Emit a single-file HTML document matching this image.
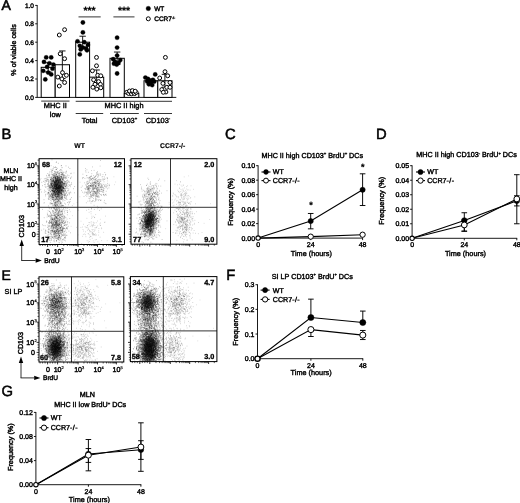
<!DOCTYPE html>
<html><head><meta charset="utf-8"><title>Figure</title>
<style>html,body{margin:0;padding:0;background:#fff}svg{display:block;filter:blur(0.35px)}text{text-rendering:geometricPrecision;font-family:'Liberation Sans', Arial, sans-serif;fill:#000}</style></head>
<body><svg width="520" height="503" viewBox="0 0 520 503">
<rect width="520" height="503" fill="#fff"/>
<text x="1.4" y="10.3" font-size="14" text-anchor="start" font-weight="normal" stroke="#000" stroke-width="0.6">A</text>
<line x1="37.2" y1="5.0" x2="37.2" y2="97.80000000000001" stroke="#000" stroke-width="0.9" stroke-linecap="butt"/>
<line x1="37.2" y1="97.4" x2="176.3" y2="97.4" stroke="#000" stroke-width="0.9" stroke-linecap="butt"/>
<line x1="35.2" y1="97.4" x2="37.2" y2="97.4" stroke="#000" stroke-width="0.9" stroke-linecap="butt"/>
<text x="34.0" y="99.7" font-size="6.5" text-anchor="end" font-weight="normal" stroke="#000" stroke-width="0.4">0.0</text>
<line x1="35.2" y1="79.0" x2="37.2" y2="79.0" stroke="#000" stroke-width="0.9" stroke-linecap="butt"/>
<text x="34.0" y="81.3" font-size="6.5" text-anchor="end" font-weight="normal" stroke="#000" stroke-width="0.4">0.2</text>
<line x1="35.2" y1="60.6" x2="37.2" y2="60.6" stroke="#000" stroke-width="0.9" stroke-linecap="butt"/>
<text x="34.0" y="62.9" font-size="6.5" text-anchor="end" font-weight="normal" stroke="#000" stroke-width="0.4">0.4</text>
<line x1="35.2" y1="42.20000000000001" x2="37.2" y2="42.20000000000001" stroke="#000" stroke-width="0.9" stroke-linecap="butt"/>
<text x="34.0" y="44.50000000000001" font-size="6.5" text-anchor="end" font-weight="normal" stroke="#000" stroke-width="0.4">0.6</text>
<line x1="35.2" y1="23.799999999999997" x2="37.2" y2="23.799999999999997" stroke="#000" stroke-width="0.9" stroke-linecap="butt"/>
<text x="34.0" y="26.099999999999998" font-size="6.5" text-anchor="end" font-weight="normal" stroke="#000" stroke-width="0.4">0.8</text>
<line x1="35.2" y1="5.400000000000006" x2="37.2" y2="5.400000000000006" stroke="#000" stroke-width="0.9" stroke-linecap="butt"/>
<text x="34.0" y="7.7000000000000055" font-size="6.5" text-anchor="end" font-weight="normal" stroke="#000" stroke-width="0.4">1.0</text>
<text x="15.9" y="50" font-size="7.2" text-anchor="middle" font-weight="normal" stroke="#000" stroke-width="0.4" transform="rotate(-90 15.9 50)">% of viable cells</text>
<rect x="41.2" y="67.32" width="14.0" height="30.08" fill="#fff" stroke="#000" stroke-width="1"/>
<line x1="48.2" y1="62.71600000000001" x2="48.2" y2="71.916" stroke="#000" stroke-width="0.9" stroke-linecap="butt"/>
<line x1="45.0" y1="62.71600000000001" x2="51.400000000000006" y2="62.71600000000001" stroke="#000" stroke-width="0.9" stroke-linecap="butt"/>
<line x1="45.0" y1="71.916" x2="51.400000000000006" y2="71.916" stroke="#000" stroke-width="0.9" stroke-linecap="butt"/>
<circle cx="46.20" cy="57.40" r="2.15" fill="#000" stroke="#000" stroke-width="0.3"/>
<circle cx="51.20" cy="57.40" r="2.15" fill="#000" stroke="#000" stroke-width="0.3"/>
<circle cx="44.00" cy="61.90" r="2.15" fill="#000" stroke="#000" stroke-width="0.3"/>
<circle cx="49.40" cy="63.30" r="2.15" fill="#000" stroke="#000" stroke-width="0.3"/>
<circle cx="53.40" cy="64.60" r="2.15" fill="#000" stroke="#000" stroke-width="0.3"/>
<circle cx="47.10" cy="66.90" r="2.15" fill="#000" stroke="#000" stroke-width="0.3"/>
<circle cx="52.50" cy="68.70" r="2.15" fill="#000" stroke="#000" stroke-width="0.3"/>
<circle cx="43.20" cy="70.80" r="2.15" fill="#000" stroke="#000" stroke-width="0.3"/>
<circle cx="48.20" cy="72.60" r="2.15" fill="#000" stroke="#000" stroke-width="0.3"/>
<circle cx="51.20" cy="74.40" r="2.15" fill="#000" stroke="#000" stroke-width="0.3"/>
<circle cx="45.30" cy="79.40" r="2.15" fill="#000" stroke="#000" stroke-width="0.3"/>
<rect x="55.2" y="64.74" width="14.299999999999997" height="32.66" fill="#fff" stroke="#000" stroke-width="1"/>
<line x1="62.35" y1="50.940000000000005" x2="62.35" y2="78.54" stroke="#000" stroke-width="0.9" stroke-linecap="butt"/>
<line x1="59.15" y1="50.940000000000005" x2="65.55" y2="50.940000000000005" stroke="#000" stroke-width="0.9" stroke-linecap="butt"/>
<line x1="59.15" y1="78.54" x2="65.55" y2="78.54" stroke="#000" stroke-width="0.9" stroke-linecap="butt"/>
<circle cx="64.60" cy="29.70" r="1.95" fill="#fff" stroke="#000" stroke-width="1.0"/>
<circle cx="59.30" cy="35.00" r="1.95" fill="#fff" stroke="#000" stroke-width="1.0"/>
<circle cx="60.20" cy="53.80" r="1.95" fill="#fff" stroke="#000" stroke-width="1.0"/>
<circle cx="64.60" cy="58.70" r="1.95" fill="#fff" stroke="#000" stroke-width="1.0"/>
<circle cx="62.50" cy="72.60" r="1.95" fill="#fff" stroke="#000" stroke-width="1.0"/>
<circle cx="66.40" cy="75.30" r="1.95" fill="#fff" stroke="#000" stroke-width="1.0"/>
<circle cx="57.80" cy="77.10" r="1.95" fill="#fff" stroke="#000" stroke-width="1.0"/>
<circle cx="61.90" cy="78.90" r="1.95" fill="#fff" stroke="#000" stroke-width="1.0"/>
<circle cx="64.60" cy="82.50" r="1.95" fill="#fff" stroke="#000" stroke-width="1.0"/>
<circle cx="59.30" cy="86.00" r="1.95" fill="#fff" stroke="#000" stroke-width="1.0"/>
<rect x="75.7" y="42.20" width="13.899999999999991" height="55.20" fill="#fff" stroke="#000" stroke-width="1"/>
<line x1="82.65" y1="36.22" x2="82.65" y2="48.180000000000014" stroke="#000" stroke-width="0.9" stroke-linecap="butt"/>
<line x1="79.45" y1="36.22" x2="85.85000000000001" y2="36.22" stroke="#000" stroke-width="0.9" stroke-linecap="butt"/>
<line x1="79.45" y1="48.180000000000014" x2="85.85000000000001" y2="48.180000000000014" stroke="#000" stroke-width="0.9" stroke-linecap="butt"/>
<circle cx="82.90" cy="22.50" r="2.15" fill="#000" stroke="#000" stroke-width="0.3"/>
<circle cx="82.90" cy="32.40" r="2.15" fill="#000" stroke="#000" stroke-width="0.3"/>
<circle cx="77.50" cy="41.30" r="2.15" fill="#000" stroke="#000" stroke-width="0.3"/>
<circle cx="84.30" cy="42.20" r="2.15" fill="#000" stroke="#000" stroke-width="0.3"/>
<circle cx="87.90" cy="44.90" r="2.15" fill="#000" stroke="#000" stroke-width="0.3"/>
<circle cx="79.80" cy="45.80" r="2.15" fill="#000" stroke="#000" stroke-width="0.3"/>
<circle cx="82.90" cy="47.60" r="2.15" fill="#000" stroke="#000" stroke-width="0.3"/>
<circle cx="86.10" cy="48.50" r="2.15" fill="#000" stroke="#000" stroke-width="0.3"/>
<circle cx="80.70" cy="49.40" r="2.15" fill="#000" stroke="#000" stroke-width="0.3"/>
<circle cx="87.00" cy="50.30" r="2.15" fill="#000" stroke="#000" stroke-width="0.3"/>
<circle cx="79.80" cy="54.40" r="2.15" fill="#000" stroke="#000" stroke-width="0.3"/>
<rect x="89.6" y="77.16" width="14.100000000000009" height="20.24" fill="#fff" stroke="#000" stroke-width="1"/>
<line x1="96.65" y1="69.98400000000001" x2="96.65" y2="84.336" stroke="#000" stroke-width="0.9" stroke-linecap="butt"/>
<line x1="93.45" y1="69.98400000000001" x2="99.85000000000001" y2="69.98400000000001" stroke="#000" stroke-width="0.9" stroke-linecap="butt"/>
<line x1="93.45" y1="84.336" x2="99.85000000000001" y2="84.336" stroke="#000" stroke-width="0.9" stroke-linecap="butt"/>
<circle cx="96.50" cy="57.40" r="1.95" fill="#fff" stroke="#000" stroke-width="1.0"/>
<circle cx="96.50" cy="65.80" r="1.95" fill="#fff" stroke="#000" stroke-width="1.0"/>
<circle cx="92.40" cy="70.80" r="1.95" fill="#fff" stroke="#000" stroke-width="1.0"/>
<circle cx="97.70" cy="75.30" r="1.95" fill="#fff" stroke="#000" stroke-width="1.0"/>
<circle cx="100.80" cy="75.80" r="1.95" fill="#fff" stroke="#000" stroke-width="1.0"/>
<circle cx="93.60" cy="79.80" r="1.95" fill="#fff" stroke="#000" stroke-width="1.0"/>
<circle cx="98.60" cy="81.60" r="1.95" fill="#fff" stroke="#000" stroke-width="1.0"/>
<circle cx="95.00" cy="84.30" r="1.95" fill="#fff" stroke="#000" stroke-width="1.0"/>
<circle cx="100.40" cy="84.30" r="1.95" fill="#fff" stroke="#000" stroke-width="1.0"/>
<circle cx="92.90" cy="87.30" r="1.95" fill="#fff" stroke="#000" stroke-width="1.0"/>
<circle cx="96.80" cy="89.10" r="1.95" fill="#fff" stroke="#000" stroke-width="1.0"/>
<circle cx="100.80" cy="87.80" r="1.95" fill="#fff" stroke="#000" stroke-width="1.0"/>
<rect x="110" y="58.30" width="14.299999999999997" height="39.10" fill="#fff" stroke="#000" stroke-width="1"/>
<line x1="117.15" y1="52.044000000000004" x2="117.15" y2="64.55600000000001" stroke="#000" stroke-width="0.9" stroke-linecap="butt"/>
<line x1="113.95" y1="52.044000000000004" x2="120.35000000000001" y2="52.044000000000004" stroke="#000" stroke-width="0.9" stroke-linecap="butt"/>
<line x1="113.95" y1="64.55600000000001" x2="120.35000000000001" y2="64.55600000000001" stroke="#000" stroke-width="0.9" stroke-linecap="butt"/>
<circle cx="117.10" cy="37.70" r="2.15" fill="#000" stroke="#000" stroke-width="0.3"/>
<circle cx="117.10" cy="47.60" r="2.15" fill="#000" stroke="#000" stroke-width="0.3"/>
<circle cx="117.10" cy="55.60" r="2.15" fill="#000" stroke="#000" stroke-width="0.3"/>
<circle cx="113.20" cy="59.20" r="2.15" fill="#000" stroke="#000" stroke-width="0.3"/>
<circle cx="120.30" cy="60.10" r="2.15" fill="#000" stroke="#000" stroke-width="0.3"/>
<circle cx="115.00" cy="61.90" r="2.15" fill="#000" stroke="#000" stroke-width="0.3"/>
<circle cx="118.50" cy="62.80" r="2.15" fill="#000" stroke="#000" stroke-width="0.3"/>
<circle cx="116.70" cy="64.60" r="2.15" fill="#000" stroke="#000" stroke-width="0.3"/>
<circle cx="114.00" cy="63.70" r="2.15" fill="#000" stroke="#000" stroke-width="0.3"/>
<circle cx="117.10" cy="73.50" r="2.15" fill="#000" stroke="#000" stroke-width="0.3"/>
<rect x="124.3" y="93.26" width="14.500000000000014" height="4.14" fill="#fff" stroke="#000" stroke-width="1"/>
<line x1="131.55" y1="92.156" x2="131.55" y2="94.364" stroke="#000" stroke-width="0.9" stroke-linecap="butt"/>
<line x1="128.35000000000002" y1="92.156" x2="134.75" y2="92.156" stroke="#000" stroke-width="0.9" stroke-linecap="butt"/>
<line x1="128.35000000000002" y1="94.364" x2="134.75" y2="94.364" stroke="#000" stroke-width="0.9" stroke-linecap="butt"/>
<circle cx="126.80" cy="92.30" r="1.95" fill="#fff" stroke="#000" stroke-width="1.0"/>
<circle cx="128.60" cy="93.50" r="1.95" fill="#fff" stroke="#000" stroke-width="1.0"/>
<circle cx="130.20" cy="91.80" r="1.95" fill="#fff" stroke="#000" stroke-width="1.0"/>
<circle cx="131.50" cy="93.80" r="1.95" fill="#fff" stroke="#000" stroke-width="1.0"/>
<circle cx="133.00" cy="92.00" r="1.95" fill="#fff" stroke="#000" stroke-width="1.0"/>
<circle cx="134.60" cy="93.60" r="1.95" fill="#fff" stroke="#000" stroke-width="1.0"/>
<circle cx="136.20" cy="92.50" r="1.95" fill="#fff" stroke="#000" stroke-width="1.0"/>
<circle cx="129.50" cy="91.00" r="1.95" fill="#fff" stroke="#000" stroke-width="1.0"/>
<circle cx="132.40" cy="90.60" r="1.95" fill="#fff" stroke="#000" stroke-width="1.0"/>
<circle cx="135.20" cy="91.20" r="1.95" fill="#fff" stroke="#000" stroke-width="1.0"/>
<rect x="144" y="80.75" width="13.800000000000011" height="16.65" fill="#fff" stroke="#000" stroke-width="1"/>
<line x1="150.9" y1="79.09200000000001" x2="150.9" y2="82.40400000000001" stroke="#000" stroke-width="0.9" stroke-linecap="butt"/>
<line x1="147.70000000000002" y1="79.09200000000001" x2="154.1" y2="79.09200000000001" stroke="#000" stroke-width="0.9" stroke-linecap="butt"/>
<line x1="147.70000000000002" y1="82.40400000000001" x2="154.1" y2="82.40400000000001" stroke="#000" stroke-width="0.9" stroke-linecap="butt"/>
<circle cx="145.40" cy="77.60" r="2.15" fill="#000" stroke="#000" stroke-width="0.3"/>
<circle cx="155.20" cy="74.40" r="2.15" fill="#000" stroke="#000" stroke-width="0.3"/>
<circle cx="148.00" cy="78.90" r="2.15" fill="#000" stroke="#000" stroke-width="0.3"/>
<circle cx="149.80" cy="80.70" r="2.15" fill="#000" stroke="#000" stroke-width="0.3"/>
<circle cx="152.90" cy="79.80" r="2.15" fill="#000" stroke="#000" stroke-width="0.3"/>
<circle cx="147.20" cy="81.60" r="2.15" fill="#000" stroke="#000" stroke-width="0.3"/>
<circle cx="150.70" cy="82.50" r="2.15" fill="#000" stroke="#000" stroke-width="0.3"/>
<circle cx="154.30" cy="81.60" r="2.15" fill="#000" stroke="#000" stroke-width="0.3"/>
<circle cx="148.90" cy="84.30" r="2.15" fill="#000" stroke="#000" stroke-width="0.3"/>
<circle cx="152.20" cy="85.10" r="2.15" fill="#000" stroke="#000" stroke-width="0.3"/>
<rect x="157.8" y="80.75" width="14.199999999999989" height="16.65" fill="#fff" stroke="#000" stroke-width="1"/>
<line x1="164.9" y1="74.308" x2="164.9" y2="87.188" stroke="#000" stroke-width="0.9" stroke-linecap="butt"/>
<line x1="161.70000000000002" y1="74.308" x2="168.1" y2="74.308" stroke="#000" stroke-width="0.9" stroke-linecap="butt"/>
<line x1="161.70000000000002" y1="87.188" x2="168.1" y2="87.188" stroke="#000" stroke-width="0.9" stroke-linecap="butt"/>
<circle cx="165.40" cy="57.40" r="1.95" fill="#fff" stroke="#000" stroke-width="1.0"/>
<circle cx="165.00" cy="71.70" r="1.95" fill="#fff" stroke="#000" stroke-width="1.0"/>
<circle cx="159.70" cy="78.00" r="1.95" fill="#fff" stroke="#000" stroke-width="1.0"/>
<circle cx="167.70" cy="75.80" r="1.95" fill="#fff" stroke="#000" stroke-width="1.0"/>
<circle cx="170.00" cy="82.50" r="1.95" fill="#fff" stroke="#000" stroke-width="1.0"/>
<circle cx="162.90" cy="83.40" r="1.95" fill="#fff" stroke="#000" stroke-width="1.0"/>
<circle cx="166.80" cy="87.30" r="1.95" fill="#fff" stroke="#000" stroke-width="1.0"/>
<circle cx="170.00" cy="87.30" r="1.95" fill="#fff" stroke="#000" stroke-width="1.0"/>
<circle cx="161.80" cy="89.60" r="1.95" fill="#fff" stroke="#000" stroke-width="1.0"/>
<circle cx="165.90" cy="92.00" r="1.95" fill="#fff" stroke="#000" stroke-width="1.0"/>
<circle cx="163.30" cy="92.30" r="1.95" fill="#fff" stroke="#000" stroke-width="1.0"/>
<line x1="41.2" y1="101.1" x2="69.5" y2="101.1" stroke="#000" stroke-width="0.8" stroke-linecap="butt"/>
<text x="55.3" y="108.4" font-size="7.4" text-anchor="middle" font-weight="normal" stroke="#000" stroke-width="0.4">MHC II</text>
<text x="55.3" y="117.2" font-size="7.4" text-anchor="middle" font-weight="normal" stroke="#000" stroke-width="0.4">low</text>
<line x1="75.7" y1="101.3" x2="172" y2="101.3" stroke="#000" stroke-width="0.8" stroke-linecap="butt"/>
<text x="124" y="108.4" font-size="7.4" text-anchor="middle" font-weight="normal" stroke="#000" stroke-width="0.4">MHC II high</text>
<line x1="75.7" y1="113.5" x2="103.2" y2="113.5" stroke="#000" stroke-width="0.8" stroke-linecap="butt"/>
<text x="89.5" y="122.5" font-size="7.4" text-anchor="middle" font-weight="normal" stroke="#000" stroke-width="0.4">Total</text>
<line x1="110" y1="113.5" x2="138.8" y2="113.5" stroke="#000" stroke-width="0.8" stroke-linecap="butt"/>
<text x="124.4" y="122.5" font-size="7.4" text-anchor="middle" font-weight="normal" stroke="#000" stroke-width="0.4">CD103<tspan dy="-2.2" font-size="4.2">+</tspan><tspan dy="2.2" font-size="4.2">&#8203;</tspan></text>
<line x1="144" y1="113.5" x2="172" y2="113.5" stroke="#000" stroke-width="0.8" stroke-linecap="butt"/>
<text x="158" y="122.5" font-size="7.4" text-anchor="middle" font-weight="normal" stroke="#000" stroke-width="0.4">CD103<tspan dy="-2.2" font-size="4.2">-</tspan><tspan dy="2.2" font-size="4.2">&#8203;</tspan></text>
<line x1="78.5" y1="16.9" x2="100.7" y2="16.9" stroke="#000" stroke-width="0.8" stroke-linecap="butt"/>
<text x="89.6" y="14.3" font-size="10.4" text-anchor="middle" font-weight="bold" stroke="#000" stroke-width="0.2">***</text>
<line x1="113.4" y1="16.9" x2="134.5" y2="16.9" stroke="#000" stroke-width="0.8" stroke-linecap="butt"/>
<text x="124" y="14.3" font-size="10.4" text-anchor="middle" font-weight="bold" stroke="#000" stroke-width="0.2">***</text>
<circle cx="148.30" cy="8.50" r="2.3" fill="#000" stroke="#000" stroke-width="0.3"/>
<text x="154.2" y="10.9" font-size="6.5" text-anchor="start" font-weight="normal" stroke="#000" stroke-width="0.4">WT</text>
<circle cx="148.30" cy="18.80" r="2.0" fill="#fff" stroke="#000" stroke-width="1.0"/>
<text x="154.2" y="21.2" font-size="6.5" text-anchor="start" font-weight="normal" stroke="#000" stroke-width="0.4">CCR7<tspan dy="-2.4" font-size="3.6">-/-</tspan><tspan dy="2.4" font-size="3.6">&#8203;</tspan></text>
<defs><filter id="bl" filterUnits="userSpaceOnUse" x="0" y="0" width="520" height="503"><feGaussianBlur stdDeviation="0.32"/></filter></defs>
<g filter="url(#bl)">
<path transform="scale(.1)" d="m398 1899h0m4-101h0m16 25h0m-10 71h0m7 26h0m27 106h0m-2-29h0m3-76h0m4-19h0m-22-45h0m19-12h0m-10-31h0m9-26h0m25-114h0m-3 80h0m4 16h0m-11 14h0m4 3h0m10 11h0m0 0h0m-6 4h0m-9 1h0m-7 7h0m12 0h0m5 6h0m-17 7h0m4 19h0m20 5h0m-23 15h0m11 7h0m-5 4h0m1 43h0m15 16h0m-1 11h0m-17 1h0m-1 15h0m37 196h0m-7-96h0m1-64h0m11-2h0m-13-7h0m6-4h0m9-9h0m-10-1h0m9-4h0m-7-3h0m9-8h0m0-1h0m-4-14h0m-3-2h0m-3-1h0m-3-5h0m-4-6h0m1-1h0m0-3h0m3 0h0m6-2h0m0-14h0m-3-5h0m2 0h0m3-6h0m-14-4h0m11-8h0m-4-6h0m9-4h0m3-4h0m-1-1h0m-2-1h0m0-1h0m-9-3h0m-12-1h0m8-2h0m9-6h0m-4 0h0m-1-5h0m7 0h0m-12-6h0m3-8h0m-7-2h0m9-7h0m3-2h0m-10-14h0m4 0h0m4-2h0m10 0h0m-18-13h0m2-1h0m-5-17h0m14-5h0m3-18h0m-7-1h0m5-4h0m-5-3h0m8-6h0m-17-7h0m19-15h0m-11-53h0m34-69h0m-9 59h0m-1 36h0m10 10h0m-1 6h0m-7 6h0m10 13h0m-9 1h0m10 16h0m-11 1h0m12 8h0m-12 10h0m11 5h0m-13 7h0m4 0h0m-5 3h0m2 2h0m7 1h0m5 1h0m-3 3h0m-17 4h0m11 0h0m-3 4h0m8 0h0m-15 1h0m3 1h0m14 0h0m-16 0h0m16 5h0m1 1h0m-14 1h0m11 1h0m-6 3h0m7 0h0m-3 2h0m-13 2h0m9 3h0m7 0h0m2 2h0m-3 0h0m4 0h0m-14 4h0m1 2h0m14 1h0m-8 4h0m-1 0h0m-10 2h0m10 2h0m4 2h0m1 0h0m-15 1h0m17 0h0m-5 1h0m-11 1h0m13 0h0m3 1h0m-1 1h0m-5 1h0m0 1h0m-6 1h0m-1 0h0m2 1h0m3 1h0m-4 0h0m7 2h0m-9 1h0m4 1h0m3 1h0m3 1h0m5 1h0m-3 0h0m-14 1h0m6 1h0m8 1h0m4 0h0m-11 0h0m2 0h0m-3 1h0m-11 2h0m6 1h0m8 0h0m6 3h0m-21 1h0m20 1h0m1 0h0m3 1h0m-18 2h0m16 0h0m2 0h0m-16 2h0m12 1h0m-3 0h0m0 0h0m6 1h0m-11 4h0m-3 0h0m1 1h0m-10 1h0m8 1h0m7 0h0m6 2h0m-12 1h0m-3 0h0m18 1h0m-7 1h0m-16 2h0m17 1h0m4 2h0m-22 0h0m3 3h0m15 7h0m4 2h0m-15 0h0m17 0h0m-11 1h0m-2 2h0m8 1h0m3 2h0m2 1h0m-2 0h0m-6 2h0m4 0h0m3 1h0m-2 2h0m-18 3h0m6 4h0m-3 0h0m13 4h0m-16 0h0m12 12h0m7 0h0m0 1h0m-9 4h0m10 1h0m-2 0h0m-8 1h0m-1 1h0m-2 1h0m0 2h0m14 0h0m-9 2h0m8 5h0m-2 4h0m1 2h0m-14 0h0m-5 3h0m13 1h0m-10 1h0m10 1h0m1 3h0m-9 1h0m15 6h0m-12 3h0m9 0h0m-4 4h0m6 1h0m2 10h0m-5 0h0m-15 11h0m9 8h0m-4 19h0m8 5h0m1 2h0m-3 50h0m24-7h0m-6-6h0m-6-14h0m15-11h0m-14-8h0m20 0h0m-22-7h0m13-2h0m10-4h0m-9-8h0m-5-5h0m0-6h0m7-3h0m3-2h0m-2-4h0m-9-4h0m-6-1h0m9 0h0m-10-1h0m16-3h0m-12 0h0m0-9h0m3-1h0m5-2h0m-9 0h0m12-2h0m-11-1h0m-2 0h0m8-1h0m12-2h0m-23 0h0m2-2h0m6 0h0m-1-3h0m-8-1h0m2-3h0m18-1h0m-14-2h0m-5-2h0m11-2h0m-12 0h0m21-1h0m0-1h0m-18-1h0m21 0h0m-18-1h0m1 0h0m16-1h0m-12-2h0m7-2h0m-5 0h0m-8-1h0m-3-2h0m18 0h0m-16-2h0m16 0h0m-12 0h0m5-2h0m4 0h0m-8-3h0m4-1h0m-3-1h0m10 0h0m-7-1h0m7-3h0m-8-1h0m5-2h0m2-2h0m-3 0h0m-14-2h0m22-1h0m0-2h0m-12 0h0m7 0h0m1 0h0m-6 0h0m3 0h0m5-1h0m-13 0h0m10 0h0m-7-1h0m9 0h0m-19 0h0m19 0h0m-11 0h0m5-1h0m-12-1h0m20 0h0m-8 0h0m9 0h0m-11-1h0m-2 0h0m8 0h0m-12-1h0m-3 0h0m12-2h0m-1 0h0m-11 0h0m2-1h0m12 0h0m-6-1h0m10-2h0m-2-1h0m0-1h0m-18 0h0m1-1h0m5 0h0m14 0h0m-17-1h0m9 0h0m7-1h0m-11 0h0m-6-1h0m15 0h0m-6-1h0m-13 0h0m14-3h0m-11-1h0m15 0h0m3-3h0m-13-1h0m4-1h0m12-1h0m0 0h0m-11 0h0m-6-1h0m3-1h0m0-2h0m1 0h0m-6 0h0m1-2h0m13 0h0m0 0h0m-13 0h0m10 0h0m-1 0h0m-13-1h0m19 0h0m1-1h0m-14-1h0m-3-1h0m0 0h0m0-1h0m-3 0h0m16 0h0m-3-1h0m4-1h0m-1-1h0m-5-1h0m0-1h0m0 0h0m0 0h0m-1-1h0m10 0h0m-20-1h0m22-1h0m-12 0h0m10-2h0m-21 0h0m16-1h0m-1 0h0m4 0h0m-18-1h0m19-1h0m1-1h0m-3 0h0m4-1h0m-16-1h0m-2 0h0m19-2h0m-4 0h0m-10-1h0m-6 0h0m16-1h0m-3 0h0m0 0h0m7 0h0m-10 0h0m-2-1h0m5-1h0m6-1h0m-19 0h0m18 0h0m-20-1h0m1 0h0m8-2h0m9 0h0m2-1h0m2-1h0m-18 0h0m17-1h0m1 0h0m-1-1h0m-12 0h0m0 0h0m2-1h0m8-1h0m3 0h0m-9-2h0m4-1h0m-7 0h0m-12 0h0m24 0h0m-1 0h0m-2 0h0m-8 0h0m2-2h0m2-1h0m-3-2h0m-3 0h0m12-1h0m-16-1h0m-1 0h0m13-2h0m-1 0h0m-18-2h0m24 0h0m-13-1h0m12-1h0m-3-1h0m2 0h0m-9 0h0m1-1h0m2 0h0m7 0h0m0-1h0m-6-1h0m-14-1h0m18 0h0m-3-2h0m2 0h0m-2-1h0m-2 0h0m-2 0h0m7-1h0m-21-1h0m22 0h0m-1-1h0m-14 0h0m11-2h0m4-1h0m-8-1h0m4 0h0m-5-1h0m8 0h0m-16-3h0m4 0h0m3 0h0m2-1h0m-14 0h0m23 0h0m-11-2h0m4-1h0m-2-1h0m1 0h0m-10 0h0m19 0h0m-10-1h0m-5-2h0m2 0h0m0-1h0m-11 0h0m11-2h0m-4-1h0m-3-1h0m7-4h0m12-1h0m-8 0h0m-6-2h0m0-1h0m15-3h0m-24-2h0m12-1h0m1-4h0m-10-1h0m14-1h0m-3-1h0m10-1h0m-15-2h0m3-2h0m-2 0h0m13-2h0m-7-1h0m6-2h0m-9 0h0m-6-1h0m13-2h0m2-2h0m-12-5h0m-3 0h0m11-5h0m-4-1h0m8-1h0m-12-1h0m13 0h0m-9-4h0m-11-3h0m11-2h0m6-5h0m3 0h0m-10-3h0m7-16h0m1-5h0m-18-8h0m-1-16h0m7-2h0m10-13h0m-9-5h0m31-51h0m-4 5h0m-6 47h0m-2 1h0m13 4h0m5 9h0m-6 10h0m0 0h0m-8 1h0m14 17h0m-18 5h0m4 3h0m12 0h0m-18 4h0m20 3h0m-8 1h0m-10 6h0m13 6h0m1 2h0m-8 0h0m2 2h0m-3 1h0m5 3h0m-1 1h0m-9 7h0m18 2h0m-5 1h0m-11 0h0m3 1h0m10 1h0m5 0h0m-5 1h0m2 2h0m-13 2h0m0 0h0m14 0h0m-22 2h0m19 0h0m5 0h0m-19 2h0m13 0h0m-16 2h0m6 1h0m-3 2h0m-1 1h0m-1 1h0m3 1h0m9 0h0m-15 0h0m3 1h0m20 0h0m-8 0h0m9 0h0m-1 1h0m-21 1h0m7 1h0m-4 1h0m5 0h0m11 1h0m-17 1h0m16 0h0m1 1h0m-15 0h0m4 1h0m8 1h0m-18 0h0m9 0h0m8 0h0m-13 2h0m17 2h0m-19 1h0m18 3h0m-3 0h0m-10 0h0m10 0h0m6 0h0m-16 1h0m8 1h0m7 0h0m-4 0h0m-8 0h0m-5 0h0m13 1h0m2 0h0m3 1h0m-10 0h0m-6 2h0m-5 1h0m8 1h0m7 0h0m-16 1h0m18 0h0m-14 0h0m3 1h0m8 0h0m6 0h0m2 1h0m-6 0h0m-9 0h0m-1 0h0m6 1h0m3 0h0m6 0h0m-17 0h0m15 1h0m-7 0h0m4 0h0m-17 1h0m18 0h0m-4 1h0m-15 0h0m13 1h0m10 1h0m-7 0h0m-1 1h0m-6 1h0m-2 0h0m3 0h0m-10 0h0m17 1h0m-5 0h0m-5 1h0m-7 0h0m5 1h0m6 1h0m7 0h0m-16 0h0m2 0h0m16 0h0m-10 0h0m5 0h0m1 1h0m3 1h0m-17 1h0m1 0h0m8 1h0m-5 0h0m-1 1h0m-2 0h0m10 0h0m-12 0h0m14 0h0m-15 1h0m19 1h0m-12 0h0m15 0h0m0 1h0m-2 1h0m-9 1h0m-6 0h0m14 0h0m2 0h0m-20 1h0m8 0h0m9 1h0m2 2h0m1 0h0m-17 0h0m6 1h0m8 0h0m3 0h0m3 1h0m-11 0h0m-5 0h0m-5 0h0m21 0h0m-18 2h0m16 1h0m1 0h0m-5 0h0m-1 0h0m-1 0h0m-10 1h0m-2 0h0m4 1h0m-2 0h0m12 1h0m4 0h0m-16 0h0m2 1h0m7 0h0m-5 0h0m8 0h0m-8 1h0m-5 0h0m9 0h0m5 0h0m1 0h0m-15 1h0m11 1h0m2 0h0m-13 0h0m9 1h0m10 0h0m-9 0h0m5 1h0m-17 1h0m2 0h0m0 1h0m-5 1h0m18 0h0m0 0h0m2 0h0m-9 1h0m5 0h0m5 0h0m1 0h0m-2 0h0m-11 1h0m13 0h0m-21 0h0m23 0h0m-20 0h0m6 1h0m4 0h0m-4 1h0m7 0h0m-1 0h0m5 1h0m-10 1h0m7 0h0m-6 0h0m2 0h0m1 1h0m-1 0h0m-12 1h0m-1 0h0m4 1h0m5 0h0m1 0h0m-4 0h0m-2 1h0m9 0h0m2 0h0m-1 0h0m3 1h0m-12 0h0m-5 0h0m0 1h0m5 0h0m2 0h0m-1 2h0m2 0h0m11 1h0m-16 0h0m10 0h0m5 0h0m-11 1h0m9 0h0m3 0h0m-8 1h0m-12 0h0m11 0h0m5 1h0m7 0h0m-5 0h0m-7 1h0m4 0h0m8 1h0m-13 0h0m6 0h0m-3 1h0m3 0h0m-12 1h0m13 0h0m-5 1h0m-9 0h0m21 0h0m-10 1h0m6 0h0m-3 1h0m1 0h0m-3 1h0m-5 0h0m7 1h0m-16 0h0m0 1h0m18 0h0m-4 0h0m-7 1h0m-1 0h0m4 0h0m13 0h0m-11 0h0m-8 1h0m4 0h0m1 0h0m14 0h0m-5 0h0m-2 0h0m-12 1h0m9 0h0m9 1h0m-8 0h0m-12 0h0m17 1h0m-10 0h0m-3 1h0m17 0h0m-6 0h0m5 1h0m-20 0h0m-1 0h0m15 0h0m2 1h0m-12 0h0m-1 0h0m-2 1h0m4 0h0m4 0h0m12 0h0m-10 0h0m-2 1h0m9 1h0m-4 0h0m-11 0h0m4 1h0m1 0h0m4 0h0m-11 0h0m8 1h0m-11 1h0m17 0h0m-2 1h0m2 1h0m-5 0h0m-5 1h0m9 0h0m-10 1h0m2 1h0m2 0h0m10 0h0m-17 1h0m16 1h0m-12 0h0m-1 0h0m8 0h0m9 0h0m-5 1h0m-16 0h0m5 1h0m-5 1h0m0 2h0m15 0h0m-12 1h0m14 0h0m4 1h0m-12 2h0m10 1h0m-13 0h0m-4 0h0m-1 0h0m6 1h0m-6 1h0m11 0h0m6 0h0m-20 1h0m22 0h0m-4 2h0m-2 0h0m-7 1h0m4 0h0m5 1h0m-5 0h0m3 1h0m-6 0h0m9 1h0m-7 0h0m4 0h0m-1 2h0m1 1h0m-7 2h0m14 1h0m-17 1h0m0 0h0m0 1h0m-3 0h0m14 0h0m-4 1h0m-8 1h0m-5 1h0m13 0h0m-6 0h0m4 0h0m-6 2h0m11 0h0m5 1h0m-3 1h0m5 1h0m-24 0h0m8 1h0m11 0h0m-15 2h0m14 1h0m-8 1h0m-5 0h0m-5 0h0m11 1h0m-4 1h0m-4 1h0m10 0h0m-7 1h0m18 0h0m-6 1h0m-15 0h0m15 1h0m-11 1h0m6 0h0m-8 1h0m8 1h0m11 0h0m-20 1h0m10 0h0m-11 1h0m20 2h0m-18 0h0m13 3h0m-17 2h0m23 0h0m-3 0h0m-18 2h0m15 2h0m-16 0h0m3 0h0m-2 0h0m21 2h0m-1 0h0m-3 1h0m-20 1h0m14 0h0m-9 0h0m17 0h0m-2 0h0m-10 1h0m13 1h0m-2 2h0m-3 1h0m-14 0h0m9 1h0m-4 0h0m6 3h0m2 1h0m2 3h0m1 0h0m-10 3h0m3 4h0m-2 0h0m-11 1h0m19 4h0m-11 0h0m6 1h0m-10 0h0m4 5h0m1 0h0m-5 1h0m20 0h0m-11 1h0m-7 1h0m13 2h0m-17 12h0m19 1h0m-4 1h0m-7 1h0m14 1h0m-1 2h0m-14 2h0m-9 0h0m21 1h0m-19 4h0m0 5h0m20 6h0m-4 3h0m4 6h0m2 1h0m-5 2h0m-15 11h0m3 1h0m-6 55h0m25-18h0m13-30h0m0-3h0m-10-12h0m7-15h0m8-7h0m-19-13h0m5-2h0m13-3h0m-5-5h0m3-2h0m-1-3h0m-9-2h0m1 0h0m1-2h0m3-1h0m-5-1h0m14-4h0m-3-1h0m-11-4h0m12-1h0m-6-6h0m-9-1h0m18 0h0m1 0h0m-2 0h0m-16-4h0m2 0h0m6-1h0m10-3h0m-14-1h0m3-3h0m12 0h0m-5-2h0m2-1h0m-11 0h0m-4-1h0m3-2h0m-3 0h0m8-3h0m-7 0h0m12-2h0m-6 0h0m11-3h0m-5-2h0m-6 0h0m3 0h0m9-1h0m-14 0h0m3 0h0m-7-1h0m7-1h0m-12-2h0m6-1h0m6-1h0m-12 0h0m22-1h0m-17 0h0m4-1h0m13 0h0m-12 0h0m1-1h0m-9 0h0m9 0h0m2-1h0m-7-1h0m15-1h0m-2 0h0m-2 0h0m-16-1h0m5 0h0m-1 0h0m17-1h0m-23 0h0m2-1h0m21-1h0m-12-2h0m-10 0h0m9-1h0m3 0h0m-4-1h0m-4 0h0m-2 0h0m14-1h0m-5 0h0m7-2h0m-2-1h0m-17 0h0m14-1h0m-13 0h0m12-2h0m3 0h0m3 0h0m-6 0h0m2 0h0m-15-1h0m12 0h0m3 0h0m-15-1h0m15 0h0m-3 0h0m2-2h0m-14 0h0m14 0h0m6-1h0m-9 0h0m10-1h0m-10 0h0m-2-1h0m-2 0h0m8 0h0m-8 0h0m2 0h0m9-1h0m5 0h0m-5 0h0m-7-1h0m1 0h0m12 0h0m-23-1h0m20-1h0m-5 0h0m-4-1h0m1 0h0m11 0h0m-22 0h0m11-1h0m-1-1h0m10 0h0m-5-1h0m-6-1h0m-11 0h0m4-2h0m15 0h0m-19 0h0m19-1h0m-18 0h0m1 0h0m13-1h0m-4 0h0m13 0h0m-6 0h0m-16 0h0m17 0h0m-12 0h0m3 0h0m5 0h0m8-2h0m0 0h0m-19-1h0m-1 0h0m-1 0h0m6 0h0m-6-1h0m16-1h0m-13 0h0m-2 0h0m-1 0h0m5-1h0m6 0h0m2-1h0m8 0h0m-4 0h0m1-1h0m-3 0h0m-16 0h0m4-1h0m10 0h0m-3 0h0m-12-2h0m21 0h0m-18-1h0m13 0h0m-1-1h0m4 0h0m-6-1h0m-4 0h0m-6 0h0m7-1h0m2 0h0m1 0h0m10-1h0m-12 0h0m-6-1h0m10-1h0m-6 0h0m10 0h0m-19 0h0m2 0h0m17-1h0m-8 0h0m-9 0h0m11 0h0m-7 0h0m16-1h0m-11 0h0m-1 0h0m1-1h0m2 0h0m-9 0h0m15-1h0m-14-1h0m-5 0h0m23 0h0m-5 0h0m-15 0h0m19 0h0m-2 0h0m-5 0h0m6 0h0m2 0h0m-19 0h0m11-1h0m-9-1h0m-4 0h0m12 0h0m-2-1h0m12 0h0m-6 0h0m-9 0h0m-4 0h0m4 0h0m9-1h0m-7 0h0m12 0h0m-5-1h0m-17 0h0m3-1h0m11-1h0m-3 0h0m-8 0h0m15 0h0m-13-1h0m11 0h0m-2 0h0m-13 0h0m4 0h0m7-1h0m-5 0h0m5 0h0m-7 0h0m-5 0h0m5 0h0m13-1h0m-18 0h0m17-1h0m-9 0h0m9 0h0m2-1h0m-18-1h0m17 0h0m2 0h0m-14 0h0m11 0h0m-7-1h0m3 0h0m-8 0h0m1 0h0m7 0h0m-1 0h0m-11 0h0m5-1h0m17 0h0m-13 0h0m10 0h0m-11 0h0m5-1h0m1 0h0m-6 0h0m-5-1h0m-4 0h0m8 0h0m3-1h0m8-1h0m-11-2h0m-8 0h0m9-1h0m9 0h0m2-1h0m-1 0h0m-12 0h0m4-1h0m-5 0h0m0-1h0m8 0h0m-12-1h0m17 0h0m-5-1h0m6-1h0m-3 0h0m-11 0h0m4-1h0m-9 0h0m15 0h0m-12 0h0m19 0h0m-5 0h0m1-1h0m-6 0h0m-4 0h0m9 0h0m-13 0h0m-1 0h0m13-1h0m1 0h0m5-1h0m-12 0h0m1-1h0m7-1h0m-19 0h0m4 0h0m-3-1h0m-1-1h0m21-1h0m-19 0h0m11 0h0m-14-1h0m12 0h0m-5-2h0m-1 0h0m-4 0h0m1 0h0m18-1h0m1 0h0m-17 0h0m3-1h0m6-1h0m-11-1h0m8 0h0m1 0h0m11-1h0m-14 0h0m-1-2h0m14 0h0m2 0h0m-6-3h0m-18 0h0m21 0h0m-14 0h0m3-1h0m11 0h0m-14-2h0m16 0h0m-13 0h0m-8 0h0m21-1h0m-17 0h0m-1 0h0m3-1h0m1-1h0m0-1h0m-5 0h0m12-1h0m-13 0h0m21-1h0m-9 0h0m1 0h0m-6-1h0m-4 0h0m4 0h0m-1-1h0m-4 0h0m15 0h0m-4-1h0m8 0h0m-19-1h0m18 0h0m-5-2h0m-17 0h0m10 0h0m-7-3h0m4 0h0m4-1h0m-1 0h0m5 0h0m-9 0h0m13 0h0m-10-1h0m1 0h0m4 0h0m-12-1h0m4-2h0m16 0h0m-20 0h0m18 0h0m-20-1h0m5-1h0m-2 0h0m0 0h0m3-1h0m16 0h0m-6 0h0m-17 0h0m15-2h0m5 0h0m-1 0h0m-11-1h0m0 0h0m1-1h0m15-1h0m-23-1h0m10 0h0m-2-1h0m15 0h0m-13 0h0m-6 0h0m5-1h0m-3-1h0m11 0h0m3 0h0m-16 0h0m-4-1h0m20-3h0m-5 0h0m2 0h0m-16 0h0m13-1h0m4-1h0m-19-1h0m20 0h0m-2-1h0m-13-2h0m0 0h0m8 0h0m2 0h0m-11 0h0m17-1h0m3-1h0m-21 0h0m3-1h0m5-1h0m4-5h0m-7-1h0m6 0h0m-14 0h0m18-1h0m0 0h0m-18-1h0m14-1h0m-1-1h0m-11 0h0m13 0h0m4-1h0m-8-1h0m5 0h0m-11-1h0m-5-1h0m5-3h0m1-4h0m15-1h0m-6 0h0m1-3h0m2-2h0m-10-4h0m14-11h0m1 0h0m-15-2h0m-1-2h0m9 0h0m-12-4h0m18-2h0m-1-2h0m-20-6h0m3-2h0m6-2h0m13-12h0m-15-74h0m31 22h0m-2 3h0m9 18h0m-15 19h0m9 4h0m-14 3h0m19 7h0m-14 12h0m12 2h0m-8 2h0m8 1h0m0 3h0m3 12h0m-2 0h0m3 1h0m-2 2h0m-2 0h0m-1 2h0m-15 1h0m11 13h0m6 1h0m-19 0h0m11 1h0m-10 1h0m17 1h0m-7 1h0m0 0h0m-7 4h0m4 1h0m7 0h0m4 3h0m-8 3h0m9 1h0m-3 2h0m3 0h0m-10 1h0m1 1h0m1 2h0m-8 1h0m17 4h0m-2 1h0m-12 0h0m-1 2h0m0 0h0m2 3h0m0 0h0m-6 1h0m4 1h0m-4 1h0m4 0h0m12 1h0m-17 3h0m3 2h0m4 1h0m-7 1h0m1 0h0m7 1h0m8 2h0m-12 2h0m14 0h0m-5 2h0m-14 0h0m18 1h0m4 0h0m-20 0h0m17 1h0m-7 1h0m0 0h0m1 0h0m-10 1h0m-2 1h0m23 1h0m-10 0h0m-13 0h0m5 1h0m17 2h0m-12 0h0m6 0h0m-12 1h0m-2 1h0m20 1h0m-17 1h0m7 0h0m-13 1h0m1 0h0m9 0h0m4 0h0m7 1h0m-20 0h0m13 1h0m-2 1h0m11 0h0m-10 0h0m-12 1h0m15 2h0m-10 0h0m6 2h0m-5 0h0m-3 1h0m-2 0h0m0 2h0m20 0h0m-15 2h0m-1 0h0m14 1h0m2 0h0m-9 1h0m-4 0h0m4 1h0m-8 1h0m9 0h0m-3 2h0m-5 1h0m12 1h0m-18 0h0m0 0h0m7 0h0m8 1h0m-6 0h0m15 1h0m-22 1h0m16 1h0m-11 1h0m5 2h0m3 0h0m-15 0h0m9 0h0m-6 0h0m3 1h0m15 1h0m-2 0h0m-3 2h0m-6 0h0m8 1h0m-17 0h0m14 0h0m-11 0h0m9 1h0m-9 0h0m17 1h0m-21 0h0m0 1h0m2 0h0m12 0h0m-6 0h0m0 0h0m-4 1h0m-3 0h0m16 0h0m0 0h0m-15 1h0m6 0h0m12 1h0m-8 0h0m1 0h0m-9 1h0m-1 0h0m-1 0h0m2 1h0m5 0h0m-8 1h0m1 0h0m7 1h0m2 1h0m-3 0h0m6 1h0m10 0h0m-9 1h0m-14 1h0m2 0h0m8 1h0m-8 1h0m21 0h0m-14 1h0m-4 0h0m10 1h0m-16 0h0m19 0h0m-14 0h0m2 0h0m2 0h0m-3 1h0m-6 0h0m15 0h0m6 1h0m-18 0h0m4 1h0m2 0h0m13 1h0m-18 1h0m19 0h0m-16 0h0m5 3h0m-8 1h0m10 0h0m-6 0h0m9 0h0m-9 1h0m14 0h0m-16 0h0m13 2h0m-16 1h0m-1 0h0m3 3h0m12 1h0m-8 1h0m-5 0h0m12 0h0m4 0h0m-3 1h0m-2 1h0m-8 0h0m5 1h0m-5 1h0m16 1h0m-12 0h0m-3 0h0m1 1h0m-6 0h0m8 1h0m3 0h0m-8 0h0m18 0h0m-10 0h0m7 0h0m-9 0h0m4 1h0m-2 1h0m-3 1h0m2 0h0m8 1h0m-7 0h0m-11 0h0m12 2h0m-15 0h0m12 1h0m10 1h0m-8 1h0m3 0h0m-13 1h0m3 0h0m-3 1h0m20 1h0m-23 2h0m16 0h0m-10 2h0m11 0h0m-3 1h0m-6 0h0m7 2h0m-9 0h0m-5 0h0m2 1h0m-2 3h0m0 1h0m9 0h0m4 1h0m-13 0h0m16 1h0m-5 2h0m-6 0h0m-1 1h0m-6 1h0m13 0h0m1 1h0m-7 0h0m8 0h0m3 0h0m-11 0h0m0 1h0m-7 1h0m14 1h0m6 2h0m-4 1h0m5 1h0m0 1h0m-6 2h0m1 1h0m-11 0h0m18 1h0m-16 3h0m-2 6h0m5 0h0m4 0h0m1 4h0m-15 2h0m20 2h0m-10 2h0m-8 1h0m12 1h0m-3 4h0m12 1h0m-10 2h0m6 1h0m-6 1h0m-12 1h0m17 0h0m-14 3h0m0 0h0m19 5h0m-23 1h0m6 1h0m6 1h0m11 0h0m-9 2h0m2 3h0m-10 2h0m8 0h0m-13 30h0m5 3h0m7 1h0m5 3h0m-13 1h0m-1 0h0m-3 9h0m12 0h0m7 12h0m-4 4h0m1 3h0m-11 53h0m6 45h0m17-148h0m20-6h0m-20-5h0m1-4h0m-3-11h0m1-7h0m17 0h0m4-4h0m-22-2h0m0 0h0m18-8h0m-18 0h0m0 0h0m-1-7h0m13 0h0m4-3h0m-1-2h0m-11-3h0m9-1h0m-14-2h0m14-3h0m2-8h0m-3-5h0m-6-1h0m7-1h0m-13-5h0m0 0h0m14-1h0m5-3h0m-13-1h0m1 0h0m-9 0h0m11-1h0m-8-4h0m11-2h0m-5-2h0m2-1h0m-8 0h0m0-2h0m17-1h0m-12 0h0m-8-2h0m7 0h0m-4-7h0m-1-1h0m8-2h0m9-1h0m-18 0h0m15-1h0m6-2h0m-15-1h0m16 0h0m0-1h0m-11-2h0m0 0h0m-10 0h0m7-1h0m1-1h0m5 0h0m-4-1h0m-7 0h0m0-2h0m7-1h0m-1 0h0m-1-2h0m0 0h0m-9 0h0m11 0h0m-8-1h0m-2-2h0m14-2h0m-4 0h0m13-5h0m-22 0h0m1 0h0m4-2h0m5-2h0m-10-2h0m5 0h0m-6 0h0m2 0h0m-1-1h0m19-2h0m-5-5h0m-5-1h0m1 0h0m0-1h0m4-2h0m-8-2h0m16-1h0m-24-1h0m18-2h0m-14 0h0m-3-1h0m15-1h0m-11-1h0m17 0h0m-15-1h0m5 0h0m-4-2h0m11 0h0m-5-1h0m7 0h0m-8-1h0m-6 0h0m13-1h0m-17-2h0m14-2h0m-15-1h0m-1-2h0m4-1h0m10-2h0m-14-1h0m-1-1h0m18 0h0m1-5h0m-15-5h0m5-3h0m8-1h0m-4-4h0m-11 0h0m-1-5h0m1-1h0m0-2h0m8 0h0m-8-2h0m8-3h0m-10-1h0m3-1h0m2-2h0m7-5h0m4 0h0m7-3h0m-13-1h0m-4-1h0m1-4h0m10-3h0m-7-3h0m8-6h0m-13-1h0m1-2h0m11-2h0m-2-2h0m-8-1h0m-2-2h0m10-4h0m-10-1h0m-1-4h0m-1-7h0m1-1h0m9-9h0m-8-3h0m30-62h0m3 52h0m1 8h0m-12 2h0m7 12h0m-6 25h0m17 2h0m-10 8h0m0 5h0m0 0h0m-9 5h0m0 1h0m16 6h0m-11 3h0m13 19h0m-4 4h0m-10 4h0m-4 1h0m8 4h0m13 4h0m-13 4h0m13 1h0m-18 1h0m16 6h0m-8 1h0m-9 0h0m7 2h0m7 4h0m-16 3h0m14 3h0m5 1h0m-2 4h0m-2 0h0m-16 1h0m4 2h0m-1 8h0m2 1h0m-3 0h0m12 2h0m-14 2h0m8 0h0m14 1h0m-8 12h0m-9 4h0m-1 11h0m-1 9h0m-1 0h0m1 2h0m-2 2h0m18 7h0m-11 1h0m6 11h0m3 0h0m-14 6h0m-3 3h0m0 7h0m7 4h0m-2 1h0m-5 3h0m18 1h0m-6 11h0m3 6h0m-15 1h0m8 11h0m-7 3h0m13 2h0m6 5h0m-16 47h0m31 7h0m-10-23h0m20-2h0m-6-5h0m-13-69h0m1 0h0m16-2h0m-3-13h0m5-3h0m-5-8h0m-14-17h0m8-2h0m4-14h0m-10-4h0m4-23h0m16-9h0m-8-8h0m2-23h0m-3-3h0m-1-8h0m-9-2h0m-3-9h0m7-26h0m7-18h0m-13-7h0m22-65h0m-14-13h0m26 60h0m-2 5h0m8 33h0m-11 9h0m1 7h0m8 42h0m2 14h0m-8 4h0m-9 10h0m3 11h0m1 54h0m10 55h0m-10 15h0m-4 4h0m2 21h0m42-88h0m-9-41h0m12-21h0" stroke="#000" stroke-opacity="0.45" stroke-width="6.2" stroke-linecap="round" fill="none"/>
<path transform="scale(.1)" d="m417 2302h0m30 107h0m-9-118h0m0-35h0m-13-8h0m17-71h0m31-45h0m1 15h0m-1 3h0m-2 20h0m-5 41h0m2 3h0m-2 9h0m-14 34h0m2 44h0m6 8h0m-5 1h0m-3 11h0m0 9h0m7 5h0m12 25h0m-18 4h0m14 10h0m8 48h0m16-19h0m6-1h0m1-17h0m-3-7h0m-13-5h0m3-4h0m11-3h0m-16-3h0m2-1h0m-1-14h0m9-8h0m-1-16h0m-4-1h0m4-2h0m-11-3h0m7 0h0m-3-18h0m9-6h0m-5-2h0m6-1h0m-5-11h0m-12-5h0m7-11h0m14 0h0m-12-4h0m9-6h0m-14-3h0m13-14h0m1-4h0m-5-2h0m-4-6h0m11-2h0m0-2h0m2-11h0m1 0h0m-2-1h0m3-45h0m-12 0h0m-4-1h0m7-11h0m6-37h0m2-2h0m-17-5h0m16-21h0m25-47h0m-11 49h0m13 16h0m-21 21h0m2 9h0m16 6h0m-6 1h0m1 9h0m4 4h0m-5 2h0m-7 1h0m2 5h0m0 6h0m-3 2h0m14 2h0m-1 5h0m-5 1h0m5 2h0m4 7h0m-19 0h0m7 0h0m4 2h0m8 1h0m-2 2h0m-14 0h0m9 2h0m7 0h0m-16 7h0m6 5h0m0 5h0m3 1h0m-16 1h0m13 5h0m2 4h0m-12 1h0m-1 1h0m11 1h0m2 2h0m-13 0h0m16 0h0m-19 3h0m21 0h0m0 3h0m-8 1h0m1 1h0m8 10h0m2 2h0m-4 0h0m1 3h0m0 3h0m-8 2h0m10 1h0m-21 2h0m12 0h0m-1 4h0m8 1h0m-5 1h0m-5 3h0m13 1h0m-7 7h0m0 2h0m-15 3h0m6 0h0m11 2h0m3 7h0m-2 0h0m-9 11h0m12 4h0m0 0h0m-21 1h0m19 1h0m-12 0h0m8 0h0m2 0h0m-6 4h0m10 5h0m-18 2h0m18 3h0m-5 2h0m-7 6h0m-5 3h0m-2 7h0m8 2h0m1 6h0m-1 4h0m-11 14h0m15 2h0m3 2h0m5 1h0m-24 1h0m21 6h0m-12 11h0m4 0h0m3 11h0m-6 6h0m-7 18h0m41-6h0m-8-8h0m11-7h0m-6-13h0m-8-5h0m15-6h0m-23-4h0m7-1h0m14-2h0m-15-4h0m11-1h0m3-3h0m1-6h0m-14-4h0m7-8h0m5-3h0m1 0h0m-6 0h0m-7 0h0m12-2h0m-10-3h0m14-3h0m-1-2h0m-10-4h0m6-1h0m-2-6h0m1-2h0m-11 0h0m12-1h0m-8-1h0m-2 0h0m-6 0h0m19-3h0m3-1h0m-9-2h0m7 0h0m-4-1h0m2-1h0m-16 0h0m16-2h0m-18-2h0m6-4h0m7-7h0m-13-3h0m7-1h0m13-3h0m-12-4h0m-1-1h0m13-2h0m-12-1h0m-2-1h0m-4-1h0m18-2h0m-14-1h0m9-1h0m-5-3h0m-6-1h0m16-1h0m-12-1h0m-5-3h0m-1-4h0m16-1h0m-14-3h0m16 0h0m-18 0h0m3 0h0m17-3h0m0 0h0m-18 0h0m-1-4h0m12 0h0m-2 0h0m5 0h0m-2-2h0m-5-1h0m4-1h0m-15-1h0m-2-2h0m10-3h0m2 0h0m6-1h0m-11 0h0m-1-1h0m-1-2h0m2-8h0m5-2h0m-10-1h0m7-2h0m13-2h0m-5 0h0m-4-2h0m8-2h0m-18-1h0m19-3h0m-19-2h0m7-3h0m-5-5h0m10-1h0m-14-1h0m10-1h0m10-1h0m-17-1h0m13-2h0m2-1h0m-18-1h0m2-1h0m8-2h0m6-1h0m-14 0h0m15 0h0m4-3h0m-6-3h0m3-5h0m-2-3h0m-15-18h0m5 0h0m1 0h0m15-1h0m-6-2h0m5-1h0m-2-5h0m-2-2h0m-6-13h0m9 0h0m-4-8h0m-15-3h0m8-6h0m0-5h0m-5-7h0m7-17h0m5 0h0m4-4h0m-15-7h0m43-87h0m-15 37h0m-9 2h0m1 20h0m7 6h0m14 8h0m0 31h0m-18 6h0m11 3h0m-2 1h0m1 13h0m-7 8h0m-1 1h0m18 6h0m-8 2h0m3 8h0m-7 1h0m-3 6h0m11 0h0m-20 3h0m2 3h0m17 7h0m-13 1h0m-6 0h0m1 0h0m5 1h0m11 1h0m-15 1h0m14 2h0m2 1h0m-1 3h0m-12 1h0m11 4h0m2 1h0m-1 0h0m0 1h0m-1 0h0m-2 0h0m-9 2h0m5 1h0m-7 1h0m15 3h0m-18 0h0m13 1h0m10 5h0m-17 5h0m12 4h0m-7 1h0m-6 1h0m5 1h0m-10 0h0m1 1h0m21 3h0m-1 0h0m0 1h0m-7 0h0m3 1h0m-9 1h0m-7 1h0m16 4h0m4 1h0m-6 1h0m-12 0h0m7 0h0m8 1h0m3 0h0m-11 2h0m1 2h0m6 0h0m1 0h0m-13 0h0m12 2h0m3 1h0m-10 1h0m-1 0h0m4 1h0m-11 0h0m3 0h0m-3 1h0m22 1h0m-24 1h0m15 2h0m-10 0h0m-1 0h0m4 2h0m12 0h0m-6 1h0m-2 1h0m10 0h0m2 2h0m-4 2h0m-13 0h0m-2 2h0m8 0h0m-2 0h0m2 0h0m11 1h0m-14 1h0m5 0h0m-13 0h0m-1 1h0m4 0h0m15 3h0m4 1h0m-14 2h0m10 0h0m-4 2h0m8 0h0m-6 3h0m-16 1h0m6 0h0m13 1h0m-10 1h0m3 0h0m-11 0h0m14 4h0m-5 1h0m-9 0h0m12 4h0m-10 1h0m11 0h0m-1 1h0m3 1h0m-12 0h0m16 3h0m-5 1h0m-12 2h0m-1 1h0m10 7h0m-9 0h0m8 1h0m-7 1h0m17 7h0m1 1h0m-2 1h0m-1 1h0m-7 1h0m-10 1h0m12 1h0m4 1h0m3 0h0m-8 1h0m-12 3h0m9 3h0m-11 1h0m12 1h0m0 1h0m-3 2h0m-4 1h0m11 1h0m-5 0h0m5 1h0m-3 2h0m-5 6h0m-5 0h0m-4 2h0m5 1h0m-2 1h0m0 1h0m-2 2h0m8 1h0m5 0h0m3 1h0m-5 1h0m11 1h0m-14 2h0m14 1h0m-15 7h0m1 2h0m9 3h0m1 2h0m-9 2h0m0 2h0m0 2h0m-5 2h0m14 3h0m-19 2h0m13 1h0m-9 2h0m4 4h0m12 4h0m-11 3h0m10 6h0m-16 1h0m11 1h0m2 18h0m1 1h0m-4 5h0m4 0h0m26 18h0m-3-6h0m2-20h0m-2-5h0m-8-3h0m0-1h0m-2 0h0m4-8h0m-6-2h0m-2-3h0m2 0h0m9-3h0m0 0h0m-5-2h0m14 0h0m-8-3h0m2-2h0m-5-1h0m5-1h0m7-6h0m-19-3h0m18 0h0m-11-1h0m6-2h0m3 0h0m-18-1h0m18-1h0m1-1h0m-1 0h0m-4-4h0m-3-5h0m-6-2h0m12-2h0m-8 0h0m11-6h0m-16 0h0m8 0h0m2-2h0m-4-2h0m-8-2h0m12-1h0m-2-1h0m1-2h0m-12 0h0m1-3h0m9-2h0m-10-4h0m4-1h0m11-1h0m-4 0h0m0 0h0m-4-1h0m9-1h0m-11-1h0m-7-1h0m16-2h0m0-3h0m-12 0h0m5-1h0m13 0h0m1-3h0m-22-2h0m15 0h0m-12-4h0m3-5h0m-3 0h0m9 0h0m-6-2h0m11-5h0m-15 0h0m12 0h0m-13-1h0m16-2h0m6-3h0m-12 0h0m-9-3h0m12-5h0m-11-2h0m16-2h0m-14-3h0m6-2h0m1 0h0m3 0h0m-11-3h0m-2-2h0m4-1h0m9 0h0m-2-1h0m-4-1h0m12-1h0m-11-2h0m-10 0h0m1 0h0m4-1h0m1 0h0m6-1h0m8 0h0m-1-1h0m1-1h0m-3 0h0m-4-3h0m8-1h0m0-2h0m-14-1h0m7-1h0m-8-1h0m12-3h0m-5-3h0m1 0h0m9-2h0m0-1h0m-21-3h0m13-4h0m6 0h0m-13-5h0m6-3h0m-12 0h0m14-3h0m3-1h0m-12 0h0m8-4h0m1-1h0m-17-2h0m13-1h0m5-4h0m1 0h0m3-3h0m-17-2h0m2-1h0m-4-1h0m2-2h0m1-1h0m13-6h0m-19 0h0m23-1h0m-20 0h0m3 0h0m14-7h0m4 0h0m-21-8h0m16-1h0m-1-3h0m-16 0h0m5-2h0m4 0h0m-6-1h0m1-2h0m8 0h0m-11-4h0m7-1h0m8-1h0m-18-1h0m24-8h0m-15-2h0m6 0h0m-6-6h0m-7-1h0m12-7h0m-4 0h0m7-3h0m-1 0h0m-11-1h0m2-2h0m1-7h0m-7-5h0m4-5h0m9-12h0m5-37h0m-8-21h0m-3-20h0m33 67h0m-7 15h0m9 17h0m-7 1h0m7 4h0m-5 0h0m9 3h0m-13 8h0m1 5h0m14 1h0m-6 9h0m-14 1h0m3 2h0m14 1h0m-6 1h0m-11 2h0m3 8h0m4 5h0m4 4h0m-15 8h0m7 2h0m2 1h0m-2 4h0m6 4h0m3 4h0m-7 0h0m-6 6h0m9 2h0m3 7h0m-13 1h0m12 4h0m1 4h0m-8 6h0m8 3h0m2 3h0m-8 1h0m14 0h0m-2 1h0m-14 5h0m1 2h0m16 3h0m-10 3h0m-6 3h0m1 2h0m8 5h0m-2 1h0m1 3h0m-9 3h0m0 1h0m10 6h0m-2 0h0m3 4h0m4 3h0m-2 0h0m-4 2h0m-11 0h0m-3 3h0m2 1h0m2 0h0m3 3h0m-5 3h0m14 0h0m-15 0h0m20 4h0m-20 1h0m4 4h0m17 0h0m-13 7h0m0 1h0m9 0h0m-15 2h0m10 1h0m-9 0h0m13 0h0m5 1h0m-14 1h0m7 1h0m-1 2h0m-7 1h0m-9 3h0m22 3h0m-12 4h0m13 0h0m-20 3h0m6 1h0m11 1h0m-10 1h0m-6 8h0m8 1h0m-1 1h0m-4 6h0m9 7h0m-1 2h0m-4 13h0m2 2h0m-11 7h0m-2 7h0m1 2h0m11 1h0m-11 4h0m4 5h0m19 9h0m-15 1h0m3 12h0m3 19h0m11-9h0m16-17h0m-15-11h0m11-1h0m0-4h0m11-1h0m-4-14h0m2-1h0m-15-16h0m-3 0h0m0-4h0m16 0h0m-17-1h0m13-5h0m-13-3h0m14-4h0m-8-1h0m-8-13h0m4-4h0m11-1h0m-11-6h0m19-2h0m-2 0h0m-21-5h0m1 0h0m2-6h0m0-1h0m-2-8h0m-1-2h0m8-2h0m4 0h0m6-3h0m-16-1h0m15-2h0m-3-1h0m-6-1h0m0 0h0m-6-3h0m0-5h0m6-13h0m12-5h0m0 0h0m1-5h0m0-12h0m-15 0h0m4-4h0m7-4h0m4-2h0m-19-2h0m16-4h0m-18-2h0m2 0h0m6-5h0m3-4h0m-11-1h0m6-1h0m0-5h0m12-3h0m-19-3h0m0-10h0m22-4h0m-12-1h0m14-5h0m-9-5h0m-11-3h0m-1-1h0m21-1h0m-3 0h0m-21-2h0m20-6h0m-14-1h0m0-1h0m-2-15h0m19-13h0m-6-21h0m-15-13h0m12-1h0m33-10h0m0 22h0m1 15h0m0 26h0m-14 28h0m11 14h0m-10 19h0m-5 10h0m0 2h0m18 3h0m-16 4h0m-2 18h0m12 2h0m0 2h0m-9 8h0m16 14h0m-9 3h0m3 7h0m3 2h0m-5 2h0m-8 2h0m-1 13h0m6 22h0m-9 17h0m16 13h0m-16 0h0m10 0h0m-8 14h0m-4 9h0m5 4h0m-2 29h0m34-98h0m-13-21h0m7-27h0m-7-21h0m17-14h0m-16-13h0m21-30h0m-22-60h0m28 203h0m78-226h0" stroke="#000" stroke-opacity="0.42" stroke-width="6.2" stroke-linecap="round" fill="none"/>
<path transform="scale(.1)" d="m425 2094h0m74 76h0m-9-92h0m-4-126h0m34-30h0m-14 29h0m0 34h0m15 12h0m-21 34h0m3 0h0m13 7h0m-14 3h0m11 33h0m-5 49h0m-5 27h0m32-10h0m4-10h0m-13-14h0m21-24h0m1-3h0m-4-15h0m-3-5h0m5-10h0m-7-3h0m-8-2h0m15-5h0m-5-4h0m8-5h0m-5-8h0m-8-26h0m8-14h0m22-5h0m8 9h0m-16 28h0m5 3h0m-3 5h0m-4 1h0m5 5h0m-6 7h0m9 4h0m3 1h0m-15 3h0m0 1h0m3 3h0m5 1h0m-3 2h0m3 4h0m5 2h0m7 4h0m-2 5h0m-4 5h0m2 4h0m-7 4h0m6 2h0m-12 1h0m9 5h0m-6 2h0m-7 2h0m8 2h0m-3 1h0m11 15h0m-7 4h0m-4 11h0m3 12h0m14 2h0m-17 27h0m32-21h0m-1-5h0m5-3h0m-17-11h0m14-1h0m-4-16h0m10-1h0m1-6h0m1-5h0m-6-3h0m3-2h0m1 0h0m-18-9h0m20-1h0m-15-5h0m14-3h0m-16-2h0m13-8h0m-5-9h0m0-3h0m-12-5h0m23-10h0m-20-7h0m9-13h0m11-10h0m-16-2h0m16-2h0m-7-18h0m-15-3h0m4-2h0m-6-29h0m39-17h0m3 33h0m-3 12h0m-6 3h0m-2 9h0m-1 18h0m1 18h0m18 18h0m-21 3h0m21 1h0m0 2h0m-13 5h0m-7 0h0m-4 38h0m20 1h0m-10 15h0m24 72h0m-9-55h0m2-14h0m-1-12h0m9-24h0m0-7h0m9-5h0m-13-11h0m2-5h0m0-2h0m11-23h0m2-80h0m6 119h0m3 10h0m4 21h0m35-5h0m-3-66h0m18-103h0m14 128h0" stroke="#000" stroke-opacity="0.38" stroke-width="6.2" stroke-linecap="round" fill="none"/>
<path transform="scale(.1)" d="m824 1786h0m-1 74h0m-11 13h0m2 33h0m26 59h0m1-34h0m-16-9h0m23-2h0m-1-92h0m2-44h0m-18-8h0m-1-1h0m-1-33h0m27-56h0m13 12h0m-14 10h0m5 13h0m9 34h0m-3 2h0m5 22h0m3 34h0m-5 6h0m2 2h0m-4 11h0m-1 17h0m-12 0h0m10 11h0m0 6h0m-1 8h0m8 4h0m-3 2h0m-17 6h0m0 1h0m18 7h0m-15 2h0m20 0h0m-5 24h0m-17 2h0m11 4h0m3 4h0m7 5h0m-5 8h0m-10 10h0m10 10h0m-5 65h0m25 66h0m-9-82h0m20-1h0m0-3h0m-1-18h0m-9-7h0m3-18h0m-11-16h0m-1-9h0m8-9h0m11 0h0m-5-2h0m-11-2h0m-8-1h0m16-9h0m-13-2h0m6-4h0m10-1h0m-5-4h0m-11-4h0m17-2h0m-10-3h0m13 0h0m-15-1h0m-4-2h0m5-5h0m3 0h0m0-1h0m-9-1h0m-3-1h0m24-1h0m-11-1h0m-3-2h0m-3-2h0m12 0h0m-9-2h0m7-1h0m-16-3h0m5-1h0m17-2h0m-23-5h0m1-1h0m10-1h0m-1-2h0m13-3h0m0-1h0m-10-2h0m-3-2h0m14 0h0m-24-9h0m2-9h0m8-1h0m-7-1h0m8-5h0m12-4h0m-2-6h0m-8-7h0m9-14h0m-7-10h0m0-5h0m9-4h0m-3-3h0m-15-1h0m14-3h0m-12-49h0m41-54h0m-10 37h0m4 31h0m-4 24h0m-3 0h0m-8 4h0m8 0h0m-8 9h0m21 9h0m-18 2h0m17 1h0m-10 0h0m-3 5h0m0 4h0m3 2h0m0 0h0m-12 6h0m-1 1h0m20 17h0m3 6h0m-2 4h0m3 2h0m-19 1h0m3 0h0m4 5h0m3 8h0m5 2h0m3 2h0m-16 1h0m-1 5h0m14 0h0m-11 1h0m-7 0h0m20 0h0m-18 1h0m0 0h0m10 1h0m-7 2h0m7 0h0m1 1h0m9 2h0m-24 2h0m23 7h0m-2 2h0m-21 6h0m8 2h0m15 3h0m1 12h0m-4 2h0m-5 7h0m-1 7h0m-12 2h0m20 4h0m-19 1h0m1 2h0m3 1h0m-2 17h0m2 0h0m7 1h0m-9 8h0m19 4h0m-11 0h0m5 2h0m-12 4h0m7 3h0m-1 1h0m-9 5h0m9 6h0m-12 7h0m24 24h0m-9 8h0m9 1h0m-14 15h0m5 53h0m-1 6h0m-4 27h0m33-23h0m-2-41h0m1-37h0m-10-11h0m3-19h0m-10-13h0m13-9h0m-1-9h0m-7-1h0m10-1h0m-12-4h0m12-4h0m-8-1h0m-6-3h0m15-2h0m-8-6h0m-8 0h0m15-1h0m-3-1h0m11-1h0m-4-7h0m-7-4h0m6-3h0m-3 0h0m2-1h0m-14 0h0m16-1h0m-2-3h0m-11-1h0m5-2h0m-3-12h0m-1-1h0m8 0h0m-14-3h0m12-4h0m4-1h0m-6-1h0m12-1h0m-21 0h0m10-3h0m4-1h0m6-1h0m-2-3h0m-13-2h0m1-2h0m1-9h0m4-2h0m11-2h0m-24 0h0m6-1h0m3-1h0m-4-4h0m0-1h0m9-2h0m0-3h0m-2-3h0m9-2h0m-6-2h0m-15-2h0m11-2h0m13 0h0m0-8h0m-3-2h0m1-1h0m-10-1h0m1-2h0m5-1h0m-2-1h0m5-2h0m-21-10h0m6-9h0m16-1h0m1-1h0m-10-6h0m-1-3h0m-12-7h0m11-1h0m8-6h0m-2-2h0m-6-17h0m5-52h0m24 24h0m3 4h0m1 14h0m4 0h0m-7 7h0m-12 7h0m4 3h0m-7 4h0m-1 3h0m16 15h0m-14 1h0m1 8h0m6 2h0m-5 4h0m16 6h0m-8 1h0m10 2h0m-4 3h0m-14 1h0m-1 6h0m20 4h0m-19 2h0m7 1h0m6 1h0m-6 3h0m-2 0h0m-2 2h0m-2 1h0m7 5h0m-9 3h0m17 2h0m-7 6h0m-5 6h0m-6 0h0m1 3h0m12 1h0m-13 0h0m1 2h0m2 2h0m6 2h0m-6 2h0m8 1h0m-5 5h0m-5 0h0m15 5h0m4 1h0m-14 1h0m14 1h0m-22 2h0m12 1h0m-1 2h0m7 1h0m-8 1h0m2 9h0m2 0h0m8 1h0m-5 2h0m6 0h0m-2 9h0m-2 4h0m-14 2h0m14 4h0m0 1h0m-1 0h0m-11 1h0m3 0h0m12 4h0m-20 0h0m1 4h0m9 2h0m6 1h0m-12 0h0m1 1h0m4 1h0m-5 3h0m16 2h0m-5 2h0m-4 2h0m5 0h0m-18 6h0m11 2h0m-7 3h0m19 2h0m-10 0h0m4 6h0m4 0h0m-10 0h0m12 3h0m-14 1h0m0 2h0m15 2h0m-20 11h0m5 1h0m2 8h0m-4 7h0m0 3h0m10 0h0m-12 10h0m18 53h0m23 41h0m-11-28h0m1-70h0m-6-9h0m12-1h0m-2-21h0m-11-6h0m6-2h0m7-4h0m-8-7h0m-4-15h0m16-2h0m-16-4h0m14-3h0m-10-7h0m-3-5h0m-6-2h0m16-1h0m8-3h0m-23 0h0m15-4h0m0-1h0m1-1h0m-16-3h0m0-1h0m10-1h0m6-1h0m3-9h0m-6-1h0m-1 0h0m-10 0h0m6-1h0m-6-1h0m12-11h0m-13-2h0m15 0h0m-13-2h0m2-4h0m0-3h0m14-6h0m-7-3h0m7-3h0m-13-1h0m4-1h0m-4 0h0m2-2h0m9-8h0m-1-1h0m-10-1h0m-4-3h0m8 0h0m4-1h0m2 0h0m-16-4h0m12-1h0m-3-1h0m9-7h0m-2-1h0m-11-9h0m18-1h0m-24 0h0m7-1h0m-5-1h0m13-7h0m-11-9h0m8-2h0m8 0h0m-17-21h0m1-6h0m8-8h0m-5-6h0m6-10h0m-7-2h0m-5-12h0m-1-13h0m30-111h0m-4 56h0m0 77h0m6 5h0m-5 12h0m19 14h0m-12 26h0m-1 5h0m1 11h0m-6 2h0m-2 22h0m18 6h0m-15 0h0m9 2h0m10 11h0m-5 0h0m-2 2h0m-10 6h0m9 3h0m-4 2h0m11 5h0m-16 1h0m4 1h0m-2 4h0m2 0h0m5 2h0m0 15h0m3 1h0m-6 1h0m-8 2h0m20 10h0m-9 4h0m-6 2h0m14 4h0m-10 25h0m-8 2h0m9 9h0m-3 46h0m-7 2h0m3 0h0m5 85h0m29-65h0m3-19h0m0-48h0m-8-6h0m-2-3h0m-1-3h0m5-17h0m-9-5h0m5-12h0m4-2h0m-5-3h0m5-7h0m-12-5h0m10-4h0m5-4h0m-15-9h0m9-1h0m-10-8h0m18-5h0m2-5h0m-11-13h0m6-26h0m-9-15h0m9-9h0m7 0h0m-21-3h0m7-1h0m12-20h0m-16-4h0m1-20h0m18-21h0m9 19h0m-2 6h0m16 28h0m2 2h0m-23 7h0m24 47h0m-23 10h0m18 4h0m-9 9h0m13 0h0m-13 9h0m-10 1h0m18 2h0m-8 9h0m2 35h0m-2 29h0m-5 2h0m-4 3h0m11 7h0m-10 79h0m8 4h0m15-149h0m14-9h0m2-21h0m4-4h0m-4-11h0m-16-56h0" stroke="#000" stroke-opacity="0.4" stroke-width="6.2" stroke-linecap="round" fill="none"/>
<path transform="scale(.1)" d="m765 2274h0m44 0h0m8 162h0m10-73h0m6-19h0m3-33h0m-6-16h0m-4-25h0m9-27h0m29-140h0m5 80h0m4 74h0m1 0h0m-23 10h0m17 7h0m-8 3h0m-6 41h0m2 29h0m3 20h0m12 40h0m12 20h0m11-12h0m-12-4h0m15-35h0m1-28h0m-14-10h0m-3-1h0m18-17h0m-1-12h0m-4-1h0m-18-5h0m13-8h0m-4-5h0m-6-11h0m10-31h0m10-20h0m-9-2h0m1-102h0m20 15h0m8 24h0m2 11h0m-4 11h0m-5 33h0m7 40h0m-17 6h0m21 5h0m-3 28h0m-12 17h0m3 5h0m10 11h0m1 7h0m1 13h0m-22 13h0m9 3h0m-3 1h0m15 17h0m-21 11h0m40 30h0m-9-15h0m8-58h0m0-1h0m0-3h0m-13 0h0m15-2h0m-5-5h0m0-4h0m-12-4h0m0-9h0m14-6h0m4-8h0m-16-9h0m12-5h0m10-17h0m-21-19h0m4-3h0m17-1h0m-20-5h0m4-5h0m7-12h0m0-6h0m-8-5h0m15-46h0m-2-1h0m-7-12h0m19-17h0m5 81h0m3 44h0m2 6h0m-9 1h0m-7 22h0m3 39h0m8 9h0m-3 8h0m6 39h0m-13 3h0m40 37h0m-13-17h0m7-67h0m2-27h0m-1-16h0m2-23h0m-12-26h0m21-19h0m-23-30h0m0-122h0m30 142h0m-2 24h0m0 1h0m12 24h0m2 8h0m-16 85h0m16 34h0m20-83h0m8-99h0m9-63h0m-4 60h0" stroke="#000" stroke-opacity="0.3" stroke-width="6.2" stroke-linecap="round" fill="none"/>
<path transform="scale(.1)" d="m410 1785h0m30 249h0m32-151h0m16-113h0m6-3h0m44 413h0m-12-473h0m66 260h0m27-289h0m2 470h0m25-32h0m27-9h0m30 10h0m8 146h0m15-106h0m13-118h0m1-310h0m31 296h0m1 61h0m10 263h0m17-381h0m2-146h0m9 390h0m35 128h0m67-109h0m1 18h0m90-56h0m71-383h0m-2 597h0m74-560h0m-7-79h0m18 52h0" stroke="#000" stroke-opacity="0.25" stroke-width="6.2" stroke-linecap="round" fill="none"/>
</g>
<rect x="39.1" y="158.7" width="85.4" height="85.80000000000001" fill="none" stroke="#000" stroke-width="1"/>
<line x1="77.8" y1="158.7" x2="77.8" y2="244.5" stroke="#000" stroke-width="0.8" stroke-linecap="butt"/>
<line x1="39.1" y1="207.3" x2="124.5" y2="207.3" stroke="#000" stroke-width="0.8" stroke-linecap="butt"/>
<text x="41.9" y="166.89999999999998" font-size="7.3" text-anchor="start" font-weight="bold" stroke="#000" stroke-width="0.3">68</text>
<text x="121.9" y="166.89999999999998" font-size="7.3" text-anchor="end" font-weight="bold" stroke="#000" stroke-width="0.3">12</text>
<text x="41.199999999999996" y="242.1" font-size="7.3" text-anchor="start" font-weight="bold" stroke="#000" stroke-width="0.3">17</text>
<text x="121.9" y="242.1" font-size="7.3" text-anchor="end" font-weight="bold" stroke="#000" stroke-width="0.3">3.1</text>
<line x1="36.7" y1="165.8" x2="39.1" y2="165.8" stroke="#000" stroke-width="0.8" stroke-linecap="butt"/>
<text x="34.800000000000004" y="168.3" font-size="7.1" text-anchor="end" font-weight="normal" stroke="#000" stroke-width="0.4">10</text>
<text x="35.0" y="165.20000000000002" font-size="4.0" text-anchor="start" font-weight="normal" stroke="#000" stroke-width="0.2">5</text>
<line x1="36.7" y1="184.6" x2="39.1" y2="184.6" stroke="#000" stroke-width="0.8" stroke-linecap="butt"/>
<text x="34.800000000000004" y="187.1" font-size="7.1" text-anchor="end" font-weight="normal" stroke="#000" stroke-width="0.4">10</text>
<text x="35.0" y="184.0" font-size="4.0" text-anchor="start" font-weight="normal" stroke="#000" stroke-width="0.2">4</text>
<line x1="36.7" y1="204.0" x2="39.1" y2="204.0" stroke="#000" stroke-width="0.8" stroke-linecap="butt"/>
<text x="34.800000000000004" y="206.5" font-size="7.1" text-anchor="end" font-weight="normal" stroke="#000" stroke-width="0.4">10</text>
<text x="35.0" y="203.4" font-size="4.0" text-anchor="start" font-weight="normal" stroke="#000" stroke-width="0.2">3</text>
<line x1="36.7" y1="224.2" x2="39.1" y2="224.2" stroke="#000" stroke-width="0.8" stroke-linecap="butt"/>
<text x="34.800000000000004" y="226.7" font-size="7.1" text-anchor="end" font-weight="normal" stroke="#000" stroke-width="0.4">10</text>
<text x="35.0" y="223.6" font-size="4.0" text-anchor="start" font-weight="normal" stroke="#000" stroke-width="0.2">2</text>
<line x1="36.7" y1="234.2" x2="39.1" y2="234.2" stroke="#000" stroke-width="0.8" stroke-linecap="butt"/>
<text x="35.6" y="236.7" font-size="7.1" text-anchor="end" font-weight="normal" stroke="#000" stroke-width="0.4">0</text>
<line x1="47.6" y1="244.5" x2="47.6" y2="246.9" stroke="#000" stroke-width="0.8" stroke-linecap="butt"/>
<text x="48.1" y="254.3" font-size="7.1" text-anchor="middle" font-weight="normal" stroke="#000" stroke-width="0.4">0</text>
<line x1="57.6" y1="244.5" x2="57.6" y2="246.9" stroke="#000" stroke-width="0.8" stroke-linecap="butt"/>
<text x="57.6" y="254.3" font-size="7.1" text-anchor="middle" font-weight="normal" stroke="#000" stroke-width="0.4">10</text>
<text x="61.6" y="251.2" font-size="4.0" text-anchor="start" font-weight="normal" stroke="#000" stroke-width="0.2">2</text>
<line x1="78.1" y1="244.5" x2="78.1" y2="246.9" stroke="#000" stroke-width="0.8" stroke-linecap="butt"/>
<text x="78.1" y="254.3" font-size="7.1" text-anchor="middle" font-weight="normal" stroke="#000" stroke-width="0.4">10</text>
<text x="82.1" y="251.2" font-size="4.0" text-anchor="start" font-weight="normal" stroke="#000" stroke-width="0.2">3</text>
<line x1="97.5" y1="244.5" x2="97.5" y2="246.9" stroke="#000" stroke-width="0.8" stroke-linecap="butt"/>
<text x="97.5" y="254.3" font-size="7.1" text-anchor="middle" font-weight="normal" stroke="#000" stroke-width="0.4">10</text>
<text x="101.5" y="251.2" font-size="4.0" text-anchor="start" font-weight="normal" stroke="#000" stroke-width="0.2">4</text>
<line x1="116.4" y1="244.5" x2="116.4" y2="246.9" stroke="#000" stroke-width="0.8" stroke-linecap="butt"/>
<text x="116.4" y="254.3" font-size="7.1" text-anchor="middle" font-weight="normal" stroke="#000" stroke-width="0.4">10</text>
<text x="120.4" y="251.2" font-size="4.0" text-anchor="start" font-weight="normal" stroke="#000" stroke-width="0.2">5</text>
<line x1="37.6" y1="178.94063608151714" x2="39.1" y2="178.94063608151714" stroke="#000" stroke-width="0.65" stroke-linecap="butt"/>
<line x1="37.6" y1="175.63012041127035" x2="39.1" y2="175.63012041127035" stroke="#000" stroke-width="0.65" stroke-linecap="butt"/>
<line x1="37.6" y1="173.28127216303432" x2="39.1" y2="173.28127216303432" stroke="#000" stroke-width="0.65" stroke-linecap="butt"/>
<line x1="37.6" y1="171.45936391848286" x2="39.1" y2="171.45936391848286" stroke="#000" stroke-width="0.65" stroke-linecap="butt"/>
<line x1="37.6" y1="169.9707564927875" x2="39.1" y2="169.9707564927875" stroke="#000" stroke-width="0.65" stroke-linecap="butt"/>
<line x1="37.6" y1="168.712156847732" x2="39.1" y2="168.712156847732" stroke="#000" stroke-width="0.65" stroke-linecap="butt"/>
<line x1="37.6" y1="167.62190824455146" x2="39.1" y2="167.62190824455146" stroke="#000" stroke-width="0.65" stroke-linecap="butt"/>
<line x1="37.6" y1="166.66024082254071" x2="39.1" y2="166.66024082254071" stroke="#000" stroke-width="0.65" stroke-linecap="butt"/>
<line x1="37.6" y1="198.16001808411878" x2="39.1" y2="198.16001808411878" stroke="#000" stroke-width="0.65" stroke-linecap="butt"/>
<line x1="37.6" y1="194.74384765843854" x2="39.1" y2="194.74384765843854" stroke="#000" stroke-width="0.65" stroke-linecap="butt"/>
<line x1="37.6" y1="192.32003616823752" x2="39.1" y2="192.32003616823752" stroke="#000" stroke-width="0.65" stroke-linecap="butt"/>
<line x1="37.6" y1="190.43998191588122" x2="39.1" y2="190.43998191588122" stroke="#000" stroke-width="0.65" stroke-linecap="butt"/>
<line x1="37.6" y1="188.90386574255731" x2="39.1" y2="188.90386574255731" stroke="#000" stroke-width="0.65" stroke-linecap="butt"/>
<line x1="37.6" y1="187.60509802372343" x2="39.1" y2="187.60509802372343" stroke="#000" stroke-width="0.65" stroke-linecap="butt"/>
<line x1="37.6" y1="186.4800542523563" x2="39.1" y2="186.4800542523563" stroke="#000" stroke-width="0.65" stroke-linecap="butt"/>
<line x1="37.6" y1="185.48769531687708" x2="39.1" y2="185.48769531687708" stroke="#000" stroke-width="0.65" stroke-linecap="butt"/>
<line x1="37.6" y1="218.11919408758757" x2="39.1" y2="218.11919408758757" stroke="#000" stroke-width="0.65" stroke-linecap="butt"/>
<line x1="37.6" y1="214.56215065466282" x2="39.1" y2="214.56215065466282" stroke="#000" stroke-width="0.65" stroke-linecap="butt"/>
<line x1="37.6" y1="212.03838817517516" x2="39.1" y2="212.03838817517516" stroke="#000" stroke-width="0.65" stroke-linecap="butt"/>
<line x1="37.6" y1="210.08080591241242" x2="39.1" y2="210.08080591241242" stroke="#000" stroke-width="0.65" stroke-linecap="butt"/>
<line x1="37.6" y1="208.4813447422504" x2="39.1" y2="208.4813447422504" stroke="#000" stroke-width="0.65" stroke-linecap="butt"/>
<line x1="37.6" y1="207.12901959171202" x2="39.1" y2="207.12901959171202" stroke="#000" stroke-width="0.65" stroke-linecap="butt"/>
<line x1="37.6" y1="205.95758226276274" x2="39.1" y2="205.95758226276274" stroke="#000" stroke-width="0.65" stroke-linecap="butt"/>
<line x1="37.6" y1="204.92430130932564" x2="39.1" y2="204.92430130932564" stroke="#000" stroke-width="0.65" stroke-linecap="butt"/>
<line x1="37.6" y1="160.14063608151716" x2="39.1" y2="160.14063608151716" stroke="#000" stroke-width="0.65" stroke-linecap="butt"/>
<line x1="37.6" y1="226.7" x2="39.1" y2="226.7" stroke="#000" stroke-width="0.65" stroke-linecap="butt"/>
<line x1="37.6" y1="229.2" x2="39.1" y2="229.2" stroke="#000" stroke-width="0.65" stroke-linecap="butt"/>
<line x1="37.6" y1="231.7" x2="39.1" y2="231.7" stroke="#000" stroke-width="0.65" stroke-linecap="butt"/>
<line x1="37.6" y1="236.7" x2="39.1" y2="236.7" stroke="#000" stroke-width="0.65" stroke-linecap="butt"/>
<line x1="37.6" y1="239.2" x2="39.1" y2="239.2" stroke="#000" stroke-width="0.65" stroke-linecap="butt"/>
<line x1="37.6" y1="241.7" x2="39.1" y2="241.7" stroke="#000" stroke-width="0.65" stroke-linecap="butt"/>
<line x1="63.77111491111161" y1="244.5" x2="63.77111491111161" y2="246.0" stroke="#000" stroke-width="0.65" stroke-linecap="butt"/>
<line x1="67.38098572175308" y1="244.5" x2="67.38098572175308" y2="246.0" stroke="#000" stroke-width="0.65" stroke-linecap="butt"/>
<line x1="69.94222982222323" y1="244.5" x2="69.94222982222323" y2="246.0" stroke="#000" stroke-width="0.65" stroke-linecap="butt"/>
<line x1="71.92888508888838" y1="244.5" x2="71.92888508888838" y2="246.0" stroke="#000" stroke-width="0.65" stroke-linecap="butt"/>
<line x1="73.5521006328647" y1="244.5" x2="73.5521006328647" y2="246.0" stroke="#000" stroke-width="0.65" stroke-linecap="butt"/>
<line x1="74.92450982029226" y1="244.5" x2="74.92450982029226" y2="246.0" stroke="#000" stroke-width="0.65" stroke-linecap="butt"/>
<line x1="76.11334473333484" y1="244.5" x2="76.11334473333484" y2="246.0" stroke="#000" stroke-width="0.65" stroke-linecap="butt"/>
<line x1="77.16197144350616" y1="244.5" x2="77.16197144350616" y2="246.0" stroke="#000" stroke-width="0.65" stroke-linecap="butt"/>
<line x1="83.93998191588123" y1="244.5" x2="83.93998191588123" y2="246.0" stroke="#000" stroke-width="0.65" stroke-linecap="butt"/>
<line x1="87.35615234156145" y1="244.5" x2="87.35615234156145" y2="246.0" stroke="#000" stroke-width="0.65" stroke-linecap="butt"/>
<line x1="89.77996383176247" y1="244.5" x2="89.77996383176247" y2="246.0" stroke="#000" stroke-width="0.65" stroke-linecap="butt"/>
<line x1="91.66001808411876" y1="244.5" x2="91.66001808411876" y2="246.0" stroke="#000" stroke-width="0.65" stroke-linecap="butt"/>
<line x1="93.19613425744268" y1="244.5" x2="93.19613425744268" y2="246.0" stroke="#000" stroke-width="0.65" stroke-linecap="butt"/>
<line x1="94.49490197627658" y1="244.5" x2="94.49490197627658" y2="246.0" stroke="#000" stroke-width="0.65" stroke-linecap="butt"/>
<line x1="95.6199457476437" y1="244.5" x2="95.6199457476437" y2="246.0" stroke="#000" stroke-width="0.65" stroke-linecap="butt"/>
<line x1="96.6123046831229" y1="244.5" x2="96.6123046831229" y2="246.0" stroke="#000" stroke-width="0.65" stroke-linecap="butt"/>
<line x1="103.18946691804925" y1="244.5" x2="103.18946691804925" y2="246.0" stroke="#000" stroke-width="0.65" stroke-linecap="butt"/>
<line x1="106.51759171420163" y1="244.5" x2="106.51759171420163" y2="246.0" stroke="#000" stroke-width="0.65" stroke-linecap="butt"/>
<line x1="108.8789338360985" y1="244.5" x2="108.8789338360985" y2="246.0" stroke="#000" stroke-width="0.65" stroke-linecap="butt"/>
<line x1="110.71053308195076" y1="244.5" x2="110.71053308195076" y2="246.0" stroke="#000" stroke-width="0.65" stroke-linecap="butt"/>
<line x1="112.20705863225086" y1="244.5" x2="112.20705863225086" y2="246.0" stroke="#000" stroke-width="0.65" stroke-linecap="butt"/>
<line x1="113.47235295626946" y1="244.5" x2="113.47235295626946" y2="246.0" stroke="#000" stroke-width="0.65" stroke-linecap="butt"/>
<line x1="114.56840075414775" y1="244.5" x2="114.56840075414775" y2="246.0" stroke="#000" stroke-width="0.65" stroke-linecap="butt"/>
<line x1="115.53518342840324" y1="244.5" x2="115.53518342840324" y2="246.0" stroke="#000" stroke-width="0.65" stroke-linecap="butt"/>
<line x1="122.08946691804925" y1="244.5" x2="122.08946691804925" y2="246.0" stroke="#000" stroke-width="0.65" stroke-linecap="butt"/>
<line x1="50.1" y1="244.5" x2="50.1" y2="246.0" stroke="#000" stroke-width="0.65" stroke-linecap="butt"/>
<line x1="52.6" y1="244.5" x2="52.6" y2="246.0" stroke="#000" stroke-width="0.65" stroke-linecap="butt"/>
<line x1="55.1" y1="244.5" x2="55.1" y2="246.0" stroke="#000" stroke-width="0.65" stroke-linecap="butt"/>
<line x1="45.1" y1="244.5" x2="45.1" y2="246.0" stroke="#000" stroke-width="0.65" stroke-linecap="butt"/>
<line x1="42.6" y1="244.5" x2="42.6" y2="246.0" stroke="#000" stroke-width="0.65" stroke-linecap="butt"/>
<line x1="40.1" y1="244.5" x2="40.1" y2="246.0" stroke="#000" stroke-width="0.65" stroke-linecap="butt"/>
<text x="79.6" y="148" font-size="6.9" text-anchor="middle" font-weight="bold" stroke="#000" stroke-width="0.15">WT</text>
<text x="11" y="172.8" font-size="7.1" text-anchor="middle" font-weight="normal" stroke="#000" stroke-width="0.4">MLN</text>
<text x="11" y="181.4" font-size="7.1" text-anchor="middle" font-weight="normal" stroke="#000" stroke-width="0.4">MHC II</text>
<text x="11" y="190.4" font-size="7.1" text-anchor="middle" font-weight="normal" stroke="#000" stroke-width="0.4">high</text>
<g filter="url(#bl)">
<path transform="scale(.1)" d="m1371 1962h0m11 114h0m5-3h0m3-51h0m1-5h0m13-171h0m12 25h0m0 13h0m3 10h0m2 17h0m-13 100h0m13 33h0m-10 6h0m-2 0h0m3 35h0m0 21h0m29 60h0m5-31h0m-13-58h0m12-16h0m-6-40h0m0-20h0m-8-2h0m10-1h0m-7-12h0m0-10h0m12-5h0m-20-1h0m13-2h0m-13-7h0m17-2h0m3-3h0m-18-7h0m14-1h0m3 0h0m-5-9h0m5-28h0m-9-8h0m37-62h0m-9 13h0m2 0h0m8 33h0m-7 0h0m5 9h0m-9 8h0m-13 11h0m21 4h0m-6 0h0m-15 3h0m24 10h0m-12 3h0m-1 3h0m-8 9h0m12 1h0m-15 8h0m16 7h0m-10 1h0m5 16h0m-7 0h0m20 4h0m-11 10h0m0 1h0m0 12h0m7 2h0m-7 2h0m11 4h0m-6 1h0m-13 1h0m11 4h0m-9 2h0m13 1h0m-9 6h0m5 4h0m3 7h0m-12 3h0m11 16h0m4 6h0m-14 2h0m16 3h0m-5 17h0m-8 38h0m13 1h0m22 12h0m-11-1h0m10-21h0m-14-6h0m6-7h0m5-6h0m-10-5h0m17-11h0m-21-7h0m-1-17h0m19 0h0m-15-22h0m8-2h0m-8-1h0m8 0h0m-13-2h0m4-1h0m-2-2h0m12-1h0m7-3h0m-21 0h0m5-1h0m10-1h0m-10-3h0m14-2h0m1-2h0m-12-2h0m11-3h0m-10-2h0m0 0h0m11-1h0m0 0h0m-21-5h0m15-7h0m9-3h0m-21-1h0m2-2h0m12-4h0m4-2h0m-21-2h0m10-8h0m10-1h0m-17-7h0m3-3h0m4-10h0m9-1h0m-9-5h0m-2-1h0m12-1h0m-9-1h0m12 0h0m-8-1h0m2-2h0m-14 0h0m21-10h0m-14-3h0m11-1h0m-21 0h0m4-3h0m5-3h0m-9-1h0m22-2h0m-10-1h0m-5-5h0m-5-1h0m18-1h0m-4-2h0m-10 0h0m2-8h0m-5-6h0m21-1h0m-2-1h0m-15-3h0m1-8h0m-3-1h0m-4 0h0m12-18h0m-1-66h0m-8-13h0m25 36h0m-3 11h0m5 12h0m-4 0h0m15 19h0m-8 8h0m11 10h0m-20 4h0m20 2h0m1 1h0m1 3h0m-15 8h0m1 1h0m-1 0h0m8 1h0m-7 2h0m2 6h0m-10 4h0m5 3h0m12 1h0m-2 14h0m-13 5h0m-1 0h0m17 3h0m5 11h0m-20 2h0m-3 1h0m20 7h0m-10 1h0m3 1h0m8 1h0m-7 0h0m1 2h0m-5 2h0m0 2h0m0 2h0m-9 4h0m9 1h0m14 5h0m-19 1h0m14 0h0m-9 2h0m5 1h0m6 0h0m-20 3h0m15 2h0m0 3h0m2 1h0m-13 0h0m7 0h0m-9 4h0m1 3h0m2 1h0m-5 0h0m11 3h0m-4 0h0m13 9h0m3 2h0m-16 2h0m6 0h0m1 4h0m6 2h0m-6 1h0m1 4h0m-8 5h0m11 4h0m1 2h0m-7 0h0m1 1h0m-1 2h0m-7 0h0m-2 2h0m1 5h0m7 5h0m1 1h0m1 1h0m-5 0h0m-8 2h0m1 33h0m3 7h0m1 11h0m18 11h0m-4 5h0m-1 3h0m22 5h0m-13-28h0m15-26h0m2-4h0m-9-14h0m7-4h0m-9-5h0m1-6h0m-5-12h0m-3-1h0m22 0h0m-17-1h0m-4 0h0m-1-3h0m18-4h0m-10-1h0m10-1h0m-3-12h0m-11 0h0m12-2h0m-18-2h0m24 0h0m-22-7h0m7 0h0m-4-1h0m2-8h0m-3-2h0m-4-9h0m2-2h0m14-1h0m3-5h0m-11-3h0m5-1h0m2-1h0m9-1h0m-8 0h0m5-4h0m-16-2h0m-3-14h0m0-2h0m0-2h0m14 0h0m-15-1h0m0 0h0m19-5h0m0 0h0m2 0h0m-10-4h0m0-4h0m8 0h0m-12-5h0m0-1h0m-3-11h0m0-7h0m6-11h0m-11-1h0m21-1h0m-6-6h0m-3-6h0m11 0h0m-14-8h0m0-10h0m6-1h0m-12-3h0m31-21h0m10 5h0m-18 8h0m7 8h0m5 4h0m2 6h0m3 13h0m5 6h0m-2 8h0m-9 13h0m7 8h0m-7 7h0m-9 3h0m3 0h0m-1 1h0m17 2h0m-4 10h0m-14 3h0m6 0h0m12 1h0m-9 2h0m-3 0h0m-2 5h0m16 1h0m-16 21h0m-1 4h0m10 7h0m-14 4h0m15 19h0m-17 9h0m10 8h0m4 4h0m-7 3h0m-4 1h0m-3 2h0m17 16h0m2 15h0m-13 25h0m0 9h0m18-22h0m22-38h0m-1-13h0m-12-24h0m4-4h0m1-10h0m0-11h0m-12-8h0m8-14h0m-10-7h0m8-2h0m11-5h0m-15-12h0m-1-5h0m19-7h0m-3-9h0m-8-44h0m0-56h0m9-14h0m13 71h0m8 70h0m-16 75h0m48-198h0m22 99h0" stroke="#000" stroke-opacity="0.38" stroke-width="6.2" stroke-linecap="round" fill="none"/>
<path transform="scale(.1)" d="m1369 2181h0m-3 107h0m0 33h0m-8 7h0m41 56h0m-19-44h0m17-32h0m0-15h0m-4-10h0m4-22h0m2-18h0m-5-4h0m-1-1h0m-11-1h0m3-27h0m13-16h0m-2-17h0m2-1h0m-19-28h0m11-5h0m3-3h0m4-63h0m4-36h0m15 36h0m3 23h0m2 9h0m-2 9h0m2 9h0m-6 2h0m-3 5h0m6 20h0m6 8h0m-1 5h0m-14 5h0m7 15h0m-3 1h0m-10 3h0m18 6h0m-8 0h0m6 5h0m-3 1h0m-2 1h0m5 2h0m-1 1h0m4 1h0m-10 1h0m9 0h0m0 2h0m3 3h0m-9 2h0m8 1h0m-14 1h0m-6 10h0m3 1h0m-4 0h0m4 1h0m-5 1h0m6 3h0m-4 3h0m11 0h0m-6 6h0m10 8h0m3 0h0m0 1h0m-10 6h0m-4 0h0m4 7h0m13 4h0m0 4h0m-1 2h0m-6 2h0m-8 2h0m1 2h0m8 5h0m3 0h0m2 1h0m-13 8h0m-7 1h0m18 2h0m3 12h0m-11 7h0m2 7h0m-1 11h0m-7 5h0m1 3h0m5 2h0m-9 3h0m10 15h0m8 5h0m-2 51h0m13 8h0m15-50h0m-4-12h0m2 0h0m-1-3h0m-7-3h0m9-11h0m-4-3h0m-17-1h0m10-3h0m4-1h0m6 0h0m-19-2h0m22-5h0m-7-12h0m-11-1h0m10-5h0m-8 0h0m4-1h0m8 0h0m-11-4h0m-2-2h0m8-1h0m9-2h0m-2-1h0m1-1h0m-7-1h0m-1-10h0m-7-1h0m-4 0h0m14-2h0m-17 0h0m15-1h0m-8 0h0m8-1h0m8 0h0m-3-3h0m3-1h0m-9 0h0m-4-5h0m1-1h0m-10 0h0m1-3h0m0-2h0m14-2h0m-15-2h0m20 0h0m-15-1h0m17-1h0m-13-2h0m0-1h0m-11 0h0m22-1h0m-3-1h0m-11-2h0m-3-1h0m18 0h0m-18-3h0m0 0h0m10-1h0m-3 0h0m1-2h0m-6-3h0m16 0h0m-2-1h0m-7-1h0m7-3h0m-14 0h0m16 0h0m-23-1h0m18 0h0m-14 0h0m19-1h0m-17-1h0m4-6h0m2 0h0m4-3h0m-16-1h0m17-1h0m2-1h0m-13-4h0m-1-2h0m10 0h0m7-1h0m-5 0h0m-6 0h0m-7-2h0m9 0h0m11-1h0m-2-1h0m-18-1h0m16-1h0m-20-1h0m14 0h0m2-1h0m0 0h0m3-2h0m4 0h0m-17-2h0m18-3h0m0-1h0m-1-2h0m-6-2h0m0-1h0m7-2h0m-8-1h0m5-1h0m-3 0h0m6-2h0m-12-3h0m8-1h0m-17-1h0m-2-1h0m20 0h0m-11 0h0m9-1h0m0-3h0m-14-1h0m2-3h0m2 0h0m-6 0h0m9-3h0m8-1h0m-2-1h0m4-1h0m-22-3h0m12-3h0m-10-2h0m15-1h0m-1-2h0m1-2h0m3-1h0m-7-1h0m2-2h0m-7 0h0m7-2h0m-5-3h0m-1 0h0m0-1h0m5-1h0m6-1h0m0-10h0m0-6h0m-18-1h0m19-1h0m3-5h0m-20-1h0m11-1h0m-4-3h0m2 0h0m6-2h0m-5-1h0m10 0h0m-2-1h0m-18-2h0m-3-9h0m20-1h0m-6-6h0m4-70h0m23-40h0m-13 27h0m20 0h0m-10 14h0m10 7h0m-5 1h0m-15 10h0m5 5h0m-5 10h0m10 8h0m-14 1h0m12 1h0m11 2h0m0 1h0m-8 1h0m8 1h0m-11 3h0m3 4h0m8 1h0m-11 1h0m-5 0h0m1 4h0m3 2h0m11 1h0m-6 7h0m6 3h0m-4 0h0m-1 1h0m-5 3h0m-4 1h0m7 0h0m-3 0h0m-1 3h0m4 3h0m-10 2h0m-4 1h0m2 1h0m11 0h0m10 2h0m-20 0h0m7 1h0m-9 1h0m10 1h0m-9 2h0m18 1h0m-18 3h0m19 1h0m-5 2h0m4 3h0m-11 1h0m5 0h0m4 3h0m5 1h0m-8 1h0m0 1h0m-2 1h0m-11 0h0m2 0h0m19 0h0m-20 2h0m8 1h0m3 1h0m-12 0h0m15 1h0m-12 1h0m18 0h0m-15 0h0m13 0h0m-4 1h0m-2 1h0m0 0h0m1 0h0m-4 1h0m-10 1h0m15 1h0m-4 1h0m-10 0h0m-1 1h0m7 0h0m4 1h0m10 0h0m-23 2h0m19 0h0m-7 1h0m4 1h0m5 0h0m-3 1h0m3 0h0m1 1h0m1 0h0m-2 0h0m-20 1h0m1 1h0m18 1h0m1 0h0m-19 1h0m17 0h0m-12 0h0m-8 0h0m16 1h0m4 0h0m-16 1h0m17 1h0m-5 1h0m5 0h0m-19 0h0m20 0h0m0 1h0m-11 1h0m-11 1h0m22 0h0m-17 0h0m4 1h0m-4 1h0m-2 0h0m5 0h0m8 0h0m4 1h0m-1 0h0m4 1h0m-12 1h0m-9 0h0m22 1h0m-3 1h0m-13 0h0m-7 1h0m21 0h0m1 0h0m-21 0h0m3 1h0m7 0h0m-10 1h0m7 1h0m15 0h0m-1 1h0m-3 0h0m-3 1h0m-12 1h0m12 0h0m-10 1h0m16 1h0m-17 1h0m17 0h0m-5 1h0m-9 0h0m5 0h0m-5 0h0m14 1h0m-11 0h0m7 0h0m-16 0h0m-3 3h0m20 1h0m-1 1h0m-3 0h0m-1 0h0m0 0h0m9 0h0m-2 1h0m-11 0h0m-8 0h0m21 0h0m-14 1h0m10 1h0m-9 1h0m5 0h0m-16 0h0m6 0h0m9 0h0m5 1h0m-17 0h0m8 0h0m13 0h0m-23 1h0m1 0h0m20 2h0m-9 1h0m-7 0h0m16 0h0m-3 1h0m-2 0h0m2 0h0m1 0h0m3 1h0m-11 0h0m8 0h0m2 2h0m-8 0h0m0 0h0m-4 1h0m2 0h0m-3 0h0m-6 0h0m5 0h0m16 1h0m-21 0h0m0 1h0m7 0h0m8 0h0m-13 0h0m7 0h0m-2 0h0m-5 1h0m13 0h0m-13 0h0m13 0h0m5 1h0m-10 0h0m2 0h0m7 1h0m-7 0h0m7 1h0m-2 0h0m-2 0h0m-17 0h0m23 0h0m-19 0h0m14 1h0m-14 0h0m15 1h0m-7 2h0m0 0h0m10 0h0m-3 0h0m-19 1h0m4 0h0m4 1h0m-3 0h0m18 1h0m-8 0h0m-4 0h0m5 1h0m-17 0h0m21 0h0m0 0h0m-5 0h0m-14 0h0m18 1h0m2 0h0m-22 1h0m20 0h0m-4 0h0m5 0h0m2 1h0m-23 0h0m22 0h0m-14 0h0m9 1h0m0 1h0m-8 0h0m14 1h0m-12 0h0m-5 1h0m10 0h0m-9 1h0m5 0h0m0 1h0m11 0h0m-10 1h0m4 0h0m2 0h0m-12 0h0m12 1h0m-8 0h0m10 0h0m-10 0h0m-7 0h0m18 0h0m-11 1h0m-2 0h0m6 0h0m-8 0h0m17 1h0m-10 0h0m-6 0h0m14 1h0m0 1h0m-19 1h0m16 0h0m-4 1h0m-8 0h0m5 0h0m-10 1h0m7 0h0m4 1h0m6 0h0m-4 0h0m9 1h0m-18 0h0m1 0h0m17 1h0m-13 1h0m1 0h0m-3 0h0m-8 1h0m17 2h0m-6 0h0m-10 1h0m22 1h0m-9 0h0m0 0h0m8 2h0m-3 0h0m-4 0h0m-8 1h0m-2 0h0m8 1h0m-10 0h0m16 0h0m-10 1h0m1 0h0m-10 1h0m18 0h0m-14 0h0m13 1h0m1 1h0m0 0h0m2 0h0m2 0h0m-18 0h0m0 1h0m13 1h0m-15 1h0m0 0h0m12 1h0m9 1h0m-9 0h0m3 0h0m-8 2h0m14 0h0m-2 1h0m-13 0h0m10 1h0m-5 1h0m1 1h0m6 0h0m-19 0h0m9 0h0m3 0h0m-6 1h0m5 0h0m-4 0h0m-7 0h0m8 1h0m4 0h0m4 1h0m-10 0h0m8 1h0m-13 0h0m11 1h0m-2 3h0m9 0h0m-13 0h0m14 1h0m-7 0h0m3 4h0m-13 0h0m19 2h0m-5 1h0m-7 1h0m9 1h0m-18 1h0m1 1h0m-3 2h0m13 1h0m7 1h0m-20 0h0m1 2h0m7 0h0m15 1h0m-21 2h0m20 2h0m-1 3h0m-16 3h0m17 1h0m-23 1h0m11 1h0m7 0h0m-10 1h0m14 0h0m-7 1h0m-8 2h0m12 0h0m-1 3h0m2 0h0m-5 5h0m-5 4h0m14 1h0m-22 1h0m8 5h0m-2 2h0m-3 0h0m4 4h0m-3 4h0m16 1h0m-14 3h0m8 4h0m-16 2h0m23 2h0m-13 1h0m-9 0h0m7 1h0m-4 0h0m18 9h0m-10 21h0m-11 8h0m29 1h0m-2-2h0m5-2h0m10-12h0m-7-12h0m10-6h0m-14-5h0m8-3h0m8-4h0m-7-5h0m3 0h0m-1-8h0m0 0h0m5-1h0m-3 0h0m-3-1h0m7 0h0m-7-5h0m-5-3h0m-11-1h0m1-3h0m15 0h0m3-1h0m-14-2h0m-3-1h0m21-1h0m-9-2h0m7-5h0m-17-2h0m5 0h0m14-1h0m-14-2h0m-10-3h0m20-1h0m-7-3h0m2 0h0m-2 0h0m1-1h0m7 0h0m-13 0h0m9-2h0m6 0h0m-15-3h0m4-1h0m11 0h0m-13-1h0m1 0h0m11 0h0m-18 0h0m16-2h0m3-1h0m-5 0h0m-8-1h0m2-1h0m2 0h0m-4-1h0m13-1h0m-11 0h0m1-3h0m-13-2h0m2-1h0m3-1h0m-3-1h0m1 0h0m12 0h0m0-2h0m-4-1h0m-11-1h0m1 0h0m14-1h0m-7 0h0m1 0h0m-5-2h0m3 0h0m4 0h0m-5-1h0m3 0h0m14-1h0m-20 0h0m1-1h0m5 0h0m11-1h0m-19-1h0m12 0h0m-3 0h0m3-1h0m9 0h0m-7-1h0m-15-1h0m12 0h0m-8-2h0m2 0h0m9 0h0m8 0h0m-8 0h0m-15 0h0m10-2h0m-6-1h0m18 0h0m-12-2h0m8 0h0m-7 0h0m-1 0h0m9-1h0m-4 0h0m-3 0h0m8 0h0m-12-1h0m-6 0h0m-1-1h0m16 0h0m-6-1h0m6 0h0m2-3h0m-12 0h0m3 0h0m-1 0h0m-1 0h0m-6 0h0m20 0h0m-17-1h0m12 0h0m5-1h0m-18 0h0m1-1h0m2 0h0m11-1h0m-18 0h0m12 0h0m-9 0h0m0 0h0m14 0h0m7-1h0m-3 0h0m-12 0h0m3-1h0m2-1h0m-11 0h0m17 0h0m-14 0h0m14-1h0m-15 0h0m-5-1h0m17 0h0m3-1h0m-16 0h0m-2 0h0m8 0h0m11-1h0m-6 0h0m3 0h0m-16 0h0m10 0h0m-4 0h0m-8 0h0m21 0h0m-19 0h0m3 0h0m7-1h0m-5 0h0m3 0h0m1-2h0m-8 0h0m19 0h0m-14 0h0m13-1h0m-5 0h0m-8 0h0m11 0h0m-16-1h0m-2 0h0m22-1h0m0 0h0m-5 0h0m-14-1h0m4 0h0m-4 0h0m-4 0h0m1-1h0m6 0h0m5 0h0m6 0h0m-6 0h0m-1 0h0m-11 0h0m15-1h0m5 0h0m-15-1h0m17 0h0m-5 0h0m-3 0h0m4-2h0m-2 0h0m-7 0h0m1 0h0m-3-2h0m3 0h0m2 0h0m10 0h0m-20-1h0m16 0h0m-4-1h0m7 0h0m-6-1h0m-10-1h0m17 0h0m-2-1h0m-5 0h0m7-1h0m-13 0h0m10 0h0m1 0h0m-7-1h0m-8-1h0m9 0h0m-3-1h0m7 0h0m-11 0h0m-7 0h0m21 0h0m-12 0h0m5-1h0m9 0h0m-22 0h0m18-1h0m-1 0h0m-12 0h0m12 0h0m-11 0h0m14 0h0m-12-1h0m-3 0h0m-4 0h0m3-1h0m11 0h0m-15 0h0m14 0h0m-14 0h0m11-1h0m-7 0h0m4-1h0m6 0h0m-6 0h0m-3-1h0m13 0h0m-5 0h0m-9 0h0m-3 0h0m8 0h0m-5-1h0m2 0h0m14 0h0m-19 0h0m0 0h0m22 0h0m-21 0h0m8 0h0m13-1h0m-12 0h0m7 0h0m-6-1h0m-11 0h0m3 0h0m-5-1h0m9 0h0m11 0h0m-4 0h0m-9-1h0m-3 0h0m2 0h0m-6 0h0m5-1h0m11 0h0m-11 0h0m13 0h0m5 0h0m-5-1h0m-3 0h0m0 0h0m-5 0h0m-6-1h0m13 0h0m-1 0h0m8 0h0m-18 0h0m10 0h0m-4 0h0m2-1h0m6 0h0m-11 0h0m14 0h0m-10 0h0m7-1h0m-15 0h0m0 0h0m17 0h0m-3 0h0m-7 0h0m-10 0h0m10-1h0m-6 0h0m1 0h0m1 0h0m5-2h0m-10 0h0m2 0h0m4-1h0m4 0h0m-2 0h0m-11-1h0m14 0h0m10 0h0m-13 0h0m0-1h0m0 0h0m10-1h0m-14 0h0m8 0h0m1 0h0m-8 0h0m5-1h0m1 0h0m6 0h0m-17-1h0m9 0h0m9 0h0m-17-1h0m15 0h0m-11-1h0m14 0h0m-10-1h0m1 0h0m-10-1h0m5 0h0m13 0h0m0-1h0m-10 0h0m-8 0h0m6-2h0m7-1h0m-5 0h0m0 0h0m-3 0h0m-3 0h0m6-1h0m11 0h0m-18 0h0m5-1h0m-8 0h0m10 0h0m3-1h0m0 0h0m7 0h0m0 0h0m-8 0h0m6 0h0m-7-1h0m-2 0h0m5-1h0m6 0h0m-5 0h0m4 0h0m-15-2h0m6 0h0m5-1h0m4 0h0m-12-1h0m9 0h0m-15-1h0m12 0h0m-12 0h0m12 0h0m-1 0h0m5-1h0m-12-1h0m3 0h0m6-1h0m7 0h0m-9-1h0m-3-1h0m10-1h0m4 0h0m-13 0h0m-7 0h0m20-1h0m-2 0h0m-2-1h0m-5 0h0m7 0h0m-6 0h0m8 0h0m-18-2h0m-3 0h0m6 0h0m14 0h0m-4-1h0m-12 0h0m11 0h0m3-1h0m-10 0h0m-8 0h0m-1 0h0m19-1h0m1 0h0m-7 0h0m3-1h0m0-1h0m-3 0h0m-2 0h0m-6-1h0m1 0h0m-4-1h0m18 0h0m-8 0h0m-2 0h0m10-1h0m-2-1h0m-14-1h0m3 0h0m-1-1h0m0 0h0m1 0h0m5-1h0m2 0h0m-4-1h0m9 0h0m3 0h0m-12 0h0m1-1h0m1-2h0m6 0h0m-5-1h0m-14 0h0m21 0h0m-5-1h0m-9 0h0m14-1h0m1 0h0m-21 0h0m6 0h0m7-1h0m-5-1h0m-1 0h0m9-2h0m-2 0h0m-12-1h0m17-2h0m-1-1h0m-1-1h0m0 0h0m-9 0h0m4-1h0m-2 0h0m11 0h0m-1-1h0m1 0h0m-12-1h0m2-1h0m-10-1h0m18 0h0m-5-6h0m-11-2h0m5 0h0m4 0h0m-9-2h0m9 0h0m-5-1h0m11 0h0m2-2h0m-9-1h0m7-1h0m-13-1h0m-5 0h0m16 0h0m-2-1h0m6-1h0m-10-1h0m-8 0h0m8 0h0m6 0h0m3-1h0m-7-2h0m-7 0h0m13-1h0m-2-3h0m-10-3h0m14 0h0m1 0h0m-21-4h0m5-1h0m5-1h0m7-1h0m5-1h0m-24-1h0m10 0h0m1-4h0m-4-2h0m1-3h0m15 0h0m1-3h0m-22-1h0m10-1h0m4 0h0m2-3h0m-2-5h0m7-3h0m-11-1h0m-9-3h0m9-4h0m5 0h0m-5-2h0m-4-1h0m14 0h0m-7-9h0m-7-4h0m13 0h0m-3 0h0m-1-7h0m1-12h0m-7-117h0m22 83h0m16 42h0m-22 5h0m7 0h0m1 7h0m4 6h0m-3 2h0m-5 6h0m6 2h0m3 1h0m-10 0h0m9 1h0m-8 7h0m15 5h0m-3 1h0m0 0h0m-15 3h0m18 1h0m-10 2h0m11 1h0m-9 2h0m4 1h0m6 0h0m-18 0h0m-2 2h0m12 0h0m6 1h0m-20 2h0m8 1h0m-7 1h0m17 4h0m-18 2h0m-1 0h0m6 7h0m10 1h0m7 3h0m-5 0h0m-6 2h0m12 0h0m-12 0h0m9 1h0m3 0h0m-16 2h0m5 1h0m-8 1h0m-3 0h0m21 5h0m-2 1h0m-5 0h0m-6 1h0m-3 0h0m2 2h0m1 0h0m-1 0h0m5 1h0m-12 0h0m6 1h0m-3 0h0m-2 1h0m12 0h0m6 0h0m-6 1h0m-1 0h0m-7 2h0m9 1h0m5 0h0m-11 0h0m-6 1h0m4 0h0m-4 1h0m13 0h0m1 0h0m6 0h0m-22 1h0m6 1h0m2 0h0m-10 1h0m11 0h0m1 1h0m3 0h0m-8 2h0m-3 3h0m10 1h0m-12 0h0m7 1h0m5 0h0m2 0h0m4 0h0m-6 1h0m-7 0h0m16 0h0m-8 1h0m-3 0h0m-8 1h0m20 0h0m-19 0h0m-1 0h0m-2 0h0m2 1h0m-2 0h0m22 0h0m-9 0h0m-15 0h0m3 1h0m13 0h0m-13 0h0m11 1h0m5 0h0m-19 0h0m7 1h0m-1 0h0m3 0h0m12 0h0m-19 0h0m12 0h0m9 1h0m-5 0h0m-15 0h0m17 0h0m-9 1h0m0 1h0m6 0h0m-13 0h0m18 1h0m-19 0h0m5 3h0m-7 0h0m16 1h0m-2 0h0m-13 0h0m9 0h0m6 1h0m-8 0h0m4 0h0m-10 0h0m16 1h0m-9 0h0m13 1h0m-16 0h0m16 1h0m-11 1h0m-4 0h0m-5 0h0m10 0h0m-7 1h0m16 1h0m-4 0h0m-9 1h0m-5 0h0m5 0h0m6 0h0m-7 1h0m16 0h0m-2 0h0m-1 1h0m-21 0h0m1 0h0m2 1h0m20 0h0m-7 0h0m6 2h0m-16 0h0m-5 0h0m-1 0h0m1 0h0m7 0h0m7 0h0m-9 1h0m13 0h0m-12 0h0m-1 0h0m13 0h0m-16 1h0m0 0h0m0 0h0m5 1h0m-4 0h0m2 0h0m0 0h0m-3 1h0m13 0h0m-10 0h0m17 1h0m-17 0h0m8 0h0m-3 0h0m11 1h0m-14 0h0m-5 0h0m14 0h0m-13 1h0m20 0h0m-24 1h0m5 0h0m18 1h0m-14 0h0m-1 1h0m5 0h0m-4 0h0m13 0h0m1 0h0m-9 0h0m-14 1h0m4 0h0m19 0h0m-11 1h0m-8 0h0m7 0h0m-4 0h0m2 1h0m10 0h0m2 0h0m-6 1h0m-15 0h0m3 1h0m15 0h0m-7 0h0m-8 1h0m0 1h0m19 0h0m-2 0h0m-16 0h0m-1 0h0m20 1h0m-21 1h0m-2 0h0m13 0h0m4 1h0m-8 0h0m-5 0h0m2 0h0m8 0h0m7 0h0m-2 1h0m-9 1h0m9 0h0m-4 0h0m-9 0h0m13 0h0m-5 1h0m4 0h0m-11 0h0m6 0h0m-2 0h0m8 0h0m-2 0h0m1 1h0m-18 1h0m0 0h0m14 1h0m0 0h0m6 1h0m-7 0h0m-7 0h0m-1 1h0m11 0h0m4 0h0m-6 0h0m-8 1h0m15 0h0m-10 1h0m11 0h0m-5 0h0m2 0h0m-14 1h0m0 0h0m12 1h0m-9 0h0m-2 0h0m-1 1h0m0 0h0m11 1h0m4 0h0m-19 0h0m23 0h0m-17 1h0m5 0h0m-1 0h0m12 0h0m-17 0h0m-3 0h0m15 0h0m2 1h0m-13 0h0m16 1h0m-11 0h0m5 0h0m3 0h0m-15 1h0m14 0h0m-15 1h0m6 0h0m-5 1h0m-3 1h0m1 0h0m9 1h0m3 0h0m-7 0h0m9 1h0m-12 0h0m-2 0h0m8 1h0m4 0h0m-1 0h0m-5 1h0m2 0h0m-9 1h0m6 0h0m8 0h0m7 0h0m-16 1h0m3 0h0m-4 0h0m15 1h0m-2 1h0m-2 0h0m-7 0h0m11 1h0m-3 1h0m-14 0h0m19 0h0m-23 0h0m7 1h0m-2 0h0m11 0h0m-8 0h0m14 1h0m-22 0h0m21 1h0m-13 0h0m4 1h0m2 0h0m-9 0h0m7 1h0m9 0h0m-9 1h0m1 0h0m-4 0h0m13 0h0m-19 1h0m17 0h0m-4 0h0m-1 0h0m-15 1h0m5 0h0m18 1h0m-19 0h0m-3 1h0m3 1h0m10 1h0m3 0h0m-11 0h0m16 0h0m-8 0h0m-14 0h0m22 1h0m-9 1h0m-9 0h0m7 0h0m11 0h0m-20 1h0m22 2h0m-24 1h0m10 1h0m-4 0h0m8 1h0m10 1h0m0 0h0m0 0h0m-24 0h0m6 0h0m7 1h0m-11 0h0m22 1h0m0 0h0m-5 1h0m-14 0h0m-1 1h0m-3 0h0m12 1h0m7 0h0m-4 1h0m-16 0h0m12 0h0m-9 1h0m7 0h0m-8 0h0m22 1h0m-3 1h0m-4 0h0m-12 1h0m13 0h0m0 0h0m-16 0h0m9 1h0m-6 2h0m1 0h0m5 1h0m13 1h0m-2 0h0m-19 1h0m5 0h0m7 0h0m-2 0h0m-2 1h0m3 0h0m-13 1h0m9 0h0m-5 1h0m-1 1h0m8 0h0m1 0h0m-5 1h0m2 0h0m3 0h0m-2 0h0m-11 1h0m2 0h0m16 1h0m-16 0h0m3 1h0m19 0h0m-23 1h0m11 0h0m-10 0h0m10 0h0m12 2h0m-13 1h0m-7 1h0m2 0h0m13 1h0m-12 0h0m-3 3h0m5 3h0m-2 0h0m1 1h0m12 0h0m-3 2h0m-13 0h0m6 0h0m-9 0h0m18 3h0m-7 0h0m-1 1h0m6 0h0m5 0h0m-22 0h0m2 0h0m17 1h0m-10 0h0m-6 2h0m20 1h0m-12 0h0m8 0h0m-16 1h0m9 1h0m7 0h0m-7 0h0m1 3h0m-13 2h0m4 0h0m15 1h0m-3 0h0m-15 0h0m7 1h0m-5 0h0m14 1h0m4 1h0m-13 0h0m8 1h0m-6 1h0m-3 0h0m1 0h0m12 1h0m-18 0h0m2 1h0m12 0h0m-13 1h0m2 1h0m18 2h0m-16 1h0m-6 0h0m4 1h0m7 1h0m-3 1h0m-7 1h0m-2 1h0m12 0h0m-2 0h0m13 1h0m-15 1h0m3 0h0m-9 0h0m12 1h0m-12 0h0m-2 1h0m17 3h0m-17 0h0m20 0h0m-16 4h0m19 1h0m-19 1h0m10 1h0m-10 2h0m15 0h0m-7 1h0m-2 3h0m-7 0h0m-2 2h0m12 6h0m-10 0h0m3 1h0m12 0h0m-12 4h0m5 5h0m-8 1h0m20 2h0m-9 13h0m-12 0h0m17 3h0m5 9h0m-15 39h0m21-31h0m9-3h0m-2-22h0m-9-6h0m19-2h0m-3-4h0m0-10h0m-14-1h0m19-11h0m-17-1h0m-7-2h0m7 0h0m-5-7h0m-2-1h0m12-4h0m4 0h0m-12-3h0m-1-1h0m-3-3h0m2-2h0m8-3h0m9-2h0m-9-3h0m-4-1h0m1-3h0m-7-3h0m15-1h0m-6-3h0m8-3h0m-4-2h0m-7 0h0m2 0h0m-1-1h0m8-1h0m9-1h0m-15-1h0m-2 0h0m6-3h0m2 0h0m0-6h0m-9-1h0m18-2h0m-18-2h0m-1-1h0m3 0h0m6-2h0m-4-2h0m14 0h0m-13 0h0m-9-1h0m6-1h0m-6-3h0m1-1h0m4-1h0m3-1h0m-4 0h0m15-1h0m-16 0h0m3-3h0m-5 0h0m14-1h0m-7 0h0m4 0h0m-2-1h0m-7-2h0m0-1h0m3 0h0m13 0h0m-19 0h0m2-1h0m10-2h0m4-3h0m-5-2h0m3 0h0m-3-1h0m-3-1h0m-3 0h0m-2-3h0m19 0h0m-19-1h0m15 0h0m-10 0h0m-2-1h0m12 0h0m-10 0h0m12 0h0m2-3h0m-14 0h0m0 0h0m2-1h0m-5-2h0m8 0h0m-7-3h0m-2 0h0m-1 0h0m-1-1h0m4-1h0m-2 0h0m-2 0h0m2-1h0m17-1h0m-7-1h0m-5-2h0m-1-1h0m7-1h0m-5-1h0m4 0h0m-11 0h0m8-1h0m-1 0h0m-9-2h0m1-1h0m0 0h0m12-1h0m1-1h0m-6 0h0m5 0h0m-9 0h0m12-2h0m-19 0h0m17 0h0m-13-1h0m9 0h0m-2-2h0m-10 0h0m23 0h0m-24-1h0m18 0h0m-18 0h0m0-1h0m6-2h0m3-1h0m3 0h0m0-1h0m-11-1h0m9-1h0m1 0h0m-10 0h0m11-1h0m3 0h0m2 0h0m5 0h0m-17 0h0m7-1h0m-3 0h0m5 0h0m-14-1h0m1 0h0m3-1h0m6 0h0m-9-2h0m9 0h0m0-1h0m9-2h0m5-1h0m-21 0h0m18-1h0m-5 0h0m-16-2h0m18-1h0m0 0h0m-13 0h0m1 0h0m3-1h0m12 0h0m-2 0h0m1-3h0m-17 0h0m19-1h0m-19 0h0m-3-1h0m11 0h0m-11 0h0m8-1h0m7 0h0m-8-1h0m16 0h0m-23-1h0m20 0h0m-8-1h0m3-1h0m9 0h0m-17 0h0m2 0h0m2-1h0m-11 0h0m4 0h0m12-3h0m-2 0h0m-12 0h0m16-1h0m4-1h0m-1 0h0m-14-1h0m2 0h0m8 0h0m-7 0h0m1-1h0m-9 0h0m7 0h0m-8 0h0m-1-1h0m13-1h0m-3 0h0m2-2h0m-1-2h0m-6 0h0m8 0h0m-4-1h0m7 0h0m-7 0h0m6-1h0m-11-1h0m9-2h0m-13-1h0m9-1h0m-3 0h0m-3 0h0m3-1h0m9 0h0m-12 0h0m0-2h0m15-2h0m-1 0h0m-11-1h0m8 0h0m-2 0h0m1-1h0m-12-1h0m19-1h0m-19 0h0m13-4h0m-1-1h0m7-1h0m-15 0h0m3 0h0m6-1h0m-10 0h0m-4 0h0m8-2h0m13-2h0m-15-2h0m-1-3h0m2 0h0m-4-1h0m4-1h0m1 0h0m-5-1h0m12 0h0m-8-3h0m2 0h0m-4-1h0m9-1h0m-7-1h0m5-5h0m9-2h0m-1-1h0m-13-1h0m-1-4h0m10 0h0m3-2h0m-4-3h0m-9-3h0m8-3h0m5-4h0m0-1h0m-2-1h0m-14 0h0m1-5h0m-3-2h0m16 0h0m-15-2h0m6-2h0m-6-2h0m20-3h0m-5-10h0m-5-5h0m1-1h0m-8-7h0m1-3h0m9-18h0m7-7h0m-13-21h0m3-1h0m37-39h0m-9 40h0m-11 63h0m1 18h0m6 8h0m13 11h0m-6 4h0m-17 7h0m0 1h0m15 0h0m-11 0h0m1 8h0m10 2h0m-2 3h0m-11 1h0m10 1h0m-8 4h0m5 2h0m6 1h0m-15 2h0m14 1h0m-13 0h0m-1 2h0m1 4h0m19 3h0m-8 1h0m6 1h0m-18 0h0m13 1h0m-11 3h0m14 4h0m-14 0h0m21 1h0m-24 1h0m2 1h0m4 2h0m3 2h0m1 0h0m-9 3h0m5 3h0m0 2h0m-2 0h0m-3 1h0m9 2h0m-7 10h0m13 0h0m-2 2h0m10 2h0m-1 2h0m0 0h0m-19 1h0m17 1h0m-8 2h0m8 0h0m-16 1h0m16 1h0m-5 1h0m-11 0h0m8 1h0m-10 1h0m11 0h0m-12 2h0m7 0h0m-4 0h0m10 1h0m0 2h0m-4 1h0m5 3h0m-12 1h0m7 1h0m-1 2h0m0 2h0m-7 2h0m21 2h0m-24 1h0m17 1h0m0 1h0m-3 1h0m-9 1h0m13 0h0m-16 5h0m13 3h0m-12 1h0m1 0h0m1 2h0m15 2h0m-12 3h0m10 4h0m2 1h0m-19 1h0m6 1h0m5 1h0m-12 1h0m10 2h0m-10 3h0m13 4h0m-12 3h0m10 5h0m-11 2h0m2 2h0m18 12h0m-8 1h0m-2 5h0m-2 0h0m7 3h0m-6 0h0m-9 7h0m15 5h0m-13 13h0m0 11h0m0 7h0m10 24h0m-3 20h0m9 3h0m28-15h0m-14-10h0m2-23h0m7-7h0m-7-15h0m2-35h0m13-15h0m-14 0h0m1-2h0m-7-1h0m18-23h0m-16-3h0m3-1h0m-3-4h0m10-1h0m-7-1h0m3-8h0m12-2h0m-12-1h0m-11 0h0m10-7h0m10-5h0m-17-8h0m18 0h0m-13-1h0m-7-1h0m-2-4h0m18-8h0m-6-5h0m-5-1h0m15-3h0m-13-5h0m0-6h0m8-2h0m-4-17h0m5-1h0m-14-12h0m6-2h0m4-1h0m-8-5h0m9-2h0m-9 0h0m10-7h0m4-4h0m-14-35h0m7-5h0m-8-15h0m-4-7h0m33 23h0m11 3h0m-3 4h0m-4 8h0m-9 10h0m-2 6h0m-1 12h0m16 0h0m-13 17h0m3 27h0m-2 26h0m7 19h0m-5 78h0m-7 54h0m21 71h0m5-302h0" stroke="#000" stroke-opacity="0.45" stroke-width="6.2" stroke-linecap="round" fill="none"/>
<path transform="scale(.1)" d="m1670 2209h0m36 31h0m25 85h0m7-79h0m-1-118h0m-6-70h0m36-47h0m-3 33h0m9 38h0m-9 1h0m-3 3h0m-11 15h0m14 15h0m-1 1h0m7 29h0m3 14h0m1 18h0m-7 14h0m2 2h0m-5 6h0m10 13h0m-18 6h0m-3 2h0m9 30h0m10 25h0m1 6h0m-13 21h0m9 8h0m-11 16h0m12 5h0m-15 2h0m14 69h0m13-46h0m13-19h0m2-10h0m-6-16h0m-14-9h0m16-9h0m-10-13h0m3-6h0m13-3h0m-21-1h0m16-2h0m-7-5h0m7-7h0m5-19h0m-9-5h0m-5-3h0m6-1h0m-6-4h0m14-7h0m-12-4h0m12-3h0m-20-2h0m19-5h0m-19-4h0m13-2h0m1-8h0m-8-11h0m-9-4h0m13-5h0m3-2h0m2-1h0m-15-8h0m3-5h0m3-4h0m9-10h0m-18-1h0m19-23h0m-13-18h0m4-5h0m12-6h0m1-1h0m-11 0h0m-10-1h0m4-25h0m11-9h0m-2-10h0m-7-28h0m17-16h0m-1 30h0m6 5h0m2 13h0m-5 21h0m18 9h0m-3 2h0m-11 22h0m6 5h0m-8 17h0m2 4h0m1 8h0m10 10h0m3 1h0m-14 12h0m1 8h0m11 6h0m-2 1h0m6 2h0m-23 1h0m11 2h0m-6 1h0m12 1h0m2 2h0m-6 1h0m-4 2h0m8 3h0m7 0h0m-23 1h0m13 1h0m4 2h0m2 1h0m1 0h0m-9 1h0m12 1h0m-21 7h0m10 1h0m6 2h0m5 4h0m-22 6h0m1 1h0m7 2h0m9 2h0m-3 0h0m-7 2h0m-8 3h0m15 2h0m-4 3h0m-11 14h0m22 2h0m-6 10h0m1 1h0m-8 5h0m-6 4h0m18 1h0m-5 0h0m-13 1h0m3 13h0m-1 7h0m18 0h0m-1 14h0m-17 15h0m6 19h0m5 1h0m4 9h0m2 5h0m-7 9h0m-11 11h0m1 7h0m30 43h0m5-23h0m-15-11h0m12-21h0m1-1h0m-3-32h0m-6-3h0m13 0h0m-12-3h0m2-1h0m0-5h0m6-1h0m6-3h0m-2-6h0m-16-8h0m-2-4h0m9-4h0m1-3h0m-8-1h0m18 0h0m-19-11h0m16 0h0m7 0h0m-2-2h0m-3-3h0m-14-6h0m15-4h0m-19-6h0m5 0h0m-2-5h0m3-2h0m0-11h0m12-2h0m-5-6h0m-9-2h0m3-1h0m2-2h0m-4-5h0m12 0h0m0-2h0m-5-4h0m2-4h0m-13-2h0m11-6h0m-11-1h0m12-2h0m-8 0h0m-2-3h0m-4-2h0m16-1h0m6 0h0m-7 0h0m9-8h0m-4 0h0m1 0h0m-19-4h0m7 0h0m-2 0h0m16-2h0m-11-5h0m-10-4h0m19 0h0m-4-10h0m3-12h0m-16-3h0m17-3h0m-19 0h0m21-3h0m1-6h0m-8-1h0m-1-5h0m-9-3h0m7-5h0m-7-2h0m-4-1h0m13-13h0m-7-4h0m-8-9h0m13-6h0m-9-3h0m17-1h0m-7-37h0m-5-1h0m7-9h0m3-10h0m-17-3h0m22-44h0m9 48h0m-3 9h0m7 15h0m-5 4h0m-2 12h0m7 0h0m2 24h0m-7 5h0m15 5h0m-9 5h0m4 5h0m2 7h0m-7 7h0m-1 0h0m2 0h0m-12 5h0m11 6h0m0 0h0m-1 8h0m12 1h0m-1 6h0m-10 3h0m-11 10h0m11 4h0m11 0h0m-13 1h0m11 4h0m-2 9h0m-17 2h0m4 4h0m17 13h0m-2 2h0m-1 2h0m-1 1h0m-16 6h0m10 4h0m-5 0h0m7 3h0m7 4h0m-14 7h0m-6 1h0m5 3h0m2 3h0m7 4h0m-7 5h0m-6 2h0m1 0h0m4 2h0m15 0h0m-2 1h0m-11 2h0m8 2h0m-5 0h0m7 3h0m0 9h0m-11 1h0m0 0h0m10 2h0m-3 5h0m-6 2h0m-3 2h0m0 0h0m7 5h0m2 6h0m-9 2h0m11 1h0m-4 3h0m-9 3h0m7 0h0m-9 1h0m18 3h0m-5 4h0m0 0h0m3 9h0m-16 3h0m6 9h0m3 0h0m-8 2h0m12 13h0m-14 0h0m18 3h0m-20 2h0m4 5h0m0 7h0m9 11h0m5 33h0m8-1h0m18-47h0m-3-28h0m4-3h0m-10-14h0m11-13h0m-18-3h0m3-4h0m10-9h0m-14-2h0m21-3h0m-1-3h0m-20-2h0m10-13h0m12-7h0m-22-6h0m18-11h0m-14-9h0m-4-8h0m22-10h0m-19-4h0m-4-1h0m19-2h0m-6-18h0m-3-8h0m13-6h0m-20-5h0m-4-4h0m1-2h0m20-3h0m-1 0h0m-18-8h0m6-4h0m-1-4h0m7-4h0m-3-6h0m-10-1h0m-1 0h0m23-6h0m-19-8h0m2-9h0m-5-4h0m0-9h0m4 0h0m5-55h0m3 0h0m5-8h0m-8-71h0m22 20h0m-7 62h0m20 38h0m-15 11h0m6 2h0m-2 4h0m-1 21h0m14 5h0m-20 2h0m19 12h0m-13 7h0m-8 12h0m0 10h0m18 7h0m-11 5h0m11 8h0m5 3h0m-11 12h0m12 2h0m-17 18h0m2 4h0m-9 8h0m0 10h0m5 10h0m19 1h0m-12 24h0m4 15h0m-4 13h0m-6 31h0m-6 35h0m2 14h0m20 17h0m9-69h0m10-25h0m-16-18h0m17-44h0m2-10h0m-15-23h0m20-7h0m-19-20h0m1-17h0m-5-28h0m20-1h0m8-99h0m1 295h0m28 4h0m3-112h0" stroke="#000" stroke-opacity="0.33" stroke-width="6.2" stroke-linecap="round" fill="none"/>
<path transform="scale(.1)" d="m1692 2042h0m-1-18h0m31-27h0m-14 5h0m19 28h0m11-9h0m9-21h0m-19-40h0m21-14h0m-15-8h0m-2-8h0m34-124h0m-16 35h0m5 110h0m7 9h0m7 6h0m1 5h0m-13 19h0m14 15h0m27 93h0m-15 0h0m16-37h0m-19-30h0m12-2h0m-6-2h0m13-3h0m-14 0h0m12-3h0m-11-44h0m0-11h0m11-40h0m-13-8h0m4-4h0m-10-12h0m19-17h0m-3-6h0m2-36h0m8-28h0m1 7h0m15 41h0m-10 32h0m10 15h0m-16 6h0m19 10h0m-13 8h0m4 3h0m0 10h0m-10 2h0m13 1h0m4 0h0m-2 1h0m-12 0h0m12 3h0m-10 5h0m7 4h0m-1 15h0m2 1h0m6 14h0m-22 4h0m2 4h0m19 10h0m-4 1h0m-15 9h0m-1 4h0m-2 17h0m13 12h0m-8 18h0m26 8h0m0-10h0m2-10h0m-6-7h0m13-9h0m4-12h0m-9-9h0m0-10h0m4-17h0m-5-5h0m8-3h0m1 0h0m-14-7h0m5-9h0m-1-6h0m12-2h0m4-9h0m-15-8h0m7-8h0m7-1h0m0-20h0m-11-5h0m-4-6h0m-3-8h0m-1-10h0m17-10h0m-13-26h0m-1-3h0m10-81h0m24 97h0m1 24h0m-12 14h0m10 16h0m-9 5h0m13 7h0m-3 4h0m-16 0h0m7 1h0m0 10h0m0 1h0m2 3h0m13 5h0m-17 2h0m15 10h0m-5 19h0m9 11h0m-4 12h0m-19 7h0m7 16h0m7 22h0m-6 37h0m28-9h0m1-7h0m-13-18h0m5-34h0m-4-1h0m4-29h0m0-7h0m1-7h0m11-17h0m-14-63h0m-3-42h0m35 0h0m-9 43h0m1 82h0m12 34h0m-7 1h0m-1 24h0m42-73h0m-14-76h0m32 224h0" stroke="#000" stroke-opacity="0.27" stroke-width="6.2" stroke-linecap="round" fill="none"/>
<path transform="scale(.1)" d="m1320 2007h0m116 89h0m26-131h0m2 394h0m31-493h0m27 568h0m64-285h0m71 138h0m25-202h0m58-34h0m-15-92h0m55 245h0m-4-356h0m35 4h0m41 399h0m29-353h0m6-139h0m15 374h0m3 217h0m115-25h0m21-92h0m56-38h0m7-158h0" stroke="#000" stroke-opacity="0.25" stroke-width="6.2" stroke-linecap="round" fill="none"/>
</g>
<rect x="131.0" y="158.7" width="85.9" height="85.5" fill="none" stroke="#000" stroke-width="1"/>
<line x1="170.5" y1="158.7" x2="170.5" y2="244.2" stroke="#000" stroke-width="0.8" stroke-linecap="butt"/>
<line x1="131.0" y1="207.3" x2="216.9" y2="207.3" stroke="#000" stroke-width="0.8" stroke-linecap="butt"/>
<text x="133.8" y="166.89999999999998" font-size="7.3" text-anchor="start" font-weight="bold" stroke="#000" stroke-width="0.3">12</text>
<text x="214.3" y="166.89999999999998" font-size="7.3" text-anchor="end" font-weight="bold" stroke="#000" stroke-width="0.3">2.0</text>
<text x="133.10000000000002" y="241.79999999999998" font-size="7.3" text-anchor="start" font-weight="bold" stroke="#000" stroke-width="0.3">77</text>
<text x="214.3" y="241.79999999999998" font-size="7.3" text-anchor="end" font-weight="bold" stroke="#000" stroke-width="0.3">9.0</text>
<line x1="128.6" y1="165.8" x2="131.0" y2="165.8" stroke="#000" stroke-width="0.8" stroke-linecap="butt"/>
<line x1="128.6" y1="184.6" x2="131.0" y2="184.6" stroke="#000" stroke-width="0.8" stroke-linecap="butt"/>
<line x1="128.6" y1="204.0" x2="131.0" y2="204.0" stroke="#000" stroke-width="0.8" stroke-linecap="butt"/>
<line x1="128.6" y1="224.2" x2="131.0" y2="224.2" stroke="#000" stroke-width="0.8" stroke-linecap="butt"/>
<line x1="128.6" y1="234.2" x2="131.0" y2="234.2" stroke="#000" stroke-width="0.8" stroke-linecap="butt"/>
<line x1="139.8" y1="244.2" x2="139.8" y2="246.6" stroke="#000" stroke-width="0.8" stroke-linecap="butt"/>
<line x1="149.8" y1="244.2" x2="149.8" y2="246.6" stroke="#000" stroke-width="0.8" stroke-linecap="butt"/>
<line x1="170.3" y1="244.2" x2="170.3" y2="246.6" stroke="#000" stroke-width="0.8" stroke-linecap="butt"/>
<line x1="189.7" y1="244.2" x2="189.7" y2="246.6" stroke="#000" stroke-width="0.8" stroke-linecap="butt"/>
<line x1="208.60000000000002" y1="244.2" x2="208.60000000000002" y2="246.6" stroke="#000" stroke-width="0.8" stroke-linecap="butt"/>
<line x1="129.5" y1="178.94063608151714" x2="131.0" y2="178.94063608151714" stroke="#000" stroke-width="0.65" stroke-linecap="butt"/>
<line x1="129.5" y1="175.63012041127035" x2="131.0" y2="175.63012041127035" stroke="#000" stroke-width="0.65" stroke-linecap="butt"/>
<line x1="129.5" y1="173.28127216303432" x2="131.0" y2="173.28127216303432" stroke="#000" stroke-width="0.65" stroke-linecap="butt"/>
<line x1="129.5" y1="171.45936391848286" x2="131.0" y2="171.45936391848286" stroke="#000" stroke-width="0.65" stroke-linecap="butt"/>
<line x1="129.5" y1="169.9707564927875" x2="131.0" y2="169.9707564927875" stroke="#000" stroke-width="0.65" stroke-linecap="butt"/>
<line x1="129.5" y1="168.712156847732" x2="131.0" y2="168.712156847732" stroke="#000" stroke-width="0.65" stroke-linecap="butt"/>
<line x1="129.5" y1="167.62190824455146" x2="131.0" y2="167.62190824455146" stroke="#000" stroke-width="0.65" stroke-linecap="butt"/>
<line x1="129.5" y1="166.66024082254071" x2="131.0" y2="166.66024082254071" stroke="#000" stroke-width="0.65" stroke-linecap="butt"/>
<line x1="129.5" y1="198.16001808411878" x2="131.0" y2="198.16001808411878" stroke="#000" stroke-width="0.65" stroke-linecap="butt"/>
<line x1="129.5" y1="194.74384765843854" x2="131.0" y2="194.74384765843854" stroke="#000" stroke-width="0.65" stroke-linecap="butt"/>
<line x1="129.5" y1="192.32003616823752" x2="131.0" y2="192.32003616823752" stroke="#000" stroke-width="0.65" stroke-linecap="butt"/>
<line x1="129.5" y1="190.43998191588122" x2="131.0" y2="190.43998191588122" stroke="#000" stroke-width="0.65" stroke-linecap="butt"/>
<line x1="129.5" y1="188.90386574255731" x2="131.0" y2="188.90386574255731" stroke="#000" stroke-width="0.65" stroke-linecap="butt"/>
<line x1="129.5" y1="187.60509802372343" x2="131.0" y2="187.60509802372343" stroke="#000" stroke-width="0.65" stroke-linecap="butt"/>
<line x1="129.5" y1="186.4800542523563" x2="131.0" y2="186.4800542523563" stroke="#000" stroke-width="0.65" stroke-linecap="butt"/>
<line x1="129.5" y1="185.48769531687708" x2="131.0" y2="185.48769531687708" stroke="#000" stroke-width="0.65" stroke-linecap="butt"/>
<line x1="129.5" y1="218.11919408758757" x2="131.0" y2="218.11919408758757" stroke="#000" stroke-width="0.65" stroke-linecap="butt"/>
<line x1="129.5" y1="214.56215065466282" x2="131.0" y2="214.56215065466282" stroke="#000" stroke-width="0.65" stroke-linecap="butt"/>
<line x1="129.5" y1="212.03838817517516" x2="131.0" y2="212.03838817517516" stroke="#000" stroke-width="0.65" stroke-linecap="butt"/>
<line x1="129.5" y1="210.08080591241242" x2="131.0" y2="210.08080591241242" stroke="#000" stroke-width="0.65" stroke-linecap="butt"/>
<line x1="129.5" y1="208.4813447422504" x2="131.0" y2="208.4813447422504" stroke="#000" stroke-width="0.65" stroke-linecap="butt"/>
<line x1="129.5" y1="207.12901959171202" x2="131.0" y2="207.12901959171202" stroke="#000" stroke-width="0.65" stroke-linecap="butt"/>
<line x1="129.5" y1="205.95758226276274" x2="131.0" y2="205.95758226276274" stroke="#000" stroke-width="0.65" stroke-linecap="butt"/>
<line x1="129.5" y1="204.92430130932564" x2="131.0" y2="204.92430130932564" stroke="#000" stroke-width="0.65" stroke-linecap="butt"/>
<line x1="129.5" y1="160.14063608151716" x2="131.0" y2="160.14063608151716" stroke="#000" stroke-width="0.65" stroke-linecap="butt"/>
<line x1="129.5" y1="226.7" x2="131.0" y2="226.7" stroke="#000" stroke-width="0.65" stroke-linecap="butt"/>
<line x1="129.5" y1="229.2" x2="131.0" y2="229.2" stroke="#000" stroke-width="0.65" stroke-linecap="butt"/>
<line x1="129.5" y1="231.7" x2="131.0" y2="231.7" stroke="#000" stroke-width="0.65" stroke-linecap="butt"/>
<line x1="129.5" y1="236.7" x2="131.0" y2="236.7" stroke="#000" stroke-width="0.65" stroke-linecap="butt"/>
<line x1="129.5" y1="239.2" x2="131.0" y2="239.2" stroke="#000" stroke-width="0.65" stroke-linecap="butt"/>
<line x1="129.5" y1="241.7" x2="131.0" y2="241.7" stroke="#000" stroke-width="0.65" stroke-linecap="butt"/>
<line x1="155.9711149111116" y1="244.2" x2="155.9711149111116" y2="245.7" stroke="#000" stroke-width="0.65" stroke-linecap="butt"/>
<line x1="159.58098572175308" y1="244.2" x2="159.58098572175308" y2="245.7" stroke="#000" stroke-width="0.65" stroke-linecap="butt"/>
<line x1="162.14222982222324" y1="244.2" x2="162.14222982222324" y2="245.7" stroke="#000" stroke-width="0.65" stroke-linecap="butt"/>
<line x1="164.1288850888884" y1="244.2" x2="164.1288850888884" y2="245.7" stroke="#000" stroke-width="0.65" stroke-linecap="butt"/>
<line x1="165.7521006328647" y1="244.2" x2="165.7521006328647" y2="245.7" stroke="#000" stroke-width="0.65" stroke-linecap="butt"/>
<line x1="167.12450982029227" y1="244.2" x2="167.12450982029227" y2="245.7" stroke="#000" stroke-width="0.65" stroke-linecap="butt"/>
<line x1="168.31334473333484" y1="244.2" x2="168.31334473333484" y2="245.7" stroke="#000" stroke-width="0.65" stroke-linecap="butt"/>
<line x1="169.36197144350618" y1="244.2" x2="169.36197144350618" y2="245.7" stroke="#000" stroke-width="0.65" stroke-linecap="butt"/>
<line x1="176.13998191588124" y1="244.2" x2="176.13998191588124" y2="245.7" stroke="#000" stroke-width="0.65" stroke-linecap="butt"/>
<line x1="179.55615234156144" y1="244.2" x2="179.55615234156144" y2="245.7" stroke="#000" stroke-width="0.65" stroke-linecap="butt"/>
<line x1="181.97996383176246" y1="244.2" x2="181.97996383176246" y2="245.7" stroke="#000" stroke-width="0.65" stroke-linecap="butt"/>
<line x1="183.86001808411876" y1="244.2" x2="183.86001808411876" y2="245.7" stroke="#000" stroke-width="0.65" stroke-linecap="butt"/>
<line x1="185.39613425744267" y1="244.2" x2="185.39613425744267" y2="245.7" stroke="#000" stroke-width="0.65" stroke-linecap="butt"/>
<line x1="186.69490197627658" y1="244.2" x2="186.69490197627658" y2="245.7" stroke="#000" stroke-width="0.65" stroke-linecap="butt"/>
<line x1="187.8199457476437" y1="244.2" x2="187.8199457476437" y2="245.7" stroke="#000" stroke-width="0.65" stroke-linecap="butt"/>
<line x1="188.8123046831229" y1="244.2" x2="188.8123046831229" y2="245.7" stroke="#000" stroke-width="0.65" stroke-linecap="butt"/>
<line x1="195.38946691804924" y1="244.2" x2="195.38946691804924" y2="245.7" stroke="#000" stroke-width="0.65" stroke-linecap="butt"/>
<line x1="198.71759171420163" y1="244.2" x2="198.71759171420163" y2="245.7" stroke="#000" stroke-width="0.65" stroke-linecap="butt"/>
<line x1="201.07893383609849" y1="244.2" x2="201.07893383609849" y2="245.7" stroke="#000" stroke-width="0.65" stroke-linecap="butt"/>
<line x1="202.91053308195077" y1="244.2" x2="202.91053308195077" y2="245.7" stroke="#000" stroke-width="0.65" stroke-linecap="butt"/>
<line x1="204.40705863225088" y1="244.2" x2="204.40705863225088" y2="245.7" stroke="#000" stroke-width="0.65" stroke-linecap="butt"/>
<line x1="205.67235295626946" y1="244.2" x2="205.67235295626946" y2="245.7" stroke="#000" stroke-width="0.65" stroke-linecap="butt"/>
<line x1="206.76840075414776" y1="244.2" x2="206.76840075414776" y2="245.7" stroke="#000" stroke-width="0.65" stroke-linecap="butt"/>
<line x1="207.73518342840327" y1="244.2" x2="207.73518342840327" y2="245.7" stroke="#000" stroke-width="0.65" stroke-linecap="butt"/>
<line x1="214.28946691804927" y1="244.2" x2="214.28946691804927" y2="245.7" stroke="#000" stroke-width="0.65" stroke-linecap="butt"/>
<line x1="142.3" y1="244.2" x2="142.3" y2="245.7" stroke="#000" stroke-width="0.65" stroke-linecap="butt"/>
<line x1="144.8" y1="244.2" x2="144.8" y2="245.7" stroke="#000" stroke-width="0.65" stroke-linecap="butt"/>
<line x1="147.3" y1="244.2" x2="147.3" y2="245.7" stroke="#000" stroke-width="0.65" stroke-linecap="butt"/>
<line x1="137.3" y1="244.2" x2="137.3" y2="245.7" stroke="#000" stroke-width="0.65" stroke-linecap="butt"/>
<line x1="134.8" y1="244.2" x2="134.8" y2="245.7" stroke="#000" stroke-width="0.65" stroke-linecap="butt"/>
<line x1="132.3" y1="244.2" x2="132.3" y2="245.7" stroke="#000" stroke-width="0.65" stroke-linecap="butt"/>
<text x="172.7" y="148" font-size="6.9" text-anchor="middle" font-weight="bold" stroke="#000" stroke-width="0.15">CCR7-/-</text>
<text x="1.6" y="138.6" font-size="14.8" text-anchor="start" font-weight="normal" stroke="#000" stroke-width="0.5">B</text>
<line x1="21.7" y1="242.4" x2="21.7" y2="260.5" stroke="#000" stroke-width="0.8" stroke-linecap="butt"/>
<line x1="21.3" y1="260.5" x2="35.6" y2="260.5" stroke="#000" stroke-width="0.8" stroke-linecap="butt"/>
<path d="M21.7 239.4l-2.2 6.6h4.4z" fill="#000"/>
<path d="M41.800000000000004 260.5l-6.2 -2.2v4.4z" fill="#000"/>
<text x="44.2" y="262.8" font-size="6.8" text-anchor="start" font-weight="normal" stroke="#000" stroke-width="0.4">BrdU</text>
<text x="24.0" y="226.2" font-size="7.2" text-anchor="middle" font-weight="normal" stroke="#000" stroke-width="0.4" transform="rotate(-90 24.0 226.2)">CD103</text>
<g filter="url(#bl)">
<path transform="scale(.1)" d="m407 2962h0m12 44h0m-6 29h0m11 1h0m-3 3h0m-21 41h0m12 4h0m35 85h0m-2-60h0m-10-19h0m-3-35h0m15-6h0m-16-11h0m17-2h0m-1-1h0m-3-1h0m-11-11h0m10-8h0m-8-3h0m12-2h0m1-6h0m-16-3h0m5-17h0m2-17h0m4-23h0m26-46h0m-4 15h0m-11 7h0m10 4h0m4 31h0m3 11h0m-8 2h0m-7 2h0m4 3h0m-6 1h0m7 1h0m-3 6h0m-5 2h0m1 5h0m16 5h0m3 3h0m-7 2h0m-15 3h0m10 9h0m-7 2h0m16 4h0m-7 1h0m8 9h0m-10 11h0m13 8h0m-4 1h0m-4 2h0m-2 7h0m5 0h0m-14 6h0m-2 0h0m6 2h0m13 5h0m2 1h0m-15 0h0m-8 4h0m9 8h0m7 8h0m2 6h0m-3 3h0m0 9h0m-13 2h0m18 1h0m-18 6h0m21 4h0m-3 11h0m-13 19h0m-5 10h0m19 25h0m11 61h0m11-14h0m3-26h0m1-20h0m-4-31h0m2-9h0m0-10h0m2-2h0m-3-4h0m1-4h0m-11-2h0m12-4h0m-20-1h0m4-4h0m-6-2h0m13-3h0m-3-1h0m-6-6h0m-2-8h0m13-5h0m9-1h0m-16-5h0m-3 0h0m7-1h0m-4-1h0m15-1h0m1 0h0m-8-4h0m-1-1h0m-5 0h0m1-5h0m13-2h0m-14-2h0m7-4h0m-3-2h0m-8 0h0m0-3h0m3-4h0m4-5h0m-8-1h0m16 0h0m-4-1h0m5-1h0m1 0h0m-7-3h0m-8-5h0m-8-5h0m11-1h0m-1-5h0m-5-1h0m5-9h0m-8-9h0m21-2h0m-6-3h0m6-4h0m-1-1h0m-21-1h0m22-1h0m-18-1h0m13-5h0m-11-2h0m10-5h0m1-3h0m1-2h0m-3-1h0m3-2h0m-8-3h0m12-5h0m-2-2h0m-12-8h0m-2-1h0m13 0h0m1-11h0m-2-4h0m-4-1h0m-7-8h0m15-8h0m-17-4h0m-5-11h0m21-2h0m-5-7h0m3-20h0m-2-2h0m-2-12h0m-5-44h0m33 13h0m1 19h0m-1 8h0m-12 4h0m11 16h0m-16 7h0m6 0h0m-6 1h0m7 5h0m12 2h0m-18 1h0m12 2h0m-9 3h0m-2 1h0m19 3h0m-1 0h0m-7 2h0m-14 2h0m-1 6h0m18 2h0m-17 0h0m12 16h0m0 2h0m6 3h0m-13 1h0m12 2h0m-10 2h0m6 1h0m-3 2h0m5 1h0m0 4h0m6 2h0m-3 3h0m-15 1h0m11 1h0m3 5h0m-9 2h0m8 8h0m-10 5h0m4 3h0m-3 1h0m16 2h0m-11 1h0m-11 1h0m-2 0h0m24 1h0m-2 2h0m-7 3h0m-1 2h0m3 1h0m-16 1h0m15 1h0m6 1h0m-10 0h0m-5 0h0m17 1h0m-5 0h0m-4 2h0m-9 0h0m4 0h0m-9 1h0m11 1h0m-3 1h0m-8 1h0m20 3h0m3 1h0m-3 0h0m-18 2h0m18 1h0m-1 1h0m1 1h0m-3 2h0m-12 1h0m5 1h0m-4 1h0m17 3h0m-24 1h0m4 1h0m9 1h0m0 2h0m1 1h0m1 0h0m1 1h0m0 0h0m-8 4h0m2 2h0m12 2h0m-8 1h0m9 1h0m-23 0h0m13 2h0m-12 0h0m12 1h0m-4 0h0m-8 2h0m9 1h0m11 1h0m-9 0h0m-4 1h0m2 1h0m6 0h0m-5 2h0m11 2h0m-3 0h0m-13 0h0m12 0h0m5 1h0m-13 0h0m14 1h0m-1 1h0m-11 2h0m-2 0h0m7 2h0m2 0h0m-3 2h0m-11 2h0m-2 0h0m-2 1h0m0 1h0m19 2h0m-2 0h0m-7 4h0m5 2h0m8 1h0m-15 2h0m0 1h0m-2 2h0m14 0h0m-1 2h0m-8 1h0m-1 0h0m2 2h0m9 7h0m-10 1h0m10 1h0m-13 0h0m12 0h0m-14 2h0m-2 0h0m12 1h0m5 1h0m-20 10h0m14 1h0m5 0h0m1 2h0m1 1h0m-21 0h0m2 3h0m16 2h0m-7 3h0m0 3h0m-3 1h0m-4 1h0m-3 2h0m21 0h0m-6 5h0m0 1h0m-10 1h0m0 2h0m2 5h0m-6 1h0m20 7h0m-15 8h0m1 1h0m-9 1h0m14 12h0m-13 10h0m0 19h0m21 9h0m-2 5h0m-6 3h0m10-9h0m24-20h0m-7-3h0m-11-3h0m11-4h0m2-16h0m-12 0h0m6-6h0m6 0h0m-15 0h0m14-4h0m-7-7h0m6-5h0m-3-1h0m4-5h0m-17-5h0m-1-1h0m10-1h0m12-4h0m-6 0h0m5-1h0m0-6h0m-6-1h0m-8-1h0m0-2h0m8 0h0m-5 0h0m9-4h0m-2-2h0m1 0h0m5-1h0m0-4h0m-11-2h0m-4 0h0m2-1h0m2 0h0m-9-4h0m5 0h0m-3-1h0m-2-1h0m-2-1h0m6-3h0m13-1h0m-2-1h0m4 0h0m-6-1h0m-3-3h0m-4-2h0m-6-2h0m-3 0h0m21 0h0m-7-1h0m-5-1h0m-7-1h0m5 0h0m11-2h0m-6 0h0m12-1h0m-8-1h0m-15 0h0m14-1h0m2 0h0m-8-1h0m5-1h0m-14-2h0m22 0h0m-10-4h0m-8 0h0m1-2h0m14-1h0m-10-1h0m2-1h0m1 0h0m5 0h0m1-2h0m-1 0h0m-17-1h0m14-1h0m-11 0h0m-2 0h0m14 0h0m-11-1h0m5-2h0m5 0h0m-11-2h0m14-2h0m5 0h0m-1 0h0m3 0h0m-21-1h0m18-1h0m-21 0h0m16 0h0m5-1h0m-7-2h0m8 0h0m-15-1h0m-3-1h0m-1 0h0m18-2h0m-12-1h0m7-1h0m6-2h0m-17 0h0m3-2h0m5 0h0m-6 0h0m17-1h0m-20-1h0m3 0h0m5 0h0m-1-2h0m-4-1h0m-3-2h0m10 0h0m10 0h0m0 0h0m-18-1h0m4 0h0m12-2h0m-17-1h0m3-2h0m-3-1h0m3-1h0m-4-2h0m3-1h0m-5-3h0m14 0h0m6-2h0m-20-1h0m18 0h0m-4 0h0m-2-1h0m3 0h0m-12-2h0m15 0h0m-17 0h0m15 0h0m-12-1h0m6-1h0m-12 0h0m20-1h0m-19 0h0m7 0h0m-5 0h0m16-1h0m-8-3h0m-10-1h0m0-2h0m8-1h0m-9-1h0m19-1h0m-17-5h0m-1 0h0m19 0h0m-9-1h0m-5-1h0m4 0h0m7-1h0m-9-1h0m11-1h0m0 0h0m-5 0h0m4-1h0m-14 0h0m18-1h0m-22-1h0m12-1h0m5-1h0m-2-1h0m6-1h0m-14-1h0m-2-2h0m10 0h0m4-1h0m-3 0h0m4-3h0m-18-1h0m9 0h0m12 0h0m-23 0h0m21-1h0m2-3h0m1 0h0m-15-1h0m-3 0h0m8 0h0m8-1h0m-20-1h0m12-1h0m6 0h0m-6-2h0m2-4h0m-2-1h0m0-1h0m-3-4h0m-3-1h0m13-1h0m3-1h0m-24 0h0m0 0h0m13-2h0m10-3h0m-10-6h0m6-7h0m-1 0h0m5-8h0m-12-5h0m7-19h0m-9-2h0m10-5h0m-18-10h0m15-6h0m-4-13h0m-9-1h0m17-2h0m-6-16h0m24-39h0m2 92h0m-9 5h0m7 7h0m0 1h0m-13 13h0m15 1h0m-6 1h0m9 3h0m-13 4h0m8 0h0m-12 3h0m21 1h0m-4 1h0m-7 4h0m-7 1h0m5 4h0m3 1h0m-3 1h0m0 0h0m9 0h0m-3 1h0m7 5h0m-8 1h0m10 2h0m-8 0h0m4 1h0m2 1h0m-10 1h0m-10 1h0m7 2h0m15 1h0m-10 0h0m-14 3h0m15 0h0m-1 5h0m5 2h0m0 0h0m-2 1h0m0 0h0m3 2h0m-9 5h0m-11 2h0m0 2h0m7 0h0m3 2h0m-5 0h0m4 1h0m3 1h0m-9 0h0m17 1h0m-18 1h0m11 1h0m8 1h0m2 2h0m-12 0h0m9 1h0m-5 1h0m-14 1h0m7 0h0m13 1h0m-17 0h0m5 0h0m6 1h0m-2 1h0m-10 0h0m7 2h0m2 2h0m3 0h0m1 0h0m6 0h0m-2 1h0m-5 3h0m-9 3h0m-3 0h0m9 1h0m-6 1h0m7 1h0m9 0h0m-15 2h0m16 0h0m1 0h0m-2 0h0m-21 1h0m20 1h0m-2 0h0m-13 1h0m5 0h0m-4 0h0m-6 0h0m15 0h0m-8 1h0m13 0h0m-8 2h0m-13 1h0m1 1h0m8 0h0m-6 0h0m11 1h0m-4 0h0m10 1h0m-3 0h0m1 0h0m-15 1h0m1 1h0m8 1h0m-8 0h0m6 1h0m13 1h0m1 0h0m-17 1h0m5 2h0m-12 0h0m20 1h0m-2 0h0m-9 0h0m12 2h0m-9 3h0m-9 0h0m11 1h0m2 0h0m-12 1h0m9 0h0m-1 1h0m-6 1h0m0 0h0m5 0h0m-4 1h0m-1 0h0m-4 2h0m0 0h0m7 4h0m-6 2h0m10 1h0m1 1h0m-7 0h0m15 0h0m-10 2h0m-1 0h0m4 1h0m-7 1h0m10 1h0m-10 0h0m11 1h0m-2 1h0m-14 2h0m14 1h0m-12 0h0m14 0h0m-12 1h0m-5 0h0m2 0h0m5 1h0m-9 2h0m14 0h0m-7 1h0m-5 0h0m3 1h0m12 1h0m-13 0h0m19 0h0m-5 1h0m-18 0h0m21 1h0m3 1h0m-23 1h0m0 0h0m1 1h0m21 1h0m1 1h0m-7 0h0m-5 0h0m-10 0h0m9 1h0m9 0h0m-20 0h0m23 1h0m-9 0h0m9 0h0m1 1h0m-10 1h0m-11 0h0m10 1h0m-7 1h0m10 0h0m-16 3h0m20 3h0m-19 1h0m-1 0h0m5 1h0m17 2h0m-19 1h0m18 0h0m-3 1h0m-5 1h0m-8 3h0m16 1h0m-2 0h0m5 3h0m-14 1h0m-5 2h0m-4 3h0m-1 1h0m19 3h0m5 0h0m-5 1h0m0 0h0m-10 1h0m6 1h0m0 3h0m4 5h0m-14 0h0m7 0h0m-12 1h0m8 2h0m12 1h0m-18 1h0m5 3h0m-2 0h0m-5 2h0m18 1h0m-17 1h0m4 2h0m11 6h0m-5 1h0m1 0h0m-12 3h0m8 2h0m-2 9h0m13 0h0m-14 2h0m17 1h0m-7 4h0m-1 3h0m-5 3h0m8 0h0m-6 4h0m7 0h0m4 0h0m-5 5h0m-10 0h0m0 9h0m5 2h0m7 50h0m16 5h0m-8-53h0m0-1h0m16-5h0m4-5h0m-19-2h0m19-10h0m-4-12h0m-7-7h0m7 0h0m-6 0h0m0 0h0m10-2h0m-11 0h0m0-2h0m6-1h0m-3-3h0m10-1h0m-1-1h0m-12-2h0m11-2h0m-13-5h0m-5-2h0m11-1h0m-5-2h0m0-1h0m0-1h0m-5 0h0m11-1h0m-7-1h0m8-1h0m-14-2h0m8-1h0m12 0h0m-15-1h0m0-1h0m7-2h0m-13-1h0m15-1h0m2-1h0m-17 0h0m22-2h0m-23-2h0m16 0h0m-14-1h0m17-1h0m-15-1h0m3-3h0m1-2h0m-3-1h0m-5-1h0m12-1h0m8-5h0m-5-1h0m3 0h0m-12-1h0m13 0h0m-19-1h0m20-3h0m-1-1h0m-13-2h0m-7 0h0m10-1h0m-4-1h0m12-2h0m-1 0h0m-2-2h0m0-1h0m2 0h0m-13 0h0m11-4h0m-5-3h0m11-1h0m-7-1h0m-6 0h0m-6-1h0m0-1h0m19 0h0m-8 0h0m6 0h0m-6-1h0m-1-1h0m-5-2h0m6-1h0m11 0h0m-20 0h0m8-2h0m9-2h0m-11 0h0m-5-1h0m3-1h0m-3 0h0m13-2h0m-17 0h0m1-2h0m8-1h0m-3-1h0m0-1h0m13-1h0m-1-3h0m-16 0h0m1-2h0m0 0h0m13-1h0m-15-1h0m22-2h0m-19-1h0m15 0h0m-20-3h0m21 0h0m-19-2h0m21 0h0m-9-1h0m-12 0h0m6 0h0m-1 0h0m1-1h0m11 0h0m-17-1h0m5 0h0m-7-1h0m5 0h0m11-4h0m5 0h0m-2 0h0m2-1h0m-20 0h0m2-1h0m0 0h0m14-1h0m2 0h0m2-1h0m1-1h0m-10-1h0m-4-1h0m1-1h0m7 0h0m-4 0h0m1-1h0m-9 0h0m7-1h0m10 0h0m-7 0h0m-3-1h0m-9-1h0m20 0h0m-15-2h0m4 0h0m-2-1h0m9-1h0m-6 0h0m3-1h0m-3-1h0m-1-1h0m-1-2h0m-1 0h0m-8 0h0m7-2h0m2 0h0m12-2h0m-21-2h0m3-4h0m15-1h0m-3-1h0m-8 0h0m6 0h0m-11 0h0m21-1h0m-19-1h0m-3 0h0m12-2h0m-12 0h0m21-4h0m-12-2h0m-3-1h0m15 0h0m-21 0h0m17-1h0m-13 0h0m17-2h0m-4-1h0m4 0h0m-19-1h0m10 0h0m-5-3h0m-4-2h0m1-4h0m10-1h0m0 0h0m2-2h0m-2-2h0m-13-1h0m14-2h0m-16 0h0m16-4h0m-10-4h0m13-1h0m1-1h0m-4-4h0m-4-1h0m5-4h0m-4-1h0m2 0h0m-7-1h0m7-1h0m-15-7h0m6-4h0m11-2h0m-8-2h0m-6-5h0m3-2h0m0-12h0m-6-8h0m5-10h0m5-2h0m2-2h0m-1-3h0m7-2h0m-3 0h0m-10-12h0m19-33h0m4 19h0m-4 9h0m11 3h0m-4 14h0m-5 32h0m19 0h0m-4 7h0m-14 1h0m14 0h0m-9 4h0m15 6h0m-15 5h0m0 0h0m-5 1h0m7 0h0m-8 5h0m8 1h0m12 0h0m1 3h0m-16 1h0m6 4h0m-4 1h0m0 1h0m-1 1h0m10 2h0m-13 2h0m7 0h0m-7 1h0m1 0h0m3 1h0m-8 1h0m11 3h0m11 0h0m-15 2h0m-3 4h0m13 3h0m-7 3h0m-2 1h0m4 2h0m-10 1h0m2 2h0m-4 1h0m7 0h0m12 1h0m-4 0h0m7 1h0m-16 0h0m7 1h0m-3 0h0m13 0h0m-16 1h0m4 0h0m-3 2h0m9 2h0m-4 1h0m-10 1h0m-1 0h0m6 0h0m9 2h0m4 2h0m-6 0h0m6 1h0m-14 1h0m-1 7h0m-5 0h0m6 1h0m3 0h0m-1 1h0m10 2h0m-1 3h0m0 0h0m-6 1h0m-3 2h0m-6 1h0m14 2h0m-8 1h0m-9 0h0m17 1h0m-14 0h0m4 0h0m-3 1h0m9 1h0m-6 0h0m3 0h0m4 6h0m-13 0h0m5 1h0m2 1h0m-9 1h0m10 3h0m3 1h0m3 4h0m-5 1h0m1 2h0m4 1h0m-8 0h0m13 0h0m-11 3h0m-9 3h0m19 1h0m-12 1h0m-6 1h0m1 3h0m1 2h0m16 1h0m-18 0h0m4 0h0m9 1h0m6 0h0m2 1h0m-14 0h0m-1 1h0m-8 4h0m23 1h0m1 1h0m-2 0h0m-14 1h0m8 2h0m-9 0h0m12 1h0m-18 0h0m1 0h0m9 3h0m6 2h0m0 2h0m4 1h0m-18 1h0m18 0h0m-14 1h0m-3 1h0m-4 1h0m10 0h0m2 1h0m11 1h0m-7 4h0m8 3h0m-16 1h0m-7 0h0m5 2h0m17 1h0m-7 1h0m-2 3h0m-4 2h0m10 0h0m2 1h0m2 1h0m-14 5h0m11 1h0m-2 0h0m-11 6h0m6 1h0m0 3h0m7 2h0m-10 0h0m4 2h0m2 2h0m-12 0h0m12 2h0m-3 4h0m5 0h0m-10 3h0m9 5h0m-11 3h0m-4 2h0m-3 1h0m7 4h0m14 1h0m3 10h0m-7 4h0m-1 7h0m-13 2h0m9 15h0m-10 7h0m11 5h0m-13 2h0m23 5h0m-23 65h0m28-29h0m17-43h0m-20-9h0m17-9h0m4-5h0m-7-4h0m1-6h0m6-6h0m-13-5h0m6-3h0m-8-4h0m-6-7h0m9-8h0m5-7h0m-14-1h0m0 0h0m23-1h0m-21-1h0m-1-4h0m20-2h0m-1-2h0m-3-4h0m-4-4h0m7-5h0m-13-3h0m-7 0h0m17-2h0m-9-1h0m11-3h0m-12-3h0m-5-1h0m8 0h0m13-3h0m-10-1h0m0-2h0m11-3h0m-6-2h0m4-3h0m-6 0h0m-4-1h0m1-2h0m-2 0h0m-7-4h0m13 0h0m-15-1h0m11-1h0m-6-3h0m-4-3h0m3-3h0m-1-1h0m12 0h0m3-5h0m-14-1h0m-4-1h0m14-1h0m-1-1h0m-4-1h0m-11 0h0m1-2h0m7-4h0m-5-2h0m0-1h0m17-1h0m-15-2h0m-3 0h0m2-10h0m2 0h0m3-2h0m7-2h0m-16-1h0m8-4h0m11-7h0m-17-3h0m20-4h0m-18 0h0m-1-4h0m11-4h0m8-3h0m2 0h0m0-4h0m-21-1h0m11-1h0m9-1h0m-13-2h0m7-1h0m1-2h0m-12 0h0m11-2h0m5 0h0m-9-18h0m-6 0h0m7 0h0m2-4h0m-3-8h0m-4-3h0m5-8h0m-14-4h0m8-6h0m-4-8h0m-3-27h0m18-7h0m-3-3h0m6-18h0m15-7h0m-12 40h0m18 8h0m-17 21h0m4 2h0m19 0h0m-24 2h0m4 1h0m8 8h0m-3 8h0m10 34h0m-13 2h0m2 3h0m0 1h0m4 9h0m5 1h0m-8 4h0m-8 6h0m8 6h0m-8 6h0m6 0h0m10 1h0m-17 11h0m1 4h0m8 1h0m7 5h0m-4 0h0m-5 1h0m10 4h0m-16 6h0m11 5h0m-1 1h0m3 6h0m4 2h0m-2 3h0m1 2h0m-8 1h0m-8 2h0m5 5h0m-2 0h0m18 1h0m-22 5h0m16 3h0m-3 2h0m-11 3h0m-1 1h0m2 0h0m18 1h0m-16 13h0m-3 9h0m17 4h0m-14 7h0m-3 3h0m12 4h0m-6 3h0m-6 2h0m-2 7h0m5 5h0m-3 3h0m22 6h0m-14 14h0m2 12h0m33 25h0m-5-73h0m2-52h0m-12-9h0m2-11h0m6-26h0m-11-9h0m21-4h0m-11-28h0m10-46h0m-13-12h0m3-22h0m-4-8h0m2-24h0m19 50h0m0 41h0m0 17h0m6 8h0m-10 70h0m9 21h0m-7 69h0m24-96h0m7-2h0m-2-24h0m28 4h0" stroke="#000" stroke-opacity="0.42" stroke-width="6.2" stroke-linecap="round" fill="none"/>
<path transform="scale(.1)" d="m437 3181h0m-8-25h0m0-3h0m44-2h0m-20 100h0m-2 77h0m47-37h0m-18-26h0m10-11h0m2-10h0m-5-2h0m7-5h0m-8-4h0m0-6h0m2-17h0m10-3h0m-7-3h0m3-5h0m-19-1h0m16-2h0m-2-13h0m-9 0h0m14-9h0m-4 0h0m-8-11h0m-1-9h0m11-97h0m20 7h0m-8 3h0m17 29h0m-4 2h0m-4 10h0m6 4h0m-6 6h0m-8 1h0m-5 13h0m21 19h0m2 2h0m-16 0h0m7 6h0m2 0h0m-5 6h0m-1 0h0m12 1h0m-18 5h0m16 2h0m-9 2h0m8 5h0m-17 3h0m7 3h0m1 1h0m-7 4h0m4 10h0m15 3h0m-3 0h0m4 5h0m-3 1h0m-10 8h0m6 0h0m-14 2h0m20 0h0m-16 3h0m16 0h0m-3 2h0m2 6h0m-1 1h0m-2 3h0m-15 12h0m17 0h0m3 2h0m1 1h0m-13 9h0m4 18h0m1 6h0m-1 18h0m-15 7h0m20 0h0m-20 34h0m40 11h0m-2-33h0m-5-24h0m15-17h0m-16-6h0m-3-11h0m2-1h0m12 0h0m3-3h0m2-3h0m1-2h0m-4-1h0m-8-7h0m-10-1h0m9-2h0m8-8h0m-14-3h0m17-1h0m-16-19h0m4-2h0m7 0h0m-14-1h0m20 0h0m-13-3h0m14-3h0m-20-1h0m17-7h0m-19-3h0m19 0h0m-19-2h0m7-1h0m-7-1h0m-1 0h0m22 0h0m0-4h0m-10 0h0m5-8h0m-13-8h0m0 0h0m11-4h0m-14-1h0m14-4h0m6-7h0m-3 0h0m-6-1h0m3-2h0m-11 0h0m3-8h0m-8-5h0m11-1h0m0 0h0m7-2h0m-14-6h0m4-14h0m1-10h0m-2-26h0m-2-19h0m13-23h0m11-11h0m-2 97h0m9 5h0m-7 2h0m-1 1h0m17 5h0m-5 1h0m-6 2h0m5 19h0m-1 2h0m11 3h0m-8 0h0m-2 0h0m6 2h0m-18 2h0m4 2h0m18 1h0m-17 3h0m-5 0h0m6 2h0m10 3h0m4 2h0m-7 0h0m-13 5h0m18 1h0m-4 12h0m-16 0h0m23 1h0m-19 6h0m11 0h0m-5 7h0m14 2h0m-9 1h0m-14 1h0m16 7h0m7 2h0m-4 6h0m0 4h0m2 1h0m1 0h0m-7 1h0m-14 2h0m21 2h0m-8 0h0m1 1h0m1 0h0m7 1h0m-21 3h0m0 1h0m20 0h0m1 2h0m-11 0h0m-8 3h0m19 4h0m-3 1h0m1 1h0m-2 1h0m-14 5h0m-5 11h0m18 2h0m-17 7h0m17 1h0m-8 6h0m-11 4h0m22 20h0m-18 13h0m16 14h0m13 18h0m1-24h0m14-14h0m-19-13h0m6-3h0m0-3h0m-7 0h0m-2-3h0m4-1h0m14-10h0m-19-1h0m23-4h0m-22 0h0m15-6h0m-13 0h0m13-1h0m-12-1h0m3-8h0m6-2h0m3-2h0m6-9h0m1-9h0m0-5h0m-12-2h0m-7-3h0m11-3h0m-2 0h0m3-2h0m-16 0h0m22-1h0m-17-3h0m1 0h0m17-1h0m-3-2h0m0-1h0m-3-3h0m5-3h0m2-1h0m-3-2h0m-19-1h0m18 0h0m-10-2h0m2-1h0m1 0h0m4 0h0m-12-3h0m1-2h0m10-1h0m-1-8h0m1-3h0m-13-3h0m19 0h0m-8-3h0m-8 0h0m1-9h0m0-3h0m-2-2h0m12-3h0m-2-7h0m-9 0h0m6-1h0m7 0h0m-5-1h0m6-2h0m-4-1h0m0-15h0m7-4h0m-13-2h0m-7-7h0m11-37h0m2-3h0m16-17h0m3 12h0m-3 39h0m6 1h0m11 3h0m-17 10h0m7 14h0m-2 2h0m-8 5h0m12 9h0m-8 8h0m-5 1h0m-1 2h0m22 2h0m-16 3h0m-3 1h0m18 1h0m-16 2h0m-1 1h0m9 0h0m-2 4h0m-7 3h0m9 0h0m-14 2h0m0 4h0m21 1h0m-10 4h0m-11 1h0m11 1h0m-7 1h0m0 0h0m13 0h0m-6 3h0m8 1h0m-19 0h0m0 2h0m4 4h0m5 1h0m-6 2h0m-1 1h0m16 0h0m-7 8h0m-2 7h0m-2 1h0m5 4h0m-3 1h0m-1 1h0m3 3h0m7 6h0m0 1h0m-18 1h0m15 9h0m-8 43h0m-6 18h0m13 54h0m27-33h0m3-44h0m-20-3h0m2-2h0m17-5h0m-19-1h0m9-2h0m1-4h0m5-17h0m-3-9h0m-5-8h0m16-1h0m-4-2h0m-19-3h0m20-3h0m0-4h0m-1-20h0m5-2h0m-17 0h0m0-5h0m4-4h0m2-9h0m-7-2h0m6-9h0m-5-1h0m16-6h0m-4-4h0m-10-7h0m15-6h0m-3-2h0m-4-2h0m-7-6h0m0 0h0m9-11h0m-7-3h0m-12-4h0m0-25h0m10-9h0m-2-13h0m16-49h0m3 100h0m-2 28h0m7 7h0m6 14h0m3 29h0m-2 12h0m-1 5h0m-3 1h0m0 38h0m15-25h0m22-3h0m-12-32h0m1-24h0m-3-40h0m-2-2h0m7-57h0m25 48h0m-8 32h0m3 25h0m13 34h0m16 11h0" stroke="#000" stroke-opacity="0.4" stroke-width="6.2" stroke-linecap="round" fill="none"/>
<path transform="scale(.1)" d="m405 3308h0m13 14h0m-16 69h0m6 45h0m11 16h0m-8 34h0m6 21h0m7 35h0m-9 25h0m-12 9h0m41 38h0m1-13h0m-7-4h0m-12-6h0m9-6h0m-8-3h0m5-9h0m17-30h0m-24-3h0m7-2h0m8-41h0m-5-20h0m1-10h0m-3-1h0m16-2h0m-11-4h0m-2-4h0m6-4h0m-7-1h0m-1-6h0m11-3h0m1-3h0m-18-1h0m2-3h0m19-3h0m-4-9h0m-17-15h0m9-19h0m1-3h0m-3-1h0m13-22h0m-23-44h0m25-60h0m24 5h0m-9 36h0m-8 14h0m16 16h0m-8 4h0m-4 16h0m-4 2h0m10 8h0m-15 0h0m11 1h0m-1 7h0m-1 3h0m13 6h0m-16 7h0m13 9h0m-5 1h0m8 2h0m-4 1h0m-14 2h0m4 1h0m8 4h0m1 3h0m-9 2h0m12 2h0m-18 1h0m-4 1h0m18 10h0m-10 6h0m11 0h0m-12 12h0m10 1h0m-10 0h0m17 1h0m-3 9h0m-16 2h0m11 0h0m8 1h0m-17 0h0m14 0h0m-13 2h0m0 2h0m-2 3h0m5 2h0m-2 4h0m12 4h0m-9 1h0m2 5h0m-5 1h0m12 3h0m-8 0h0m10 1h0m-22 1h0m2 2h0m14 1h0m-16 1h0m2 2h0m1 1h0m14 1h0m2 1h0m-3 1h0m-5 2h0m-6 3h0m15 0h0m-4 5h0m-2 1h0m4 0h0m-4 2h0m6 2h0m-2 1h0m0 1h0m-16 0h0m19 3h0m-8 0h0m-14 4h0m19 3h0m0 1h0m-6 4h0m10 1h0m1 1h0m-13 1h0m13 16h0m-12 0h0m10 1h0m1 4h0m-8 9h0m2 0h0m4 6h0m-20 3h0m0 4h0m15 17h0m-12 4h0m19 5h0m-4 3h0m-18 9h0m45-1h0m-2-7h0m-16-8h0m21-3h0m-1-8h0m-5-7h0m-7-1h0m-9-3h0m22-1h0m-21-3h0m5 0h0m7 0h0m-2 0h0m8-2h0m2 0h0m-6-1h0m-4-1h0m0 0h0m-7-8h0m7 0h0m0-2h0m9-2h0m0 0h0m-1 0h0m-20-3h0m0 0h0m10 0h0m8 0h0m5-2h0m-6-1h0m5-1h0m-5-2h0m-10-1h0m16 0h0m-5-1h0m5-1h0m-7-1h0m-3 0h0m-8-1h0m3 0h0m2-1h0m-4-1h0m1-2h0m10 0h0m5-1h0m-14-2h0m7 0h0m-8-2h0m15-1h0m-22-1h0m15-2h0m-4-2h0m2 0h0m2-1h0m-7 0h0m4-1h0m-10-2h0m3-1h0m16-1h0m-7-1h0m8 0h0m-4-1h0m-1-1h0m-1 0h0m-7-1h0m2-1h0m-1 0h0m-6-2h0m15-2h0m0-2h0m-13-1h0m3-1h0m8 0h0m-13-1h0m13-1h0m-10 0h0m10-2h0m-5 0h0m-7-1h0m0-1h0m16-1h0m-1 0h0m1-1h0m1 0h0m-13-1h0m-5-1h0m9-1h0m9 0h0m-7-1h0m-13-2h0m2-3h0m2-1h0m12 0h0m-6-2h0m7-1h0m-13 0h0m17-4h0m-21 0h0m16-1h0m-4 0h0m-12-1h0m10 0h0m6-2h0m-10 0h0m1-2h0m4-1h0m5-2h0m4-1h0m0 0h0m-11-3h0m2 0h0m-11 0h0m17-1h0m-7 0h0m2 0h0m0 0h0m-13 0h0m10 0h0m2 0h0m6-2h0m-9-1h0m11-1h0m-10 0h0m-4-1h0m4 0h0m-10 0h0m1 0h0m5-2h0m0-2h0m1 0h0m7-1h0m4-1h0m4-1h0m-21-1h0m11-1h0m-10-5h0m19 0h0m-2-2h0m-9-1h0m0-1h0m1-2h0m8-1h0m-9-1h0m-7-1h0m-4 0h0m2-1h0m12 0h0m3-3h0m1 0h0m-10-1h0m-7 0h0m1 0h0m15-4h0m-11-2h0m-7 0h0m19 0h0m4 0h0m-19-2h0m-3-1h0m6-4h0m17 0h0m-17-3h0m17 0h0m-2-1h0m-17-1h0m9-1h0m-6 0h0m-1 0h0m12-2h0m-6 0h0m-1 0h0m9-1h0m-1 0h0m1-1h0m-4 0h0m2 0h0m-3-3h0m-2-2h0m4-2h0m1-2h0m-1-4h0m-1 0h0m-12-1h0m6-1h0m4 0h0m6-1h0m-5-4h0m-7-2h0m13-3h0m-21-6h0m7 0h0m-5-1h0m20-2h0m-4-3h0m-13-5h0m13-1h0m-10-1h0m3-3h0m4-2h0m-5 0h0m-11-5h0m5-3h0m18-1h0m-8-1h0m2-1h0m3-1h0m-7-5h0m-2-1h0m12 0h0m-5-2h0m-1 0h0m-12-3h0m3-2h0m9-3h0m-9-2h0m12-4h0m-17-3h0m14-2h0m3 0h0m-6-15h0m2-7h0m-7-7h0m14-14h0m1-48h0m4 35h0m15 2h0m-2 8h0m-1 20h0m-13 9h0m12 3h0m7 1h0m-8 4h0m-7 2h0m-3 3h0m15 2h0m-13 0h0m-5 1h0m16 1h0m-7 4h0m12 3h0m-6 2h0m-2 9h0m-4 0h0m6 3h0m2 2h0m6 1h0m-18 10h0m14 1h0m2 2h0m-2 1h0m-4 1h0m9 0h0m-15 2h0m-3 4h0m8 1h0m-10 1h0m6 0h0m-4 1h0m15 2h0m-18 4h0m0 2h0m6 1h0m14 1h0m-9 0h0m7 0h0m2 1h0m-3 1h0m-2 0h0m-2 4h0m-10 0h0m1 1h0m17 1h0m-24 0h0m10 1h0m9 1h0m3 1h0m-8 0h0m-8 1h0m-3 1h0m12 0h0m9 3h0m-21 0h0m16 1h0m-8 0h0m5 0h0m-2 1h0m1 0h0m-5 1h0m12 0h0m-8 0h0m1 1h0m-9 1h0m2 0h0m-5 1h0m3 1h0m14 0h0m3 0h0m-4 0h0m2 1h0m-7 1h0m-1 1h0m-5 1h0m3 2h0m0 0h0m-9 1h0m5 1h0m2 0h0m7 2h0m-16 3h0m19 2h0m-15 0h0m-3 0h0m11 1h0m11 0h0m-19 1h0m8 0h0m-1 2h0m3 1h0m8 0h0m-3 0h0m5 0h0m-1 1h0m-5 1h0m-12 1h0m-2 0h0m20 1h0m-6 1h0m3 0h0m-17 1h0m14 1h0m2 0h0m3 0h0m-12 1h0m0 2h0m-8 0h0m16 0h0m-16 0h0m3 1h0m2 0h0m5 5h0m-8 0h0m8 0h0m9 0h0m-5 0h0m-2 1h0m-3 0h0m8 1h0m-1 0h0m-9 0h0m7 2h0m-4 0h0m-8 1h0m12 0h0m-3 1h0m4 1h0m-3 0h0m-15 0h0m7 1h0m16 0h0m-2 0h0m-3 1h0m0 0h0m-1 0h0m3 1h0m2 0h0m-3 1h0m-6 0h0m7 1h0m-13 0h0m14 0h0m-21 0h0m5 1h0m15 0h0m-7 0h0m-4 1h0m6 0h0m7 1h0m-6 0h0m5 1h0m-21 0h0m24 0h0m-19 0h0m-2 1h0m5 0h0m12 0h0m-7 0h0m0 1h0m-10 0h0m6 0h0m15 0h0m-17 1h0m-6 0h0m11 2h0m11 0h0m-3 0h0m-11 1h0m5 0h0m10 0h0m-7 1h0m3 1h0m-17 1h0m17 0h0m3 0h0m-2 1h0m-16 0h0m19 0h0m-10 0h0m-2 2h0m-11 0h0m3 0h0m17 0h0m-8 1h0m6 0h0m0 0h0m-12 1h0m-5 0h0m14 1h0m3 0h0m5 1h0m-23 0h0m21 0h0m-13 0h0m9 1h0m-8 0h0m9 1h0m-10 0h0m15 0h0m-12 0h0m8 1h0m-5 0h0m-2 1h0m-3 0h0m-7 1h0m3 1h0m4 0h0m-3 0h0m7 0h0m-1 1h0m-12 0h0m23 0h0m-7 1h0m6 1h0m-3 0h0m4 1h0m-11 0h0m6 0h0m5 0h0m-7 1h0m7 0h0m-5 0h0m-4 0h0m2 1h0m-8 0h0m3 1h0m-11 1h0m15 0h0m3 1h0m-15 0h0m-3 1h0m5 0h0m-6 1h0m22 0h0m-7 1h0m8 1h0m-10 0h0m-11 0h0m13 0h0m-13 1h0m0 0h0m19 0h0m-4 0h0m-8 1h0m-7 0h0m3 2h0m14 0h0m-10 1h0m7 1h0m0 0h0m-6 0h0m-8 1h0m-1 0h0m-1 0h0m12 0h0m1 1h0m8 0h0m-8 0h0m7 1h0m-7 0h0m-4 0h0m1 1h0m10 0h0m-2 1h0m-9 1h0m6 1h0m-2 0h0m-13 1h0m3 0h0m16 0h0m-2 0h0m6 1h0m-2 0h0m-3 0h0m-10 0h0m0 1h0m9 0h0m6 1h0m-13 1h0m5 0h0m0 1h0m-12 0h0m-1 2h0m1 2h0m21 0h0m-4 2h0m-6 1h0m-2 0h0m3 0h0m-15 1h0m13 1h0m-9 1h0m19 1h0m-9 0h0m9 0h0m-15 0h0m12 1h0m4 1h0m-12 0h0m-1 0h0m-1 0h0m3 0h0m5 1h0m1 1h0m-4 1h0m3 0h0m-15 0h0m11 0h0m8 0h0m1 1h0m-6 0h0m-12 0h0m-3 1h0m20 0h0m2 0h0m-15 0h0m7 2h0m5 0h0m-20 1h0m16 0h0m-17 2h0m21 0h0m3 0h0m-21 2h0m8 0h0m12 2h0m-1 0h0m-1 2h0m-19 0h0m16 0h0m-3 1h0m-9 0h0m18 1h0m-15 1h0m-1 2h0m0 1h0m-3 1h0m10 1h0m3 0h0m-1 0h0m5 1h0m-19 0h0m21 1h0m-8 0h0m5 0h0m-11 1h0m9 1h0m-8 0h0m4 0h0m7 0h0m-21 2h0m21 0h0m2 1h0m-17 1h0m1 1h0m13 1h0m-15 1h0m6 0h0m-3 1h0m10 1h0m0 1h0m-15 4h0m13 3h0m-11 1h0m15 2h0m-21 1h0m23 1h0m-18 3h0m16 1h0m-19 0h0m0 0h0m18 3h0m3 0h0m-10 1h0m-10 2h0m17 3h0m2 0h0m-13 1h0m14 1h0m-5 1h0m-4 0h0m-12 4h0m3 2h0m19 2h0m-1 2h0m-13 4h0m3 1h0m4 2h0m-5 4h0m9 3h0m-12 2h0m36 0h0m-10 0h0m-1-8h0m5-1h0m-4-1h0m-8-2h0m2 0h0m15-1h0m-17 0h0m6-1h0m6-2h0m4 0h0m-8 0h0m-2 0h0m15 0h0m-11-1h0m-7 0h0m12-1h0m0 0h0m-8 0h0m9-3h0m-14-4h0m1-2h0m17 0h0m2-1h0m-17-1h0m17 0h0m-18 0h0m11 0h0m-7 0h0m-10-1h0m20 0h0m3 0h0m-4 0h0m-19 0h0m19-1h0m-1 0h0m1 0h0m-10 0h0m-7-1h0m3-2h0m18-1h0m-7-1h0m6 0h0m-8-1h0m4-1h0m-18 0h0m24 0h0m-2-1h0m-22-1h0m6-1h0m16 0h0m-14 0h0m6-2h0m-11 0h0m8-1h0m-7 0h0m5-1h0m12-1h0m1-1h0m-7 0h0m4 0h0m5 0h0m-9-2h0m-6 0h0m8-1h0m-5 0h0m0-2h0m1 0h0m2-1h0m-9-1h0m9-1h0m-6-2h0m-2 0h0m-7 0h0m13 0h0m-13 0h0m11-1h0m9-1h0m-2 0h0m4-1h0m-14 0h0m-4-1h0m4 0h0m2 0h0m-2 0h0m13-1h0m-2-1h0m-6 0h0m-9-1h0m2 0h0m-1 0h0m18-1h0m-4 0h0m-3 0h0m-10 0h0m7 0h0m-3-2h0m9 0h0m-1-2h0m-16 0h0m8 0h0m9 0h0m-4 0h0m-7-1h0m11 0h0m-1 0h0m2 0h0m-19 0h0m17 0h0m4-1h0m-20 0h0m13 0h0m-5 0h0m8-1h0m5 0h0m-11 0h0m1 0h0m-9-1h0m2 0h0m5-1h0m-11 0h0m24 0h0m-13 0h0m-11-1h0m19 0h0m-3-1h0m-5 0h0m-9 0h0m19-1h0m-6 0h0m3 0h0m6 0h0m-2 0h0m-4-1h0m-2-1h0m6-1h0m2 0h0m-2 0h0m-4-1h0m-8 0h0m-10 0h0m18 0h0m-8 0h0m-9-1h0m7-1h0m9-1h0m-12 0h0m11-1h0m-2 0h0m9 0h0m-17-1h0m16 0h0m-16 0h0m12 0h0m-1-1h0m-13 0h0m4 0h0m5-1h0m-3-1h0m12 0h0m-16 0h0m4-1h0m-6 0h0m3 0h0m-4 0h0m14 0h0m-2 0h0m-8 0h0m13 0h0m-8-1h0m-2 0h0m13 0h0m0-1h0m-10 0h0m-8 0h0m8 0h0m9-1h0m-7 0h0m1 0h0m-8 0h0m12 0h0m-6-1h0m8 0h0m-15 0h0m9 0h0m-10-1h0m8 0h0m6-1h0m-11 0h0m10 0h0m-16 0h0m20 0h0m-6 0h0m-4-1h0m6-1h0m-9-1h0m-2 0h0m2 0h0m13 0h0m-6 0h0m-17 0h0m10-1h0m14 0h0m-16 0h0m-6 0h0m19-1h0m-11 0h0m5 0h0m1 0h0m-4-2h0m7 0h0m-13 0h0m14 0h0m2-1h0m-18 0h0m6 0h0m-8 0h0m22 0h0m-11 0h0m-12-2h0m4 0h0m-4-1h0m14 0h0m2 0h0m-1-1h0m6 0h0m-5 0h0m-1 0h0m-12 0h0m1-1h0m8 0h0m-12-1h0m22 0h0m0 0h0m-10 0h0m0 0h0m6 0h0m5-1h0m-1 0h0m-17 0h0m8-1h0m-6 0h0m15-1h0m1 0h0m-17 0h0m-7 0h0m18 0h0m-9 0h0m7-1h0m-12 0h0m-3-1h0m23 0h0m-6 0h0m-15-1h0m-2 0h0m15 0h0m-15 0h0m11 0h0m-1-1h0m0 0h0m-11 0h0m12 0h0m10 0h0m-3-1h0m-12 0h0m-2 0h0m-5 0h0m0 0h0m5 0h0m-2-1h0m3 0h0m13 0h0m-11 0h0m12 0h0m0 0h0m-10-1h0m9 0h0m-2 0h0m1-1h0m5 0h0m-4 0h0m-3 0h0m5-1h0m-19 0h0m10 0h0m8-1h0m-20 0h0m21 0h0m-4 0h0m-17-1h0m0 0h0m17 0h0m-3 0h0m-6 0h0m15 0h0m-20 0h0m18-1h0m-15 0h0m14 0h0m-5 0h0m5-1h0m-13 0h0m-3 0h0m11 0h0m2 0h0m-7-1h0m3 0h0m11 0h0m-14-1h0m14-1h0m-4-1h0m-9 0h0m-10 0h0m-1-1h0m5 0h0m15 0h0m-11 0h0m3-1h0m-1 0h0m-3 0h0m6 0h0m-4 0h0m2-1h0m-12 0h0m20-1h0m-20 0h0m5 0h0m17 0h0m-22-1h0m19-1h0m4 0h0m-19 0h0m18 0h0m-14 0h0m13 0h0m-8 0h0m11-1h0m-12 0h0m7 0h0m5-1h0m-9 0h0m-13 0h0m21 0h0m-7-1h0m-11 0h0m16 0h0m-6 0h0m9-1h0m0 0h0m0-1h0m0 0h0m-4 0h0m-6 0h0m-13-1h0m22 0h0m-5 0h0m1 0h0m2 0h0m-21 0h0m23-1h0m-23 0h0m18 0h0m-2-1h0m-2 0h0m8 0h0m-19 0h0m-2 0h0m8 0h0m9 0h0m-10-1h0m10 0h0m5 0h0m-12-1h0m0 0h0m1 0h0m1 0h0m4 0h0m-4-1h0m1 0h0m-7 0h0m-2 0h0m19 0h0m-2-1h0m-15 0h0m11 0h0m4 0h0m-7 0h0m-1-1h0m-3 0h0m7 0h0m-17 0h0m16 0h0m4-1h0m-1 0h0m-8-1h0m4 0h0m7 0h0m-12 0h0m-10 0h0m12 0h0m11 0h0m-8 0h0m3-1h0m-16 0h0m21 0h0m0 0h0m-19-1h0m14 0h0m-7 0h0m9 0h0m0 0h0m-6-1h0m-3 0h0m-5 0h0m4 0h0m12-1h0m-7 0h0m2 0h0m3 0h0m-13-1h0m-2 0h0m0 0h0m12-1h0m-15 0h0m1 0h0m11 0h0m9-1h0m-24 0h0m18-1h0m-12 0h0m15 0h0m-1-1h0m-13 0h0m5-1h0m-5 0h0m12 0h0m4-1h0m-7 0h0m-11 0h0m-2 0h0m7 0h0m7-1h0m-4 0h0m-9 0h0m8 0h0m0 0h0m12-1h0m-5 0h0m2 0h0m-17-1h0m13 0h0m-1 0h0m5 0h0m-7 0h0m-4 0h0m-7 0h0m10 0h0m10-1h0m-4 0h0m-12 0h0m5 0h0m5-1h0m-11 0h0m13-2h0m-6 0h0m8-2h0m-3 0h0m-1 0h0m-6 0h0m-7-1h0m19 0h0m-19 0h0m12-1h0m1 0h0m-4-2h0m3 0h0m-13 0h0m7 0h0m2 0h0m-7-1h0m6-1h0m-5 0h0m4 0h0m0 0h0m4 0h0m2 0h0m-5 0h0m-11 0h0m12-1h0m-7 0h0m7 0h0m-8 0h0m12 0h0m-16 0h0m3 0h0m16-1h0m-16 0h0m18 0h0m-11 0h0m-6-1h0m14 0h0m3 0h0m-15 0h0m4-1h0m-7 0h0m14-1h0m-4 0h0m0 0h0m-4 0h0m5 0h0m-4 0h0m5-1h0m-11 0h0m1 0h0m13 0h0m-3-1h0m-4 0h0m-4-1h0m-3-1h0m9 0h0m-9-1h0m1-1h0m-4-1h0m10 0h0m7 0h0m-12-1h0m-6 0h0m15-1h0m2 0h0m-17-1h0m16 0h0m-2-1h0m-5 0h0m6 0h0m-10 0h0m18-1h0m-16 0h0m-6-1h0m16 0h0m-6 0h0m13-1h0m-22 0h0m18 0h0m0 0h0m-13-1h0m12 0h0m-7 0h0m3-1h0m-3 0h0m1 0h0m6-1h0m-17 0h0m20 0h0m-1-1h0m-4 0h0m-9-1h0m4-1h0m-1 0h0m-7 0h0m9-1h0m-5 0h0m0-1h0m6 0h0m4-1h0m-14-1h0m10 0h0m-12 0h0m13-1h0m6-1h0m3 0h0m-2-2h0m-16 0h0m-4-1h0m1 0h0m-3 0h0m13 0h0m5-1h0m0 0h0m-13 0h0m9-1h0m-7 0h0m10-1h0m5-2h0m-19-1h0m12 0h0m1-1h0m8-1h0m-12 0h0m-2-4h0m-9-1h0m1 0h0m15-1h0m7-3h0m-10-1h0m9 0h0m-13 0h0m-1-1h0m4 0h0m10 0h0m-5-2h0m6 0h0m-5 0h0m2 0h0m2-1h0m-14 0h0m-2-2h0m12 0h0m-4-2h0m-10-1h0m5 0h0m-10-1h0m22 0h0m-5-4h0m0-1h0m-13-1h0m19-1h0m-21-1h0m8 0h0m-7 0h0m7-3h0m-5 0h0m10-1h0m-1-1h0m-9-2h0m15-2h0m4 0h0m-14-4h0m-2-1h0m16-2h0m-24-2h0m10-8h0m-2-1h0m6-6h0m-3-4h0m-6-1h0m10 0h0m-6-8h0m10-3h0m5 0h0m-21-1h0m16-3h0m-17 0h0m10-1h0m-5-1h0m12 0h0m-7-11h0m-12-6h0m21-14h0m3 0h0m-9-3h0m-13-9h0m19-37h0m0-4h0m10 38h0m18 3h0m-19 8h0m18 8h0m-10 20h0m8 1h0m2 1h0m-16 1h0m3 7h0m-4 0h0m11 10h0m-12 2h0m5 3h0m5 1h0m5 2h0m-19 1h0m10 2h0m-11 0h0m24 2h0m-3 2h0m2 1h0m-15 3h0m15 1h0m1 2h0m-4 2h0m-11 2h0m-3 2h0m-6 2h0m23 6h0m-9 2h0m-9 0h0m5 1h0m-4 3h0m-5 0h0m13 0h0m-11 3h0m21 1h0m-12 0h0m-7 1h0m-2 1h0m8 1h0m-3 1h0m7 0h0m2 4h0m0 0h0m-7 1h0m-9 1h0m8 0h0m5 1h0m-11 0h0m10 1h0m-4 0h0m12 1h0m-10 1h0m6 3h0m-3 1h0m-13 0h0m14 0h0m-5 0h0m1 0h0m-8 1h0m2 0h0m2 1h0m7 0h0m2 0h0m8 1h0m-4 1h0m-2 0h0m2 1h0m-7 0h0m-2 0h0m2 1h0m10 0h0m-9 1h0m-12 0h0m6 1h0m6 0h0m0 0h0m-14 1h0m10 0h0m8 1h0m-6 0h0m-2 0h0m12 1h0m-5 1h0m-13 1h0m1 0h0m4 1h0m-4 0h0m14 0h0m-8 1h0m-11 0h0m10 0h0m8 0h0m-9 1h0m13 0h0m-8 0h0m-1 1h0m-2 0h0m4 1h0m-9 1h0m11 1h0m-14 0h0m12 0h0m-11 0h0m9 0h0m9 0h0m1 2h0m-13 0h0m-2 0h0m-8 0h0m11 0h0m7 1h0m-4 0h0m-1 0h0m3 1h0m7 0h0m-22 1h0m16 0h0m-2 0h0m-15 0h0m2 0h0m12 1h0m-9 0h0m2 1h0m-1 0h0m1 0h0m5 0h0m8 1h0m-9 1h0m-4 0h0m8 0h0m-1 1h0m-14 0h0m14 1h0m-10 0h0m14 0h0m6 1h0m-3 0h0m-2 0h0m-8 0h0m-5 1h0m10 1h0m-15 0h0m22 1h0m1 0h0m-14 0h0m1 1h0m8 0h0m1 0h0m3 1h0m-2 0h0m3 0h0m-14 0h0m14 0h0m-23 1h0m13 0h0m-12 0h0m7 0h0m10 0h0m-7 0h0m-2 0h0m2 1h0m3 0h0m-1 0h0m-10 2h0m14 0h0m1 0h0m-19 0h0m10 1h0m9 0h0m3 0h0m-3 1h0m-3 0h0m4 0h0m-9 0h0m13 0h0m-7 1h0m1 0h0m-5 1h0m5 0h0m-10 0h0m10 0h0m-12 0h0m18 1h0m-22 0h0m0 0h0m9 0h0m3 0h0m-9 1h0m0 0h0m5 1h0m-8 0h0m17 0h0m-19 0h0m6 1h0m8 0h0m-2 0h0m-11 1h0m21 0h0m-1 0h0m-14 1h0m0 0h0m-2 0h0m16 0h0m-18 0h0m16 1h0m-10 0h0m-2 0h0m15 1h0m-10 0h0m10 0h0m-14 1h0m6 0h0m-3 0h0m-7 1h0m16 0h0m-12 0h0m-2 0h0m-5 0h0m4 0h0m8 0h0m-9 0h0m-1 0h0m8 1h0m-1 1h0m-6 0h0m4 0h0m-3 0h0m12 1h0m-8 0h0m6 0h0m6 0h0m-12 2h0m3 0h0m-12 0h0m17 0h0m-15 1h0m19 0h0m-17 0h0m15 0h0m-7 0h0m-12 1h0m24 0h0m-15 0h0m-6 0h0m20 1h0m-1 0h0m-18 0h0m18 0h0m-1 0h0m-2 0h0m-11 0h0m12 0h0m-18 0h0m9 0h0m-5 1h0m-4 0h0m9 0h0m0 0h0m-7 1h0m20 1h0m-10 0h0m-11 1h0m2 1h0m-4 0h0m18 1h0m-4 0h0m-13 0h0m6 0h0m-2 0h0m-4 1h0m8 0h0m-9 0h0m16 0h0m7 1h0m-9 0h0m-9 0h0m3 0h0m-1 0h0m12 0h0m-12 0h0m2 1h0m-6 0h0m17 0h0m-4 1h0m3 0h0m-3 0h0m-5 0h0m-4 0h0m-7 1h0m19 0h0m-15 0h0m18 0h0m-11 0h0m5 1h0m-7 0h0m4 0h0m-1 0h0m2 1h0m-8 0h0m7 0h0m-8 0h0m6 0h0m3 1h0m-6 0h0m-6 0h0m7 0h0m8 0h0m-3 1h0m-15 0h0m20 1h0m-5 0h0m-11 0h0m6 1h0m2 0h0m-10 0h0m11 1h0m-11 0h0m5 0h0m15 0h0m-8 0h0m-12 0h0m4 0h0m13 0h0m5 0h0m-6 1h0m-4 0h0m-1 0h0m-7 0h0m16 0h0m-9 1h0m-13 0h0m15 0h0m5 0h0m-4 1h0m-5 1h0m8 0h0m-10 1h0m-5 0h0m18 0h0m-8 0h0m6 0h0m-7 0h0m-7 1h0m16 1h0m-21 0h0m8 0h0m10 0h0m4 0h0m-5 0h0m-5 0h0m-2 0h0m7 0h0m-7 1h0m9 0h0m-13 0h0m16 0h0m-4 1h0m5 0h0m-2 0h0m-12 0h0m11 0h0m0 0h0m-8 0h0m2 1h0m7 0h0m-6 0h0m-8 0h0m11 0h0m-18 0h0m10 0h0m-9 0h0m4 1h0m12 0h0m-17 0h0m5 0h0m-2 0h0m18 0h0m-5 1h0m2 0h0m-9 0h0m3 0h0m-8 0h0m7 1h0m-3 0h0m-2 0h0m6 0h0m-9 0h0m18 1h0m-15 0h0m15 0h0m-2 0h0m-20 0h0m1 0h0m7 0h0m-6 1h0m10 0h0m-3 0h0m-8 0h0m15 0h0m-1 0h0m-9 1h0m3 0h0m-3 0h0m2 1h0m15 0h0m0 0h0m-14 1h0m-6 0h0m16 0h0m-16 0h0m12 0h0m0 1h0m-10 0h0m1 1h0m10 0h0m-7 0h0m-4 0h0m4 0h0m4 1h0m-6 0h0m0 1h0m15 0h0m-20 0h0m11 1h0m7 0h0m-6 1h0m-9 0h0m9 0h0m-4 0h0m-10 0h0m5 0h0m10 0h0m1 0h0m3 1h0m-18 0h0m18 1h0m-13 0h0m-3 0h0m14 0h0m-13 0h0m2 0h0m17 1h0m-4 0h0m-14 0h0m18 0h0m-7 0h0m-5 0h0m5 1h0m-16 0h0m10 0h0m2 1h0m-11 0h0m4 0h0m16 0h0m1 0h0m-21 1h0m16 0h0m7 0h0m-16 0h0m10 0h0m3 0h0m-21 0h0m22 0h0m-17 0h0m13 1h0m-13 0h0m9 0h0m7 0h0m2 0h0m-12 0h0m-3 0h0m-1 1h0m-4 0h0m5 0h0m6 0h0m-5 0h0m5 1h0m-3 0h0m9 0h0m-3 0h0m4 0h0m-3 1h0m-15 1h0m3 0h0m9 0h0m0 0h0m5 1h0m-17 1h0m15 0h0m-14 0h0m16 0h0m-18 0h0m20 0h0m-3 1h0m-10 0h0m14 0h0m0 0h0m-22 1h0m1 0h0m12 0h0m5 0h0m-9 1h0m-1 0h0m0 0h0m-7 0h0m-1 1h0m7 0h0m14 1h0m-19 0h0m-3 0h0m0 0h0m0 0h0m22 1h0m-21 0h0m21 0h0m2 0h0m-3 1h0m-17 0h0m19 0h0m-23 0h0m10 1h0m-3 0h0m9 0h0m-12 0h0m16 0h0m-9 0h0m-3 1h0m10 0h0m-4 0h0m-10 1h0m17 0h0m-5 0h0m5 0h0m-20 1h0m7 0h0m6 0h0m0 0h0m-12 1h0m9 0h0m-7 0h0m16 0h0m-13 0h0m1 1h0m13 0h0m-20 0h0m10 0h0m6 1h0m-14 0h0m0 0h0m8 0h0m-2 1h0m3 0h0m6 1h0m0 0h0m-6 0h0m-2 0h0m11 1h0m-4 0h0m-6 0h0m7 1h0m-11 0h0m12 0h0m4 1h0m-15 0h0m12 1h0m-12 0h0m0 1h0m3 0h0m-4 0h0m1 0h0m-5 0h0m10 1h0m10 0h0m0 0h0m-13 0h0m-8 0h0m8 1h0m0 0h0m13 1h0m-14 0h0m13 0h0m-20 0h0m11 0h0m-6 1h0m0 0h0m8 1h0m-7 1h0m-8 0h0m16 0h0m-11 0h0m7 2h0m9 0h0m-21 0h0m12 1h0m9 0h0m-15 0h0m13 1h0m-9 0h0m6 0h0m7 0h0m-7 0h0m-10 0h0m15 0h0m-3 1h0m-11 0h0m-2 0h0m11 0h0m-15 1h0m20 1h0m1 0h0m-20 1h0m9 0h0m10 1h0m-17 0h0m10 1h0m-3 0h0m3 1h0m-6 2h0m12 0h0m-8 1h0m-6 0h0m9 1h0m9 0h0m-11 0h0m6 1h0m-16 0h0m2 0h0m5 1h0m-1 0h0m-3 0h0m12 0h0m-14 0h0m-2 0h0m16 1h0m6 0h0m-22 0h0m7 0h0m14 1h0m-19 0h0m-2 1h0m15 0h0m-12 0h0m-3 1h0m3 0h0m15 1h0m2 0h0m-4 1h0m5 0h0m-2 2h0m-1 1h0m-11 1h0m6 0h0m-9 0h0m14 0h0m-3 1h0m0 0h0m-17 0h0m17 1h0m-6 0h0m-2 1h0m10 0h0m4 1h0m-17 1h0m-1 1h0m11 0h0m-2 0h0m8 0h0m-3 1h0m-1 0h0m-12 0h0m-6 1h0m18 1h0m-13 1h0m7 1h0m0 0h0m0 2h0m-9 0h0m1 0h0m7 0h0m-3 0h0m5 1h0m7 0h0m1 0h0m-20 2h0m-1 1h0m9 0h0m-3 1h0m11 0h0m3 1h0m-8 0h0m0 2h0m10 0h0m-4 3h0m-13 1h0m17 0h0m-21 3h0m21 0h0m2 2h0m-19 0h0m14 0h0m-11 0h0m10 6h0m3 0h0m-5 2h0m0 1h0m6 1h0m-13 1h0m5 3h0m7 3h0m-7 0h0m-8 6h0m16 1h0m11-1h0m16 0h0m-18 0h0m-2-3h0m19 0h0m-10-1h0m-2-1h0m-11 0h0m0-2h0m0-3h0m17-4h0m-10-1h0m-3-2h0m4-2h0m16 0h0m-4 0h0m-1-1h0m-5-2h0m2-1h0m2-2h0m0-2h0m-18-1h0m11-3h0m4-1h0m-2-1h0m-1-3h0m5-1h0m4-1h0m-18 0h0m21 0h0m-5-1h0m-14-4h0m-2 0h0m-1 0h0m12-1h0m-2-1h0m7-2h0m-10-1h0m4 0h0m-10-2h0m-3-1h0m13 0h0m-5-1h0m-3-1h0m5-1h0m-5-2h0m-4 0h0m-1 0h0m7-2h0m7 0h0m8 0h0m-7-1h0m-4 0h0m10 0h0m0-1h0m-13 0h0m-6-1h0m21 0h0m-20 0h0m17-1h0m0 0h0m-4 0h0m7-1h0m0-1h0m-7 0h0m-2 0h0m-7-1h0m9 0h0m-13-1h0m17 0h0m-5-1h0m-10 0h0m-1-1h0m6 0h0m-9-2h0m6 0h0m-6 0h0m4-1h0m10-2h0m-3-2h0m2 0h0m10 0h0m-12-1h0m7 0h0m-14 0h0m-4-1h0m6 0h0m17 0h0m-10 0h0m-4 0h0m-1-1h0m10 0h0m-17-1h0m6 0h0m4-1h0m-7 0h0m14-1h0m-15 0h0m7-1h0m-6-1h0m2-1h0m2 0h0m-7 0h0m19-1h0m-9 0h0m-1 0h0m11-1h0m-1-1h0m-20 0h0m-1-2h0m13 0h0m-3-1h0m-7 0h0m14 0h0m1 0h0m-15 0h0m17 0h0m-17 0h0m0 0h0m6-1h0m0-2h0m15 0h0m-22 0h0m4-1h0m-6 0h0m16-1h0m-10 0h0m12-1h0m-6 0h0m9 0h0m-6 0h0m-1 0h0m7 0h0m-18 0h0m12-1h0m-15 0h0m23-1h0m-12 0h0m10 0h0m-2 0h0m-10-1h0m-5 0h0m6-1h0m11 0h0m-3 0h0m-9 0h0m2 0h0m4-1h0m-15 0h0m2-1h0m15-1h0m-16 0h0m3 0h0m4 0h0m14-1h0m-20 0h0m17 0h0m-2-1h0m-8 0h0m5 0h0m10-1h0m-9 0h0m-15 0h0m7-1h0m-6 0h0m19-1h0m-10-1h0m-7 0h0m6 0h0m-7 0h0m5-2h0m3-1h0m0 0h0m-5 0h0m18-1h0m-19 0h0m8 0h0m-7 0h0m4-1h0m10-1h0m-11 0h0m0 0h0m11-1h0m0 0h0m-3 0h0m4 0h0m-9 0h0m-8-1h0m8 0h0m8 0h0m4-1h0m-11 0h0m1 0h0m7-1h0m-7 0h0m-5-1h0m9 0h0m-6 0h0m11 0h0m-14-1h0m5 0h0m-2 0h0m0 0h0m-4 0h0m-6-1h0m11 0h0m4 0h0m-2 0h0m8-1h0m1 0h0m-20 0h0m19 0h0m-8-1h0m-1-1h0m-7 0h0m13 0h0m3-1h0m-6 0h0m-6 0h0m10 0h0m4 0h0m-24-1h0m24 0h0m-8 0h0m4 0h0m3 0h0m-22-1h0m11 0h0m-6 0h0m0 0h0m-1 0h0m0 0h0m8-1h0m7 0h0m0 0h0m-4 0h0m4 0h0m-17 0h0m12-1h0m-12 0h0m5 0h0m10-1h0m-6 0h0m1 0h0m-13-1h0m22 0h0m-17 0h0m-3 0h0m11-1h0m-9 0h0m18 0h0m-20 0h0m2-1h0m1 0h0m8 0h0m-5 0h0m-6 0h0m21 0h0m-4 0h0m-7 0h0m-1-1h0m-8 0h0m13 0h0m-8-1h0m7 0h0m1 0h0m-11 0h0m2 0h0m2-1h0m7 0h0m3 0h0m-10 0h0m-9 0h0m20-1h0m-7 0h0m8 0h0m2 0h0m-2-1h0m-19 0h0m12 0h0m-9 0h0m7 0h0m-10 0h0m2 0h0m19-1h0m-13 0h0m5 0h0m3 0h0m-14-1h0m-3 0h0m5 0h0m1 0h0m-7-1h0m15 0h0m-9 0h0m13-1h0m-14 0h0m4 0h0m5 0h0m-5-1h0m0-1h0m12-1h0m-20 0h0m7-1h0m14 0h0m-18 0h0m12-1h0m-10 0h0m-6 0h0m3 0h0m5-1h0m5-1h0m11 0h0m-13 0h0m-9-1h0m1 0h0m0-1h0m13 0h0m-13 0h0m-1 0h0m1 0h0m9 0h0m4-1h0m-3-1h0m1 0h0m-10-1h0m1 0h0m0-1h0m5 0h0m13 0h0m-20 0h0m3-1h0m16 0h0m-2 0h0m-6 0h0m0-1h0m-10 0h0m-4 0h0m20 0h0m-6-1h0m-10 0h0m-3 0h0m22 0h0m-19 0h0m4 0h0m-5-1h0m18 0h0m-4 0h0m-8 0h0m11 0h0m-4-1h0m-1 0h0m-2 0h0m-13 0h0m12 0h0m10-1h0m-12 0h0m-1 0h0m14-1h0m-23 0h0m14 0h0m10 0h0m-21 0h0m14-1h0m-9 0h0m6-1h0m-14 0h0m1-1h0m14 0h0m-7 0h0m-1 0h0m2 0h0m15 0h0m-1-1h0m-13 0h0m-7 0h0m19 0h0m-14 0h0m7-1h0m-5-1h0m1 0h0m-2 0h0m8-1h0m0 0h0m1 0h0m-3-1h0m7 0h0m-5 0h0m-2 0h0m6-1h0m-5 0h0m-4 0h0m-2-2h0m-5-1h0m0-1h0m0 0h0m19 0h0m-5 0h0m-6-1h0m7-1h0m-2 0h0m-4 0h0m-1-1h0m-6 0h0m-2-1h0m13 0h0m-11 0h0m-5 0h0m10 0h0m-11 0h0m9 0h0m-2-1h0m-2 0h0m0-1h0m15 0h0m-4 0h0m7 0h0m-10 0h0m4-1h0m-16 0h0m2 0h0m3 0h0m14-1h0m-2 0h0m-2 0h0m-16 0h0m17 0h0m-11-1h0m-4-1h0m-2 0h0m3 0h0m-2 0h0m2 0h0m-2-1h0m22 0h0m-5 0h0m-13-1h0m-2-1h0m2 0h0m-5-1h0m9 0h0m6 0h0m-16-1h0m15 0h0m-11-1h0m-3 0h0m11 0h0m4 0h0m-3 0h0m8 0h0m-13-2h0m-8 0h0m3-1h0m21-2h0m-4-1h0m-15 0h0m7-1h0m11 0h0m-22 0h0m18-1h0m2 0h0m-14 0h0m9-2h0m-10-1h0m1 0h0m7-1h0m-11-1h0m-2 0h0m12 0h0m-12 0h0m15-2h0m-10 0h0m14 0h0m-5 0h0m-6-1h0m0 0h0m15-1h0m-2 0h0m-18-1h0m-3 0h0m3-1h0m11 0h0m-8-1h0m-7-1h0m11 0h0m1-1h0m11-1h0m-2 0h0m-7 0h0m5-1h0m-18 0h0m0-2h0m15-1h0m7-1h0m-17-1h0m10 0h0m-16 0h0m2-1h0m12 0h0m-5-1h0m15-1h0m-15-1h0m8 0h0m-5-1h0m-5 0h0m4-4h0m11 0h0m-15 0h0m-1 0h0m0-1h0m3 0h0m-1 0h0m15-1h0m-9-1h0m8-1h0m-21 0h0m17 0h0m-11-1h0m17 0h0m-12-1h0m7 0h0m-5 0h0m5-1h0m-15 0h0m7-1h0m8 0h0m-17 0h0m14-3h0m-8-1h0m4-2h0m-11 0h0m17-1h0m-14-1h0m15 0h0m-13 0h0m4-1h0m6-1h0m3-1h0m-12 0h0m13 0h0m-10 0h0m6-1h0m-11 0h0m12 0h0m5-3h0m-3 0h0m-8-3h0m-5 0h0m-5-1h0m19-1h0m-20 0h0m13-7h0m-13-4h0m20-1h0m-7-1h0m7-7h0m-8-2h0m-2-4h0m6-2h0m-5-5h0m13-4h0m-6-3h0m-2-2h0m-15-1h0m16-4h0m2-4h0m-2-17h0m7-58h0m-16-12h0m40-72h0m-20 138h0m13 19h0m-5 16h0m-6 11h0m-4 6h0m0 2h0m5 3h0m0 4h0m9 2h0m-10 2h0m18 2h0m-12 1h0m-8 1h0m18 0h0m-21 2h0m7 2h0m-3 0h0m12 2h0m-8 2h0m13 2h0m-20 0h0m16 5h0m-16 1h0m22 0h0m-17 1h0m-1 3h0m11 1h0m2 1h0m-16 1h0m4 3h0m6 4h0m-8 1h0m13 1h0m-2 0h0m-13 2h0m12 0h0m-9 3h0m0 0h0m16 0h0m-20 1h0m18 0h0m-16 2h0m6 0h0m-7 1h0m4 0h0m14 1h0m-12 0h0m0 5h0m-6 2h0m20 1h0m-6 2h0m-10 1h0m3 1h0m-2 1h0m10 0h0m-11 0h0m-3 2h0m9 0h0m-6 0h0m-2 0h0m3 1h0m6 0h0m2 1h0m-10 2h0m-1 0h0m-1 1h0m11 0h0m-5 0h0m3 1h0m-9 0h0m11 0h0m-6 1h0m14 0h0m-16 0h0m16 1h0m-22 1h0m0 0h0m5 0h0m-4 0h0m-1 0h0m6 0h0m4 1h0m11 2h0m-14 0h0m10 0h0m7 2h0m-21 0h0m2 1h0m14 0h0m-17 0h0m4 1h0m2 0h0m1 1h0m-6 0h0m21 1h0m-20 1h0m4 3h0m9 0h0m-4 1h0m-11 0h0m6 6h0m9 0h0m-8 1h0m-6 1h0m4 0h0m16 0h0m-17 1h0m5 0h0m-2 1h0m6 1h0m9 0h0m-5 0h0m-10 0h0m-9 2h0m3 0h0m7 1h0m-3 1h0m4 0h0m7 1h0m0 0h0m-10 1h0m-5 0h0m6 1h0m0 0h0m14 1h0m-22 0h0m11 3h0m1 0h0m11 1h0m-11 1h0m-3 1h0m10 1h0m-11 1h0m10 0h0m5 1h0m-15 1h0m6 0h0m-11 0h0m-4 1h0m6 1h0m17 1h0m-16 0h0m7 1h0m6 0h0m-2 1h0m-6 0h0m-11 1h0m18 1h0m-13 0h0m-4 0h0m3 1h0m2 0h0m1 2h0m2 0h0m0 0h0m13 0h0m-20 0h0m8 1h0m-4 0h0m0 0h0m-3 1h0m4 0h0m9 1h0m-16 1h0m3 0h0m-4 0h0m7 0h0m9 0h0m-5 1h0m-5 0h0m-6 1h0m11 1h0m2 0h0m-6 1h0m3 0h0m-3 0h0m-2 1h0m8 0h0m-13 0h0m7 1h0m9 0h0m-5 0h0m-7 1h0m8 1h0m4 1h0m-8 0h0m6 1h0m-9 3h0m0 0h0m9 0h0m-6 0h0m4 1h0m-12 1h0m7 0h0m8 1h0m-4 1h0m-6 0h0m6 1h0m8 0h0m-13 0h0m-1 0h0m12 1h0m2 1h0m-14 1h0m12 2h0m7 2h0m-24 1h0m0 0h0m4 1h0m4 1h0m2 1h0m2 0h0m1 1h0m-10 0h0m2 1h0m2 0h0m-7 0h0m21 0h0m-21 3h0m10 3h0m-8 0h0m-2 0h0m8 1h0m1 0h0m8 0h0m-9 1h0m13 1h0m-13 0h0m3 1h0m-4 0h0m6 1h0m-3 0h0m-3 1h0m-7 2h0m3 0h0m1 0h0m19 1h0m-20 0h0m17 0h0m-15 0h0m5 1h0m1 0h0m2 0h0m-4 0h0m-6 1h0m6 3h0m-1 1h0m13 2h0m-13 0h0m-4 1h0m-3 1h0m3 1h0m9 3h0m5 1h0m-12 0h0m11 4h0m-13 0h0m8 1h0m-6 1h0m17 1h0m-5 0h0m-15 1h0m2 0h0m4 0h0m-5 3h0m5 0h0m2 0h0m-11 1h0m12 0h0m-12 0h0m10 1h0m14 3h0m-23 0h0m3 1h0m2 0h0m-5 1h0m22 0h0m-1 0h0m-2 1h0m0 1h0m-4 2h0m-12 0h0m12 2h0m4 0h0m-18 0h0m6 2h0m-7 1h0m9 2h0m6 0h0m-14 3h0m7 1h0m10 0h0m-16 1h0m11 1h0m3 2h0m-14 3h0m5 0h0m-1 2h0m-4 0h0m6 5h0m-4 4h0m-3 0h0m19 4h0m-21 0h0m19 4h0m-19 0h0m10 1h0m4 0h0m-14 2h0m8 2h0m11 7h0m-17 6h0m1 0h0m17 0h0m14-2h0m-8-7h0m12-15h0m-10-17h0m13-6h0m-14-1h0m8-5h0m-1 0h0m12-1h0m3-1h0m-14 0h0m-6-2h0m12-3h0m-6-1h0m10-5h0m-16-1h0m-2-1h0m21-2h0m-20-3h0m7-1h0m-5-2h0m0-2h0m18-1h0m-7-1h0m0-1h0m-15-2h0m11-3h0m2 0h0m-11-6h0m-2-1h0m6-2h0m11 0h0m2-3h0m-14-1h0m8-1h0m6-1h0m2 0h0m2-1h0m-13-1h0m-4 0h0m-3-3h0m-4-1h0m23-1h0m-9-2h0m-11 0h0m17-1h0m-16 0h0m7-4h0m-6-3h0m-5-2h0m4 0h0m9-1h0m5 0h0m-10-1h0m14-1h0m-14-3h0m11-3h0m-1 0h0m-16-2h0m-2-1h0m16-3h0m-12-1h0m15-2h0m-11-2h0m13-1h0m-11 0h0m-8-1h0m15 0h0m-7-1h0m9 0h0m-9-4h0m0-3h0m-8-1h0m3 0h0m-3-3h0m5 0h0m7-1h0m-1-1h0m-8-1h0m7-1h0m-4 0h0m13-4h0m-1 0h0m-12 0h0m-8 0h0m13-1h0m-2-1h0m2-2h0m-8-2h0m7 0h0m3-1h0m5 0h0m-18 0h0m7 0h0m12-3h0m-9 0h0m4-1h0m-15 0h0m19-1h0m-9 0h0m-6-1h0m11-1h0m2-1h0m-7 0h0m12-2h0m-13-3h0m4-2h0m-11-2h0m21-2h0m-22 0h0m13 0h0m-12 0h0m12-4h0m-9-1h0m6 0h0m-8 0h0m1-1h0m16-2h0m-13-1h0m16 0h0m-12-1h0m12-1h0m-21-1h0m9 0h0m11-1h0m-21-6h0m19-2h0m-6 0h0m-9-9h0m4-3h0m-4 0h0m-3-2h0m16 0h0m-15 0h0m9-7h0m-5-4h0m-6 0h0m11-1h0m7-2h0m3-1h0m-5 0h0m-16-3h0m20-2h0m-15-5h0m4-1h0m2-4h0m-2-1h0m-4 0h0m-4-3h0m8-7h0m-6-5h0m6-1h0m1-6h0m-9 0h0m5-4h0m2 0h0m11-1h0m-17-3h0m5-5h0m10-1h0m-3-13h0m-4-3h0m-12-32h0m9-14h0m4-4h0m17 24h0m-5 68h0m11 1h0m-5 8h0m18 4h0m-11 5h0m-13 0h0m1 10h0m1 4h0m14 6h0m-5 3h0m6 8h0m-11 10h0m16 2h0m-21 9h0m-1 2h0m11 3h0m6 4h0m4 2h0m-2 9h0m0 6h0m4 6h0m-1 5h0m-13 1h0m7 4h0m-7 8h0m-4 3h0m2 1h0m5 1h0m-8 1h0m15 2h0m-13 4h0m16 1h0m-22 1h0m3 9h0m15 1h0m-14 1h0m20 9h0m-23 0h0m9 7h0m-7 10h0m7 3h0m2 5h0m-2 2h0m2 6h0m2 6h0m-14 0h0m14 8h0m4 1h0m-7 1h0m11 4h0m-5 0h0m-15 4h0m2 6h0m4 10h0m-6 3h0m4 11h0m3 1h0m13 1h0m-7 3h0m-11 10h0m3 0h0m19-28h0m22-23h0m-16-6h0m3-8h0m-7-9h0m6-12h0m-3-9h0m16-6h0m2-2h0m-21-15h0m0-9h0m-3-3h0m18-4h0m-15-8h0m11-12h0m-10-2h0m-2-15h0m16-6h0m-18-2h0m2-2h0m11-21h0m-2-10h0m10-2h0m3-9h0m-10-3h0m-1-25h0m2-7h0m-10-19h0m6-86h0m31 148h0m0 54h0m-14 6h0m7 29h0m-2 42h0m10 51h0m-15 12h0m32-97h0" stroke="#000" stroke-opacity="0.45" stroke-width="6.2" stroke-linecap="round" fill="none"/>
<path transform="scale(.1)" d="m673 3296h0m-23 23h0m16 168h0m18 99h0m5-33h0m4-31h0m-16-5h0m-2-39h0m1-49h0m20-16h0m-21-35h0m13-28h0m9-132h0m-14-274h0m32-45h0m-7 22h0m3 88h0m-10 2h0m5 36h0m10 36h0m2 54h0m-14 12h0m-4 15h0m23 23h0m-16 56h0m15 95h0m-2 26h0m-1 12h0m-1 38h0m-4 15h0m-4 13h0m-3 2h0m11 0h0m-6 14h0m-2 11h0m5 3h0m5 2h0m1 5h0m-13 2h0m7 16h0m-14 13h0m21 1h0m-6 52h0m-2 6h0m-4 33h0m36 1h0m-1-5h0m-9-39h0m13-14h0m-19-1h0m1-1h0m13-3h0m-10-14h0m9-5h0m-13-1h0m8-12h0m-2-3h0m-7-4h0m10-1h0m-3-7h0m2-9h0m-8-12h0m5-9h0m-4-5h0m18-5h0m-12-2h0m3-1h0m-4-1h0m-9-6h0m-1-57h0m3-8h0m19-7h0m-17-1h0m-6-11h0m12-13h0m8-18h0m-6-110h0m-9-11h0m13-61h0m5-6h0m-19-2h0m16-6h0m-5-1h0m0-21h0m-2-2h0m4-7h0m3-37h0m-2-44h0m-7-38h0m8-38h0m-1-31h0m-1-76h0m17 35h0m-3 4h0m0 7h0m-1 8h0m6 17h0m4 18h0m4 14h0m-5 5h0m7 3h0m-3 1h0m-10 24h0m15 7h0m-1 11h0m-17 8h0m0 2h0m-5 0h0m2 2h0m0 0h0m4 10h0m13 6h0m-4 8h0m-10 2h0m-3 7h0m14 2h0m-13 1h0m19 13h0m-17 2h0m1 0h0m11 2h0m-6 14h0m12 19h0m-11 26h0m-11 4h0m16 25h0m1 27h0m4 41h0m-7 70h0m-2 52h0m-2 38h0m-1 28h0m-6 1h0m20 3h0m-13 3h0m4 6h0m-4 3h0m6 11h0m2 10h0m-4 3h0m7 2h0m-13 0h0m-2 0h0m16 3h0m0 2h0m-9 4h0m-3 1h0m-6 6h0m11 5h0m-8 9h0m16 3h0m-2 1h0m-14 11h0m-5 2h0m15 0h0m-2 1h0m-7 6h0m-1 5h0m-4 5h0m14 3h0m-5 1h0m-9 9h0m6 7h0m-5 2h0m0 8h0m16 1h0m-15 0h0m6 16h0m0 3h0m0 6h0m-5 1h0m-4 33h0m19 4h0m5-24h0m4-1h0m14-2h0m-11-2h0m-1-3h0m16-4h0m-22-1h0m14-2h0m-5-1h0m-3-8h0m-7-8h0m3-1h0m18-1h0m-10-8h0m12-4h0m-14-4h0m7-1h0m1-6h0m-4-4h0m-11 0h0m21-1h0m-20-9h0m1-5h0m19-4h0m-24-3h0m3-3h0m1 0h0m18 0h0m-13-1h0m13 0h0m-15-11h0m10-1h0m-12-3h0m19 0h0m-14 0h0m9-2h0m-19-3h0m3-1h0m16-2h0m-2-3h0m-3-14h0m-6 0h0m8-7h0m-7-7h0m-1-2h0m16-11h0m0-1h0m-2-25h0m0-8h0m-12-17h0m-1-143h0m5-16h0m-2-11h0m7-6h0m4-32h0m-9-3h0m9-1h0m-11-1h0m11-5h0m-7-3h0m0-6h0m-13-21h0m8 0h0m-4-11h0m0-5h0m17-4h0m-19-7h0m-5-4h0m5-3h0m3-2h0m-2-9h0m13-1h0m-11-2h0m11-7h0m-12-1h0m7 0h0m-9-6h0m10 0h0m-5 0h0m2-4h0m-11 0h0m13-3h0m-7-2h0m5-4h0m9-9h0m-10-5h0m1-3h0m-10-8h0m6-14h0m1-3h0m-8-5h0m15-5h0m-15-2h0m12-1h0m6-3h0m-3-2h0m0-5h0m-1-3h0m-4 0h0m13-4h0m-21-11h0m-2-7h0m2-15h0m13-5h0m-7-10h0m12-4h0m-18-7h0m1-4h0m15-9h0m-18-5h0m4-10h0m0-36h0m6-42h0m15 19h0m5 16h0m14 19h0m-11 5h0m3 13h0m-9 14h0m8 4h0m8 1h0m-13 4h0m-4 5h0m22 9h0m-17 0h0m13 20h0m3 5h0m-6 1h0m-3 3h0m-6 3h0m3 7h0m-9 7h0m8 2h0m13 3h0m-6 2h0m-16 7h0m21 1h0m-13 11h0m7 6h0m-12 1h0m15 2h0m-9 0h0m1 1h0m-10 6h0m17 1h0m-18 5h0m11 2h0m-11 3h0m20 1h0m-12 3h0m0 2h0m-1 1h0m0 7h0m10 1h0m2 3h0m-1 1h0m2 0h0m-3 1h0m4 1h0m1 5h0m-10 0h0m1 5h0m3 1h0m1 1h0m1 2h0m-16 1h0m7 17h0m-6 2h0m19 5h0m-17 1h0m3 1h0m4 0h0m8 2h0m1 1h0m-2 1h0m-6 9h0m-8 2h0m-2 2h0m13 7h0m-11 8h0m7 2h0m6 12h0m1 2h0m-3 0h0m-14 4h0m9 2h0m13 6h0m0 2h0m-18 4h0m11 13h0m-1 8h0m-9 10h0m-1 26h0m16 20h0m-8 39h0m-11 23h0m20 9h0m-14 7h0m0 40h0m9 3h0m0 0h0m-7 5h0m7 10h0m0 22h0m-4 5h0m4 3h0m-13 3h0m19 2h0m-23 3h0m19 3h0m-10 0h0m7 5h0m-2 6h0m-14 4h0m10 1h0m5 1h0m4 10h0m-9 6h0m-3 4h0m8 2h0m-16 10h0m2 8h0m12 2h0m8 1h0m-19 0h0m-2 4h0m17 1h0m-18 0h0m6 3h0m-6 0h0m13 2h0m0 1h0m-8 3h0m6 1h0m3 2h0m1 2h0m6 1h0m-3 4h0m-2 4h0m-2 0h0m3 2h0m3 2h0m-7 0h0m-13 4h0m22 3h0m-1 2h0m-7 4h0m-12 3h0m4 8h0m-2 6h0m15 2h0m-12 6h0m13 2h0m-5 2h0m-2 8h0m-13 6h0m4 5h0m1 2h0m-1 9h0m19 4h0m0 6h0m-2 6h0m0 0h0m-14 6h0m42 26h0m0-7h0m-3-1h0m-10-13h0m-10-9h0m9-3h0m4-3h0m-5-8h0m4 0h0m-5-8h0m9-2h0m-5-8h0m4 0h0m7-4h0m-10-2h0m11-4h0m-24 0h0m22-6h0m-18-7h0m-1-1h0m10-7h0m0-1h0m-7-10h0m-6-2h0m8-2h0m-6-7h0m1-9h0m21-3h0m-20-1h0m10-9h0m9-2h0m-22-7h0m6 0h0m1-4h0m-1-1h0m15-1h0m-5 0h0m-9-3h0m9-3h0m-12-3h0m-3-3h0m12-2h0m-7-4h0m1-8h0m7-1h0m7-2h0m-7-7h0m-5-11h0m-2-5h0m8-2h0m-8-14h0m10-3h0m1-6h0m-12-16h0m13-5h0m-15-1h0m12-6h0m-3-13h0m-1-5h0m8-18h0m-14-82h0m8-13h0m-10-4h0m-5-39h0m11-27h0m-3-13h0m-7-1h0m8-6h0m4-3h0m-7-4h0m16 0h0m-13-1h0m6-2h0m1-5h0m-16-2h0m24 0h0m-3-3h0m-14 0h0m10-2h0m4-4h0m-1-4h0m-12-2h0m6-1h0m3-3h0m7-2h0m-9-1h0m-7-7h0m-6-1h0m1-6h0m16-1h0m-7-2h0m-10-3h0m21-1h0m-14-2h0m-4-2h0m18-3h0m-14-9h0m13-1h0m-20-1h0m7-2h0m9-2h0m-9 0h0m-5-8h0m-4-2h0m11-7h0m13 0h0m-17-1h0m16-3h0m-3 0h0m-2-2h0m-6-1h0m4-2h0m2 0h0m-11-3h0m-3-1h0m8-3h0m-8 0h0m-2-2h0m12-4h0m8-6h0m-10-1h0m-2-5h0m-2-2h0m15-5h0m-23-1h0m24-3h0m-6 0h0m-7-2h0m-1 0h0m-9-5h0m21-7h0m-22-17h0m12-1h0m5 0h0m-1-6h0m5-2h0m-18-6h0m20-2h0m-13-2h0m-2-8h0m15-1h0m-21-14h0m6 0h0m9-19h0m-9-9h0m-3-22h0m6-29h0m14 20h0m1 13h0m5 1h0m-2 6h0m15 5h0m-2 3h0m2 1h0m-19 9h0m21 6h0m-6 7h0m4 45h0m-19 4h0m13 10h0m2 1h0m9 2h0m-2 0h0m-7 1h0m-6 2h0m-8 1h0m2 0h0m14 4h0m0 2h0m3 3h0m-3 3h0m-13 0h0m19 1h0m-13 0h0m-9 3h0m18 1h0m-18 4h0m11 4h0m2 5h0m-1 8h0m-2 3h0m4 3h0m-9 17h0m1 1h0m-7 3h0m10 4h0m-3 0h0m1 3h0m-7 1h0m13 15h0m-1 7h0m10 1h0m-22 1h0m8 3h0m7 4h0m3 2h0m0 3h0m-19 4h0m2 4h0m11 6h0m-7 2h0m4 1h0m5 1h0m-6 6h0m-7 2h0m11 3h0m6 7h0m-19 6h0m21 2h0m-7 0h0m1 2h0m-15 1h0m1 1h0m10 2h0m-4 2h0m-5 4h0m22 0h0m-13 8h0m-9 1h0m1 4h0m3 13h0m10 2h0m-11 9h0m6 24h0m4 0h0m-6 10h0m-3 1h0m12 36h0m-15 49h0m18 44h0m-14 2h0m4 19h0m3 12h0m-7 0h0m17 11h0m-21 3h0m19 15h0m-4 15h0m-10 2h0m4 2h0m2 2h0m-13 2h0m10 1h0m-5 4h0m-4 4h0m0 1h0m0 1h0m1 2h0m8 2h0m7 3h0m-17 13h0m18 8h0m-7 2h0m7 4h0m2 0h0m-19 2h0m3 2h0m6 2h0m-6 3h0m5 2h0m-1 6h0m-9 3h0m1 1h0m23 1h0m-5 1h0m-13 0h0m9 2h0m-11 2h0m4 1h0m10 0h0m-10 1h0m12 3h0m-13 4h0m17 0h0m-8 1h0m-5 0h0m6 1h0m1 2h0m1 3h0m-6 4h0m-10 1h0m3 10h0m7 11h0m-10 1h0m-1 14h0m10 0h0m5 6h0m-7 1h0m14 6h0m-6 10h0m-14 18h0m6 7h0m2 7h0m34-10h0m-19-3h0m13-20h0m-4-12h0m5-8h0m6-1h0m-11-12h0m-4-3h0m10-7h0m-6-2h0m-5-8h0m6-2h0m1-9h0m5-7h0m-8-2h0m3-8h0m0-7h0m2-3h0m-3-3h0m-1-4h0m5-5h0m8-2h0m-21-2h0m-3 0h0m24 0h0m-15-7h0m15-10h0m-9-1h0m-3-5h0m-5-2h0m2-4h0m13-2h0m-19-3h0m3-5h0m3-4h0m-5-1h0m6-1h0m7-3h0m-17 0h0m22-5h0m-4-7h0m-16-18h0m5-29h0m-4-7h0m18-26h0m-4-64h0m3-17h0m4-21h0m-8-9h0m6-70h0m-21-7h0m7-4h0m-2 0h0m3 0h0m6-3h0m-4-5h0m5-1h0m-9-4h0m12-11h0m-12-1h0m-5-20h0m5-5h0m3-6h0m2-7h0m4-3h0m-4-3h0m4-4h0m3-13h0m-10-2h0m-5-6h0m9-5h0m11-13h0m-22-3h0m19-1h0m-15-2h0m10-9h0m-1 0h0m2-6h0m-1 0h0m5-1h0m2-1h0m-8-12h0m-15-16h0m0-7h0m16-8h0m-1-1h0m7-18h0m-9 0h0m-7-9h0m2 0h0m-8-5h0m22-3h0m-2-10h0m-3-1h0m-12-2h0m1-7h0m9-3h0m-14-21h0m5-23h0m13-11h0m13 48h0m6 32h0m-8 14h0m6 1h0m-2 0h0m-5 2h0m13 5h0m2 6h0m1 7h0m-20 1h0m11 1h0m-2 4h0m-5 17h0m3 0h0m5 8h0m-4 7h0m7 16h0m-5 2h0m-9 3h0m20 11h0m-1 3h0m-13 5h0m-3 9h0m4 7h0m15 9h0m-8 1h0m-15 11h0m18 2h0m-7 0h0m-7 39h0m-2 18h0m16 1h0m-10 28h0m-2 14h0m12 2h0m-18 1h0m7 51h0m14 86h0m-13 64h0m10 18h0m-16 14h0m6 4h0m9 19h0m-11 5h0m4 0h0m-9 2h0m3 23h0m2 3h0m12 4h0m4 8h0m-15 1h0m4 1h0m1 0h0m9 1h0m3 1h0m-12 14h0m-11 15h0m-1 0h0m9 7h0m7 4h0m4 7h0m4 8h0m-20 6h0m-4 6h0m2 6h0m2 13h0m6 16h0m13 13h0m-10 10h0m27-3h0m0-43h0m-11-5h0m5-1h0m8-30h0m-9-2h0m1-22h0m1-7h0m-1-3h0m4-6h0m2-8h0m1-27h0m8-6h0m-22-5h0m13-4h0m4 0h0m-8-1h0m7-19h0m-11-89h0m15-37h0m-10-6h0m-1-44h0m-1-8h0m5-71h0m-12-52h0m18-21h0m3 0h0m-19-4h0m-1-12h0m19-12h0m-9-25h0m-6-8h0m3-2h0m-8 0h0m8-2h0m-7-19h0m8-17h0m-9-6h0m9-8h0m-10 0h0m21-60h0m-11-20h0m33-38h0m0 7h0m-15 87h0m3 30h0m10 12h0m-3 69h0m-3 69h0m-1 219h0m9 63h0m-18 66h0m19 107h0m-19 6h0m2 9h0m22-89h0m5-388h0m0-59h0m15-61h0m-9-18h0m-8-20h0m2-95h0m36 200h0m-11 18h0m6 379h0" stroke="#000" stroke-opacity="0.32" stroke-width="6.2" stroke-linecap="round" fill="none"/>
<path transform="scale(.1)" d="m438 3478h0m45-328h0m38-100h0m26 356h0m46-407h0m13-25h0m4 223h0m-2 140h0m-3 68h0m101-370h0m41 370h0m-8-193h0m-6-62h0m19 61h0m34 308h0m11-94h0m-19-60h0m8-122h0m-6-119h0m42 189h0m11 31h0m30 255h0m21-541h0m6-105h0m-2-127h0m46 399h0m6-236h0m19-193h0m43 319h0m43 93h0m12-169h0m3 240h0m17-426h0m25 266h0m97-91h0" stroke="#000" stroke-opacity="0.25" stroke-width="6.2" stroke-linecap="round" fill="none"/>
</g>
<rect x="39.0" y="276.8" width="84.8" height="85.19999999999999" fill="none" stroke="#000" stroke-width="1"/>
<line x1="71.5" y1="276.8" x2="71.5" y2="362" stroke="#000" stroke-width="0.8" stroke-linecap="butt"/>
<line x1="39.0" y1="331.3" x2="123.8" y2="331.3" stroke="#000" stroke-width="0.8" stroke-linecap="butt"/>
<text x="40.7" y="285.0" font-size="7.3" text-anchor="start" font-weight="bold" stroke="#000" stroke-width="0.3">26</text>
<text x="121.2" y="285.0" font-size="7.3" text-anchor="end" font-weight="bold" stroke="#000" stroke-width="0.3">5.8</text>
<text x="40.0" y="359.6" font-size="7.3" text-anchor="start" font-weight="bold" stroke="#000" stroke-width="0.3">60</text>
<text x="121.2" y="359.6" font-size="7.3" text-anchor="end" font-weight="bold" stroke="#000" stroke-width="0.3">7.8</text>
<line x1="36.6" y1="284.0" x2="39.0" y2="284.0" stroke="#000" stroke-width="0.8" stroke-linecap="butt"/>
<text x="34.2" y="286.5" font-size="7.1" text-anchor="end" font-weight="normal" stroke="#000" stroke-width="0.4">10</text>
<text x="34.4" y="283.4" font-size="4.0" text-anchor="start" font-weight="normal" stroke="#000" stroke-width="0.2">5</text>
<line x1="36.6" y1="302.8" x2="39.0" y2="302.8" stroke="#000" stroke-width="0.8" stroke-linecap="butt"/>
<text x="34.2" y="305.3" font-size="7.1" text-anchor="end" font-weight="normal" stroke="#000" stroke-width="0.4">10</text>
<text x="34.4" y="302.2" font-size="4.0" text-anchor="start" font-weight="normal" stroke="#000" stroke-width="0.2">4</text>
<line x1="36.6" y1="322.2" x2="39.0" y2="322.2" stroke="#000" stroke-width="0.8" stroke-linecap="butt"/>
<text x="34.2" y="324.7" font-size="7.1" text-anchor="end" font-weight="normal" stroke="#000" stroke-width="0.4">10</text>
<text x="34.4" y="321.59999999999997" font-size="4.0" text-anchor="start" font-weight="normal" stroke="#000" stroke-width="0.2">3</text>
<line x1="36.6" y1="342.4" x2="39.0" y2="342.4" stroke="#000" stroke-width="0.8" stroke-linecap="butt"/>
<text x="34.2" y="344.9" font-size="7.1" text-anchor="end" font-weight="normal" stroke="#000" stroke-width="0.4">10</text>
<text x="34.4" y="341.79999999999995" font-size="4.0" text-anchor="start" font-weight="normal" stroke="#000" stroke-width="0.2">2</text>
<line x1="36.6" y1="352.4" x2="39.0" y2="352.4" stroke="#000" stroke-width="0.8" stroke-linecap="butt"/>
<text x="35.0" y="354.9" font-size="7.1" text-anchor="end" font-weight="normal" stroke="#000" stroke-width="0.4">0</text>
<line x1="47.6" y1="362" x2="47.6" y2="364.4" stroke="#000" stroke-width="0.8" stroke-linecap="butt"/>
<text x="48.1" y="371.8" font-size="7.1" text-anchor="middle" font-weight="normal" stroke="#000" stroke-width="0.4">0</text>
<line x1="57.6" y1="362" x2="57.6" y2="364.4" stroke="#000" stroke-width="0.8" stroke-linecap="butt"/>
<text x="57.6" y="371.8" font-size="7.1" text-anchor="middle" font-weight="normal" stroke="#000" stroke-width="0.4">10</text>
<text x="61.6" y="368.7" font-size="4.0" text-anchor="start" font-weight="normal" stroke="#000" stroke-width="0.2">2</text>
<line x1="78.1" y1="362" x2="78.1" y2="364.4" stroke="#000" stroke-width="0.8" stroke-linecap="butt"/>
<text x="78.1" y="371.8" font-size="7.1" text-anchor="middle" font-weight="normal" stroke="#000" stroke-width="0.4">10</text>
<text x="82.1" y="368.7" font-size="4.0" text-anchor="start" font-weight="normal" stroke="#000" stroke-width="0.2">3</text>
<line x1="97.5" y1="362" x2="97.5" y2="364.4" stroke="#000" stroke-width="0.8" stroke-linecap="butt"/>
<text x="97.5" y="371.8" font-size="7.1" text-anchor="middle" font-weight="normal" stroke="#000" stroke-width="0.4">10</text>
<text x="101.5" y="368.7" font-size="4.0" text-anchor="start" font-weight="normal" stroke="#000" stroke-width="0.2">4</text>
<line x1="116.4" y1="362" x2="116.4" y2="364.4" stroke="#000" stroke-width="0.8" stroke-linecap="butt"/>
<text x="116.4" y="371.8" font-size="7.1" text-anchor="middle" font-weight="normal" stroke="#000" stroke-width="0.4">10</text>
<text x="120.4" y="368.7" font-size="4.0" text-anchor="start" font-weight="normal" stroke="#000" stroke-width="0.2">5</text>
<line x1="37.5" y1="297.1406360815172" x2="39.0" y2="297.1406360815172" stroke="#000" stroke-width="0.65" stroke-linecap="butt"/>
<line x1="37.5" y1="293.83012041127034" x2="39.0" y2="293.83012041127034" stroke="#000" stroke-width="0.65" stroke-linecap="butt"/>
<line x1="37.5" y1="291.4812721630343" x2="39.0" y2="291.4812721630343" stroke="#000" stroke-width="0.65" stroke-linecap="butt"/>
<line x1="37.5" y1="289.6593639184828" x2="39.0" y2="289.6593639184828" stroke="#000" stroke-width="0.65" stroke-linecap="butt"/>
<line x1="37.5" y1="288.1707564927875" x2="39.0" y2="288.1707564927875" stroke="#000" stroke-width="0.65" stroke-linecap="butt"/>
<line x1="37.5" y1="286.912156847732" x2="39.0" y2="286.912156847732" stroke="#000" stroke-width="0.65" stroke-linecap="butt"/>
<line x1="37.5" y1="285.8219082445515" x2="39.0" y2="285.8219082445515" stroke="#000" stroke-width="0.65" stroke-linecap="butt"/>
<line x1="37.5" y1="284.8602408225407" x2="39.0" y2="284.8602408225407" stroke="#000" stroke-width="0.65" stroke-linecap="butt"/>
<line x1="37.5" y1="316.36001808411874" x2="39.0" y2="316.36001808411874" stroke="#000" stroke-width="0.65" stroke-linecap="butt"/>
<line x1="37.5" y1="312.94384765843853" x2="39.0" y2="312.94384765843853" stroke="#000" stroke-width="0.65" stroke-linecap="butt"/>
<line x1="37.5" y1="310.52003616823754" x2="39.0" y2="310.52003616823754" stroke="#000" stroke-width="0.65" stroke-linecap="butt"/>
<line x1="37.5" y1="308.63998191588126" x2="39.0" y2="308.63998191588126" stroke="#000" stroke-width="0.65" stroke-linecap="butt"/>
<line x1="37.5" y1="307.10386574255733" x2="39.0" y2="307.10386574255733" stroke="#000" stroke-width="0.65" stroke-linecap="butt"/>
<line x1="37.5" y1="305.8050980237234" x2="39.0" y2="305.8050980237234" stroke="#000" stroke-width="0.65" stroke-linecap="butt"/>
<line x1="37.5" y1="304.6800542523563" x2="39.0" y2="304.6800542523563" stroke="#000" stroke-width="0.65" stroke-linecap="butt"/>
<line x1="37.5" y1="303.6876953168771" x2="39.0" y2="303.6876953168771" stroke="#000" stroke-width="0.65" stroke-linecap="butt"/>
<line x1="37.5" y1="336.31919408758756" x2="39.0" y2="336.31919408758756" stroke="#000" stroke-width="0.65" stroke-linecap="butt"/>
<line x1="37.5" y1="332.7621506546628" x2="39.0" y2="332.7621506546628" stroke="#000" stroke-width="0.65" stroke-linecap="butt"/>
<line x1="37.5" y1="330.23838817517515" x2="39.0" y2="330.23838817517515" stroke="#000" stroke-width="0.65" stroke-linecap="butt"/>
<line x1="37.5" y1="328.2808059124124" x2="39.0" y2="328.2808059124124" stroke="#000" stroke-width="0.65" stroke-linecap="butt"/>
<line x1="37.5" y1="326.68134474225036" x2="39.0" y2="326.68134474225036" stroke="#000" stroke-width="0.65" stroke-linecap="butt"/>
<line x1="37.5" y1="325.329019591712" x2="39.0" y2="325.329019591712" stroke="#000" stroke-width="0.65" stroke-linecap="butt"/>
<line x1="37.5" y1="324.15758226276273" x2="39.0" y2="324.15758226276273" stroke="#000" stroke-width="0.65" stroke-linecap="butt"/>
<line x1="37.5" y1="323.12430130932563" x2="39.0" y2="323.12430130932563" stroke="#000" stroke-width="0.65" stroke-linecap="butt"/>
<line x1="37.5" y1="278.3406360815172" x2="39.0" y2="278.3406360815172" stroke="#000" stroke-width="0.65" stroke-linecap="butt"/>
<line x1="37.5" y1="344.9" x2="39.0" y2="344.9" stroke="#000" stroke-width="0.65" stroke-linecap="butt"/>
<line x1="37.5" y1="347.4" x2="39.0" y2="347.4" stroke="#000" stroke-width="0.65" stroke-linecap="butt"/>
<line x1="37.5" y1="349.9" x2="39.0" y2="349.9" stroke="#000" stroke-width="0.65" stroke-linecap="butt"/>
<line x1="37.5" y1="354.9" x2="39.0" y2="354.9" stroke="#000" stroke-width="0.65" stroke-linecap="butt"/>
<line x1="37.5" y1="357.4" x2="39.0" y2="357.4" stroke="#000" stroke-width="0.65" stroke-linecap="butt"/>
<line x1="37.5" y1="359.9" x2="39.0" y2="359.9" stroke="#000" stroke-width="0.65" stroke-linecap="butt"/>
<line x1="63.77111491111161" y1="362" x2="63.77111491111161" y2="363.5" stroke="#000" stroke-width="0.65" stroke-linecap="butt"/>
<line x1="67.38098572175308" y1="362" x2="67.38098572175308" y2="363.5" stroke="#000" stroke-width="0.65" stroke-linecap="butt"/>
<line x1="69.94222982222323" y1="362" x2="69.94222982222323" y2="363.5" stroke="#000" stroke-width="0.65" stroke-linecap="butt"/>
<line x1="71.92888508888838" y1="362" x2="71.92888508888838" y2="363.5" stroke="#000" stroke-width="0.65" stroke-linecap="butt"/>
<line x1="73.5521006328647" y1="362" x2="73.5521006328647" y2="363.5" stroke="#000" stroke-width="0.65" stroke-linecap="butt"/>
<line x1="74.92450982029226" y1="362" x2="74.92450982029226" y2="363.5" stroke="#000" stroke-width="0.65" stroke-linecap="butt"/>
<line x1="76.11334473333484" y1="362" x2="76.11334473333484" y2="363.5" stroke="#000" stroke-width="0.65" stroke-linecap="butt"/>
<line x1="77.16197144350616" y1="362" x2="77.16197144350616" y2="363.5" stroke="#000" stroke-width="0.65" stroke-linecap="butt"/>
<line x1="83.93998191588123" y1="362" x2="83.93998191588123" y2="363.5" stroke="#000" stroke-width="0.65" stroke-linecap="butt"/>
<line x1="87.35615234156145" y1="362" x2="87.35615234156145" y2="363.5" stroke="#000" stroke-width="0.65" stroke-linecap="butt"/>
<line x1="89.77996383176247" y1="362" x2="89.77996383176247" y2="363.5" stroke="#000" stroke-width="0.65" stroke-linecap="butt"/>
<line x1="91.66001808411876" y1="362" x2="91.66001808411876" y2="363.5" stroke="#000" stroke-width="0.65" stroke-linecap="butt"/>
<line x1="93.19613425744268" y1="362" x2="93.19613425744268" y2="363.5" stroke="#000" stroke-width="0.65" stroke-linecap="butt"/>
<line x1="94.49490197627658" y1="362" x2="94.49490197627658" y2="363.5" stroke="#000" stroke-width="0.65" stroke-linecap="butt"/>
<line x1="95.6199457476437" y1="362" x2="95.6199457476437" y2="363.5" stroke="#000" stroke-width="0.65" stroke-linecap="butt"/>
<line x1="96.6123046831229" y1="362" x2="96.6123046831229" y2="363.5" stroke="#000" stroke-width="0.65" stroke-linecap="butt"/>
<line x1="103.18946691804925" y1="362" x2="103.18946691804925" y2="363.5" stroke="#000" stroke-width="0.65" stroke-linecap="butt"/>
<line x1="106.51759171420163" y1="362" x2="106.51759171420163" y2="363.5" stroke="#000" stroke-width="0.65" stroke-linecap="butt"/>
<line x1="108.8789338360985" y1="362" x2="108.8789338360985" y2="363.5" stroke="#000" stroke-width="0.65" stroke-linecap="butt"/>
<line x1="110.71053308195076" y1="362" x2="110.71053308195076" y2="363.5" stroke="#000" stroke-width="0.65" stroke-linecap="butt"/>
<line x1="112.20705863225086" y1="362" x2="112.20705863225086" y2="363.5" stroke="#000" stroke-width="0.65" stroke-linecap="butt"/>
<line x1="113.47235295626946" y1="362" x2="113.47235295626946" y2="363.5" stroke="#000" stroke-width="0.65" stroke-linecap="butt"/>
<line x1="114.56840075414775" y1="362" x2="114.56840075414775" y2="363.5" stroke="#000" stroke-width="0.65" stroke-linecap="butt"/>
<line x1="115.53518342840324" y1="362" x2="115.53518342840324" y2="363.5" stroke="#000" stroke-width="0.65" stroke-linecap="butt"/>
<line x1="122.08946691804925" y1="362" x2="122.08946691804925" y2="363.5" stroke="#000" stroke-width="0.65" stroke-linecap="butt"/>
<line x1="50.1" y1="362" x2="50.1" y2="363.5" stroke="#000" stroke-width="0.65" stroke-linecap="butt"/>
<line x1="52.6" y1="362" x2="52.6" y2="363.5" stroke="#000" stroke-width="0.65" stroke-linecap="butt"/>
<line x1="55.1" y1="362" x2="55.1" y2="363.5" stroke="#000" stroke-width="0.65" stroke-linecap="butt"/>
<line x1="45.1" y1="362" x2="45.1" y2="363.5" stroke="#000" stroke-width="0.65" stroke-linecap="butt"/>
<line x1="42.6" y1="362" x2="42.6" y2="363.5" stroke="#000" stroke-width="0.65" stroke-linecap="butt"/>
<line x1="40.1" y1="362" x2="40.1" y2="363.5" stroke="#000" stroke-width="0.65" stroke-linecap="butt"/>
<text x="1.4" y="280.4" font-size="14" text-anchor="start" font-weight="normal" stroke="#000" stroke-width="0.5">E</text>
<text x="4.6" y="293.8" font-size="7.2" text-anchor="start" font-weight="normal" stroke="#000" stroke-width="0.4">SI LP</text>
<g filter="url(#bl)">
<path transform="scale(.1)" d="m1323 2989h0m-3 2h0m-10 14h0m2 2h0m12 16h0m-7 2h0m-5 53h0m7 10h0m5 428h0m-6 63h0m30 22h0m-20-4h0m0-26h0m7-12h0m3-27h0m10-2h0m-13-40h0m-2-4h0m14-16h0m-11-62h0m0-6h0m9-18h0m-4-91h0m2-50h0m-2-113h0m-16-6h0m22-12h0m-12-7h0m4-3h0m4-11h0m-16 0h0m14-17h0m-9-6h0m-2-16h0m2-3h0m3-15h0m-4-7h0m13-1h0m0-1h0m-7-1h0m1-60h0m-4-3h0m5-2h0m5-4h0m4-9h0m-10-7h0m4-6h0m28-65h0m2 28h0m1 9h0m-2 32h0m-5 7h0m0 0h0m-13 12h0m12 5h0m3 4h0m-15 2h0m16 1h0m0 3h0m-11 12h0m11 4h0m3 1h0m0 8h0m1 0h0m-8 10h0m-2 3h0m7 1h0m-6 2h0m0 4h0m-1 1h0m11 2h0m-3 1h0m0 0h0m-10 3h0m9 2h0m-10 1h0m13 1h0m-4 3h0m-7 8h0m5 18h0m-2 4h0m8 1h0m-7 3h0m7 1h0m-18 3h0m12 9h0m-4 3h0m-8 7h0m6 0h0m-3 4h0m-3 10h0m15 3h0m3 2h0m-4 1h0m1 2h0m2 5h0m-4 10h0m5 8h0m-14 8h0m8 3h0m5 8h0m1 18h0m1 1h0m0 23h0m-7 95h0m-2 39h0m-1 4h0m-13 25h0m12 17h0m-4 3h0m-9 2h0m10 10h0m-6 0h0m-4 2h0m17 2h0m-14 8h0m12 13h0m-5 3h0m11 19h0m-8 7h0m8 9h0m-5 16h0m5 1h0m-4 2h0m-3 1h0m1 5h0m6 3h0m-8 4h0m2 2h0m0 2h0m1 0h0m3 3h0m-2 4h0m-5 6h0m12 7h0m-2 30h0m-8 9h0m4 7h0m-9 6h0m-2 10h0m5 17h0m6 7h0m24 16h0m2-8h0m3-21h0m-22-5h0m10-2h0m14-2h0m-17 0h0m11-3h0m-9-5h0m4-1h0m0-1h0m2-2h0m2 0h0m2-5h0m-12-2h0m15-2h0m1-3h0m-7-9h0m4-1h0m-6-1h0m-7-2h0m8 0h0m-5-5h0m-6-1h0m2-5h0m6 0h0m12 0h0m-5 0h0m-4-2h0m6-7h0m-2-2h0m-10-3h0m-3 0h0m8-3h0m9-1h0m-18-2h0m-3-1h0m11-5h0m-7-3h0m3 0h0m0-1h0m14-2h0m1-6h0m-7-1h0m-4-4h0m0-1h0m-2-1h0m10-1h0m3-1h0m0-3h0m-5-3h0m1-1h0m3-3h0m-23-2h0m11 0h0m0-3h0m4-3h0m-11-3h0m13-2h0m-12-5h0m18-7h0m-1 0h0m-15-4h0m6-1h0m-10-1h0m14-3h0m-9-5h0m5-6h0m11-3h0m-11-3h0m5-1h0m-16-3h0m22-1h0m-1-2h0m-7 0h0m-7-6h0m5-8h0m7-9h0m1-9h0m-3-7h0m-13-26h0m12-1h0m-6-1h0m7-7h0m-15-16h0m6-31h0m6-10h0m-7-71h0m9-4h0m3-27h0m-6 0h0m2-6h0m0-19h0m7-2h0m-1-4h0m-15-6h0m16 0h0m-7-6h0m-17 0h0m2-8h0m22-4h0m-4-1h0m-8-3h0m7-6h0m-1-1h0m3-26h0m-5-4h0m-5 0h0m11-1h0m-1 0h0m0-2h0m-12 0h0m-9-3h0m1-2h0m16 0h0m-9 0h0m11-2h0m-9-6h0m-6 0h0m5-2h0m4-4h0m-7-4h0m16-1h0m-20-1h0m1 0h0m2-1h0m17-1h0m-3-2h0m-2 0h0m-11 0h0m14 0h0m-10-1h0m10-1h0m-10-1h0m-3-2h0m16-2h0m-7-1h0m-1-8h0m4-2h0m-7-1h0m8-1h0m-12 0h0m-1-1h0m10 0h0m6-2h0m0-5h0m-12-2h0m0-2h0m-11 0h0m6-3h0m9-2h0m-6-1h0m1 0h0m3-3h0m10 0h0m-4-1h0m-18-2h0m9 0h0m-6-3h0m7 0h0m9-4h0m-3-1h0m-12-1h0m15-1h0m-15-8h0m10-4h0m6-3h0m2-2h0m-2-1h0m-11-3h0m14-1h0m-6-2h0m-11-1h0m-7-5h0m23-1h0m0-2h0m-8-2h0m2-2h0m1 0h0m2-2h0m-8-4h0m-2-1h0m-5-3h0m-4-1h0m22-2h0m-14-4h0m-3-4h0m13 0h0m-14-3h0m17-3h0m-8-1h0m6-4h0m-14 0h0m-5-1h0m2-11h0m20-15h0m-4-2h0m0-10h0m1-69h0m19 26h0m2 1h0m0 12h0m-1 2h0m5 17h0m-19 26h0m23 2h0m-21 1h0m9 3h0m2 1h0m-6 4h0m15 1h0m-1 12h0m-7 1h0m2 0h0m-7 1h0m5 1h0m-12 2h0m9 2h0m-7 2h0m0 3h0m-2 1h0m20 6h0m-23 4h0m16 0h0m-8 2h0m11 0h0m-4 1h0m8 0h0m-18 1h0m2 12h0m16 0h0m-14 1h0m-9 2h0m19 1h0m-9 1h0m-4 2h0m-3 0h0m18 0h0m-3 1h0m-15 2h0m1 0h0m0 1h0m-3 2h0m0 1h0m15 5h0m8 1h0m-1 4h0m-5 2h0m-12 2h0m13 0h0m-18 1h0m21 0h0m-7 1h0m-5 1h0m7 0h0m-6 1h0m6 1h0m-2 1h0m-12 0h0m21 1h0m-12 2h0m12 0h0m-6 1h0m-2 1h0m-6 3h0m-3 0h0m15 0h0m-7 1h0m-13 2h0m-1 2h0m15 0h0m4 0h0m-9 2h0m-2 0h0m13 1h0m-7 3h0m6 0h0m-9 0h0m7 2h0m5 1h0m-21 0h0m5 0h0m-8 2h0m6 1h0m18 1h0m-12 1h0m-8 0h0m11 0h0m0 0h0m-4 1h0m9 1h0m-2 1h0m-12 1h0m14 0h0m-7 1h0m1 2h0m-5 0h0m-7 2h0m17 0h0m0 0h0m-18 1h0m10 0h0m-1 0h0m12 1h0m0 0h0m-21 2h0m11 1h0m9 1h0m-5 0h0m7 1h0m0 0h0m1 2h0m-2 1h0m-4 0h0m-6 1h0m2 1h0m10 4h0m-15 0h0m5 1h0m8 0h0m-3 1h0m-2 2h0m5 2h0m-10 1h0m11 2h0m1 2h0m-19 1h0m9 0h0m3 0h0m-14 0h0m12 0h0m8 1h0m-15 0h0m16 1h0m-19 1h0m2 2h0m4 1h0m6 2h0m-3 1h0m3 1h0m-8 2h0m14 0h0m1 2h0m-2 0h0m-10 1h0m3 0h0m-3 0h0m12 1h0m-11 0h0m-1 0h0m5 1h0m3 0h0m4 1h0m-13 1h0m6 2h0m2 1h0m-3 0h0m0 1h0m-1 0h0m-11 1h0m11 0h0m6 4h0m-7 0h0m3 2h0m1 1h0m-6 2h0m11 1h0m-7 1h0m-6 0h0m4 1h0m1 1h0m7 0h0m-16 6h0m9 1h0m-3 7h0m9 0h0m-5 3h0m-2 9h0m10 4h0m-9 3h0m3 6h0m5 0h0m-8 1h0m-5 3h0m-10 4h0m14 2h0m-9 3h0m17 3h0m-1 8h0m-2 2h0m-9 0h0m13 8h0m-1 11h0m-10 8h0m11 27h0m-2 29h0m-14 11h0m-6 9h0m7 6h0m6 6h0m-7 3h0m15 26h0m-7 7h0m4 4h0m3 4h0m2 1h0m-7 2h0m5 10h0m-16 5h0m14 1h0m-10 6h0m13 1h0m-13 2h0m7 2h0m-13 4h0m9 0h0m-2 2h0m-9 7h0m12 1h0m-14 0h0m22 3h0m-12 2h0m10 3h0m-13 0h0m6 2h0m5 4h0m4 0h0m2 1h0m-17 2h0m16 7h0m-23 0h0m3 1h0m0 2h0m5 1h0m10 2h0m-9 1h0m4 0h0m8 1h0m-14 0h0m13 2h0m-1 0h0m-18 1h0m22 0h0m-18 0h0m4 2h0m2 2h0m-8 2h0m11 0h0m-10 3h0m10 1h0m4 0h0m-1 0h0m5 1h0m-17 1h0m11 1h0m7 0h0m-2 1h0m-9 0h0m6 2h0m3 0h0m2 0h0m-7 6h0m-15 0h0m18 1h0m3 2h0m0 1h0m-16 9h0m14 0h0m-5 3h0m-13 3h0m8 0h0m7 0h0m-9 1h0m5 0h0m-6 1h0m5 0h0m6 1h0m-3 1h0m4 1h0m-19 1h0m1 1h0m19 1h0m3 1h0m-22 1h0m15 1h0m-4 3h0m-12 1h0m1 1h0m22 2h0m-14 0h0m14 2h0m-11 0h0m-3 6h0m11 0h0m3 1h0m0 0h0m-19 1h0m18 2h0m-5 0h0m-11 3h0m-4 1h0m9 1h0m13 1h0m-6 1h0m-2 0h0m-9 2h0m6 1h0m8 0h0m-21 0h0m11 0h0m6 2h0m3 0h0m-18 3h0m15 1h0m0 2h0m-1 2h0m-8 0h0m8 1h0m-15 0h0m10 1h0m-4 3h0m15 3h0m-4 1h0m5 1h0m-23 0h0m21 0h0m-7 5h0m-1 4h0m-2 2h0m-1 0h0m-6 1h0m6 0h0m12 2h0m-6 1h0m5 0h0m-9 1h0m-12 1h0m20 1h0m-20 0h0m0 1h0m19 6h0m5 0h0m-14 2h0m9 1h0m-1 0h0m2 1h0m-3 1h0m-4 0h0m8 3h0m1 1h0m-5 2h0m5 0h0m2 1h0m-6 1h0m0 1h0m0 2h0m-8 1h0m14 0h0m0 0h0m-6 0h0m1 0h0m2 1h0m-3 3h0m2 0h0m-4 1h0m-15 3h0m5 3h0m17 0h0m-17 5h0m-4 1h0m5 1h0m2 0h0m9 1h0m-8 2h0m13 1h0m1 1h0m-9 1h0m-15 1h0m14 0h0m8 1h0m1 3h0m-6 3h0m-8 1h0m7 0h0m-12 2h0m6 0h0m9 4h0m3 1h0m0 0h0m-15 3h0m-3 6h0m8 1h0m10 3h0m0 3h0m-18 0h0m11 1h0m-7 1h0m-5 6h0m46 1h0m-22-2h0m17-1h0m-11-1h0m1-1h0m-2-1h0m-7 0h0m2 0h0m21-1h0m1-3h0m0-2h0m-5-2h0m-1-1h0m-17-1h0m11-1h0m4 0h0m-9 0h0m8-1h0m-3-1h0m-8 0h0m3 0h0m-7 0h0m18-1h0m3 0h0m-6-1h0m4-1h0m-17 0h0m7 0h0m1-3h0m-7 0h0m21-1h0m-11 0h0m3 0h0m-16-1h0m8 0h0m5 0h0m-7-1h0m-3-1h0m20 0h0m-5 0h0m2-1h0m-2 0h0m-8-1h0m2 0h0m5-3h0m-5-1h0m0-2h0m6-2h0m1-1h0m-16 0h0m-3-1h0m20-2h0m-9 0h0m5-1h0m-15 0h0m15 0h0m1-1h0m7 0h0m-3-1h0m-8 0h0m0-1h0m-9 0h0m-1 0h0m7-1h0m1-1h0m7-1h0m-4 0h0m9 0h0m-8 0h0m4-1h0m-8 0h0m-7 0h0m6 0h0m13 0h0m-6-3h0m-11-1h0m11-1h0m-5-1h0m4-1h0m-11-1h0m9-1h0m-10-1h0m20-1h0m-4 0h0m-19 0h0m4-1h0m5-1h0m-10-1h0m9 0h0m10 0h0m-4 0h0m6-1h0m-4 0h0m1 0h0m2 0h0m-12-1h0m-3 0h0m19 0h0m-5 0h0m-17-1h0m3 0h0m12 0h0m6 0h0m-16-1h0m-1 0h0m8-1h0m3 0h0m-11-1h0m-5-1h0m17 0h0m-4 0h0m-7-1h0m14 0h0m-15 0h0m0 0h0m3-1h0m-1-1h0m8 0h0m-9 0h0m-7-1h0m14 0h0m0 0h0m5-1h0m-19-2h0m24 0h0m-12 0h0m-1 0h0m1-2h0m10-1h0m-19-1h0m10-1h0m1 0h0m0 0h0m-12-1h0m22 0h0m-12 0h0m-1-3h0m-9-1h0m8 0h0m-4-1h0m10 0h0m6 0h0m-19-1h0m6 0h0m15-1h0m-4-1h0m-18 0h0m14-1h0m3 0h0m-13-1h0m14-1h0m-20-1h0m20 0h0m-2 0h0m-3-1h0m5-1h0m1 0h0m-8-1h0m5 0h0m5 0h0m-10-1h0m-5-1h0m11 0h0m4-1h0m-8-1h0m5-1h0m-4 0h0m8 0h0m-19 0h0m15-1h0m-1 0h0m4-1h0m-17 0h0m6-1h0m3 0h0m-5 0h0m-10 0h0m4-1h0m9 0h0m-7-2h0m9 0h0m-14 0h0m16 0h0m7-1h0m-15-1h0m3 0h0m9-1h0m-11 0h0m4 0h0m2 0h0m-16-1h0m1 0h0m23-3h0m-16-1h0m0 0h0m-2 0h0m-2 0h0m20-2h0m-6-1h0m2 0h0m-1-1h0m-2 0h0m-2 0h0m-14 0h0m10 0h0m3-1h0m-7 0h0m4-1h0m12 0h0m-18 0h0m16-1h0m2 0h0m1-1h0m-9 0h0m-12-1h0m0 0h0m1-1h0m7-2h0m-9 0h0m3 0h0m-3-2h0m14 0h0m-1 0h0m6 0h0m-3-1h0m3 0h0m1-1h0m-9-1h0m-4 0h0m15 0h0m0 0h0m0 0h0m0 0h0m-17-1h0m17-2h0m-5 0h0m-11 0h0m14-1h0m2-2h0m-2 0h0m-10 0h0m-3-1h0m12 0h0m1 0h0m-15-1h0m4-3h0m0-1h0m8 0h0m-16-1h0m19 0h0m-3 0h0m3 0h0m-10-3h0m9-1h0m1 0h0m1 0h0m-4 0h0m5 0h0m-22-1h0m19 0h0m-12-1h0m10 0h0m3 0h0m-7-1h0m6-1h0m-10 0h0m10-1h0m-6 0h0m-10-1h0m-5-1h0m14 0h0m10 0h0m-21 0h0m-1 0h0m16-1h0m-4-1h0m-10-1h0m0 0h0m16 0h0m2 0h0m-12 0h0m9-1h0m-6-1h0m3 0h0m-7-1h0m12-1h0m-4 0h0m4-1h0m-15-1h0m-4 0h0m5-1h0m16 0h0m-17 0h0m1-2h0m-4 0h0m1-1h0m19-2h0m-7-1h0m-3 0h0m8 0h0m-19-1h0m11-1h0m-7-1h0m5-3h0m-7 0h0m18 0h0m1-1h0m-7-1h0m-15 0h0m16-1h0m2-1h0m-9-1h0m6-1h0m2 0h0m-3-1h0m9 0h0m-11 0h0m4-2h0m-10-1h0m17-2h0m-24 0h0m18 0h0m-4 0h0m7 0h0m-4-2h0m1-1h0m-1 0h0m-3 0h0m-6-2h0m-1-2h0m6-1h0m-10 0h0m5 0h0m3 0h0m13-1h0m-1-1h0m-2-2h0m-19 0h0m3 0h0m1 0h0m14-1h0m4-1h0m-5 0h0m-1 0h0m6 0h0m-14-1h0m6 0h0m2 0h0m-13-1h0m8 0h0m-5 0h0m5-1h0m-7-1h0m4-1h0m-6 0h0m16-2h0m-4 0h0m8-1h0m-16-1h0m15-1h0m-2-2h0m-7-1h0m-4-2h0m-10 0h0m20-7h0m-20-5h0m8-1h0m12-1h0m-18-1h0m8 0h0m5 0h0m1-1h0m-8 0h0m0-1h0m12-2h0m-14 0h0m2-1h0m-5-1h0m17-2h0m0 0h0m-4-1h0m-13-1h0m9-1h0m-5-4h0m0 0h0m8-1h0m-11-1h0m4-3h0m16-2h0m-18-2h0m-3-1h0m20-2h0m-12 0h0m8 0h0m3-1h0m-3 0h0m-3 0h0m-1-1h0m-6-3h0m6-1h0m-8-1h0m13 0h0m2-1h0m1-2h0m-17-1h0m-4-1h0m0-8h0m13-1h0m7-1h0m-15-4h0m12-9h0m-3-6h0m-16-2h0m24-17h0m-6-1h0m-18-9h0m1-12h0m17-12h0m3-2h0m-9-23h0m-7-3h0m-3-15h0m20-5h0m-11-6h0m-3-9h0m-3-10h0m8-2h0m4-7h0m6-3h0m-8-6h0m0-6h0m-4-3h0m-5-3h0m-4 0h0m15-1h0m2-6h0m2-2h0m-1-5h0m-3-1h0m-3-7h0m2-2h0m8-1h0m-20-1h0m0-1h0m18-2h0m-8-1h0m5 0h0m-1-3h0m-7 0h0m11 0h0m-22-1h0m15-1h0m-9-2h0m4-1h0m7-3h0m3 0h0m2-2h0m0-1h0m-12-1h0m6 0h0m-5 0h0m4-3h0m0 0h0m4-1h0m2 0h0m-7-1h0m10-2h0m-10 0h0m-12 0h0m1-2h0m-1 0h0m19 0h0m-19 0h0m4-1h0m17 0h0m-11-1h0m6-1h0m-4 0h0m5-3h0m-7 0h0m12 0h0m-6-1h0m-4 0h0m-13 0h0m11-1h0m1 0h0m-13-2h0m0 0h0m20 0h0m-2-2h0m2 0h0m3-1h0m-3-1h0m-14-1h0m6-1h0m-5-1h0m14 0h0m-4 0h0m-13-1h0m18-1h0m0 0h0m-21-1h0m15-1h0m6 0h0m2-1h0m-21 0h0m-1-1h0m-1 0h0m1 0h0m0 0h0m18-2h0m-4 0h0m4-1h0m-12-1h0m1-1h0m15 0h0m-4-1h0m2 0h0m-7-1h0m-5 0h0m4-2h0m10-1h0m-17-1h0m11 0h0m-8-1h0m8 0h0m5-1h0m-2 0h0m-13 0h0m15-1h0m-5 0h0m-5-1h0m-8 0h0m7 0h0m-4 0h0m9 0h0m-11-3h0m13 0h0m-2-1h0m6-1h0m0-2h0m-15-1h0m8 0h0m0-1h0m3-1h0m-17 0h0m1 0h0m17 0h0m-18-1h0m19 0h0m-13-1h0m-8 0h0m6-2h0m4 0h0m5-1h0m-12 0h0m5-1h0m11-1h0m-13 0h0m16-1h0m-20 0h0m10 0h0m8 0h0m-11-1h0m-6 0h0m6 0h0m10-1h0m-3-1h0m6 0h0m1 0h0m-15-1h0m0 0h0m2 0h0m-8-1h0m17 0h0m-16-1h0m11 0h0m4 0h0m5-1h0m-21 0h0m20 0h0m-19 0h0m18-1h0m-8 0h0m8 0h0m-11-2h0m5 0h0m-5-1h0m7 0h0m-2-1h0m-8 0h0m0 0h0m14 0h0m-1-1h0m-8 0h0m3 0h0m-10-1h0m9 0h0m-2 0h0m4 0h0m-6-1h0m7-1h0m7 0h0m-6 0h0m3-1h0m-3-2h0m2 0h0m-6-1h0m-12-1h0m12 0h0m9-1h0m-9 0h0m9 0h0m-4 0h0m-2-1h0m5 0h0m-8-1h0m0 0h0m6-1h0m-10 0h0m2 0h0m-12-1h0m22 0h0m-20-1h0m4 0h0m-4-1h0m16-1h0m1 0h0m-17-1h0m3 0h0m11 0h0m-4-2h0m2 0h0m5 0h0m-4-1h0m-11 0h0m19-1h0m-7 0h0m-1 0h0m2-1h0m-11-1h0m-2 0h0m15-1h0m-5 0h0m-13-1h0m19-1h0m4-1h0m-2 0h0m-1 0h0m-4-1h0m5 0h0m-16 0h0m0-1h0m2 0h0m12-1h0m1 0h0m-6-3h0m-5 0h0m-9-1h0m16-2h0m0 0h0m-8 0h0m12-1h0m-12 0h0m14 0h0m-18-2h0m17 0h0m-12-1h0m3 0h0m-3 0h0m-9-1h0m23-3h0m-18 0h0m17-1h0m-7-1h0m0 0h0m-8 0h0m-7-1h0m10 0h0m-11 0h0m23-1h0m1 0h0m-13 0h0m-1 0h0m4 0h0m0-2h0m1-1h0m5 0h0m-2 0h0m2-1h0m-16 0h0m-1-1h0m10 0h0m-9-2h0m1 0h0m-4-3h0m14-1h0m-13 0h0m15-1h0m-6 0h0m7 0h0m0-1h0m-1-2h0m-3 0h0m0-1h0m8-1h0m-19-2h0m4 0h0m-5-1h0m15-2h0m5-2h0m-15-1h0m6 0h0m-1 0h0m-3-1h0m-2-1h0m13-1h0m0-2h0m-14 0h0m16-1h0m-11 0h0m2-2h0m-6-1h0m11-1h0m6 0h0m-2 0h0m-11-3h0m3 0h0m6-1h0m-17-2h0m13-1h0m5-3h0m-8-1h0m-3-2h0m14-1h0m-10-3h0m-2 0h0m10 0h0m-13-1h0m-5-3h0m18-6h0m-6-1h0m-11-1h0m17-1h0m-22-5h0m6-3h0m9-3h0m-2-1h0m6-1h0m-5-1h0m-4-1h0m-7-2h0m18-18h0m1-1h0m2-1h0m-14-8h0m-3-9h0m10-13h0m-9-3h0m12-35h0m24 42h0m-2 5h0m-17 18h0m23 7h0m-9 1h0m-11 8h0m15 1h0m-9 2h0m1 0h0m4 0h0m-2 2h0m5 4h0m-11 3h0m14 7h0m-10 3h0m-5 3h0m0 4h0m8 0h0m10 0h0m-1 3h0m1 1h0m-3 0h0m-3 1h0m3 2h0m3 2h0m-14 2h0m-1 1h0m5 4h0m-7 2h0m2 0h0m12 1h0m-17 2h0m-2 0h0m11 2h0m1 6h0m-6 0h0m15 0h0m-18 1h0m7 1h0m-8 1h0m8 0h0m0 2h0m12 1h0m1 0h0m-19 1h0m14 0h0m4 2h0m-5 1h0m-1 1h0m3 0h0m-3 1h0m7 1h0m0 1h0m0 0h0m-22 2h0m12 0h0m-6 1h0m16 0h0m-13 0h0m3 1h0m-14 1h0m14 1h0m-7 1h0m8 0h0m3 0h0m-2 2h0m5 0h0m-13 1h0m16 0h0m-23 1h0m12 0h0m10 0h0m-2 0h0m-9 1h0m-10 0h0m-1 0h0m19 3h0m-11 0h0m-2 1h0m1 0h0m10 0h0m5 1h0m-18 1h0m2 0h0m-7 0h0m11 0h0m3 1h0m6 1h0m-1 0h0m-13 0h0m4 2h0m-7 0h0m20 0h0m-13 1h0m6 0h0m4 1h0m-15 1h0m10 0h0m9 0h0m-23 0h0m20 1h0m-7 0h0m10 0h0m-21 0h0m14 1h0m0 0h0m5 0h0m-1 1h0m-4 0h0m0 0h0m4 1h0m-21 0h0m15 0h0m2 1h0m-6 1h0m-3 1h0m-4 0h0m2 0h0m6 0h0m3 1h0m9 1h0m-16 0h0m2 0h0m-1 0h0m-9 0h0m20 0h0m-10 0h0m6 1h0m-1 2h0m-5 0h0m9 0h0m2 0h0m-3 1h0m-16 0h0m3 0h0m-2 2h0m15 1h0m-16 0h0m19 0h0m-1 1h0m2 0h0m-19 0h0m20 1h0m-5 0h0m-4 0h0m-7 0h0m1 1h0m7 1h0m-3 0h0m1 0h0m9 1h0m-12 0h0m-8 1h0m10 0h0m12 1h0m-14 0h0m6 0h0m0 0h0m-11 1h0m7 0h0m-10 1h0m0 1h0m17 0h0m-15 0h0m-2 0h0m0 0h0m3 0h0m-1 1h0m9 0h0m-5 0h0m7 1h0m-5 0h0m5 2h0m-2 0h0m-10 0h0m17 0h0m-1 1h0m-14 0h0m7 0h0m5 1h0m-13 0h0m8 0h0m7 0h0m-15 0h0m10 0h0m-8 1h0m15 0h0m-2 0h0m-14 0h0m7 0h0m9 0h0m0 0h0m-5 0h0m8 1h0m-21 0h0m9 0h0m3 0h0m-2 0h0m5 1h0m-13 0h0m14 1h0m-11 0h0m11 1h0m-10 0h0m3 0h0m-4 0h0m1 1h0m-3 1h0m18 0h0m-20 0h0m9 1h0m1 0h0m-14 1h0m15 0h0m-8 0h0m2 0h0m13 0h0m0 0h0m-2 0h0m1 1h0m-7 0h0m7 0h0m-3 0h0m-1 1h0m1 0h0m-16 1h0m7 1h0m8 0h0m-8 1h0m-4 0h0m-3 1h0m1 1h0m9 0h0m3 0h0m9 0h0m-15 1h0m7 1h0m1 0h0m-2 0h0m-7 0h0m3 1h0m-1 0h0m-5 0h0m7 1h0m-7 0h0m10 0h0m4 0h0m-4 0h0m0 0h0m-4 0h0m-2 0h0m2 1h0m8 0h0m-11 0h0m13 1h0m-9 0h0m7 0h0m-13 2h0m2 0h0m1 0h0m0 0h0m-2 1h0m-7 0h0m6 0h0m5 1h0m1 0h0m-7 0h0m15 1h0m-6 1h0m10 0h0m-4 0h0m2 0h0m-17 0h0m5 0h0m-5 1h0m17 0h0m-19 0h0m3 0h0m11 1h0m3 1h0m-9 0h0m12 1h0m-3 0h0m-15 0h0m18 1h0m-5 1h0m-15 0h0m14 0h0m2 0h0m-12 0h0m15 1h0m-22 0h0m19 0h0m-17 2h0m19 0h0m2 0h0m-9 0h0m-1 0h0m-11 0h0m3 2h0m18 0h0m-18 1h0m17 0h0m-19 1h0m-1 0h0m12 0h0m-1 0h0m-11 1h0m4 0h0m2 0h0m-4 1h0m6 0h0m-6 0h0m8 0h0m-3 1h0m-4 0h0m14 1h0m-11 0h0m-7 0h0m7 1h0m0 1h0m-4 0h0m5 1h0m-5 0h0m1 0h0m19 1h0m-3 0h0m-4 0h0m-4 0h0m-2 0h0m4 1h0m6 0h0m-4 0h0m5 0h0m-7 0h0m-15 1h0m1 0h0m12 1h0m7 0h0m1 1h0m1 0h0m-12 1h0m5 0h0m-12 1h0m10 0h0m11 0h0m-14 1h0m5 0h0m-3 0h0m-1 0h0m13 1h0m-14 0h0m8 0h0m-8 0h0m5 1h0m-9 0h0m18 1h0m-6 0h0m-14 0h0m15 0h0m-6 1h0m-12 1h0m20 1h0m-9 0h0m6 0h0m-6 1h0m6 0h0m-3 1h0m-7 0h0m16 0h0m-14 1h0m12 1h0m-17 0h0m3 0h0m-8 0h0m12 1h0m-3 0h0m3 0h0m-4 1h0m8 2h0m8 0h0m-4 1h0m-19 0h0m19 2h0m-4 2h0m6 0h0m1 1h0m-22 0h0m22 0h0m-12 0h0m5 3h0m8 1h0m-8 1h0m-1 0h0m-11 0h0m15 2h0m-8 0h0m10 1h0m-4 0h0m-13 1h0m0 0h0m20 1h0m-7 0h0m-13 1h0m20 1h0m-15 0h0m6 2h0m-12 2h0m6 1h0m5 0h0m-10 0h0m-3 1h0m15 2h0m4 0h0m-13 0h0m3 0h0m5 1h0m4 1h0m-13 0h0m18 0h0m-15 1h0m7 0h0m6 0h0m1 1h0m-20 0h0m8 0h0m-11 1h0m20 0h0m-1 0h0m-14 4h0m3 1h0m-4 0h0m17 1h0m-9 0h0m-3 6h0m8 0h0m-9 1h0m1 2h0m7 1h0m-14 0h0m18 0h0m-9 2h0m13 0h0m-22 0h0m12 1h0m4 0h0m6 2h0m-10 1h0m9 7h0m-18 3h0m7 0h0m-11 1h0m18 15h0m-5 5h0m0 13h0m-1 6h0m-7 1h0m-1 3h0m1 1h0m3 4h0m-5 4h0m3 4h0m1 12h0m10 21h0m-1 0h0m-1 25h0m-10 17h0m17 2h0m1 0h0m-7 1h0m-2 3h0m-6 1h0m9 4h0m1 6h0m-9 3h0m1 0h0m-6 2h0m7 1h0m11 6h0m-10 0h0m10 0h0m-2 1h0m3 5h0m-14 0h0m-4 3h0m-6 3h0m0 0h0m20 1h0m-2 0h0m0 0h0m-3 1h0m0 1h0m-9 2h0m16 0h0m2 0h0m-21 1h0m12 0h0m-2 1h0m7 0h0m-15 2h0m6 1h0m-3 0h0m16 0h0m-2 0h0m-10 0h0m7 4h0m-17 1h0m16 1h0m6 0h0m-8 2h0m-11 3h0m6 1h0m6 0h0m3 1h0m-18 0h0m8 0h0m0 1h0m4 1h0m4 1h0m1 1h0m-14 0h0m1 1h0m11 1h0m0 1h0m1 1h0m-17 2h0m6 0h0m-2 1h0m-2 2h0m11 0h0m-8 1h0m-4 1h0m-2 2h0m16 1h0m-2 0h0m5 1h0m-9 3h0m-7 0h0m13 1h0m0 0h0m8 0h0m-1 1h0m-7 0h0m-5 3h0m8 0h0m-3 0h0m4 1h0m-12 1h0m8 1h0m-14 2h0m4 1h0m15 1h0m-7 0h0m1 1h0m1 2h0m0 0h0m-11 0h0m2 0h0m11 0h0m-6 1h0m7 0h0m-16 0h0m6 2h0m-2 0h0m14 1h0m1 0h0m-13 0h0m-5 0h0m13 1h0m-14 0h0m12 0h0m6 2h0m-2 2h0m-16 0h0m16 0h0m-9 1h0m6 0h0m3 1h0m-5 0h0m7 0h0m-2 0h0m5 1h0m-7 0h0m-9 1h0m16 0h0m-18 1h0m9 1h0m-6 0h0m6 0h0m-11 0h0m-3 1h0m9 0h0m11 0h0m-9 1h0m9 0h0m3 0h0m-2 1h0m-20 0h0m13 0h0m-1 1h0m9 0h0m-6 0h0m-15 1h0m6 0h0m4 1h0m-4 2h0m7 0h0m-1 1h0m6 0h0m-19 1h0m-1 0h0m18 0h0m4 0h0m-4 2h0m3 0h0m-18 3h0m4 1h0m-2 0h0m6 0h0m4 0h0m-4 1h0m-4 1h0m-6 0h0m8 0h0m5 1h0m-1 0h0m-2 0h0m6 0h0m-1 0h0m5 1h0m-14 0h0m8 0h0m6 0h0m-19 0h0m7 0h0m6 1h0m4 0h0m1 0h0m3 0h0m-10 1h0m-9 0h0m4 0h0m-3 0h0m14 1h0m-6 2h0m-8 1h0m12 1h0m4 0h0m-13 0h0m-8 1h0m24 1h0m-2 0h0m-18 0h0m9 0h0m-12 0h0m9 1h0m7 0h0m-4 0h0m11 0h0m-11 0h0m7 0h0m4 1h0m-14 1h0m9 0h0m-12 0h0m14 0h0m-9 0h0m3 0h0m-2 0h0m4 1h0m-3 0h0m-12 1h0m17 0h0m-15 0h0m1 1h0m6 0h0m3 0h0m10 1h0m-13 0h0m-9 2h0m18 0h0m-14 0h0m-5 1h0m8 0h0m1 0h0m13 0h0m-14 0h0m-7 0h0m13 1h0m4 1h0m5 0h0m-4 0h0m-14 0h0m-3 1h0m8 0h0m2 0h0m-1 0h0m6 0h0m2 0h0m4 0h0m-2 1h0m-4 0h0m-3 0h0m-4 0h0m-5 1h0m6 0h0m6 0h0m-3 0h0m-4 0h0m3 0h0m-6 0h0m14 1h0m-10 0h0m10 0h0m-19 1h0m-1 0h0m21 0h0m-23 0h0m12 0h0m-3 0h0m7 0h0m-1 1h0m5 0h0m4 0h0m-11 0h0m11 1h0m-12 0h0m6 0h0m5 0h0m-6 0h0m3 1h0m-12 0h0m6 0h0m-13 1h0m17 0h0m6 0h0m0 0h0m-5 0h0m3 0h0m-7 2h0m7 0h0m-6 0h0m-4 1h0m-5 0h0m17 0h0m-5 0h0m-9 0h0m-1 0h0m8 0h0m6 1h0m-21 0h0m-2 0h0m21 0h0m-3 1h0m-8 0h0m-10 0h0m4 0h0m-4 0h0m15 1h0m7 0h0m2 1h0m-3 0h0m-11 0h0m14 1h0m-14 0h0m-8 0h0m0 0h0m15 0h0m0 1h0m-5 0h0m12 1h0m-13 0h0m-9 1h0m16 0h0m3 0h0m-2 0h0m-9 1h0m14 0h0m-19 0h0m5 1h0m14 0h0m-11 0h0m-2 1h0m-8 1h0m21 0h0m-20 1h0m9 0h0m-7 0h0m8 0h0m-2 0h0m10 0h0m-6 2h0m2 0h0m-18 0h0m11 0h0m1 0h0m12 0h0m-4 1h0m3 0h0m-18 0h0m-2 0h0m5 0h0m7 0h0m-8 1h0m-6 0h0m2 0h0m21 0h0m-1 1h0m-11 0h0m-11 0h0m8 1h0m12 0h0m-9 0h0m7 0h0m-13 1h0m7 0h0m-6 1h0m4 0h0m1 0h0m6 0h0m-11 0h0m16 1h0m-9 0h0m2 0h0m-15 1h0m13 0h0m-7 0h0m13 0h0m-14 0h0m11 0h0m-12 1h0m-3 1h0m20 0h0m-9 0h0m3 1h0m-1 0h0m2 1h0m-2 0h0m4 1h0m-11 0h0m-5 0h0m2 0h0m4 1h0m-2 0h0m5 2h0m9 0h0m2 1h0m-19 0h0m9 0h0m8 0h0m-7 0h0m3 1h0m-5 1h0m1 0h0m-1 0h0m-9 1h0m2 0h0m10 0h0m-15 1h0m19 0h0m-15 0h0m6 0h0m-3 1h0m10 0h0m-10 0h0m-4 0h0m16 1h0m-16 0h0m12 0h0m0 0h0m9 0h0m-14 0h0m8 1h0m-4 0h0m10 0h0m-13 0h0m-1 1h0m-10 0h0m24 1h0m-5 0h0m-8 0h0m-9 0h0m10 0h0m4 0h0m-7 0h0m3 1h0m6 0h0m-9 0h0m-4 0h0m3 0h0m14 1h0m-10 0h0m-7 0h0m17 1h0m-2 0h0m-1 0h0m-5 0h0m-9 0h0m17 1h0m-16 0h0m10 0h0m-14 1h0m8 0h0m0 0h0m-1 0h0m2 1h0m-3 0h0m-8 0h0m0 0h0m9 0h0m-5 0h0m18 0h0m-14 0h0m0 1h0m5 0h0m-5 0h0m11 0h0m3 0h0m-9 1h0m-10 0h0m16 1h0m-1 0h0m-16 1h0m18 1h0m-10 0h0m-9 0h0m7 0h0m0 0h0m8 0h0m-1 0h0m6 1h0m-17 0h0m1 0h0m16 0h0m-7 1h0m0 0h0m-11 0h0m11 0h0m3 1h0m-2 0h0m6 0h0m-13 0h0m14 1h0m-21 0h0m8 0h0m7 1h0m-3 0h0m11 0h0m-22 0h0m13 0h0m2 1h0m-9 0h0m11 0h0m-19 0h0m9 0h0m-5 1h0m0 0h0m12 0h0m7 1h0m-21 0h0m20 0h0m-8 0h0m-10 1h0m4 0h0m12 0h0m-17 0h0m16 1h0m-14 0h0m14 0h0m-11 0h0m2 1h0m9 0h0m-19 0h0m1 1h0m11 0h0m10 0h0m-8 0h0m3 1h0m-3 0h0m-9 1h0m11 0h0m6 0h0m2 1h0m-14 0h0m-3 0h0m6 0h0m9 0h0m-13 2h0m-7 1h0m12 0h0m5 0h0m1 0h0m-16 1h0m1 1h0m16 0h0m-2 0h0m-18 1h0m15 0h0m1 0h0m-1 1h0m-6 0h0m8 0h0m-12 0h0m9 1h0m2 0h0m-16 0h0m9 0h0m6 0h0m7 1h0m-1 0h0m-2 0h0m-4 0h0m-10 1h0m-1 1h0m11 0h0m1 1h0m-15 0h0m17 0h0m3 0h0m0 1h0m-9 0h0m0 0h0m-2 0h0m5 1h0m-5 0h0m3 1h0m7 0h0m-3 0h0m-15 1h0m17 0h0m3 0h0m-13 1h0m10 1h0m-20 1h0m23 0h0m-8 1h0m-5 0h0m3 0h0m-13 1h0m8 0h0m3 0h0m12 0h0m-14 1h0m-2 0h0m-7 0h0m14 1h0m2 0h0m-3 0h0m-11 0h0m6 0h0m0 0h0m0 0h0m-6 1h0m13 1h0m-9 0h0m8 0h0m-12 1h0m17 0h0m4 0h0m-2 1h0m2 0h0m-18 1h0m-5 0h0m15 0h0m5 0h0m1 1h0m-13 0h0m-2 0h0m8 1h0m10 0h0m-15 0h0m2 1h0m7 0h0m4 1h0m-7 0h0m-5 0h0m6 0h0m-2 1h0m4 1h0m1 0h0m0 0h0m-16 1h0m4 0h0m7 1h0m-1 1h0m7 0h0m-12 0h0m-5 0h0m18 1h0m-16 0h0m16 1h0m-9 0h0m-9 1h0m14 0h0m-11 0h0m6 0h0m-1 0h0m13 1h0m-20 0h0m5 0h0m8 1h0m-8 1h0m12 0h0m2 0h0m-17 1h0m6 0h0m-3 0h0m-5 1h0m-3 0h0m2 1h0m16 0h0m-15 0h0m3 1h0m13 0h0m-12 2h0m15 0h0m-11 0h0m11 0h0m-2 0h0m-5 1h0m7 0h0m-18 1h0m4 0h0m6 0h0m3 0h0m-15 1h0m5 0h0m9 0h0m-15 1h0m8 0h0m8 1h0m2 0h0m2 1h0m-2 0h0m-10 0h0m-8 1h0m8 1h0m-1 0h0m2 1h0m4 1h0m-1 0h0m-5 1h0m9 1h0m1 1h0m-13 0h0m-5 0h0m10 2h0m5 1h0m-9 1h0m-5 0h0m22 0h0m-17 2h0m15 0h0m-11 1h0m-1 0h0m-5 1h0m13 0h0m-1 0h0m-15 0h0m21 1h0m-12 0h0m6 1h0m5 0h0m-22 1h0m7 0h0m13 1h0m-6 0h0m-8 0h0m7 2h0m5 0h0m-6 0h0m-7 0h0m18 2h0m-2 1h0m-4 1h0m-3 1h0m-12 0h0m10 0h0m5 0h0m-17 1h0m16 0h0m6 0h0m2 2h0m-14 0h0m-9 0h0m7 1h0m-4 1h0m8 1h0m12 2h0m-20 1h0m14 0h0m-17 0h0m15 1h0m-14 0h0m13 1h0m18 1h0m-7-1h0m12-1h0m-12 0h0m-1 0h0m2 0h0m22-1h0m-18-1h0m7 0h0m11-1h0m0 0h0m-8 0h0m6 0h0m-6 0h0m-14-3h0m11 0h0m7-1h0m-20-1h0m1-1h0m14 0h0m-3 0h0m6 0h0m-7 0h0m10 0h0m-3-1h0m-3-1h0m-11 0h0m1-1h0m11 0h0m4 0h0m-5 0h0m4-1h0m-19 0h0m21 0h0m3-1h0m-22 0h0m19-1h0m-3 0h0m-12-1h0m13 0h0m-18 0h0m4-1h0m19-1h0m-9 0h0m6-1h0m-3-1h0m-5-1h0m1 0h0m-7-1h0m4 0h0m-8 0h0m2-1h0m3-1h0m-4 0h0m2 0h0m13 0h0m-9 0h0m-10-1h0m13-1h0m8 0h0m-17 0h0m0-1h0m18 0h0m-5-1h0m0-2h0m-6-1h0m13 0h0m-9-1h0m5-1h0m4-1h0m-13 0h0m2 0h0m1 0h0m-12-1h0m6 0h0m-3 0h0m2 0h0m-1-2h0m17-1h0m-3 0h0m-12-1h0m-8-1h0m8 0h0m-4-1h0m14 0h0m1 0h0m-18-1h0m11-1h0m5 0h0m-1 0h0m1 0h0m-11 0h0m16 0h0m-1 0h0m-6 0h0m-11 0h0m6-1h0m-1 0h0m3 0h0m4 0h0m-11 0h0m12-1h0m-3-2h0m0 0h0m5 0h0m4 0h0m-8-2h0m-2 0h0m1-1h0m-5-1h0m12 0h0m-1 0h0m-19 0h0m7-1h0m0 0h0m1-1h0m-1 0h0m-1 0h0m12-1h0m-6 0h0m8 0h0m-8 0h0m3-1h0m-4 0h0m9-1h0m0 0h0m-16 0h0m10-1h0m7 0h0m-8 0h0m10-1h0m-17 0h0m-7 0h0m12 0h0m-8 0h0m15 0h0m-16 0h0m20 0h0m-23-1h0m0 0h0m16 0h0m4 0h0m-15 0h0m5-1h0m-10 0h0m19 0h0m-6 0h0m-8-1h0m0 0h0m16 0h0m-20-1h0m18 0h0m4-1h0m-1 0h0m0 0h0m-22-1h0m5 0h0m14 0h0m1 0h0m-8 0h0m-5-1h0m-3 0h0m13 0h0m-12 0h0m1-1h0m2 0h0m6 0h0m-13 0h0m23 0h0m-16 0h0m16 0h0m-15-1h0m-1 0h0m-7-1h0m6-1h0m-2 0h0m-5 0h0m15-1h0m7-1h0m-13 0h0m14 0h0m-13-1h0m-8 0h0m16 0h0m-18 0h0m13 0h0m0-1h0m-4 0h0m-8-1h0m16 0h0m-16 0h0m23 0h0m-18-1h0m18 0h0m-10 0h0m10 0h0m-19 0h0m3 0h0m2-1h0m9 0h0m-1 0h0m-18 0h0m5 0h0m-3 0h0m12-1h0m-12 0h0m18 0h0m-8 0h0m11-1h0m-17 0h0m17-1h0m-19-1h0m19 0h0m-10 0h0m-11-1h0m8 0h0m-1 0h0m15-1h0m-7 0h0m4 0h0m2 0h0m-3-1h0m-9 0h0m7 0h0m4 0h0m-18 0h0m-2 0h0m10 0h0m10-1h0m-10-1h0m-4 0h0m9 0h0m-5 0h0m-6-1h0m-2 0h0m6 0h0m13 0h0m-2 0h0m-12 0h0m7-1h0m-5 0h0m6 0h0m-17-1h0m1 0h0m4 0h0m8 0h0m5-1h0m-15 0h0m2 0h0m1 0h0m-2 0h0m14 0h0m2-1h0m-8 0h0m-8 0h0m19 0h0m0-1h0m-22 0h0m11 0h0m11 0h0m-15 0h0m-7 0h0m18 0h0m-17-1h0m11 0h0m7 0h0m1 0h0m-10-2h0m-1 0h0m1 0h0m4 0h0m3 0h0m6 0h0m-11 0h0m-4 0h0m14 0h0m-5 0h0m-6 0h0m4-1h0m-2 0h0m-11 0h0m12 0h0m-9 0h0m13 0h0m-14-1h0m7 0h0m0 0h0m12 0h0m-7 0h0m2 0h0m-2-1h0m6 0h0m-16 0h0m2 0h0m-1 0h0m-8 0h0m5 0h0m15 0h0m-1 0h0m2-1h0m-14 0h0m12 0h0m-13 0h0m1-1h0m9 0h0m-15 0h0m10 0h0m-3-1h0m16 0h0m-3 0h0m-7 0h0m8 0h0m-7 0h0m-6 0h0m0 0h0m-2 0h0m11-1h0m6 0h0m-3-1h0m-12 0h0m6 0h0m-11 0h0m19-1h0m-20 0h0m-1-1h0m13 0h0m-12 0h0m7-1h0m-5 0h0m-5 0h0m8 0h0m0 0h0m-2 0h0m-6 0h0m15 0h0m-11-1h0m19 0h0m-23 0h0m24 0h0m-16-1h0m-3 0h0m0 0h0m17 0h0m-17 0h0m6 0h0m8 0h0m-11 0h0m13-1h0m-15 0h0m13 0h0m-4-1h0m7 0h0m-7 0h0m-4-1h0m11 0h0m-21 0h0m8 0h0m0 0h0m12-1h0m-10 0h0m-2 0h0m13-1h0m-13 0h0m7 0h0m-4-1h0m11 0h0m-2 0h0m-20 0h0m19 0h0m0 0h0m0 0h0m-3-1h0m7 0h0m-5-1h0m-10 0h0m-1 0h0m-3 0h0m10-1h0m-2 0h0m1 0h0m-9-1h0m17 0h0m-2 0h0m-12-1h0m15 0h0m-19 0h0m13 0h0m-6-1h0m12 0h0m-5 0h0m-13-1h0m5 0h0m-4-1h0m3-1h0m-8 0h0m3 0h0m5 0h0m-4 0h0m14 0h0m-15 0h0m18-1h0m-20 0h0m6 0h0m12 0h0m-5 0h0m4-1h0m-13 0h0m1 0h0m-3 0h0m20 0h0m-20 0h0m17-1h0m-17 0h0m19 0h0m-2 0h0m-1 0h0m-19-1h0m10 0h0m9 0h0m-20 0h0m21-1h0m-6-2h0m5 0h0m-7 0h0m-5 0h0m3 0h0m0-1h0m9 0h0m-12 0h0m14 0h0m-14 0h0m-2 0h0m7-1h0m-6 0h0m2 0h0m10 0h0m-3 0h0m-14 0h0m-2 0h0m8 0h0m0 0h0m1-1h0m7 0h0m5 0h0m-18 0h0m4-1h0m15 0h0m-12 0h0m-10 0h0m13-1h0m11 0h0m-22 0h0m12-1h0m-14-1h0m20 0h0m-19 0h0m11 0h0m-6-1h0m15 0h0m-14 0h0m3 0h0m14-1h0m-8 0h0m-15 0h0m20 0h0m-17 0h0m6 0h0m12-1h0m-18 0h0m1 0h0m9 0h0m7 0h0m-15-1h0m-1 0h0m18 0h0m-11 0h0m9 0h0m-14 0h0m6-1h0m-3 0h0m0 0h0m1 0h0m10 0h0m-9 0h0m-2 0h0m1 0h0m7 0h0m4 0h0m-2-1h0m-20 0h0m9 0h0m15-1h0m0 0h0m-6 0h0m-1 0h0m6 0h0m-7 0h0m0 0h0m-9 0h0m-2-1h0m10 0h0m5 0h0m-17 0h0m7 0h0m14-1h0m-18 0h0m10 0h0m2 0h0m-14 0h0m17-1h0m0 0h0m-11-1h0m8 0h0m2 0h0m0 0h0m4 0h0m-4-1h0m-16 0h0m1 0h0m7-1h0m12 0h0m-19-1h0m15 0h0m0 0h0m-13 0h0m16-1h0m-6 0h0m-11 0h0m18 0h0m-5-1h0m4 0h0m-7 0h0m-13-1h0m1 0h0m4-1h0m-4 0h0m8 0h0m-7 0h0m15 0h0m-9-1h0m2 0h0m-9 0h0m2 0h0m-1 0h0m5 0h0m-2-1h0m5 0h0m10 0h0m-20 0h0m0 0h0m13-1h0m0 0h0m1 0h0m-8-1h0m9 0h0m-8 0h0m7 0h0m7 0h0m-4 0h0m-9 0h0m6 0h0m5-1h0m-6 0h0m-7 0h0m-2 0h0m4 0h0m4 0h0m9-1h0m-17 0h0m14 0h0m0 0h0m-12 0h0m13-1h0m-20 0h0m-2 0h0m22-1h0m-7 0h0m-4 0h0m8 0h0m-7-1h0m-7 0h0m18 0h0m-4 0h0m-19-1h0m18-1h0m-7 0h0m10 0h0m-21-1h0m16 0h0m-11 0h0m9 0h0m8-1h0m-12 0h0m-2 0h0m-8 0h0m10 0h0m5 0h0m-8 0h0m-3-1h0m12 0h0m-11 0h0m18 0h0m-3 0h0m-2 0h0m0-1h0m-17 0h0m6 0h0m-5 0h0m8 0h0m10-1h0m1 0h0m-9-1h0m8 0h0m-1-1h0m-19-1h0m7 0h0m10 0h0m-2 0h0m7 0h0m-6-1h0m7 0h0m-14 0h0m6-1h0m-9 0h0m-1 0h0m1-1h0m-5 0h0m1 0h0m19 0h0m-9-1h0m8 0h0m1 0h0m-17-1h0m11 0h0m-1 0h0m-12 0h0m14-1h0m-11 0h0m11 0h0m-12 0h0m18-1h0m-9 0h0m1 0h0m-9-1h0m19 0h0m-20-1h0m-1 0h0m11 0h0m-6 0h0m15-1h0m-23 0h0m0-1h0m24 0h0m-17 0h0m10 0h0m0-1h0m-12 0h0m17 0h0m-1 0h0m-16-1h0m5 0h0m1 0h0m2 0h0m11 0h0m-20 0h0m15-1h0m3 0h0m-8 0h0m5 0h0m4 0h0m-10-1h0m7 0h0m-17 0h0m18-1h0m-11 0h0m-1 0h0m-4 0h0m-1 0h0m5-1h0m15 0h0m-1 0h0m-9 0h0m7 0h0m-6-1h0m-15-1h0m1 0h0m15 0h0m-2 0h0m-11-1h0m18-1h0m1 0h0m-18-1h0m13 0h0m-12-2h0m-2 0h0m6 0h0m11 0h0m-8-1h0m-10 0h0m12 0h0m-6-1h0m7 0h0m-6-1h0m4 0h0m6 0h0m-6 0h0m-10-1h0m15 0h0m-12-1h0m5 0h0m0 0h0m4 0h0m6-1h0m-18 0h0m6 0h0m-6-1h0m11 0h0m7 0h0m-7 0h0m-2-1h0m9 0h0m-5 0h0m1 0h0m-16 0h0m-1 0h0m10 0h0m2-1h0m-4 0h0m16 0h0m-23 0h0m11 0h0m10 0h0m-1-1h0m-18-1h0m18 0h0m-11-1h0m-10 0h0m12-1h0m5 0h0m-3 0h0m-11-1h0m3-1h0m9-1h0m2 0h0m-3 0h0m-11-1h0m20 0h0m-16 0h0m7-1h0m-9 0h0m13 0h0m-5 0h0m8 0h0m-1 0h0m-12 0h0m2 0h0m-2 0h0m9-1h0m6 0h0m-4-1h0m-16-1h0m19 0h0m-16 0h0m-2-1h0m16-1h0m-2 0h0m-6 0h0m-4 0h0m3-1h0m0 0h0m9-1h0m0 0h0m-5-1h0m-2 0h0m9 0h0m2 0h0m-14-1h0m11 0h0m-18 0h0m6 0h0m-7 0h0m7-1h0m6 0h0m8-1h0m-7 0h0m-5-1h0m12-1h0m1 0h0m-12 0h0m-5 0h0m17-2h0m-21 0h0m15-2h0m-2 0h0m4 0h0m2-1h0m-3 0h0m-2-1h0m-9 0h0m-7-1h0m1 0h0m8 0h0m1-1h0m-7 0h0m19 0h0m-14-1h0m5 0h0m7 0h0m-19 0h0m8 0h0m-1-1h0m0 0h0m-7 0h0m16 0h0m-4-2h0m2 0h0m-7 0h0m0 0h0m14-1h0m-17 0h0m-1 0h0m10 0h0m-11-1h0m-2 0h0m0-1h0m17 0h0m-10-2h0m1 0h0m12 0h0m-14-1h0m14-2h0m-11-1h0m7-1h0m-9-3h0m-4-2h0m18-1h0m-1-1h0m-6 0h0m1-1h0m-1 0h0m-14-1h0m21-1h0m-14 0h0m12 0h0m-11-1h0m13 0h0m-19-1h0m1 0h0m4-2h0m15 0h0m-21 0h0m-2 0h0m15-2h0m-12-2h0m1 0h0m14 0h0m-3-1h0m-13-2h0m2 0h0m7-1h0m11-1h0m-23 0h0m6-1h0m15-3h0m-21-1h0m5-2h0m2 0h0m8-2h0m3-1h0m6-1h0m0-3h0m-8-1h0m-1 0h0m-9-4h0m3-1h0m7 0h0m-2-1h0m5 0h0m-10-1h0m1-1h0m7-2h0m-13-7h0m9-3h0m-1-2h0m-11-2h0m19-7h0m-5-10h0m1-1h0m7 0h0m-4-2h0m-19-12h0m21-1h0m-9-7h0m3-1h0m-8-6h0m-5-1h0m7-9h0m10-1h0m-3-9h0m-15-7h0m19-2h0m-9-2h0m-8-2h0m0-11h0m13-4h0m-11 0h0m12-11h0m4-12h0m-6-13h0m7-3h0m-2-2h0m-4 0h0m1-4h0m7-2h0m-8-2h0m0-1h0m7-3h0m-3-3h0m-17-1h0m-1-1h0m19 0h0m-16-1h0m16 0h0m0-1h0m-9 0h0m-6-3h0m7 0h0m-8-2h0m-3 0h0m22-1h0m-15 0h0m-7-3h0m9 0h0m-1-3h0m6 0h0m-16-2h0m9-1h0m0-6h0m8-5h0m-14 0h0m-1 0h0m17-1h0m4-1h0m-6 0h0m4-1h0m2 0h0m-8-1h0m-2-3h0m11-1h0m-16 0h0m9 0h0m7-1h0m-8 0h0m1-2h0m4 0h0m-12 0h0m-7 0h0m8-1h0m-8-1h0m3-2h0m17 0h0m0 0h0m2-2h0m-7-1h0m-16-2h0m23-1h0m-7-1h0m4-1h0m-8-2h0m2 0h0m0 0h0m5 0h0m3-1h0m-20 0h0m14 0h0m-7-1h0m-5-1h0m9 0h0m-11-1h0m-3-1h0m23 0h0m-11-1h0m2-2h0m1-1h0m6 0h0m-15 0h0m11 0h0m-4-1h0m-5 0h0m5 0h0m-3-1h0m3 0h0m4-1h0m-9 0h0m-1-1h0m2 0h0m14 0h0m-22-1h0m3 0h0m10 0h0m9-1h0m-7-1h0m2 0h0m-14 0h0m6 0h0m9 0h0m-7-1h0m-8 0h0m0 0h0m-2 0h0m5-1h0m-7 0h0m6-1h0m4 0h0m-5-1h0m0-1h0m15 0h0m-5-1h0m1 0h0m-1 0h0m4 0h0m-9-1h0m-10 0h0m20-1h0m-10 0h0m-10 0h0m2-1h0m4 0h0m8 0h0m0 0h0m-12-1h0m-2 0h0m10 0h0m-5 0h0m0-2h0m14-1h0m-7-1h0m-6 0h0m-1 0h0m-5 0h0m12-1h0m0 0h0m6 0h0m-11 0h0m9 0h0m-9-1h0m-6 0h0m0-1h0m11 0h0m9-1h0m0 0h0m-18 0h0m14 0h0m5-1h0m-7 0h0m5 0h0m-11-1h0m-2 0h0m1-1h0m-5 0h0m18-1h0m-10 0h0m-11 0h0m21 0h0m-12-1h0m5-1h0m3 0h0m4 0h0m-17 0h0m5-1h0m6 0h0m-9-1h0m12 0h0m-2 0h0m4 0h0m-11-1h0m-4 0h0m13-1h0m-14 0h0m20 0h0m-21-1h0m2-1h0m-4-1h0m2 0h0m18 0h0m-12 0h0m-1-1h0m16 0h0m-2-1h0m-12 0h0m2 0h0m-5-1h0m3 0h0m0 0h0m9 0h0m3-1h0m-3 0h0m-14-1h0m-1 0h0m9 0h0m2-1h0m-3 0h0m6 0h0m0 0h0m-2 0h0m-4-1h0m-5 0h0m5 0h0m12 0h0m-15 0h0m-3 0h0m3-1h0m8 0h0m-10 0h0m-6 0h0m23-1h0m-19 0h0m17 0h0m0-1h0m-14 0h0m-8 0h0m6 0h0m8-1h0m8-1h0m2 0h0m-24 0h0m1-1h0m14-1h0m0 0h0m1 0h0m-16-1h0m19 0h0m-18-1h0m23 0h0m-24 0h0m18-1h0m4 0h0m-16 0h0m-3-1h0m9 0h0m-7 0h0m12-1h0m-8 0h0m-8 0h0m10-1h0m-8 0h0m-1 0h0m14-1h0m2 0h0m-11 0h0m-1-1h0m15 0h0m-7 0h0m-1 0h0m6-1h0m-3 0h0m-15-1h0m9 0h0m-7 0h0m14 0h0m4-1h0m-17 0h0m2 0h0m5 0h0m-4 0h0m11-1h0m-9-1h0m1 0h0m4 0h0m-4 0h0m13 0h0m-8 0h0m-4-1h0m7 0h0m-10-1h0m-5 0h0m9 0h0m-5 0h0m2 0h0m1-1h0m-7 0h0m10-1h0m-8 0h0m11 0h0m-16-1h0m2 0h0m13 0h0m-13 0h0m-2-1h0m22 0h0m0 0h0m-4-1h0m-8 0h0m-6-1h0m15 0h0m2 0h0m2 0h0m-23-1h0m4 0h0m20-1h0m-14-1h0m5 0h0m-5 0h0m11-1h0m-10 0h0m5 0h0m-16 0h0m20 0h0m0 0h0m-10-1h0m0 0h0m7-1h0m1 0h0m-1-1h0m7 0h0m-12-1h0m1-1h0m6 0h0m-7 0h0m-2 0h0m4 0h0m-10 0h0m8 0h0m-10-1h0m0-1h0m-2 0h0m15 0h0m-8-1h0m2 0h0m-5 0h0m10-1h0m-7 0h0m16-1h0m-5 0h0m5-1h0m1-1h0m-3 0h0m3 0h0m-22 0h0m20-1h0m-17 0h0m16 0h0m-19-1h0m21 0h0m-20 0h0m-3-1h0m20 0h0m-6-1h0m0 0h0m-11-1h0m5 0h0m13 0h0m-17-1h0m2 0h0m6-1h0m7 0h0m-5 0h0m-6-1h0m-1 0h0m16-1h0m-11 0h0m-3-2h0m-9 0h0m10 0h0m-4 0h0m14-1h0m-6 0h0m6-1h0m-5 0h0m-11-1h0m19 0h0m-22 0h0m18-1h0m-7 0h0m1 0h0m9 0h0m0 0h0m-21-1h0m10 0h0m-11-1h0m19-1h0m-16 0h0m17-1h0m-9-1h0m-3 0h0m6 0h0m-13 0h0m5-1h0m17-1h0m-15 0h0m2 0h0m6-1h0m6 0h0m-5 0h0m-13 0h0m11-1h0m6 0h0m-21 0h0m16 0h0m-10-1h0m3-1h0m-7 0h0m21-1h0m-15-1h0m1 0h0m-8 0h0m-1 0h0m19-1h0m-16 0h0m1 0h0m11 0h0m-11-1h0m13 0h0m-8 0h0m-8-1h0m20-1h0m-16-2h0m-4 0h0m19 0h0m-4 0h0m6 0h0m-18-1h0m1 0h0m4-1h0m1-1h0m-1-1h0m-1 0h0m-5-1h0m1-2h0m7-1h0m7 0h0m-1 0h0m7 0h0m-13-1h0m13-1h0m0-2h0m-8 0h0m-11-1h0m18-2h0m-12-4h0m6-1h0m-10 0h0m11-4h0m-16 0h0m15-2h0m-17-1h0m16 0h0m-7-5h0m14-2h0m-16-1h0m-2-2h0m17 0h0m-14-2h0m7-3h0m4 0h0m-7-5h0m-1-3h0m3-4h0m-3-14h0m-10-10h0m5-7h0m-2-2h0m8 0h0m-8-11h0m18-2h0m-12-1h0m10-11h0m3-12h0m-3-11h0m-13-11h0m22 17h0m17 12h0m-15 19h0m17 4h0m-8 3h0m2 19h0m-5 12h0m-10 3h0m7 1h0m3 1h0m2 0h0m-1 1h0m-4 1h0m12 1h0m-8 1h0m-10 4h0m0 1h0m11 3h0m-4 3h0m0 1h0m12 2h0m-18 2h0m-1 0h0m12 4h0m-15 1h0m0 1h0m16 1h0m-11 0h0m-1 2h0m19 0h0m-17 0h0m-4 2h0m1 1h0m8 1h0m3 1h0m-9 5h0m-2 1h0m18 1h0m-13 0h0m3 1h0m3 3h0m-7 0h0m17 0h0m-14 1h0m-5 3h0m15 0h0m2 2h0m-21 0h0m15 1h0m-10 2h0m0 1h0m11 0h0m-7 1h0m7 0h0m-13 2h0m18 0h0m-2 0h0m-19 0h0m2 1h0m11 1h0m9 1h0m-23 0h0m20 1h0m-8 1h0m-8 0h0m11 1h0m-3 1h0m-11 1h0m16 0h0m-1 0h0m-13 1h0m8 0h0m0 0h0m5 1h0m-15 2h0m2 0h0m0 0h0m19 1h0m-22 2h0m20 0h0m-14 1h0m11 1h0m-8 1h0m12 1h0m-9 0h0m2 0h0m4 3h0m1 0h0m-16 1h0m8 1h0m-6 1h0m10 0h0m1 1h0m-10 0h0m3 1h0m-8 0h0m21 1h0m-2 0h0m-17 1h0m-1 1h0m3 1h0m9 0h0m3 0h0m-14 1h0m13 0h0m-10 1h0m-5 0h0m9 2h0m-6 0h0m2 0h0m2 0h0m-1 1h0m7 0h0m-1 0h0m-12 0h0m0 1h0m18 1h0m-1 1h0m3 0h0m-17 1h0m3 0h0m-1 1h0m16 0h0m0 0h0m-8 0h0m-11 2h0m20 2h0m-8 0h0m2 0h0m1 0h0m0 1h0m-10 0h0m12 0h0m-4 0h0m-10 0h0m0 0h0m-1 0h0m15 1h0m-9 0h0m-10 0h0m14 1h0m-13 0h0m12 1h0m-7 0h0m-2 1h0m4 0h0m6 2h0m-9 0h0m4 0h0m14 2h0m-21 0h0m0 1h0m12 0h0m0 1h0m7 1h0m-9 0h0m-2 0h0m6 1h0m-16 1h0m8 0h0m15 0h0m-24 0h0m5 1h0m1 0h0m13 0h0m-16 1h0m13 1h0m1 1h0m-15 0h0m3 1h0m3 0h0m-2 0h0m5 1h0m-4 0h0m4 1h0m-7 1h0m16 1h0m-12 0h0m-3 0h0m18 0h0m-11 0h0m8 1h0m-6 0h0m-14 0h0m24 0h0m-21 0h0m16 1h0m-5 0h0m-9 0h0m12 1h0m7 0h0m-6 2h0m-2 0h0m-11 0h0m8 1h0m3 0h0m-6 1h0m12 0h0m-14 1h0m-7 0h0m1 0h0m14 0h0m2 1h0m-18 0h0m7 0h0m2 1h0m7 0h0m8 1h0m-3 0h0m-8 0h0m-9 0h0m3 0h0m-3 1h0m-3 0h0m11 0h0m-6 0h0m-4 1h0m12 1h0m6 1h0m-8 0h0m4 1h0m-11 1h0m2 1h0m-3 0h0m15 1h0m-6 0h0m-6 1h0m-4 0h0m14 1h0m-13 0h0m-4 0h0m19 1h0m-10 0h0m2 1h0m-5 0h0m1 0h0m-7 0h0m8 0h0m1 0h0m8 1h0m2 1h0m-8 1h0m11 0h0m-18 1h0m-3 0h0m14 2h0m5 0h0m-4 0h0m3 1h0m-8 0h0m10 0h0m-21 1h0m23 0h0m-16 2h0m12 1h0m-6 0h0m7 1h0m-13 2h0m11 0h0m-15 0h0m5 0h0m-1 1h0m4 0h0m12 0h0m-20 0h0m5 1h0m-5 1h0m18 1h0m-14 1h0m17 0h0m-12 0h0m-2 2h0m13 0h0m-20 0h0m13 1h0m-11 1h0m3 0h0m-4 1h0m6 0h0m-9 0h0m15 0h0m-1 1h0m-7 0h0m2 0h0m8 0h0m-3 1h0m6 1h0m3 1h0m-15 0h0m1 0h0m9 0h0m-8 2h0m6 0h0m-4 1h0m9 1h0m-5 0h0m-2 1h0m1 3h0m-8 1h0m6 1h0m1 1h0m-12 1h0m20 0h0m-21 0h0m14 0h0m-4 0h0m-12 2h0m17 0h0m3 2h0m-15 1h0m10 0h0m3 0h0m-5 1h0m11 0h0m-13 3h0m12 4h0m-15 1h0m12 0h0m-17 3h0m17 4h0m-20 0h0m18 2h0m-18 1h0m10 0h0m13 0h0m-15 3h0m5 2h0m10 1h0m-3 2h0m-13 0h0m-4 0h0m11 1h0m-14 0h0m5 3h0m-1 12h0m9 2h0m-7 3h0m15 6h0m-11 3h0m0 2h0m-7 29h0m16 4h0m-9 8h0m-10 1h0m4 9h0m17 1h0m-13 12h0m6 0h0m-9 1h0m16 1h0m-13 29h0m5 1h0m-3 5h0m2 7h0m-11 1h0m15 1h0m7 6h0m-22 2h0m12 6h0m-3 1h0m3 3h0m4 1h0m-3 1h0m-9 4h0m16 8h0m-19 3h0m22 8h0m-11 0h0m-8 0h0m8 0h0m-11 1h0m21 1h0m-21 0h0m18 1h0m-5 2h0m3 2h0m-16 1h0m21 2h0m-13 0h0m-3 0h0m-5 2h0m10 0h0m-9 7h0m2 2h0m11 2h0m6 0h0m-1 1h0m-9 1h0m6 1h0m-17 0h0m18 0h0m-14 1h0m5 0h0m2 0h0m-2 2h0m-2 0h0m6 0h0m2 1h0m-6 1h0m-7 0h0m16 2h0m-6 3h0m7 1h0m-5 1h0m-8 0h0m8 1h0m-9 0h0m12 0h0m4 0h0m-11 1h0m2 0h0m8 0h0m-14 1h0m7 0h0m1 1h0m2 2h0m-13 0h0m16 0h0m-1 0h0m-11 1h0m-4 0h0m11 0h0m-10 1h0m2 1h0m7 1h0m-1 0h0m-13 1h0m11 2h0m-9 0h0m13 2h0m-12 0h0m20 0h0m-23 1h0m5 2h0m4 0h0m13 1h0m-15 0h0m-2 0h0m5 0h0m-5 2h0m10 1h0m3 1h0m-11 0h0m-5 0h0m5 1h0m-5 2h0m3 1h0m0 1h0m17 0h0m-8 0h0m1 0h0m-4 1h0m-4 1h0m8 1h0m4 0h0m-1 2h0m-6 0h0m10 0h0m-19 1h0m20 1h0m-8 0h0m-4 0h0m-7 0h0m1 0h0m-3 1h0m15 0h0m-15 1h0m14 1h0m1 0h0m-1 0h0m-15 0h0m13 1h0m-2 0h0m5 1h0m-8 2h0m-7 0h0m11 0h0m-12 0h0m9 1h0m-5 0h0m11 0h0m2 0h0m1 2h0m-8 1h0m-3 0h0m1 0h0m8 0h0m-11 1h0m-5 1h0m-1 0h0m21 0h0m-4 0h0m-9 2h0m15 0h0m-5 0h0m-1 0h0m7 0h0m-13 1h0m-7 0h0m-1 1h0m10 0h0m-6 0h0m4 0h0m-11 0h0m21 1h0m-21 0h0m24 0h0m-7 0h0m-17 0h0m12 1h0m-12 0h0m6 0h0m10 0h0m-3 1h0m1 0h0m-7 1h0m14 1h0m-2 0h0m5 0h0m-15 0h0m13 0h0m-4 1h0m-10 0h0m-3 0h0m7 1h0m7 0h0m-4 1h0m-8 0h0m0 1h0m11 0h0m6 0h0m-22 0h0m-2 0h0m6 1h0m5 0h0m-7 0h0m9 0h0m6 1h0m5 0h0m-19 0h0m12 1h0m0 0h0m-7 0h0m-8 0h0m8 0h0m9 1h0m1 0h0m0 1h0m-9 0h0m12 0h0m-17 2h0m-3 0h0m13 0h0m-8 0h0m7 0h0m-10 0h0m1 0h0m-1 1h0m8 0h0m6 0h0m-17 0h0m10 1h0m-12 0h0m15 0h0m-5 0h0m11 0h0m-5 1h0m-15 0h0m11 1h0m-8 0h0m17 0h0m-16 0h0m15 1h0m4 0h0m-19 0h0m19 1h0m-15 0h0m14 1h0m-15 1h0m6 0h0m-2 1h0m9 1h0m3 0h0m-15 0h0m13 0h0m-7 1h0m3 0h0m-17 1h0m15 0h0m-14 1h0m0 0h0m14 0h0m1 0h0m7 1h0m-12 0h0m-8 0h0m-1 0h0m8 1h0m4 1h0m-14 0h0m4 1h0m-4 0h0m14 0h0m-1 0h0m9 0h0m-10 0h0m9 1h0m-12 0h0m-6 0h0m13 0h0m3 1h0m-18 0h0m13 0h0m-13 0h0m11 0h0m6 1h0m-17 0h0m7 0h0m-7 0h0m17 0h0m-4 1h0m-6 0h0m-6 0h0m21 0h0m-4 1h0m-2 0h0m-11 0h0m-3 1h0m18 1h0m1 1h0m-23 0h0m4 0h0m17 1h0m-16 0h0m6 0h0m12 1h0m-2 0h0m-18 0h0m18 1h0m-14 0h0m4 0h0m5 1h0m-2 0h0m-9 1h0m2 0h0m9 0h0m-10 0h0m18 0h0m-17 0h0m5 1h0m5 0h0m4 0h0m-15 0h0m-5 0h0m15 0h0m-3 0h0m10 0h0m-1 1h0m-2 0h0m-13 0h0m14 0h0m-5 0h0m-6 1h0m-3 0h0m-5 0h0m17 1h0m-4 0h0m6 0h0m-16 0h0m5 0h0m4 0h0m7 1h0m-20 0h0m4 1h0m-4 0h0m9 0h0m-5 1h0m-1 0h0m6 0h0m-5 0h0m-2 0h0m18 1h0m-15 0h0m13 0h0m-10 0h0m-6 0h0m3 1h0m-1 0h0m12 0h0m0 1h0m3 0h0m-4 0h0m3 0h0m3 0h0m-11 0h0m-9 1h0m17 0h0m1 0h0m-8 0h0m7 1h0m-12 0h0m14 0h0m-11 0h0m14 0h0m-1 0h0m-5 0h0m4 1h0m2 0h0m-17 0h0m11 0h0m-6 0h0m-3 0h0m-3 0h0m4 1h0m-7 0h0m18 0h0m-4 0h0m-7 0h0m3 1h0m4 0h0m6 0h0m-19 1h0m20 0h0m-3 0h0m-11 0h0m-2 1h0m10 0h0m-14 1h0m1 0h0m18 0h0m-21 1h0m0 0h0m5 0h0m-4 0h0m11 0h0m-14 0h0m2 0h0m14 0h0m-13 0h0m15 1h0m-8 0h0m4 0h0m-3 0h0m6 0h0m-17 1h0m6 0h0m-3 0h0m-1 0h0m16 0h0m-11 1h0m7 0h0m-10 0h0m3 0h0m-3 0h0m-2 1h0m7 0h0m-2 0h0m17 0h0m-12 0h0m3 0h0m-3 1h0m-7 1h0m1 0h0m7 0h0m6 1h0m-13 0h0m8 0h0m-3 0h0m2 1h0m5 0h0m-12 1h0m8 0h0m-6 0h0m-1 1h0m2 0h0m3 0h0m-11 2h0m16 0h0m-6 0h0m-3 0h0m2 0h0m4 1h0m-5 0h0m-4 0h0m-2 0h0m1 0h0m10 1h0m3 0h0m-5 0h0m-11 1h0m15 0h0m-6 0h0m14 1h0m-7 0h0m-10 0h0m7 0h0m-2 0h0m5 0h0m-16 1h0m14 0h0m-2 0h0m-11 0h0m-2 1h0m15 0h0m-7 0h0m7 1h0m-3 0h0m10 0h0m-22 0h0m0 1h0m19 1h0m-5 0h0m3 0h0m-6 0h0m4 0h0m1 1h0m-5 0h0m-4 0h0m13 1h0m-18 0h0m9 0h0m2 0h0m-11 0h0m1 1h0m8 0h0m-7 0h0m11 1h0m-10 1h0m6 0h0m-2 0h0m5 1h0m5 0h0m-13 0h0m-4 0h0m19 1h0m3 0h0m-13 0h0m7 0h0m-7 1h0m11 0h0m-16 0h0m15 0h0m-10 0h0m-3 0h0m3 0h0m2 0h0m-8 1h0m15 0h0m-15 0h0m18 1h0m-18 0h0m3 0h0m11 1h0m-6 0h0m1 0h0m-14 0h0m18 1h0m-11 1h0m17 0h0m-13 0h0m7 0h0m-7 0h0m-4 0h0m2 1h0m-1 0h0m5 0h0m-11 0h0m-1 0h0m11 1h0m-11 0h0m15 1h0m0 0h0m-6 0h0m-5 0h0m4 0h0m1 0h0m11 0h0m-13 1h0m-8 0h0m16 0h0m5 0h0m-5 1h0m-14 0h0m15 0h0m2 0h0m-6 1h0m-9 0h0m2 1h0m10 0h0m-5 0h0m-5 1h0m9 0h0m-3 0h0m1 0h0m-1 0h0m-8 0h0m17 1h0m2 0h0m-18 0h0m-1 0h0m1 0h0m14 0h0m-10 1h0m-2 0h0m0 0h0m11 0h0m-18 0h0m9 1h0m13 0h0m-8 0h0m5 0h0m-6 0h0m8 0h0m-5 1h0m-7 1h0m14 0h0m-7 1h0m-10 0h0m0 0h0m-6 1h0m15 0h0m9 0h0m-14 0h0m-1 1h0m-4 0h0m3 0h0m-7 0h0m12 0h0m6 0h0m-2 1h0m-2 0h0m7 0h0m-9 0h0m9 0h0m-1 1h0m-11 1h0m-2 0h0m0 0h0m12 0h0m-3 1h0m-3 0h0m3 0h0m-4 1h0m-12 0h0m3 0h0m12 1h0m6 0h0m-10 0h0m3 1h0m-14 0h0m8 0h0m-8 1h0m2 0h0m7 0h0m10 0h0m-6 0h0m6 0h0m-4 0h0m-10 1h0m13 0h0m-6 0h0m0 0h0m10 1h0m-5 0h0m-18 0h0m6 0h0m7 1h0m-1 0h0m10 0h0m-8 0h0m5 0h0m-12 0h0m4 0h0m8 1h0m-4 0h0m-2 1h0m1 0h0m-5 0h0m14 1h0m-15 0h0m5 0h0m3 0h0m2 0h0m5 1h0m-8 0h0m-3 0h0m-10 0h0m14 0h0m-5 0h0m12 1h0m-4 0h0m-8 0h0m-10 1h0m12 1h0m-13 0h0m16 0h0m8 0h0m-5 0h0m-16 1h0m18 0h0m-14 0h0m-1 1h0m10 0h0m8 0h0m-20 0h0m11 1h0m4 0h0m-18 1h0m-1 1h0m23 0h0m-10 1h0m5 0h0m-14 0h0m10 0h0m-14 0h0m3 0h0m14 1h0m-14 0h0m-2 0h0m7 1h0m12 0h0m-19 0h0m7 0h0m6 1h0m-7 0h0m15 0h0m-5 0h0m-12 1h0m7 1h0m-12 0h0m2 0h0m17 0h0m-18 0h0m11 1h0m-1 0h0m13 0h0m-3 0h0m-19 0h0m18 0h0m-16 1h0m2 1h0m1 0h0m-4 0h0m16 0h0m5 0h0m-9 1h0m-15 1h0m0 0h0m0 1h0m4 0h0m-3 0h0m13 0h0m-1 0h0m-9 0h0m20 0h0m-23 0h0m12 1h0m-10 0h0m10 0h0m-5 0h0m-4 1h0m18 0h0m-18 0h0m5 1h0m14 0h0m-3 0h0m-7 0h0m-3 0h0m4 0h0m7 0h0m-9 1h0m8 0h0m-10 0h0m-1 0h0m-1 0h0m14 1h0m-16 0h0m18 1h0m-1 0h0m-9 0h0m8 0h0m-22 1h0m6 0h0m9 1h0m5 0h0m-4 0h0m4 0h0m-8 0h0m9 0h0m-17 1h0m16 0h0m-19 1h0m12 0h0m9 0h0m-9 1h0m-1 0h0m3 0h0m7 1h0m-14 1h0m4 1h0m3 0h0m-9 0h0m7 1h0m9 0h0m-11 1h0m5 0h0m-2 1h0m4 0h0m3 1h0m-14 0h0m-7 0h0m7 0h0m-5 0h0m10 0h0m-6 1h0m-2 0h0m17 1h0m-15 0h0m7 0h0m-5 0h0m-1 2h0m-1 0h0m-3 0h0m0 0h0m18 1h0m-13 0h0m4 0h0m3 1h0m-4 0h0m-6 0h0m-4 0h0m5 0h0m16 1h0m-18 0h0m-4 0h0m2 0h0m10 1h0m-5 0h0m8 1h0m8 1h0m-19 0h0m9 0h0m3 0h0m6 0h0m-13 1h0m8 0h0m-3 0h0m-3 0h0m13 1h0m-10 0h0m-1 0h0m10 0h0m-12 1h0m9 0h0m-1 0h0m-19 1h0m14 1h0m-13 0h0m10 0h0m7 0h0m-14 0h0m10 1h0m0 0h0m7 1h0m-20 1h0m2 0h0m14 1h0m-3 1h0m2 0h0m-12 1h0m2 0h0m6 0h0m-5 1h0m0 0h0m9 0h0m3 1h0m-19 1h0m9 0h0m4 0h0m-5 1h0m6 0h0m8 1h0m-18 0h0m15 0h0m0 3h0m-10 0h0m-5 1h0m10 1h0m-10 0h0m14 1h0m-11 2h0m14 1h0m-18 0h0m1 1h0m8 0h0m12 0h0m-15 0h0m-1 2h0m2 1h0m4 1h0m8 0h0m-11 2h0m26-1h0m-4-2h0m8-1h0m-10 0h0m-2-1h0m19-1h0m-6-1h0m-5 0h0m4-1h0m-12 0h0m14-5h0m-1-1h0m-16 0h0m8-1h0m1-1h0m3 0h0m-7-1h0m3 0h0m15-1h0m-8 0h0m-7 0h0m8 0h0m-13-2h0m-4 0h0m7 0h0m-4 0h0m9-1h0m-9-1h0m9 0h0m-4-2h0m4 0h0m-7-1h0m13-1h0m4-1h0m-22-1h0m16-1h0m5 0h0m-13-1h0m14 0h0m-21-3h0m18-1h0m-2 0h0m-17-1h0m9 0h0m2 0h0m12 0h0m-23 0h0m12 0h0m0-1h0m11 0h0m1-2h0m-21 0h0m-1 0h0m5-1h0m0 0h0m-6-1h0m18 0h0m-18 0h0m13-1h0m-7 0h0m16 0h0m-17-1h0m16 0h0m-19 0h0m18-1h0m3 0h0m-17 0h0m8-1h0m-13 0h0m16 0h0m3 0h0m-20-1h0m14 0h0m0-1h0m-15-1h0m1 0h0m10-1h0m-5 0h0m12 0h0m-9 0h0m-9 0h0m9-1h0m-9 0h0m13-1h0m0-1h0m-2 0h0m-10 0h0m3 0h0m-4-1h0m6 0h0m6 0h0m-7 0h0m18-1h0m-10 0h0m1 0h0m5 0h0m-11-1h0m1 0h0m-1 0h0m-8 0h0m0 0h0m3-1h0m15 0h0m-2-1h0m5 0h0m-4-1h0m7 0h0m-24 0h0m1 0h0m6 0h0m4-1h0m-10 0h0m15-1h0m6 0h0m-15-1h0m7-1h0m-11 0h0m15 0h0m-9 0h0m15 0h0m-13-1h0m3 0h0m-9 0h0m15 0h0m-18-1h0m18-1h0m-4 0h0m-11 0h0m-3-1h0m10-1h0m-10 0h0m19 0h0m-2-1h0m4 0h0m-23 0h0m3-1h0m12 0h0m-10-1h0m12-1h0m4 0h0m-17 0h0m20-1h0m-15 0h0m8-1h0m-16-1h0m21 0h0m2-1h0m-21 0h0m9 0h0m-9 0h0m19 0h0m-17-2h0m19 0h0m-7 0h0m-7-1h0m-10-1h0m7 0h0m2-1h0m-3-1h0m9 0h0m-11-1h0m-1 0h0m21-1h0m-3-1h0m-9 0h0m11-1h0m0 0h0m-18 0h0m3-1h0m-4 0h0m6-1h0m-9 0h0m13 0h0m-13 0h0m1 0h0m-1 0h0m13-1h0m-4-1h0m-1 0h0m-7 0h0m1 0h0m6-1h0m1-1h0m-3-1h0m0 0h0m-7 0h0m3 0h0m19-2h0m2 0h0m-6-1h0m-10 0h0m-7-1h0m12 0h0m-5-1h0m0 0h0m14 0h0m-12 0h0m-10 0h0m1-1h0m7 0h0m1 0h0m6 0h0m-1-1h0m-8 0h0m4 0h0m-7-1h0m3 0h0m2-1h0m5 0h0m-9 0h0m2 0h0m14-1h0m-15 0h0m4 0h0m-5 0h0m4 0h0m11-1h0m-14 0h0m-5-1h0m13 0h0m3 0h0m3-1h0m-10 0h0m0 0h0m1 0h0m4 0h0m-6-1h0m5 0h0m9 0h0m-21-1h0m5 0h0m5 0h0m6-1h0m-12 0h0m12-1h0m-7 0h0m-9 0h0m20 0h0m-18 0h0m7-1h0m7 0h0m4 0h0m-5-1h0m5 0h0m-10 0h0m10 0h0m-3 0h0m-8-1h0m7 0h0m-14-1h0m6 0h0m2-1h0m6 0h0m-7 0h0m-10-2h0m15 0h0m-7-1h0m11 0h0m-2 0h0m-9-1h0m-3 0h0m6 0h0m3 0h0m-5-1h0m-2-1h0m16-1h0m-22 0h0m0 0h0m7-1h0m15 0h0m-8-1h0m-8-1h0m2 0h0m-3-1h0m7 0h0m10 0h0m-11-1h0m-5 0h0m-7-1h0m6 0h0m4 0h0m-10 0h0m7-1h0m-5 0h0m3-1h0m-5 0h0m11 0h0m7 0h0m-5-1h0m-3-1h0m3 0h0m-2 0h0m8 0h0m-18 0h0m8-1h0m1-1h0m5-1h0m-13-1h0m16 0h0m-12 0h0m14-1h0m-3 0h0m7 0h0m-10 0h0m-8 0h0m3 0h0m6-1h0m6 0h0m-9-1h0m-10 0h0m-2 0h0m18-1h0m-4 0h0m-10-1h0m9 0h0m-10 0h0m21-1h0m-24 0h0m6 0h0m16-1h0m-13 0h0m12 0h0m3 0h0m-18 0h0m2-1h0m-8 0h0m3-1h0m21 0h0m-9 0h0m-2-1h0m3 0h0m2-1h0m6 0h0m-8-1h0m6-1h0m-7-1h0m1 0h0m-6-1h0m-5 0h0m19-1h0m-16 0h0m16 0h0m-13 0h0m13 0h0m-1-1h0m-1-1h0m-11-1h0m10 0h0m-17 0h0m9-1h0m0 0h0m6 0h0m-6 0h0m-4-1h0m8 0h0m-15-1h0m2 0h0m2 0h0m14 0h0m-7 0h0m6-1h0m4 0h0m-18 0h0m-5 0h0m11-1h0m3-1h0m4 0h0m-2 0h0m-3-1h0m-11-1h0m2 0h0m8 0h0m1 0h0m4 0h0m-16 0h0m12-1h0m-5 0h0m1-1h0m-3 0h0m9 0h0m-3-1h0m6 0h0m1 0h0m-12-1h0m-7 0h0m17-1h0m-16 0h0m22 0h0m-10-1h0m10-1h0m-20 0h0m13 0h0m-10-1h0m9-1h0m8-1h0m-13 0h0m-2 0h0m-4-1h0m-2 0h0m19-1h0m-18 0h0m13 0h0m-16-1h0m5 0h0m10 0h0m-1-1h0m-11 0h0m0 0h0m-3 0h0m7 0h0m12-1h0m3 0h0m-4-1h0m4 0h0m-11-1h0m-8 0h0m1 0h0m12 0h0m6-1h0m-10 0h0m-1 0h0m-3 0h0m11 0h0m-11 0h0m-2-1h0m-4 0h0m4 0h0m-2-1h0m5 0h0m-1 0h0m2 0h0m-1-1h0m-9 0h0m5 0h0m15-1h0m-10-1h0m1 0h0m-6 0h0m12 0h0m4 0h0m1-1h0m-7 0h0m-1-1h0m-14 0h0m3 0h0m5 0h0m12-1h0m3 0h0m-1 0h0m-18-1h0m12 0h0m3-1h0m-5 0h0m-2-1h0m5 0h0m-17 0h0m8 0h0m-6 0h0m8 0h0m4 0h0m7-1h0m-21-1h0m21-1h0m-16 0h0m-2 0h0m4 0h0m3-1h0m3-1h0m6 0h0m-18 0h0m4 0h0m5-1h0m3 0h0m3-1h0m-9 0h0m-6-1h0m9-1h0m1-1h0m13 0h0m-17 0h0m5 0h0m5 0h0m4-1h0m-4 0h0m5 0h0m-19 0h0m7-1h0m13-1h0m-22-1h0m9 0h0m-10-1h0m17 0h0m-12-1h0m11 0h0m-7 0h0m0 0h0m0 0h0m2 0h0m-11-1h0m17 0h0m-6 0h0m6-1h0m-17-1h0m5 0h0m5-1h0m-3 0h0m-3 0h0m6-1h0m-3 0h0m-6 0h0m8 0h0m5-1h0m-13-1h0m13-1h0m-6 0h0m-2 0h0m7 0h0m-12-2h0m11 0h0m0-1h0m1 0h0m-1-1h0m-2 0h0m2 0h0m1-1h0m-9 0h0m-3-1h0m1-1h0m0-1h0m-1 0h0m17 0h0m-1-2h0m-10-1h0m-4 0h0m10 0h0m-11-2h0m19 0h0m-16 0h0m16-2h0m-19 0h0m15-1h0m-16-1h0m21-1h0m-5 0h0m6-1h0m-19 0h0m19 0h0m-15-1h0m2 0h0m11 0h0m-5-2h0m4-1h0m-14 0h0m-2-1h0m7-1h0m-6 0h0m-1-2h0m16-1h0m-16 0h0m10-1h0m-7 0h0m-2-2h0m2-2h0m-2-4h0m19-1h0m-2 0h0m-1-1h0m-17-1h0m8-1h0m7-1h0m-9-1h0m-6-2h0m8-1h0m11-2h0m1 0h0m-17 0h0m14-1h0m-11 0h0m14-2h0m-22 0h0m11-2h0m-13-3h0m21 0h0m-13-1h0m-8-2h0m6 0h0m9-1h0m-4-1h0m-10-1h0m17-3h0m-7 0h0m-7 0h0m-4-1h0m2 0h0m16-2h0m-4-2h0m-12 0h0m9-1h0m1-2h0m-8-2h0m11 0h0m-11-1h0m18-2h0m-17-2h0m-3 0h0m-1-2h0m16-4h0m-11-1h0m-6-1h0m6 0h0m5-1h0m-6-1h0m18-4h0m-8-6h0m3-2h0m-1-4h0m-16-4h0m21-1h0m0-2h0m-12-2h0m1-3h0m8-3h0m1-5h0m-20-7h0m15-2h0m-3-25h0m3-21h0m7-7h0m-14-22h0m8-1h0m-7-1h0m-5-7h0m-4-1h0m6-10h0m-1-1h0m0-2h0m16 0h0m-16-4h0m4-3h0m-4-2h0m2-3h0m10 0h0m-17-1h0m23-3h0m-12-10h0m1-1h0m5-4h0m6-2h0m-5 0h0m-8-3h0m-3-1h0m5-1h0m-9 0h0m13-6h0m-16-5h0m11-1h0m9-1h0m-3-3h0m-15-3h0m22-2h0m-8 0h0m-13-2h0m-3-2h0m15-1h0m-10-1h0m12-1h0m-8 0h0m-6 0h0m13-2h0m-9-1h0m-1-5h0m2-2h0m11 0h0m-14-2h0m-1-1h0m14 0h0m-9-1h0m6-1h0m-4-1h0m-9-1h0m5-2h0m1-1h0m-4-1h0m0-1h0m7-2h0m10-1h0m-5-2h0m-9 0h0m3-1h0m-9-2h0m11 0h0m-6-1h0m-6 0h0m9-1h0m3-1h0m-7-4h0m-4 0h0m1 0h0m3-1h0m4-2h0m-2 0h0m-1 0h0m5 0h0m11-1h0m-16 0h0m4-3h0m4 0h0m-6 0h0m9-1h0m-14 0h0m-1-1h0m6-3h0m-5-1h0m-1-2h0m18 0h0m-4 0h0m-3 0h0m9-1h0m-5 0h0m-3-1h0m-6-1h0m12-1h0m-2 0h0m-11-1h0m-2 0h0m-5 0h0m23-2h0m-21-1h0m10-1h0m-6-2h0m9-3h0m-8 0h0m-5 0h0m14-1h0m-15 0h0m5-1h0m-5 0h0m17-1h0m-3-2h0m-14-1h0m6 0h0m15-1h0m-22 0h0m16-2h0m-5-2h0m4 0h0m-8-1h0m-4 0h0m1-1h0m-1-1h0m19 0h0m-16 0h0m16-1h0m-10-1h0m4 0h0m8 0h0m-13 0h0m1-2h0m9 0h0m-9-2h0m1-1h0m3 0h0m-3-1h0m11-1h0m-9 0h0m-2 0h0m-6-2h0m10 0h0m1-1h0m-8-1h0m3 0h0m0 0h0m9-2h0m-3-1h0m-10 0h0m9-1h0m-7 0h0m-8-1h0m0-1h0m5 0h0m1-2h0m9-2h0m2-1h0m-6 0h0m-10-1h0m11-1h0m-8 0h0m-4 0h0m6-2h0m14-2h0m-8 0h0m-11-2h0m12-4h0m-7-1h0m13 0h0m-20 0h0m20-1h0m-21 0h0m10-2h0m-3-1h0m-2 0h0m7-2h0m10 0h0m-23-1h0m19-1h0m-11-3h0m16 0h0m-4-1h0m-18-1h0m11-1h0m-1-1h0m12-2h0m-10 0h0m-12-2h0m11 0h0m1-1h0m5 0h0m3-1h0m-4-3h0m-14-7h0m1 0h0m4-2h0m-8-1h0m9-1h0m-9 0h0m0-1h0m4-3h0m4-1h0m9-2h0m-10-1h0m2-5h0m4-1h0m9 0h0m-4-2h0m-19-4h0m13-1h0m-1-7h0m-10-12h0m4-2h0m11-5h0m-12 0h0m1-2h0m14-7h0m-1-1h0m4-2h0m-12-2h0m0-14h0m4-19h0m-10-2h0m35-42h0m-13 71h0m13 6h0m2 5h0m-9 0h0m-3 8h0m15 1h0m-19 5h0m8 1h0m15 8h0m-12 3h0m-2 2h0m-4 4h0m6 2h0m-7 8h0m-5 1h0m6 10h0m14 1h0m2 2h0m-22 0h0m6 2h0m-5 3h0m15 13h0m1 2h0m0 1h0m-5 1h0m-3 8h0m-5 0h0m-4 4h0m2 4h0m18 3h0m-1 2h0m5 3h0m-7 1h0m-8 1h0m-9 5h0m5 2h0m14 0h0m-16 1h0m6 3h0m-7 4h0m21 0h0m-8 4h0m-4 1h0m-8 1h0m18 0h0m-9 2h0m9 1h0m-10 1h0m-6 2h0m8 0h0m-7 0h0m-6 1h0m24 4h0m-15 0h0m-8 0h0m2 2h0m-1 0h0m7 1h0m-3 1h0m-4 1h0m21 3h0m-21 3h0m-2 2h0m24 0h0m0 1h0m-11 3h0m-7 0h0m8 2h0m5 1h0m3 0h0m-10 1h0m9 1h0m-19 2h0m0 5h0m3 2h0m-3 2h0m1 1h0m4 0h0m5 2h0m-4 2h0m-3 3h0m5 0h0m4 0h0m-4 2h0m10 1h0m-10 5h0m8 0h0m-9 0h0m-1 1h0m10 1h0m-16 1h0m3 5h0m13 0h0m-2 6h0m-3 3h0m-7 6h0m-5 1h0m14 2h0m-13 1h0m12 1h0m-12 2h0m2 2h0m5 0h0m15 2h0m-15 1h0m-3 3h0m15 6h0m-7 6h0m0 3h0m9 4h0m-23 1h0m9 4h0m-4 5h0m2 0h0m13 12h0m-20 3h0m5 3h0m12 3h0m-6 0h0m11 9h0m-14 7h0m-1 1h0m14 43h0m-4 35h0m-3 6h0m9 20h0m-15 1h0m1 10h0m0 3h0m-1 6h0m-4 2h0m17 2h0m-18 3h0m1 1h0m10 1h0m-5 0h0m-1 3h0m-5 1h0m3 4h0m16 1h0m-11 1h0m10 5h0m-12 0h0m3 4h0m-5 1h0m5 2h0m1 2h0m3 1h0m-15 3h0m16 1h0m-8 1h0m10 2h0m-14 2h0m8 3h0m4 0h0m-2 3h0m-9 3h0m-3 1h0m14 0h0m-9 2h0m-7 1h0m15 3h0m-12 0h0m1 2h0m0 2h0m4 1h0m-4 1h0m9 0h0m5 0h0m-8 0h0m6 2h0m3 1h0m-12 0h0m1 2h0m5 3h0m5 2h0m-15 2h0m9 5h0m-1 0h0m-12 0h0m22 1h0m-2 0h0m-15 1h0m2 0h0m-4 2h0m10 0h0m4 0h0m-7 0h0m-6 1h0m0 0h0m-2 1h0m13 0h0m-5 1h0m-2 0h0m9 0h0m4 2h0m-3 0h0m-15 1h0m4 2h0m7 1h0m-9 1h0m-1 6h0m-4 0h0m13 2h0m6 1h0m-7 0h0m-11 1h0m16 1h0m-10 1h0m-4 0h0m3 0h0m9 1h0m5 1h0m-17 0h0m0 3h0m21 1h0m-11 1h0m-4 1h0m-5 0h0m4 0h0m0 1h0m-8 0h0m23 1h0m1 1h0m-11 1h0m-4 0h0m-7 1h0m17 1h0m4 1h0m-11 0h0m-5 1h0m-1 0h0m6 1h0m-2 0h0m8 1h0m1 1h0m0 0h0m-17 1h0m13 1h0m1 0h0m8 1h0m-6 1h0m-8 0h0m-10 1h0m14 0h0m2 1h0m-2 0h0m-5 1h0m15 0h0m-20 1h0m-1 0h0m-1 0h0m9 0h0m-7 1h0m11 1h0m-6 0h0m11 0h0m-18 0h0m7 1h0m3 2h0m2 0h0m-7 0h0m5 1h0m-12 0h0m1 1h0m8 1h0m10 1h0m-8 0h0m-9 1h0m4 1h0m10 1h0m7 0h0m-22 0h0m11 0h0m-8 2h0m13 2h0m-2 0h0m7 1h0m-22 0h0m17 2h0m2 0h0m-19 0h0m5 1h0m8 0h0m-10 1h0m-3 0h0m16 1h0m-16 0h0m4 1h0m19 0h0m-2 0h0m-11 2h0m-7 1h0m10 1h0m8 0h0m-19 0h0m1 1h0m13 1h0m-14 0h0m9 0h0m0 1h0m2 0h0m-9 2h0m-1 0h0m5 1h0m0 0h0m15 1h0m-21 0h0m7 2h0m-7 0h0m-1 2h0m19 1h0m-13 0h0m6 0h0m-8 2h0m2 0h0m4 0h0m11 1h0m-1 0h0m-8 0h0m-8 1h0m0 0h0m9 1h0m-3 2h0m9 1h0m-15 0h0m5 1h0m-3 1h0m-6 1h0m10 0h0m-8 1h0m1 0h0m13 1h0m-8 0h0m-5 0h0m5 1h0m11 0h0m-4 1h0m-12 1h0m9 0h0m-9 0h0m0 0h0m3 0h0m-2 2h0m4 2h0m13 0h0m0 2h0m-17 0h0m16 0h0m-14 1h0m-7 0h0m17 0h0m2 1h0m-4 1h0m-10 0h0m11 1h0m-3 2h0m10 0h0m-3 0h0m-2 1h0m3 0h0m-17 1h0m14 0h0m-9 1h0m11 0h0m3 1h0m-7 1h0m7 0h0m-21 0h0m3 0h0m10 3h0m9 1h0m-16 0h0m3 1h0m-5 0h0m-5 1h0m10 0h0m-8 1h0m-1 0h0m-2 1h0m6 0h0m-3 2h0m6 1h0m-9 0h0m7 0h0m10 2h0m-17 0h0m2 0h0m6 1h0m14 0h0m-15 0h0m7 1h0m-6 0h0m11 1h0m0 0h0m-1 1h0m3 0h0m-12 1h0m4 0h0m-9 1h0m10 0h0m-3 2h0m11 1h0m0 1h0m-16 2h0m-5 0h0m2 0h0m16 2h0m3 1h0m-3 2h0m-12 0h0m1 1h0m11 0h0m-13 0h0m12 0h0m5 1h0m-19 0h0m16 1h0m-15 2h0m-3 0h0m11 0h0m-6 0h0m0 1h0m-6 0h0m19 0h0m-7 2h0m-5 0h0m-6 1h0m16 2h0m-13 1h0m-5 0h0m12 0h0m12 1h0m-11 1h0m8 0h0m-18 0h0m19 1h0m-2 2h0m3 1h0m-20 2h0m17 1h0m3 5h0m-9 0h0m9 1h0m-18 1h0m0 0h0m0 1h0m1 3h0m-1 1h0m-1 0h0m-1 1h0m1 0h0m-2 0h0m4 1h0m5 0h0m-8 0h0m9 1h0m-6 2h0m14 7h0m-16 0h0m8 0h0m0 1h0m0 1h0m1 5h0m11 2h0m-5 5h0m-6 2h0m-12 2h0m16 1h0m-11 0h0m4 2h0m-7 2h0m37-2h0m0-7h0m-10 0h0m16-1h0m-12-1h0m14-1h0m-19-3h0m14-1h0m-13-1h0m2-1h0m15-10h0m-13-2h0m5-1h0m5-2h0m-12 0h0m11 0h0m4-1h0m-1-1h0m-11 0h0m-7-7h0m1-3h0m2-1h0m-2-1h0m20 0h0m-8-1h0m-11-4h0m16-4h0m-17-1h0m0-5h0m-3 0h0m10-2h0m7 0h0m2-2h0m-3-2h0m-16-1h0m18-1h0m-16 0h0m9-1h0m-4-1h0m-2 0h0m-6-2h0m2-1h0m-1-3h0m3-2h0m15-9h0m-14-2h0m8-2h0m2 0h0m-15-2h0m9-1h0m9 0h0m-13 0h0m19-1h0m-5-3h0m-8-2h0m1-2h0m5-1h0m3-1h0m-12-1h0m-2-3h0m3-2h0m-7 0h0m-2-1h0m11-4h0m-5 0h0m17-1h0m1-5h0m-13-1h0m4 0h0m-6-1h0m6-1h0m-12 0h0m6-2h0m13-2h0m-14 0h0m9-1h0m3 0h0m-18-1h0m10 0h0m3-2h0m4-2h0m-8 0h0m2-2h0m-10 0h0m7-5h0m-4 0h0m2-1h0m-3-3h0m13-2h0m-8-1h0m11 0h0m-1-3h0m-8-2h0m-6 0h0m-6-2h0m6-1h0m-2-2h0m3-2h0m-3-3h0m16-1h0m-13-1h0m-7-1h0m14 0h0m-9 0h0m10-1h0m2-1h0m-8-1h0m-5-2h0m2-4h0m-1-1h0m13-4h0m-9-1h0m4 0h0m-2 0h0m3-1h0m-12-2h0m12-2h0m8-1h0m-5-1h0m-4-1h0m-12 0h0m13-1h0m-11-1h0m16-2h0m-6-1h0m-1-1h0m-12-2h0m7 0h0m0 0h0m-5-1h0m17-1h0m-18-1h0m16-2h0m-11-1h0m14-1h0m-17 0h0m7-1h0m-9-1h0m3 0h0m8-3h0m-9-6h0m6-5h0m-4-3h0m-5-1h0m15-6h0m-11-2h0m7 0h0m-5-6h0m-1-3h0m7-1h0m1 0h0m6-2h0m-15-2h0m11-1h0m-15-4h0m16-3h0m-16-4h0m5-3h0m9-1h0m7-6h0m3-4h0m-2 0h0m-9-1h0m-4-1h0m-4-3h0m6 0h0m2-2h0m-2-8h0m-10-4h0m5-1h0m-5-10h0m1-4h0m18-1h0m-15-1h0m-5-25h0m20-1h0m-12-10h0m1-41h0m0-47h0m9-6h0m-6-17h0m0-2h0m8-6h0m-11-8h0m2-15h0m-4-1h0m-2-1h0m-5-1h0m2 0h0m8-3h0m-7-2h0m9-9h0m1-5h0m-3-1h0m-10-1h0m0-6h0m15-5h0m-1 0h0m6-6h0m-13-9h0m-1-1h0m4-8h0m5-9h0m-2-5h0m-4-2h0m1-4h0m-10-2h0m7-3h0m11-9h0m-17-2h0m3-2h0m-2-1h0m14-3h0m-4-6h0m-10 0h0m4-2h0m-2-2h0m-2-3h0m0-2h0m10-1h0m-9-2h0m-1-6h0m4-1h0m-3-6h0m-1-2h0m2 0h0m2-1h0m-4-7h0m16-1h0m-2-1h0m-6-6h0m6 0h0m-12-5h0m-4 0h0m15-7h0m5-2h0m0-6h0m-18-1h0m12-7h0m-6-54h0m11-22h0m8 11h0m17 35h0m-15 16h0m-3 21h0m4 13h0m4 10h0m7 24h0m-10 4h0m8 1h0m-1 18h0m2 4h0m-15 5h0m0 23h0m17 12h0m-17 23h0m6 14h0m13 7h0m-1 2h0m3 28h0m-16 12h0m1 29h0m4 60h0m8 18h0m6 18h0m-22 8h0m8 42h0m-8 10h0m9 21h0m-11 1h0m2 4h0m7 4h0m-4 10h0m5 1h0m10 2h0m-20 2h0m21 4h0m-20 4h0m8 3h0m9 5h0m6 3h0m-17 4h0m7 1h0m4 10h0m-15 15h0m0 6h0m4 2h0m-5 15h0m2 3h0m4 1h0m-4 1h0m6 1h0m2 3h0m5 1h0m-4 3h0m-6 2h0m6 2h0m-5 1h0m2 2h0m-2 4h0m-4 5h0m7 1h0m-4 1h0m9 0h0m-14 8h0m4 1h0m-3 7h0m0 3h0m1 2h0m2 2h0m-5 9h0m13 7h0m6 5h0m-18 0h0m10 0h0m10 3h0m-16 6h0m2 0h0m16 2h0m-23 7h0m4 0h0m19 3h0m-20 6h0m-2 4h0m8 3h0m-3 3h0m9 2h0m-10 1h0m-3 4h0m6 14h0m5 7h0m-7 2h0m0 5h0m-4 2h0m19 1h0m10 2h0m15-49h0m-19-2h0m6 0h0m7-7h0m-2-9h0m-10-27h0m8-1h0m3-4h0m-8-9h0m-4-19h0m2-3h0m-1-1h0m-1-7h0m6-15h0m-3-5h0m16-10h0m-18-14h0m0-28h0m4-5h0m1-20h0m12-17h0m-19-10h0m13-6h0m5-5h0m-18-30h0m7-19h0m11-17h0m-14-125h0m3-99h0m3-29h0m-4-47h0m14-10h0m-10-64h0m22 86h0m-5 188h0m20 164h0m-8 51h0m-10 9h0m-3 33h0m9 35h0m-8 1h0m1 24h0m7 0h0m-12 7h0m16 22h0m-6 39h0m-9 16h0m-1 40h0m39-48h0m-8-82h0m1-67h0m8-240h0m-10-205h0m20 527h0m0 28h0" stroke="#000" stroke-opacity="0.45" stroke-width="6.2" stroke-linecap="round" fill="none"/>
<path transform="scale(.1)" d="m1344 3217h0m-5-77h0m34 18h0m-11 2h0m10 11h0m0 43h0m-11 42h0m24 63h0m11-26h0m-9-6h0m9-24h0m-10-12h0m-3-5h0m5-2h0m0-3h0m-3-1h0m-6-9h0m11-7h0m-7-13h0m-3-6h0m16-4h0m-6-1h0m-2-4h0m-10-26h0m1-12h0m14-3h0m-2-11h0m3-9h0m22-49h0m7 24h0m0 7h0m-17 5h0m1 4h0m5 5h0m1 3h0m10 1h0m1 9h0m-3 24h0m-3 7h0m2 3h0m-10 6h0m-7 7h0m2 1h0m5 2h0m12 6h0m-5 7h0m-12 0h0m16 3h0m-12 3h0m14 5h0m-3 0h0m-19 2h0m13 12h0m-9 0h0m8 2h0m-8 0h0m5 2h0m-6 10h0m-4 0h0m14 2h0m4 5h0m-1 2h0m1 4h0m-4 2h0m4 11h0m-15 0h0m20 6h0m-7 3h0m-15 2h0m4 7h0m5 0h0m0 4h0m9 11h0m-16 1h0m14 1h0m21 79h0m-4-23h0m-7-13h0m20-3h0m-19-4h0m17-5h0m-9-15h0m-3-23h0m-1-6h0m17-7h0m-6-2h0m-10-3h0m9-5h0m-7-1h0m11-2h0m-6-1h0m-6 0h0m12-5h0m-11-15h0m12 0h0m-5 0h0m-2-2h0m-1-3h0m8-1h0m1-3h0m-4-5h0m-15 0h0m15-3h0m1 0h0m-7-1h0m-10-1h0m12-8h0m3-1h0m1 0h0m-16-4h0m15-12h0m6-1h0m-8 0h0m-8-1h0m3-5h0m4-2h0m-5-2h0m5-2h0m-2-1h0m-7-1h0m14 0h0m3-1h0m-11-1h0m8-1h0m-2-3h0m-18-1h0m5-4h0m13-4h0m3-4h0m-2-3h0m-11 0h0m2-3h0m0-6h0m-7-2h0m21-1h0m-7-3h0m0 0h0m-11-1h0m7-6h0m-7-4h0m6-2h0m3-1h0m-8-12h0m-5-2h0m15 0h0m-12-3h0m2-2h0m-1-3h0m15-14h0m1-2h0m-19-2h0m33-16h0m-2 1h0m1 5h0m7 9h0m-17 1h0m22 7h0m-10 1h0m11 15h0m-13 1h0m-2 7h0m5 1h0m-13 18h0m15 2h0m8 3h0m-11 2h0m0 5h0m-10 0h0m21 1h0m-15 3h0m14 3h0m-20 1h0m-1 1h0m7 3h0m-2 1h0m7 0h0m10 1h0m1 1h0m0 0h0m-15 1h0m-8 1h0m16 0h0m7 0h0m-14 3h0m5 1h0m9 1h0m-23 0h0m5 2h0m-6 0h0m12 5h0m-8 2h0m-2 0h0m5 1h0m9 2h0m4 1h0m-7 2h0m11 0h0m-14 2h0m-2 3h0m3 6h0m-1 2h0m-1 3h0m8 2h0m-15 2h0m7 1h0m11 3h0m-7 3h0m-7 1h0m4 1h0m1 1h0m7 0h0m5 2h0m-3 3h0m-1 1h0m-17 1h0m1 1h0m7 4h0m3 2h0m9 3h0m-9 2h0m-4 4h0m-7 0h0m16 2h0m4 0h0m-17 1h0m8 1h0m-8 3h0m-5 2h0m10 1h0m-1 8h0m8 9h0m-8 1h0m5 3h0m-4 2h0m-5 4h0m-2 1h0m18 2h0m-8 2h0m-3 17h0m7 3h0m3 4h0m-14 3h0m5 1h0m-3 3h0m9 2h0m-12 7h0m5 81h0m34-113h0m-12-9h0m13 0h0m-20-8h0m17-1h0m-3-4h0m6-4h0m-4-6h0m0-2h0m-13 0h0m18-1h0m-7-2h0m7-3h0m-3 0h0m-4-4h0m-8-5h0m10-1h0m2 0h0m-13-1h0m3-2h0m14-8h0m-6-1h0m-7-1h0m10-1h0m-14-1h0m4-2h0m13 0h0m-20-3h0m5-2h0m-1-3h0m-6 0h0m10-1h0m5-4h0m-10-2h0m1-5h0m-2-5h0m0 0h0m-1-1h0m2 0h0m6-2h0m-9-2h0m0-1h0m3-2h0m0-1h0m5-1h0m9 0h0m0-2h0m3-1h0m-13-3h0m-6 0h0m-3-1h0m1 0h0m12-1h0m-5 0h0m9 0h0m0-2h0m-17-4h0m21-2h0m-6 0h0m-11 0h0m-3-1h0m19-2h0m-8-1h0m-5-3h0m5-1h0m11 0h0m-14-3h0m5-1h0m10-4h0m-6 0h0m6-1h0m-4-1h0m-2-4h0m-5-2h0m-11-1h0m3-2h0m-1-2h0m-3-2h0m1-3h0m-1-5h0m13-4h0m4-3h0m-16 0h0m21-1h0m-2-4h0m-5-2h0m1-1h0m-3-1h0m1-3h0m6-1h0m-16-14h0m16-7h0m-9-7h0m4-17h0m8-19h0m-4-21h0m25 60h0m-7 1h0m5 1h0m1 20h0m-19 10h0m7 5h0m-4 8h0m5 15h0m16 2h0m-18 1h0m13 1h0m1 2h0m-20 4h0m17 3h0m-11 0h0m3 2h0m6 2h0m-7 1h0m7 2h0m-10 1h0m-5 2h0m16 2h0m1 4h0m5 1h0m-9 2h0m-4 2h0m8 1h0m-11 2h0m6 5h0m-2 1h0m-5 1h0m-4 5h0m6 1h0m5 0h0m-1 1h0m2 1h0m-3 8h0m-3 2h0m13 1h0m-16 4h0m7 4h0m8 0h0m-14 1h0m-5 1h0m7 3h0m-5 0h0m9 1h0m3 1h0m-4 1h0m-7 4h0m0 0h0m6 8h0m8 0h0m-8 1h0m0 2h0m6 1h0m7 1h0m-5 5h0m4 1h0m-4 8h0m-8 2h0m14 1h0m-19 1h0m12 7h0m-15 1h0m18 16h0m-2 6h0m6 2h0m-15 1h0m-8 10h0m18 4h0m-18 39h0m43-41h0m6-24h0m-6-5h0m-8-8h0m9-2h0m-9-3h0m12-2h0m1-12h0m-4-9h0m2 0h0m-16-7h0m-2-1h0m21-2h0m-17-1h0m16-1h0m-14-13h0m5-1h0m2-12h0m8-1h0m-13-1h0m-5-4h0m10-1h0m6-3h0m-17-1h0m0-1h0m-3-5h0m15 0h0m-9-4h0m0-3h0m-3-2h0m7 0h0m3-2h0m-7-2h0m3-1h0m-10-4h0m10-7h0m-8-2h0m5-1h0m1-1h0m5-1h0m6-1h0m-20-4h0m5-8h0m11-1h0m-12 0h0m6-2h0m5 0h0m1-2h0m-10-1h0m18-7h0m-13-8h0m-3-5h0m-6-2h0m11-2h0m-9 0h0m9-3h0m11-2h0m-20-8h0m-4 0h0m20-25h0m-13-11h0m-5-41h0m26 2h0m11 70h0m-9 18h0m9 14h0m-2 3h0m-10 0h0m2 1h0m12 4h0m-6 0h0m-1 4h0m-4 0h0m18 1h0m-16 5h0m8 5h0m6 10h0m-21 2h0m11 1h0m-10 3h0m11 3h0m1 5h0m1 1h0m-8 1h0m0 2h0m5 7h0m5 1h0m-4 1h0m-8 4h0m-2 1h0m10 0h0m-7 5h0m4 9h0m-7 1h0m8 3h0m2 8h0m-3 1h0m-6 2h0m-3 2h0m2 1h0m15 2h0m-9 13h0m-3 2h0m10 0h0m-13 3h0m11 8h0m2 1h0m-9 25h0m6 3h0m-7 8h0m-1 9h0m3 5h0m-4 3h0m10 7h0m8 20h0m22-4h0m-9-30h0m-6-4h0m7-7h0m7-48h0m-14-7h0m4-6h0m16-1h0m-17-4h0m-6-1h0m11-7h0m0-1h0m4-10h0m-8-3h0m2-31h0m-5-10h0m4-30h0m2-39h0m-8-19h0m17-6h0m-1-22h0m18 29h0m-5 23h0m-1 19h0m10 41h0m4 16h0m-6 0h0m-11 22h0m17 7h0m3 26h0m-6 18h0m-15 37h0m25-44h0m-1-29h0m13-87h0m14-40h0m11 93h0m25-40h0m16-41h0" stroke="#000" stroke-opacity="0.42" stroke-width="6.2" stroke-linecap="round" fill="none"/>
<path transform="scale(.1)" d="m1604 2937h0m15 102h0m17 217h0m-8-113h0m17-43h0m0-6h0m-2-6h0m-1-30h0m6-46h0m-9-22h0m-1-7h0m10-3h0m-21-28h0m6-14h0m8-26h0m-8-17h0m16-8h0m0-7h0m-23-13h0m39-26h0m-2 10h0m5 26h0m-9 63h0m7 3h0m-4 15h0m3 20h0m7 15h0m-14 2h0m9 25h0m2 2h0m-3 6h0m-1 5h0m-10 0h0m1 78h0m14 9h0m-2 9h0m-5 38h0m-9 51h0m5 4h0m6 20h0m32-26h0m-10-3h0m4-9h0m6-24h0m1-38h0m-15-7h0m9-1h0m-1-3h0m4-13h0m-19-18h0m8-3h0m0-12h0m3-3h0m8-6h0m-15-7h0m12-5h0m-4-23h0m7-22h0m-3-10h0m-5-3h0m-11-11h0m3-7h0m-4-3h0m8-10h0m13-12h0m-2-6h0m-2-34h0m-4 0h0m1-15h0m-5-5h0m11-12h0m-13-13h0m17-10h0m11-72h0m11 5h0m-11 5h0m1 64h0m7 20h0m-8 22h0m4 2h0m7 8h0m-16 10h0m-4 2h0m10 9h0m6 17h0m-8 10h0m-6 3h0m12 6h0m-9 5h0m8 3h0m-7 1h0m12 1h0m0 1h0m-6 0h0m-9 3h0m13 2h0m-10 6h0m7 14h0m-2 0h0m6 0h0m2 2h0m-5 4h0m-11 10h0m17 8h0m3 0h0m-24 3h0m5 10h0m19 1h0m-18 7h0m13 9h0m2 8h0m-7 7h0m-5 4h0m7 18h0m-6 2h0m3 2h0m1 6h0m9 13h0m-17 5h0m2 3h0m8 1h0m-3 3h0m11 2h0m-22 7h0m-2 2h0m8 1h0m-4 10h0m18 18h0m-7 3h0m-4 20h0m10 37h0m14 38h0m6-39h0m5-10h0m-15-19h0m4-11h0m9-11h0m5-7h0m-4-39h0m-13-4h0m1-4h0m1-4h0m-1-2h0m15-13h0m-21-8h0m16-4h0m-11-8h0m2-1h0m4-7h0m3-9h0m4-9h0m-8-4h0m-9-1h0m0 0h0m-2-2h0m19-3h0m-6-1h0m4-1h0m-4-1h0m-2 0h0m8-8h0m-20-1h0m3 0h0m13-3h0m-3 0h0m5-7h0m5-4h0m-12-1h0m-2-1h0m2 0h0m-5 0h0m-5-5h0m21-1h0m-15-1h0m16-1h0m-23-2h0m17-2h0m3-8h0m-1-1h0m-10-4h0m5-5h0m10 0h0m-19 0h0m7-2h0m8-3h0m1-2h0m-1-4h0m-12-6h0m13-5h0m-17-6h0m3-4h0m0-6h0m10-9h0m-14-5h0m-3-1h0m24-9h0m-24-10h0m12-3h0m9-3h0m-3-3h0m-12-8h0m13-6h0m-2-3h0m-10-37h0m1-32h0m15-16h0m-5-22h0m19 42h0m12 31h0m-15 7h0m-7 16h0m4 14h0m5 4h0m13 1h0m-21 0h0m11 1h0m-12 0h0m16 11h0m6 5h0m-14 23h0m-9 3h0m22 6h0m-16 4h0m-7 1h0m17 3h0m-16 1h0m8 4h0m10 6h0m-2 1h0m-3 2h0m7 1h0m-3 2h0m0 0h0m-14 1h0m11 3h0m-5 0h0m-10 4h0m5 2h0m12 0h0m-2 1h0m4 1h0m3 0h0m-12 2h0m2 0h0m10 4h0m-2 1h0m-13 1h0m9 10h0m-16 4h0m6 2h0m3 4h0m11 1h0m-18 3h0m17 6h0m-5 1h0m1 0h0m-1 4h0m5 1h0m0 4h0m-15 1h0m19 1h0m-8 2h0m-10 2h0m12 1h0m-17 2h0m3 3h0m11 1h0m-6 1h0m10 1h0m-10 7h0m1 2h0m-2 1h0m15 4h0m-15 3h0m2 4h0m-5 2h0m13 0h0m-16 1h0m-1 1h0m5 2h0m13 5h0m0 2h0m-3 3h0m-15 0h0m19 1h0m-6 6h0m6 2h0m-12 1h0m-7 4h0m19 5h0m0 0h0m-10 2h0m9 4h0m-7 3h0m-10 5h0m18 5h0m-16 2h0m3 1h0m11 8h0m5 0h0m-12 14h0m6 18h0m5 0h0m2 1h0m-12 1h0m1 9h0m11 10h0m-7 8h0m3 8h0m0 6h0m0 61h0m-9 53h0m34-118h0m5-13h0m-12-4h0m9-1h0m3-6h0m-13-1h0m4-5h0m5-5h0m-4-11h0m1-1h0m2-6h0m-15-13h0m-4-1h0m4-3h0m10-11h0m-12-3h0m13 0h0m-10-2h0m-2-1h0m7-3h0m-8-2h0m12-4h0m1 0h0m-13-1h0m17-7h0m-12-6h0m13-3h0m-12 0h0m-6-6h0m12 0h0m4-3h0m-6-9h0m0-8h0m-1-4h0m-7 0h0m-1-2h0m13-5h0m8-7h0m-17-3h0m-4-1h0m17-1h0m3-3h0m-3-1h0m-5-5h0m7-1h0m-3 0h0m-12 0h0m2-2h0m-7-2h0m16-1h0m2-1h0m4 0h0m-11-3h0m-8-3h0m-5-5h0m19-1h0m-7-5h0m-5-1h0m0-2h0m17-1h0m-24-13h0m7-2h0m8-10h0m-12 0h0m17-3h0m-20-4h0m15-2h0m-7-12h0m9 0h0m-7-1h0m3-3h0m-3-2h0m3-2h0m-11-1h0m5-1h0m13-1h0m-4 0h0m6-1h0m2-1h0m-5-13h0m-3-6h0m-1-1h0m-11-1h0m-2-1h0m18-3h0m-1-9h0m0-1h0m-1-3h0m1-2h0m4-16h0m-3-1h0m-13-1h0m-6-1h0m18-9h0m-19-13h0m0-1h0m22 0h0m-2-13h0m-16-1h0m18 0h0m-20-25h0m21-7h0m-20-14h0m22-24h0m20 18h0m-16 14h0m9 7h0m-8 54h0m12 7h0m-9 10h0m-5 7h0m0 25h0m-1 2h0m20 5h0m-19 3h0m-3 0h0m2 1h0m16 9h0m-4 2h0m-9 14h0m12 9h0m-10 1h0m10 4h0m-4 0h0m4 0h0m2 1h0m-7 2h0m-6 4h0m3 5h0m15 3h0m-11 2h0m0 1h0m-1 0h0m0 1h0m-6 4h0m15 3h0m0 1h0m-19 2h0m3 3h0m-4 4h0m12 2h0m8 0h0m0 1h0m-15 2h0m3 3h0m7 3h0m1 5h0m-4 1h0m3 3h0m4 3h0m-11 8h0m-3 1h0m3 7h0m13 1h0m-16 3h0m2 5h0m6 3h0m5 5h0m-12 11h0m2 0h0m4 0h0m-13 1h0m2 6h0m9 4h0m10 1h0m-2 5h0m-7 5h0m-4 7h0m-7 5h0m7 8h0m-3 0h0m-2 23h0m-2 14h0m2 12h0m2 9h0m0 29h0m0 19h0m-1 62h0m36-1h0m6-70h0m1-18h0m1-24h0m-4-5h0m-7-7h0m-10-2h0m16-32h0m3-2h0m-8-3h0m-6-16h0m-3-2h0m7 0h0m-11-8h0m20-14h0m-4-2h0m-1 0h0m-5-7h0m7 0h0m5-1h0m-19-1h0m1-12h0m8-1h0m1-6h0m-4-18h0m-3-3h0m1-2h0m-7-2h0m4-2h0m12-2h0m-2-4h0m0-1h0m-4-21h0m5-4h0m-7-4h0m-8 0h0m5-1h0m-1-1h0m12-11h0m7 0h0m-3-1h0m-20-3h0m15-5h0m7-14h0m-4-1h0m-3 0h0m3-1h0m-7-1h0m-4 0h0m10-3h0m-5-2h0m-6-1h0m0-1h0m18-12h0m-5-2h0m-8-2h0m-7-9h0m-4 0h0m16 0h0m-4-12h0m-6-20h0m-5-3h0m10-18h0m10-88h0m21 48h0m-6 64h0m-1 28h0m3 4h0m-6 13h0m-3 2h0m13 4h0m1 24h0m-6 12h0m-5 3h0m8 5h0m-7 15h0m-2 8h0m15 4h0m1 9h0m-18 2h0m9 10h0m4 9h0m-11 12h0m4 2h0m8 7h0m-5 5h0m-13 10h0m6 6h0m-2 8h0m18 7h0m-12 2h0m-1 4h0m-7 5h0m2 19h0m1 30h0m16 7h0m-6 80h0m32 9h0m-4-10h0m-8-43h0m-2-78h0m12-7h0m-18-18h0m1-1h0m-3-15h0m22-7h0m-6-5h0m-5-14h0m-9-27h0m20 0h0m-4-28h0m-11-3h0m4-18h0m10-2h0m-16-24h0m17-3h0m-18-3h0m2-8h0m13-16h0m-8-31h0m-4-34h0m25 58h0m16 9h0m0 35h0m-9 11h0m-14 16h0m11 60h0m-9 7h0m4 9h0m11 12h0m-5 30h0m-9 47h0m13 8h0m16-107h0m-4-42h0m12-194h0" stroke="#000" stroke-opacity="0.34" stroke-width="6.2" stroke-linecap="round" fill="none"/>
<path transform="scale(.1)" d="m1582 3528h0m1-29h0m31-30h0m2 30h0m8 24h0m-6 3h0m11 64h0m13-16h0m-4-94h0m3-10h0m4-2h0m-2-72h0m-14-10h0m3-69h0m41-109h0m-15 73h0m9 12h0m0 42h0m-6 35h0m6 16h0m-3 11h0m1 2h0m6 26h0m1 6h0m-12 4h0m6 4h0m0 9h0m-1 0h0m3 8h0m4 17h0m-18 13h0m11 2h0m-2 6h0m2 1h0m9 21h0m-20 8h0m18 18h0m2 20h0m-21 5h0m-2 16h0m43-19h0m-13-36h0m9-2h0m-11-2h0m4-1h0m7-8h0m7-7h0m-3-5h0m-11-2h0m4-7h0m8-1h0m-5-2h0m2-6h0m-12-5h0m18-4h0m-4-4h0m0-2h0m-3-1h0m8-2h0m-7-9h0m1-5h0m2-10h0m0-7h0m-5-1h0m-3-6h0m11-6h0m-22-4h0m2-2h0m21-5h0m-2-18h0m1-5h0m-4-5h0m-9-4h0m-1-7h0m4-17h0m0-15h0m11-17h0m-13-10h0m10-30h0m-7-24h0m19 23h0m7 8h0m2 18h0m-11 8h0m4 16h0m-7 20h0m2 4h0m-2 3h0m3 8h0m10 10h0m0 1h0m-6 1h0m10 2h0m-14 1h0m16 7h0m-20 6h0m11 1h0m2 1h0m-14 3h0m13 5h0m9 8h0m-1 1h0m1 6h0m-23 1h0m20 1h0m-7 0h0m-4 1h0m-3 3h0m3 7h0m-5 6h0m-4 2h0m13 0h0m6 1h0m-6 7h0m9 1h0m-19 2h0m7 8h0m-9 3h0m-1 13h0m17 0h0m-15 1h0m17 6h0m-19 0h0m10 1h0m2 3h0m12 4h0m-16 1h0m0 7h0m9 7h0m-14 5h0m9 6h0m1 0h0m0 0h0m-10 5h0m-3 2h0m11 0h0m1 2h0m-10 0h0m13 1h0m-15 2h0m15 12h0m-11 1h0m5 9h0m10 0h0m-14 9h0m-1 1h0m17 11h0m-7 21h0m10 11h0m25-1h0m-5-2h0m4-9h0m1-13h0m-8 0h0m-3-9h0m-6-1h0m16-11h0m-6-4h0m3-2h0m-17-1h0m12-12h0m0-2h0m1-10h0m5-4h0m-3-1h0m-13-10h0m6-8h0m-11-1h0m13-3h0m1 0h0m-6-1h0m-3-2h0m13-1h0m-3-3h0m-8-4h0m-2-4h0m14-3h0m5 0h0m-21 0h0m21-4h0m-10-1h0m2-1h0m-6 0h0m-4-1h0m13-2h0m-9-1h0m-8-1h0m13-1h0m-14-15h0m5-2h0m0-1h0m9-7h0m-14-6h0m2-9h0m4-3h0m15-10h0m-18-8h0m6-11h0m-10-1h0m22-7h0m0-9h0m-17-1h0m10-9h0m5-1h0m-8-5h0m-1-9h0m5-58h0m-2-53h0m14 2h0m16 73h0m-6 4h0m5 3h0m-3 10h0m-13 8h0m14 18h0m-3 2h0m5 6h0m-14 7h0m-2 7h0m0 5h0m2 7h0m15 1h0m3 0h0m-15 4h0m-4 2h0m6 2h0m-5 1h0m1 11h0m17 6h0m-2 0h0m-13 4h0m-3 1h0m14 5h0m3 2h0m-2 1h0m-16 3h0m8 7h0m-7 11h0m7 2h0m-3 2h0m6 1h0m8 9h0m2 9h0m-9 2h0m9 12h0m-11 4h0m7 2h0m-15 4h0m3 6h0m-4 0h0m0 6h0m-4 4h0m8 21h0m3 16h0m2 19h0m-5 4h0m6 5h0m-9 22h0m37-3h0m-15-9h0m12-7h0m-5 0h0m6-7h0m2-5h0m-16-2h0m13-28h0m-5 0h0m11-4h0m-16-5h0m20-2h0m-17-18h0m4-1h0m13-12h0m-10-3h0m-8-1h0m-6-4h0m22-4h0m-10-2h0m-9-12h0m9-3h0m-6-7h0m-2-1h0m10-1h0m-4-6h0m-5-3h0m2-5h0m8-6h0m-3-3h0m-4-6h0m-8-1h0m1-3h0m20-4h0m-18-4h0m2-10h0m0-3h0m-4-12h0m2-14h0m21-5h0m-14-6h0m-2-2h0m11-1h0m0-23h0m-3-19h0m-5-3h0m-11-41h0m32 1h0m-5 37h0m0 35h0m4 6h0m4 14h0m-3 1h0m-6 26h0m0 5h0m15 18h0m1 3h0m1 6h0m4 2h0m-21 0h0m3 11h0m0 2h0m3 6h0m-1 19h0m-5 8h0m13 26h0m9 20h0m-14 5h0m9 5h0m-13 13h0m15 12h0m-10 1h0m-10 9h0m4 17h0m26 10h0m-3-11h0m1-6h0m5-8h0m9-5h0m-6-10h0m7-7h0m4-16h0m-22-3h0m10-10h0m7-11h0m0-15h0m-13-6h0m9-14h0m-12-31h0m45-173h0m-17 101h0m-4 9h0m20 71h0m-16 20h0" stroke="#000" stroke-opacity="0.32" stroke-width="6.2" stroke-linecap="round" fill="none"/>
<path transform="scale(.1)" d="m1421 2978h0m-15 214h0m20 43h0m20-21h0m-19-50h0m40-192h0m39 20h0m117-96h0m-16 174h0m4 131h0m6 326h0m29 48h0m3-67h0m-9-81h0m-14-160h0m37-297h0m12-146h0m85 430h0m-4 8h0m32 339h0m7-258h0m1-200h0m68-175h0m37 261h0m28 132h0m35-313h0m14 361h0m22-409h0m92 361h0m44-78h0" stroke="#000" stroke-opacity="0.25" stroke-width="6.2" stroke-linecap="round" fill="none"/>
</g>
<rect x="130.4" y="276.6" width="86.5" height="85.0" fill="none" stroke="#000" stroke-width="1"/>
<line x1="163.3" y1="276.6" x2="163.3" y2="361.6" stroke="#000" stroke-width="0.8" stroke-linecap="butt"/>
<line x1="130.4" y1="330.9" x2="216.9" y2="330.9" stroke="#000" stroke-width="0.8" stroke-linecap="butt"/>
<text x="132.4" y="284.8" font-size="7.3" text-anchor="start" font-weight="bold" stroke="#000" stroke-width="0.3">34</text>
<text x="214.3" y="284.8" font-size="7.3" text-anchor="end" font-weight="bold" stroke="#000" stroke-width="0.3">4.7</text>
<text x="131.70000000000002" y="359.20000000000005" font-size="7.3" text-anchor="start" font-weight="bold" stroke="#000" stroke-width="0.3">58</text>
<text x="214.3" y="359.20000000000005" font-size="7.3" text-anchor="end" font-weight="bold" stroke="#000" stroke-width="0.3">3.0</text>
<line x1="128.0" y1="284.0" x2="130.4" y2="284.0" stroke="#000" stroke-width="0.8" stroke-linecap="butt"/>
<line x1="128.0" y1="302.8" x2="130.4" y2="302.8" stroke="#000" stroke-width="0.8" stroke-linecap="butt"/>
<line x1="128.0" y1="322.2" x2="130.4" y2="322.2" stroke="#000" stroke-width="0.8" stroke-linecap="butt"/>
<line x1="128.0" y1="342.4" x2="130.4" y2="342.4" stroke="#000" stroke-width="0.8" stroke-linecap="butt"/>
<line x1="128.0" y1="352.4" x2="130.4" y2="352.4" stroke="#000" stroke-width="0.8" stroke-linecap="butt"/>
<line x1="139.8" y1="361.6" x2="139.8" y2="364.0" stroke="#000" stroke-width="0.8" stroke-linecap="butt"/>
<line x1="149.8" y1="361.6" x2="149.8" y2="364.0" stroke="#000" stroke-width="0.8" stroke-linecap="butt"/>
<line x1="170.3" y1="361.6" x2="170.3" y2="364.0" stroke="#000" stroke-width="0.8" stroke-linecap="butt"/>
<line x1="189.7" y1="361.6" x2="189.7" y2="364.0" stroke="#000" stroke-width="0.8" stroke-linecap="butt"/>
<line x1="208.60000000000002" y1="361.6" x2="208.60000000000002" y2="364.0" stroke="#000" stroke-width="0.8" stroke-linecap="butt"/>
<line x1="128.9" y1="297.1406360815172" x2="130.4" y2="297.1406360815172" stroke="#000" stroke-width="0.65" stroke-linecap="butt"/>
<line x1="128.9" y1="293.83012041127034" x2="130.4" y2="293.83012041127034" stroke="#000" stroke-width="0.65" stroke-linecap="butt"/>
<line x1="128.9" y1="291.4812721630343" x2="130.4" y2="291.4812721630343" stroke="#000" stroke-width="0.65" stroke-linecap="butt"/>
<line x1="128.9" y1="289.6593639184828" x2="130.4" y2="289.6593639184828" stroke="#000" stroke-width="0.65" stroke-linecap="butt"/>
<line x1="128.9" y1="288.1707564927875" x2="130.4" y2="288.1707564927875" stroke="#000" stroke-width="0.65" stroke-linecap="butt"/>
<line x1="128.9" y1="286.912156847732" x2="130.4" y2="286.912156847732" stroke="#000" stroke-width="0.65" stroke-linecap="butt"/>
<line x1="128.9" y1="285.8219082445515" x2="130.4" y2="285.8219082445515" stroke="#000" stroke-width="0.65" stroke-linecap="butt"/>
<line x1="128.9" y1="284.8602408225407" x2="130.4" y2="284.8602408225407" stroke="#000" stroke-width="0.65" stroke-linecap="butt"/>
<line x1="128.9" y1="316.36001808411874" x2="130.4" y2="316.36001808411874" stroke="#000" stroke-width="0.65" stroke-linecap="butt"/>
<line x1="128.9" y1="312.94384765843853" x2="130.4" y2="312.94384765843853" stroke="#000" stroke-width="0.65" stroke-linecap="butt"/>
<line x1="128.9" y1="310.52003616823754" x2="130.4" y2="310.52003616823754" stroke="#000" stroke-width="0.65" stroke-linecap="butt"/>
<line x1="128.9" y1="308.63998191588126" x2="130.4" y2="308.63998191588126" stroke="#000" stroke-width="0.65" stroke-linecap="butt"/>
<line x1="128.9" y1="307.10386574255733" x2="130.4" y2="307.10386574255733" stroke="#000" stroke-width="0.65" stroke-linecap="butt"/>
<line x1="128.9" y1="305.8050980237234" x2="130.4" y2="305.8050980237234" stroke="#000" stroke-width="0.65" stroke-linecap="butt"/>
<line x1="128.9" y1="304.6800542523563" x2="130.4" y2="304.6800542523563" stroke="#000" stroke-width="0.65" stroke-linecap="butt"/>
<line x1="128.9" y1="303.6876953168771" x2="130.4" y2="303.6876953168771" stroke="#000" stroke-width="0.65" stroke-linecap="butt"/>
<line x1="128.9" y1="336.31919408758756" x2="130.4" y2="336.31919408758756" stroke="#000" stroke-width="0.65" stroke-linecap="butt"/>
<line x1="128.9" y1="332.7621506546628" x2="130.4" y2="332.7621506546628" stroke="#000" stroke-width="0.65" stroke-linecap="butt"/>
<line x1="128.9" y1="330.23838817517515" x2="130.4" y2="330.23838817517515" stroke="#000" stroke-width="0.65" stroke-linecap="butt"/>
<line x1="128.9" y1="328.2808059124124" x2="130.4" y2="328.2808059124124" stroke="#000" stroke-width="0.65" stroke-linecap="butt"/>
<line x1="128.9" y1="326.68134474225036" x2="130.4" y2="326.68134474225036" stroke="#000" stroke-width="0.65" stroke-linecap="butt"/>
<line x1="128.9" y1="325.329019591712" x2="130.4" y2="325.329019591712" stroke="#000" stroke-width="0.65" stroke-linecap="butt"/>
<line x1="128.9" y1="324.15758226276273" x2="130.4" y2="324.15758226276273" stroke="#000" stroke-width="0.65" stroke-linecap="butt"/>
<line x1="128.9" y1="323.12430130932563" x2="130.4" y2="323.12430130932563" stroke="#000" stroke-width="0.65" stroke-linecap="butt"/>
<line x1="128.9" y1="278.3406360815172" x2="130.4" y2="278.3406360815172" stroke="#000" stroke-width="0.65" stroke-linecap="butt"/>
<line x1="128.9" y1="344.9" x2="130.4" y2="344.9" stroke="#000" stroke-width="0.65" stroke-linecap="butt"/>
<line x1="128.9" y1="347.4" x2="130.4" y2="347.4" stroke="#000" stroke-width="0.65" stroke-linecap="butt"/>
<line x1="128.9" y1="349.9" x2="130.4" y2="349.9" stroke="#000" stroke-width="0.65" stroke-linecap="butt"/>
<line x1="128.9" y1="354.9" x2="130.4" y2="354.9" stroke="#000" stroke-width="0.65" stroke-linecap="butt"/>
<line x1="128.9" y1="357.4" x2="130.4" y2="357.4" stroke="#000" stroke-width="0.65" stroke-linecap="butt"/>
<line x1="128.9" y1="359.9" x2="130.4" y2="359.9" stroke="#000" stroke-width="0.65" stroke-linecap="butt"/>
<line x1="155.9711149111116" y1="361.6" x2="155.9711149111116" y2="363.1" stroke="#000" stroke-width="0.65" stroke-linecap="butt"/>
<line x1="159.58098572175308" y1="361.6" x2="159.58098572175308" y2="363.1" stroke="#000" stroke-width="0.65" stroke-linecap="butt"/>
<line x1="162.14222982222324" y1="361.6" x2="162.14222982222324" y2="363.1" stroke="#000" stroke-width="0.65" stroke-linecap="butt"/>
<line x1="164.1288850888884" y1="361.6" x2="164.1288850888884" y2="363.1" stroke="#000" stroke-width="0.65" stroke-linecap="butt"/>
<line x1="165.7521006328647" y1="361.6" x2="165.7521006328647" y2="363.1" stroke="#000" stroke-width="0.65" stroke-linecap="butt"/>
<line x1="167.12450982029227" y1="361.6" x2="167.12450982029227" y2="363.1" stroke="#000" stroke-width="0.65" stroke-linecap="butt"/>
<line x1="168.31334473333484" y1="361.6" x2="168.31334473333484" y2="363.1" stroke="#000" stroke-width="0.65" stroke-linecap="butt"/>
<line x1="169.36197144350618" y1="361.6" x2="169.36197144350618" y2="363.1" stroke="#000" stroke-width="0.65" stroke-linecap="butt"/>
<line x1="176.13998191588124" y1="361.6" x2="176.13998191588124" y2="363.1" stroke="#000" stroke-width="0.65" stroke-linecap="butt"/>
<line x1="179.55615234156144" y1="361.6" x2="179.55615234156144" y2="363.1" stroke="#000" stroke-width="0.65" stroke-linecap="butt"/>
<line x1="181.97996383176246" y1="361.6" x2="181.97996383176246" y2="363.1" stroke="#000" stroke-width="0.65" stroke-linecap="butt"/>
<line x1="183.86001808411876" y1="361.6" x2="183.86001808411876" y2="363.1" stroke="#000" stroke-width="0.65" stroke-linecap="butt"/>
<line x1="185.39613425744267" y1="361.6" x2="185.39613425744267" y2="363.1" stroke="#000" stroke-width="0.65" stroke-linecap="butt"/>
<line x1="186.69490197627658" y1="361.6" x2="186.69490197627658" y2="363.1" stroke="#000" stroke-width="0.65" stroke-linecap="butt"/>
<line x1="187.8199457476437" y1="361.6" x2="187.8199457476437" y2="363.1" stroke="#000" stroke-width="0.65" stroke-linecap="butt"/>
<line x1="188.8123046831229" y1="361.6" x2="188.8123046831229" y2="363.1" stroke="#000" stroke-width="0.65" stroke-linecap="butt"/>
<line x1="195.38946691804924" y1="361.6" x2="195.38946691804924" y2="363.1" stroke="#000" stroke-width="0.65" stroke-linecap="butt"/>
<line x1="198.71759171420163" y1="361.6" x2="198.71759171420163" y2="363.1" stroke="#000" stroke-width="0.65" stroke-linecap="butt"/>
<line x1="201.07893383609849" y1="361.6" x2="201.07893383609849" y2="363.1" stroke="#000" stroke-width="0.65" stroke-linecap="butt"/>
<line x1="202.91053308195077" y1="361.6" x2="202.91053308195077" y2="363.1" stroke="#000" stroke-width="0.65" stroke-linecap="butt"/>
<line x1="204.40705863225088" y1="361.6" x2="204.40705863225088" y2="363.1" stroke="#000" stroke-width="0.65" stroke-linecap="butt"/>
<line x1="205.67235295626946" y1="361.6" x2="205.67235295626946" y2="363.1" stroke="#000" stroke-width="0.65" stroke-linecap="butt"/>
<line x1="206.76840075414776" y1="361.6" x2="206.76840075414776" y2="363.1" stroke="#000" stroke-width="0.65" stroke-linecap="butt"/>
<line x1="207.73518342840327" y1="361.6" x2="207.73518342840327" y2="363.1" stroke="#000" stroke-width="0.65" stroke-linecap="butt"/>
<line x1="214.28946691804927" y1="361.6" x2="214.28946691804927" y2="363.1" stroke="#000" stroke-width="0.65" stroke-linecap="butt"/>
<line x1="142.3" y1="361.6" x2="142.3" y2="363.1" stroke="#000" stroke-width="0.65" stroke-linecap="butt"/>
<line x1="144.8" y1="361.6" x2="144.8" y2="363.1" stroke="#000" stroke-width="0.65" stroke-linecap="butt"/>
<line x1="147.3" y1="361.6" x2="147.3" y2="363.1" stroke="#000" stroke-width="0.65" stroke-linecap="butt"/>
<line x1="137.3" y1="361.6" x2="137.3" y2="363.1" stroke="#000" stroke-width="0.65" stroke-linecap="butt"/>
<line x1="134.8" y1="361.6" x2="134.8" y2="363.1" stroke="#000" stroke-width="0.65" stroke-linecap="butt"/>
<line x1="132.3" y1="361.6" x2="132.3" y2="363.1" stroke="#000" stroke-width="0.65" stroke-linecap="butt"/>
<line x1="21.0" y1="359.4" x2="21.0" y2="377.9" stroke="#000" stroke-width="0.8" stroke-linecap="butt"/>
<line x1="20.6" y1="377.9" x2="34.2" y2="377.9" stroke="#000" stroke-width="0.8" stroke-linecap="butt"/>
<path d="M21.0 356.4l-2.2 6.6h4.4z" fill="#000"/>
<path d="M40.400000000000006 377.9l-6.2 -2.2v4.4z" fill="#000"/>
<text x="43.0" y="380" font-size="6.6" text-anchor="start" font-weight="normal" stroke="#000" stroke-width="0.4">BrdU</text>
<text x="22.6" y="343.1" font-size="7.2" text-anchor="middle" font-weight="normal" stroke="#000" stroke-width="0.4" transform="rotate(-90 22.6 343.1)">CD103</text>
<text x="225" y="138.6" font-size="14.8" text-anchor="start" font-weight="normal" stroke="#000" stroke-width="0.5">C</text>
<text x="312.3" y="157.5" font-size="7.2" text-anchor="middle" font-weight="normal" stroke="#000" stroke-width="0.4">MHC II high CD103<tspan dy="-2.2" font-size="4.2">+</tspan><tspan dy="2.2" font-size="4.2">&#8203;</tspan> BrdU<tspan dy="-2.2" font-size="4.2">+</tspan><tspan dy="2.2" font-size="4.2">&#8203;</tspan> DCs</text>
<line x1="258.1" y1="165.29999999999998" x2="258.1" y2="238.5" stroke="#000" stroke-width="0.9" stroke-linecap="butt"/>
<line x1="257.70000000000005" y1="238.1" x2="363.0" y2="238.1" stroke="#000" stroke-width="0.9" stroke-linecap="butt"/>
<line x1="256.1" y1="238.1" x2="258.1" y2="238.1" stroke="#000" stroke-width="0.9" stroke-linecap="butt"/>
<text x="255.10000000000002" y="240.6" font-size="7.0" text-anchor="end" font-weight="normal" stroke="#000" stroke-width="0.4">0.00</text>
<line x1="256.1" y1="223.62" x2="258.1" y2="223.62" stroke="#000" stroke-width="0.9" stroke-linecap="butt"/>
<text x="255.10000000000002" y="226.12" font-size="7.0" text-anchor="end" font-weight="normal" stroke="#000" stroke-width="0.4">0.02</text>
<line x1="256.1" y1="209.14" x2="258.1" y2="209.14" stroke="#000" stroke-width="0.9" stroke-linecap="butt"/>
<text x="255.10000000000002" y="211.64" font-size="7.0" text-anchor="end" font-weight="normal" stroke="#000" stroke-width="0.4">0.04</text>
<line x1="256.1" y1="194.66" x2="258.1" y2="194.66" stroke="#000" stroke-width="0.9" stroke-linecap="butt"/>
<text x="255.10000000000002" y="197.16" font-size="7.0" text-anchor="end" font-weight="normal" stroke="#000" stroke-width="0.4">0.06</text>
<line x1="256.1" y1="180.18" x2="258.1" y2="180.18" stroke="#000" stroke-width="0.9" stroke-linecap="butt"/>
<text x="255.10000000000002" y="182.68" font-size="7.0" text-anchor="end" font-weight="normal" stroke="#000" stroke-width="0.4">0.08</text>
<line x1="256.1" y1="165.7" x2="258.1" y2="165.7" stroke="#000" stroke-width="0.9" stroke-linecap="butt"/>
<text x="255.10000000000002" y="168.2" font-size="7.0" text-anchor="end" font-weight="normal" stroke="#000" stroke-width="0.4">0.10</text>
<line x1="258.1" y1="238.1" x2="258.1" y2="240.1" stroke="#000" stroke-width="0.9" stroke-linecap="butt"/>
<text x="258.1" y="247" font-size="7.0" text-anchor="middle" font-weight="normal" stroke="#000" stroke-width="0.4">0</text>
<line x1="310.7" y1="238.1" x2="310.7" y2="240.1" stroke="#000" stroke-width="0.9" stroke-linecap="butt"/>
<text x="310.7" y="247" font-size="7.0" text-anchor="middle" font-weight="normal" stroke="#000" stroke-width="0.4">24</text>
<line x1="362.6" y1="238.1" x2="362.6" y2="240.1" stroke="#000" stroke-width="0.9" stroke-linecap="butt"/>
<text x="362.6" y="247" font-size="7.0" text-anchor="middle" font-weight="normal" stroke="#000" stroke-width="0.4">48</text>
<text x="311.35" y="255.6" font-size="7.3" text-anchor="middle" font-weight="normal" stroke="#000" stroke-width="0.4">Time (hours)</text>
<text x="233.0" y="201.89999999999998" font-size="7.3" text-anchor="middle" font-weight="normal" stroke="#000" stroke-width="0.4" transform="rotate(-90 233.0 201.89999999999998)">Frequency (%)</text>
<polyline points="258.1,238.10 310.7,221.01 362.6,189.74" fill="none" stroke="#000" stroke-width="1.1"/>
<line x1="310.7" y1="228.8328" x2="310.7" y2="213.48399999999998" stroke="#000" stroke-width="0.95" stroke-linecap="butt"/>
<line x1="307.9" y1="228.8328" x2="313.5" y2="228.8328" stroke="#000" stroke-width="0.95" stroke-linecap="butt"/>
<line x1="307.9" y1="213.48399999999998" x2="313.5" y2="213.48399999999998" stroke="#000" stroke-width="0.95" stroke-linecap="butt"/>
<line x1="362.6" y1="205.51999999999998" x2="362.6" y2="173.8088" stroke="#000" stroke-width="0.95" stroke-linecap="butt"/>
<line x1="359.8" y1="205.51999999999998" x2="365.40000000000003" y2="205.51999999999998" stroke="#000" stroke-width="0.95" stroke-linecap="butt"/>
<line x1="359.8" y1="173.8088" x2="365.40000000000003" y2="173.8088" stroke="#000" stroke-width="0.95" stroke-linecap="butt"/>
<polyline points="258.1,238.10 310.7,236.65 362.6,234.70" fill="none" stroke="#000" stroke-width="1.1"/>
<circle cx="310.70" cy="221.01" r="2.6" fill="#000" stroke="#000" stroke-width="0.5"/>
<circle cx="362.60" cy="189.74" r="2.6" fill="#000" stroke="#000" stroke-width="0.5"/>
<circle cx="258.10" cy="238.10" r="2.2" fill="#fff" stroke="#000" stroke-width="1.1"/>
<circle cx="310.70" cy="236.65" r="2.65" fill="#fff" stroke="#000" stroke-width="1.0"/>
<circle cx="362.60" cy="234.70" r="2.65" fill="#fff" stroke="#000" stroke-width="1.0"/>
<line x1="261.5" y1="172" x2="270.5" y2="172" stroke="#000" stroke-width="1.1" stroke-linecap="butt"/>
<circle cx="266.00" cy="172.00" r="2.4" fill="#000" stroke="#000" stroke-width="0.5"/>
<text x="272.8" y="174.4" font-size="7.1" text-anchor="start" font-weight="normal" stroke="#000" stroke-width="0.4">WT</text>
<line x1="261.5" y1="180.6" x2="270.5" y2="180.6" stroke="#000" stroke-width="1.1" stroke-linecap="butt"/>
<circle cx="266.00" cy="180.60" r="2.4499999999999997" fill="#fff" stroke="#000" stroke-width="1.0"/>
<text x="272.8" y="183.0" font-size="7.1" text-anchor="start" font-weight="normal" stroke="#000" stroke-width="0.4">CCR7<tspan letter-spacing="0.45">-/-</tspan></text>
<text x="310.9" y="207.9" font-size="9" text-anchor="middle" font-weight="bold" stroke="#000" stroke-width="0.2">*</text>
<text x="362.8" y="169.6" font-size="9" text-anchor="middle" font-weight="bold" stroke="#000" stroke-width="0.2">*</text>
<text x="376" y="139.3" font-size="14.8" text-anchor="start" font-weight="normal" stroke="#000" stroke-width="0.5">D</text>
<text x="466.6" y="156.9" font-size="7.2" text-anchor="middle" font-weight="normal" stroke="#000" stroke-width="0.4">MHC II high CD103<tspan dy="-2.2" font-size="4.2">-</tspan><tspan dy="2.2" font-size="4.2">&#8203;</tspan> BrdU<tspan dy="-2.2" font-size="4.2">+</tspan><tspan dy="2.2" font-size="4.2">&#8203;</tspan> DCs</text>
<line x1="412.1" y1="165.29999999999998" x2="412.1" y2="238.70000000000002" stroke="#000" stroke-width="0.9" stroke-linecap="butt"/>
<line x1="411.70000000000005" y1="238.3" x2="517.1999999999999" y2="238.3" stroke="#000" stroke-width="0.9" stroke-linecap="butt"/>
<line x1="410.1" y1="238.3" x2="412.1" y2="238.3" stroke="#000" stroke-width="0.9" stroke-linecap="butt"/>
<text x="409.1" y="240.8" font-size="7.0" text-anchor="end" font-weight="normal" stroke="#000" stroke-width="0.4">0.00</text>
<line x1="410.1" y1="223.78" x2="412.1" y2="223.78" stroke="#000" stroke-width="0.9" stroke-linecap="butt"/>
<text x="409.1" y="226.28" font-size="7.0" text-anchor="end" font-weight="normal" stroke="#000" stroke-width="0.4">0.01</text>
<line x1="410.1" y1="209.26" x2="412.1" y2="209.26" stroke="#000" stroke-width="0.9" stroke-linecap="butt"/>
<text x="409.1" y="211.76" font-size="7.0" text-anchor="end" font-weight="normal" stroke="#000" stroke-width="0.4">0.02</text>
<line x1="410.1" y1="194.74" x2="412.1" y2="194.74" stroke="#000" stroke-width="0.9" stroke-linecap="butt"/>
<text x="409.1" y="197.24" font-size="7.0" text-anchor="end" font-weight="normal" stroke="#000" stroke-width="0.4">0.03</text>
<line x1="410.1" y1="180.22" x2="412.1" y2="180.22" stroke="#000" stroke-width="0.9" stroke-linecap="butt"/>
<text x="409.1" y="182.72" font-size="7.0" text-anchor="end" font-weight="normal" stroke="#000" stroke-width="0.4">0.04</text>
<line x1="410.1" y1="165.7" x2="412.1" y2="165.7" stroke="#000" stroke-width="0.9" stroke-linecap="butt"/>
<text x="409.1" y="168.2" font-size="7.0" text-anchor="end" font-weight="normal" stroke="#000" stroke-width="0.4">0.05</text>
<line x1="412.1" y1="238.3" x2="412.1" y2="240.3" stroke="#000" stroke-width="0.9" stroke-linecap="butt"/>
<text x="412.1" y="247" font-size="7.0" text-anchor="middle" font-weight="normal" stroke="#000" stroke-width="0.4">0</text>
<line x1="464.3" y1="238.3" x2="464.3" y2="240.3" stroke="#000" stroke-width="0.9" stroke-linecap="butt"/>
<text x="464.3" y="247" font-size="7.0" text-anchor="middle" font-weight="normal" stroke="#000" stroke-width="0.4">24</text>
<line x1="516.8" y1="238.3" x2="516.8" y2="240.3" stroke="#000" stroke-width="0.9" stroke-linecap="butt"/>
<text x="516.8" y="247" font-size="7.0" text-anchor="middle" font-weight="normal" stroke="#000" stroke-width="0.4">48</text>
<text x="465.45" y="255.6" font-size="7.3" text-anchor="middle" font-weight="normal" stroke="#000" stroke-width="0.4">Time (hours)</text>
<text x="383.7" y="200.8" font-size="7.3" text-anchor="middle" font-weight="normal" stroke="#000" stroke-width="0.4" transform="rotate(-90 383.7 200.8)">Frequency (%)</text>
<polyline points="412.1,238.30 464.3,220.44 516.8,200.84" fill="none" stroke="#000" stroke-width="1.1"/>
<line x1="464.3" y1="231.04000000000002" x2="464.3" y2="212.7448" stroke="#000" stroke-width="0.95" stroke-linecap="butt"/>
<line x1="461.5" y1="231.04000000000002" x2="467.1" y2="231.04000000000002" stroke="#000" stroke-width="0.95" stroke-linecap="butt"/>
<line x1="461.5" y1="212.7448" x2="467.1" y2="212.7448" stroke="#000" stroke-width="0.95" stroke-linecap="butt"/>
<line x1="516.8" y1="205.9204" x2="516.8" y2="195.7564" stroke="#000" stroke-width="0.95" stroke-linecap="butt"/>
<line x1="514.0" y1="205.9204" x2="519.5999999999999" y2="205.9204" stroke="#000" stroke-width="0.95" stroke-linecap="butt"/>
<line x1="514.0" y1="195.7564" x2="519.5999999999999" y2="195.7564" stroke="#000" stroke-width="0.95" stroke-linecap="butt"/>
<polyline points="412.1,238.30 464.3,224.94 516.8,198.95" fill="none" stroke="#000" stroke-width="1.1"/>
<line x1="464.3" y1="231.3304" x2="464.3" y2="220.15" stroke="#000" stroke-width="0.95" stroke-linecap="butt"/>
<line x1="461.5" y1="231.3304" x2="467.1" y2="231.3304" stroke="#000" stroke-width="0.95" stroke-linecap="butt"/>
<line x1="461.5" y1="220.15" x2="467.1" y2="220.15" stroke="#000" stroke-width="0.95" stroke-linecap="butt"/>
<line x1="516.8" y1="223.78" x2="516.8" y2="174.7024" stroke="#000" stroke-width="0.95" stroke-linecap="butt"/>
<line x1="514.0" y1="223.78" x2="519.5999999999999" y2="223.78" stroke="#000" stroke-width="0.95" stroke-linecap="butt"/>
<line x1="514.0" y1="174.7024" x2="519.5999999999999" y2="174.7024" stroke="#000" stroke-width="0.95" stroke-linecap="butt"/>
<circle cx="464.30" cy="220.44" r="2.8" fill="#000" stroke="#000" stroke-width="0.5"/>
<circle cx="516.80" cy="200.84" r="2.8" fill="#000" stroke="#000" stroke-width="0.5"/>
<circle cx="412.10" cy="238.30" r="2.2" fill="#fff" stroke="#000" stroke-width="1.1"/>
<circle cx="464.30" cy="224.94" r="2.9" fill="#fff" stroke="#000" stroke-width="1.0"/>
<circle cx="516.80" cy="198.95" r="2.9" fill="#fff" stroke="#000" stroke-width="1.0"/>
<line x1="416.0" y1="172" x2="425.0" y2="172" stroke="#000" stroke-width="1.1" stroke-linecap="butt"/>
<circle cx="420.50" cy="172.00" r="2.55" fill="#000" stroke="#000" stroke-width="0.5"/>
<text x="427.2" y="174.4" font-size="7.1" text-anchor="start" font-weight="normal" stroke="#000" stroke-width="0.4">WT</text>
<line x1="416.0" y1="180.6" x2="425.0" y2="180.6" stroke="#000" stroke-width="1.1" stroke-linecap="butt"/>
<circle cx="420.50" cy="180.60" r="2.65" fill="#fff" stroke="#000" stroke-width="1.0"/>
<text x="427.2" y="183.0" font-size="7.1" text-anchor="start" font-weight="normal" stroke="#000" stroke-width="0.4">CCR7<tspan letter-spacing="0.45">-/-</tspan></text>
<text x="226.2" y="279.7" font-size="14.8" text-anchor="start" font-weight="normal" stroke="#000" stroke-width="0.5">F</text>
<text x="312.3" y="278.6" font-size="7.2" text-anchor="middle" font-weight="normal" stroke="#000" stroke-width="0.4">SI LP CD103<tspan dy="-2.2" font-size="4.2">+</tspan><tspan dy="2.2" font-size="4.2">&#8203;</tspan> BrdU<tspan dy="-2.2" font-size="4.2">+</tspan><tspan dy="2.2" font-size="4.2">&#8203;</tspan> DCs</text>
<line x1="257.5" y1="284.3" x2="257.5" y2="359.09999999999997" stroke="#000" stroke-width="0.9" stroke-linecap="butt"/>
<line x1="257.1" y1="358.7" x2="363.2" y2="358.7" stroke="#000" stroke-width="0.9" stroke-linecap="butt"/>
<line x1="255.5" y1="358.7" x2="257.5" y2="358.7" stroke="#000" stroke-width="0.9" stroke-linecap="butt"/>
<text x="254.5" y="361.2" font-size="7.0" text-anchor="end" font-weight="normal" stroke="#000" stroke-width="0.4">0.0</text>
<line x1="255.5" y1="334.0333333333333" x2="257.5" y2="334.0333333333333" stroke="#000" stroke-width="0.9" stroke-linecap="butt"/>
<text x="254.5" y="336.5333333333333" font-size="7.0" text-anchor="end" font-weight="normal" stroke="#000" stroke-width="0.4">0.1</text>
<line x1="255.5" y1="309.3666666666667" x2="257.5" y2="309.3666666666667" stroke="#000" stroke-width="0.9" stroke-linecap="butt"/>
<text x="254.5" y="311.8666666666667" font-size="7.0" text-anchor="end" font-weight="normal" stroke="#000" stroke-width="0.4">0.2</text>
<line x1="255.5" y1="284.7" x2="257.5" y2="284.7" stroke="#000" stroke-width="0.9" stroke-linecap="butt"/>
<text x="254.5" y="287.2" font-size="7.0" text-anchor="end" font-weight="normal" stroke="#000" stroke-width="0.4">0.3</text>
<line x1="257.5" y1="358.7" x2="257.5" y2="360.7" stroke="#000" stroke-width="0.9" stroke-linecap="butt"/>
<text x="257.5" y="367.8" font-size="7.0" text-anchor="middle" font-weight="normal" stroke="#000" stroke-width="0.4">0</text>
<line x1="310.9" y1="358.7" x2="310.9" y2="360.7" stroke="#000" stroke-width="0.9" stroke-linecap="butt"/>
<text x="310.9" y="367.8" font-size="7.0" text-anchor="middle" font-weight="normal" stroke="#000" stroke-width="0.4">24</text>
<line x1="362.8" y1="358.7" x2="362.8" y2="360.7" stroke="#000" stroke-width="0.9" stroke-linecap="butt"/>
<text x="362.8" y="367.8" font-size="7.0" text-anchor="middle" font-weight="normal" stroke="#000" stroke-width="0.4">48</text>
<text x="311.15" y="375" font-size="7.3" text-anchor="middle" font-weight="normal" stroke="#000" stroke-width="0.4">Time (hours)</text>
<text x="237.6" y="321.7" font-size="7.3" text-anchor="middle" font-weight="normal" stroke="#000" stroke-width="0.4" transform="rotate(-90 237.6 321.7)">Frequency (%)</text>
<polyline points="257.5,358.70 310.9,317.53 362.8,322.56" fill="none" stroke="#000" stroke-width="1.1"/>
<line x1="310.9" y1="317.53133333333335" x2="310.9" y2="299.1546666666666" stroke="#000" stroke-width="0.95" stroke-linecap="butt"/>
<line x1="308.09999999999997" y1="317.53133333333335" x2="313.7" y2="317.53133333333335" stroke="#000" stroke-width="0.95" stroke-linecap="butt"/>
<line x1="308.09999999999997" y1="299.1546666666666" x2="313.7" y2="299.1546666666666" stroke="#000" stroke-width="0.95" stroke-linecap="butt"/>
<line x1="362.8" y1="322.56333333333333" x2="362.8" y2="311.0933333333333" stroke="#000" stroke-width="0.95" stroke-linecap="butt"/>
<line x1="360.0" y1="322.56333333333333" x2="365.6" y2="322.56333333333333" stroke="#000" stroke-width="0.95" stroke-linecap="butt"/>
<line x1="360.0" y1="311.0933333333333" x2="365.6" y2="311.0933333333333" stroke="#000" stroke-width="0.95" stroke-linecap="butt"/>
<polyline points="257.5,358.70 310.9,329.59 362.8,335.09" fill="none" stroke="#000" stroke-width="1.1"/>
<line x1="310.9" y1="336.5" x2="310.9" y2="329.5933333333333" stroke="#000" stroke-width="0.95" stroke-linecap="butt"/>
<line x1="308.09999999999997" y1="336.5" x2="313.7" y2="336.5" stroke="#000" stroke-width="0.95" stroke-linecap="butt"/>
<line x1="308.09999999999997" y1="329.5933333333333" x2="313.7" y2="329.5933333333333" stroke="#000" stroke-width="0.95" stroke-linecap="butt"/>
<line x1="362.8" y1="339.534" x2="362.8" y2="330.48133333333334" stroke="#000" stroke-width="0.95" stroke-linecap="butt"/>
<line x1="360.0" y1="339.534" x2="365.6" y2="339.534" stroke="#000" stroke-width="0.95" stroke-linecap="butt"/>
<line x1="360.0" y1="330.48133333333334" x2="365.6" y2="330.48133333333334" stroke="#000" stroke-width="0.95" stroke-linecap="butt"/>
<circle cx="310.90" cy="317.53" r="3.05" fill="#000" stroke="#000" stroke-width="0.5"/>
<circle cx="362.80" cy="322.56" r="3.05" fill="#000" stroke="#000" stroke-width="0.5"/>
<circle cx="257.50" cy="358.70" r="2.6" fill="#fff" stroke="#000" stroke-width="1.4"/>
<circle cx="310.90" cy="329.59" r="3.05" fill="#fff" stroke="#000" stroke-width="1.0"/>
<circle cx="362.80" cy="335.09" r="3.05" fill="#fff" stroke="#000" stroke-width="1.0"/>
<line x1="260.6" y1="290.1" x2="269.6" y2="290.1" stroke="#000" stroke-width="1.1" stroke-linecap="butt"/>
<circle cx="265.10" cy="290.10" r="2.55" fill="#000" stroke="#000" stroke-width="0.5"/>
<text x="272.8" y="292.5" font-size="7.1" text-anchor="start" font-weight="normal" stroke="#000" stroke-width="0.4">WT</text>
<line x1="260.6" y1="299.4" x2="269.6" y2="299.4" stroke="#000" stroke-width="1.1" stroke-linecap="butt"/>
<circle cx="265.10" cy="299.40" r="2.65" fill="#fff" stroke="#000" stroke-width="1.0"/>
<text x="272.8" y="301.79999999999995" font-size="7.1" text-anchor="start" font-weight="normal" stroke="#000" stroke-width="0.4">CCR7<tspan letter-spacing="0.45">-/-</tspan></text>
<text x="1.5" y="396.2" font-size="14.8" text-anchor="start" font-weight="normal" stroke="#000" stroke-width="0.5">G</text>
<text x="87.4" y="396.6" font-size="7.2" text-anchor="middle" font-weight="normal" stroke="#000" stroke-width="0.4">MLN</text>
<text x="90.2" y="406.7" font-size="7.2" text-anchor="middle" font-weight="normal" stroke="#000" stroke-width="0.4">MHC II low BrdU<tspan dy="-2.2" font-size="4.2">+</tspan><tspan dy="2.2" font-size="4.2">&#8203;</tspan> DCs</text>
<line x1="35.9" y1="412.0" x2="35.9" y2="485.09999999999997" stroke="#000" stroke-width="0.9" stroke-linecap="butt"/>
<line x1="35.5" y1="484.7" x2="141.3" y2="484.7" stroke="#000" stroke-width="0.9" stroke-linecap="butt"/>
<line x1="33.9" y1="484.7" x2="35.9" y2="484.7" stroke="#000" stroke-width="0.9" stroke-linecap="butt"/>
<text x="32.9" y="487.2" font-size="7.0" text-anchor="end" font-weight="normal" stroke="#000" stroke-width="0.4">0.00</text>
<line x1="33.9" y1="460.59999999999997" x2="35.9" y2="460.59999999999997" stroke="#000" stroke-width="0.9" stroke-linecap="butt"/>
<text x="32.9" y="463.09999999999997" font-size="7.0" text-anchor="end" font-weight="normal" stroke="#000" stroke-width="0.4">0.04</text>
<line x1="33.9" y1="436.5" x2="35.9" y2="436.5" stroke="#000" stroke-width="0.9" stroke-linecap="butt"/>
<text x="32.9" y="439.0" font-size="7.0" text-anchor="end" font-weight="normal" stroke="#000" stroke-width="0.4">0.08</text>
<line x1="33.9" y1="412.4" x2="35.9" y2="412.4" stroke="#000" stroke-width="0.9" stroke-linecap="butt"/>
<text x="32.9" y="414.9" font-size="7.0" text-anchor="end" font-weight="normal" stroke="#000" stroke-width="0.4">0.12</text>
<line x1="35.9" y1="484.7" x2="35.9" y2="486.7" stroke="#000" stroke-width="0.9" stroke-linecap="butt"/>
<text x="35.9" y="493.9" font-size="7.0" text-anchor="middle" font-weight="normal" stroke="#000" stroke-width="0.4">0</text>
<line x1="88.4" y1="484.7" x2="88.4" y2="486.7" stroke="#000" stroke-width="0.9" stroke-linecap="butt"/>
<text x="88.4" y="493.9" font-size="7.0" text-anchor="middle" font-weight="normal" stroke="#000" stroke-width="0.4">24</text>
<line x1="140.9" y1="484.7" x2="140.9" y2="486.7" stroke="#000" stroke-width="0.9" stroke-linecap="butt"/>
<text x="140.9" y="493.9" font-size="7.0" text-anchor="middle" font-weight="normal" stroke="#000" stroke-width="0.4">48</text>
<text x="89.4" y="501.8" font-size="7.3" text-anchor="middle" font-weight="normal" stroke="#000" stroke-width="0.4">Time (hours)</text>
<text x="12.9" y="447.15" font-size="7.3" text-anchor="middle" font-weight="normal" stroke="#000" stroke-width="0.4" transform="rotate(-90 12.9 447.15)">Frequency (%)</text>
<polyline points="35.9,484.70 88.4,453.97 140.9,449.75" fill="none" stroke="#000" stroke-width="1.1"/>
<line x1="88.4" y1="462.40749999999997" x2="88.4" y2="448.55" stroke="#000" stroke-width="0.95" stroke-linecap="butt"/>
<line x1="85.60000000000001" y1="462.40749999999997" x2="91.2" y2="462.40749999999997" stroke="#000" stroke-width="0.95" stroke-linecap="butt"/>
<line x1="85.60000000000001" y1="448.55" x2="91.2" y2="448.55" stroke="#000" stroke-width="0.95" stroke-linecap="butt"/>
<line x1="140.9" y1="459.395" x2="140.9" y2="440.7175" stroke="#000" stroke-width="0.95" stroke-linecap="butt"/>
<line x1="138.1" y1="459.395" x2="143.70000000000002" y2="459.395" stroke="#000" stroke-width="0.95" stroke-linecap="butt"/>
<line x1="138.1" y1="440.7175" x2="143.70000000000002" y2="440.7175" stroke="#000" stroke-width="0.95" stroke-linecap="butt"/>
<polyline points="35.9,484.70 88.4,455.18 140.9,447.04" fill="none" stroke="#000" stroke-width="1.1"/>
<line x1="88.4" y1="470.8425" x2="88.4" y2="439.5125" stroke="#000" stroke-width="0.95" stroke-linecap="butt"/>
<line x1="85.60000000000001" y1="470.8425" x2="91.2" y2="470.8425" stroke="#000" stroke-width="0.95" stroke-linecap="butt"/>
<line x1="85.60000000000001" y1="439.5125" x2="91.2" y2="439.5125" stroke="#000" stroke-width="0.95" stroke-linecap="butt"/>
<line x1="140.9" y1="471.3245" x2="140.9" y2="422.82325" stroke="#000" stroke-width="0.95" stroke-linecap="butt"/>
<line x1="138.1" y1="471.3245" x2="143.70000000000002" y2="471.3245" stroke="#000" stroke-width="0.95" stroke-linecap="butt"/>
<line x1="138.1" y1="422.82325" x2="143.70000000000002" y2="422.82325" stroke="#000" stroke-width="0.95" stroke-linecap="butt"/>
<circle cx="88.40" cy="453.97" r="2.8" fill="#000" stroke="#000" stroke-width="0.5"/>
<circle cx="140.90" cy="449.75" r="2.8" fill="#000" stroke="#000" stroke-width="0.5"/>
<circle cx="35.90" cy="484.70" r="2.2" fill="#fff" stroke="#000" stroke-width="1.1"/>
<circle cx="88.40" cy="455.18" r="2.95" fill="#fff" stroke="#000" stroke-width="1.0"/>
<circle cx="140.90" cy="447.04" r="2.95" fill="#fff" stroke="#000" stroke-width="1.0"/>
<line x1="39.5" y1="418" x2="48.5" y2="418" stroke="#000" stroke-width="1.1" stroke-linecap="butt"/>
<circle cx="44.00" cy="418.00" r="2.55" fill="#000" stroke="#000" stroke-width="0.5"/>
<text x="50.7" y="420.4" font-size="7.1" text-anchor="start" font-weight="normal" stroke="#000" stroke-width="0.4">WT</text>
<line x1="39.5" y1="427.7" x2="48.5" y2="427.7" stroke="#000" stroke-width="1.1" stroke-linecap="butt"/>
<circle cx="44.00" cy="427.70" r="2.65" fill="#fff" stroke="#000" stroke-width="1.0"/>
<text x="50.7" y="430.09999999999997" font-size="7.1" text-anchor="start" font-weight="normal" stroke="#000" stroke-width="0.4">CCR7<tspan letter-spacing="0.45">-/-</tspan></text>
</svg></body></html>
